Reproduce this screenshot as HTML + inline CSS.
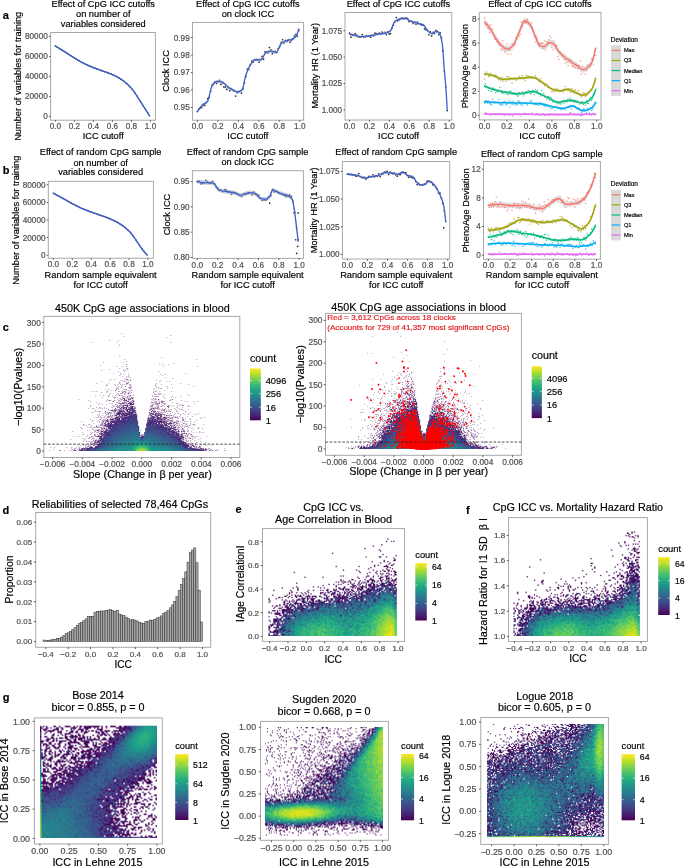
<!DOCTYPE html>
<html><head><meta charset="utf-8"><style>
html,body{margin:0;padding:0;background:#fff;}
body{width:685px;height:867px;overflow:hidden;position:relative;}
canvas{position:absolute;left:0;top:0;}
svg{position:absolute;left:0;top:0;font-family:"Liberation Sans", sans-serif;}
text{stroke:currentColor;stroke-width:0.18px;}
</style></head><body>
<canvas id="cv" width="685" height="867"></canvas>
<svg width="685" height="867" viewBox="0 0 685 867">
<rect x="50.60" y="32.50" width="104.80" height="87.70" fill="none" stroke="#a8a8a8" stroke-width="1"/>
<line x1="55.40" y1="120.20" x2="55.40" y2="121.80" stroke="#333" stroke-width="0.8"/>
<text x="55.40" y="129.41" font-size="8.2" text-anchor="middle" fill="#4d4d4d" color="#4d4d4d">0.0</text>
<line x1="74.42" y1="120.20" x2="74.42" y2="121.80" stroke="#333" stroke-width="0.8"/>
<text x="74.42" y="129.41" font-size="8.2" text-anchor="middle" fill="#4d4d4d" color="#4d4d4d">0.2</text>
<line x1="93.44" y1="120.20" x2="93.44" y2="121.80" stroke="#333" stroke-width="0.8"/>
<text x="93.44" y="129.41" font-size="8.2" text-anchor="middle" fill="#4d4d4d" color="#4d4d4d">0.4</text>
<line x1="112.46" y1="120.20" x2="112.46" y2="121.80" stroke="#333" stroke-width="0.8"/>
<text x="112.46" y="129.41" font-size="8.2" text-anchor="middle" fill="#4d4d4d" color="#4d4d4d">0.6</text>
<line x1="131.48" y1="120.20" x2="131.48" y2="121.80" stroke="#333" stroke-width="0.8"/>
<text x="131.48" y="129.41" font-size="8.2" text-anchor="middle" fill="#4d4d4d" color="#4d4d4d">0.8</text>
<line x1="150.50" y1="120.20" x2="150.50" y2="121.80" stroke="#333" stroke-width="0.8"/>
<text x="150.50" y="129.41" font-size="8.2" text-anchor="middle" fill="#4d4d4d" color="#4d4d4d">1.0</text>
<line x1="49.00" y1="116.40" x2="50.60" y2="116.40" stroke="#333" stroke-width="0.8"/>
<text x="47.80" y="119.31" font-size="8.2" text-anchor="end" fill="#4d4d4d" color="#4d4d4d">0</text>
<line x1="49.00" y1="96.40" x2="50.60" y2="96.40" stroke="#333" stroke-width="0.8"/>
<text x="47.80" y="99.31" font-size="8.2" text-anchor="end" fill="#4d4d4d" color="#4d4d4d">20000</text>
<line x1="49.00" y1="76.40" x2="50.60" y2="76.40" stroke="#333" stroke-width="0.8"/>
<text x="47.80" y="79.31" font-size="8.2" text-anchor="end" fill="#4d4d4d" color="#4d4d4d">40000</text>
<line x1="49.00" y1="56.40" x2="50.60" y2="56.40" stroke="#333" stroke-width="0.8"/>
<text x="47.80" y="59.31" font-size="8.2" text-anchor="end" fill="#4d4d4d" color="#4d4d4d">60000</text>
<line x1="49.00" y1="36.40" x2="50.60" y2="36.40" stroke="#333" stroke-width="0.8"/>
<text x="47.80" y="39.31" font-size="8.2" text-anchor="end" fill="#4d4d4d" color="#4d4d4d">80000</text>
<g fill="#111" fill-opacity="0.9"><circle cx="55.40" cy="46.10" r="0.8"/><circle cx="57.00" cy="47.05" r="0.8"/><circle cx="58.59" cy="48.01" r="0.8"/><circle cx="60.19" cy="48.98" r="0.8"/><circle cx="61.78" cy="49.96" r="0.8"/><circle cx="63.38" cy="50.95" r="0.8"/><circle cx="64.97" cy="51.94" r="0.8"/><circle cx="66.57" cy="52.96" r="0.8"/><circle cx="68.17" cy="53.99" r="0.8"/><circle cx="69.76" cy="55.04" r="0.8"/><circle cx="71.36" cy="56.08" r="0.8"/><circle cx="72.95" cy="57.10" r="0.8"/><circle cx="74.55" cy="58.08" r="0.8"/><circle cx="76.14" cy="59.04" r="0.8"/><circle cx="77.74" cy="59.99" r="0.8"/><circle cx="79.34" cy="60.92" r="0.8"/><circle cx="80.93" cy="61.82" r="0.8"/><circle cx="82.53" cy="62.68" r="0.8"/><circle cx="84.12" cy="63.50" r="0.8"/><circle cx="85.72" cy="64.27" r="0.8"/><circle cx="87.31" cy="65.00" r="0.8"/><circle cx="88.91" cy="65.71" r="0.8"/><circle cx="90.51" cy="66.40" r="0.8"/><circle cx="92.10" cy="67.06" r="0.8"/><circle cx="93.70" cy="67.70" r="0.8"/><circle cx="95.29" cy="68.32" r="0.8"/><circle cx="96.89" cy="68.92" r="0.8"/><circle cx="98.49" cy="69.49" r="0.8"/><circle cx="100.08" cy="70.06" r="0.8"/><circle cx="101.68" cy="70.64" r="0.8"/><circle cx="103.27" cy="71.22" r="0.8"/><circle cx="104.87" cy="71.78" r="0.8"/><circle cx="106.46" cy="72.33" r="0.8"/><circle cx="108.06" cy="72.88" r="0.8"/><circle cx="109.66" cy="73.46" r="0.8"/><circle cx="111.25" cy="74.09" r="0.8"/><circle cx="112.85" cy="74.77" r="0.8"/><circle cx="114.44" cy="75.52" r="0.8"/><circle cx="116.04" cy="76.33" r="0.8"/><circle cx="117.63" cy="77.20" r="0.8"/><circle cx="119.23" cy="78.13" r="0.8"/><circle cx="120.83" cy="79.13" r="0.8"/><circle cx="122.42" cy="80.21" r="0.8"/><circle cx="124.02" cy="81.39" r="0.8"/><circle cx="125.61" cy="82.69" r="0.8"/><circle cx="127.21" cy="84.09" r="0.8"/><circle cx="128.80" cy="85.60" r="0.8"/><circle cx="130.40" cy="87.23" r="0.8"/><circle cx="132.00" cy="88.99" r="0.8"/><circle cx="133.59" cy="91.07" r="0.8"/><circle cx="135.19" cy="93.36" r="0.8"/><circle cx="136.78" cy="95.72" r="0.8"/><circle cx="138.38" cy="98.21" r="0.8"/><circle cx="139.97" cy="100.78" r="0.8"/><circle cx="141.57" cy="103.32" r="0.8"/><circle cx="143.17" cy="105.85" r="0.8"/><circle cx="144.76" cy="108.37" r="0.8"/><circle cx="146.36" cy="110.85" r="0.8"/><circle cx="147.95" cy="113.29" r="0.8"/><circle cx="149.55" cy="115.70" r="0.8"/></g>
<polyline points="55.40,46.10 56.19,46.57 56.98,47.04 57.77,47.52 58.56,48.00 59.36,48.48 60.15,48.96 60.94,49.44 61.73,49.93 62.52,50.42 63.31,50.90 64.10,51.40 64.89,51.89 65.69,52.39 66.48,52.90 67.27,53.41 68.06,53.92 68.85,54.44 69.64,54.96 70.43,55.48 71.22,55.99 72.01,56.50 72.81,57.00 73.60,57.50 74.39,57.98 75.18,58.46 75.97,58.93 76.76,59.41 77.55,59.88 78.34,60.34 79.14,60.80 79.93,61.26 80.72,61.70 81.51,62.14 82.30,62.56 83.09,62.98 83.88,63.38 84.67,63.77 85.46,64.15 86.26,64.52 87.05,64.88 87.84,65.24 88.63,65.59 89.42,65.93 90.21,66.27 91.00,66.60 91.79,66.93 92.58,67.25 93.38,67.57 94.17,67.89 94.96,68.19 95.75,68.49 96.54,68.79 97.33,69.08 98.12,69.36 98.91,69.65 99.71,69.93 100.50,70.21 101.29,70.50 102.08,70.78 102.87,71.07 103.66,71.36 104.45,71.64 105.24,71.91 106.03,72.18 106.83,72.46 107.62,72.73 108.41,73.01 109.20,73.29 109.99,73.59 110.78,73.90 111.57,74.22 112.36,74.56 113.16,74.91 113.95,75.28 114.74,75.67 115.53,76.06 116.32,76.48 117.11,76.90 117.90,77.35 118.69,77.81 119.48,78.28 120.28,78.78 121.07,79.29 121.86,79.82 122.65,80.38 123.44,80.96 124.23,81.56 125.02,82.20 125.81,82.86 126.61,83.54 127.40,84.26 128.19,85.00 128.98,85.77 129.77,86.57 130.56,87.40 131.35,88.26 132.14,89.17 132.93,90.18 133.73,91.25 134.52,92.38 135.31,93.54 136.10,94.70 136.89,95.88 137.68,97.10 138.47,98.36 139.26,99.63 140.05,100.91 140.85,102.17 141.64,103.42 142.43,104.68 143.22,105.93 144.01,107.18 144.80,108.43 145.59,109.66 146.38,110.89 147.18,112.10 147.97,113.31 148.76,114.51 149.55,115.70" fill="none" stroke="#3d5fd0" stroke-width="1.4" stroke-linejoin="round" stroke-linecap="round"/>
<text x="103.25" y="6.60" font-size="9.25" text-anchor="middle" fill="#000" color="#000">Effect of CpG ICC cutoffs</text>
<text x="103.25" y="16.80" font-size="9.25" text-anchor="middle" fill="#000" color="#000">on number of</text>
<text x="103.25" y="26.60" font-size="9.25" text-anchor="middle" fill="#000" color="#000">variables considered</text>
<text x="103.25" y="139.20" font-size="9.25" text-anchor="middle" fill="#000" color="#000">ICC cutoff</text>
<text x="21.50" y="76.30" font-size="9.25" text-anchor="middle" fill="#000" color="#000" transform="rotate(-90 21.50 76.30)">Number of variables for training</text>
<rect x="192.50" y="22.40" width="111.10" height="97.80" fill="none" stroke="#a8a8a8" stroke-width="1"/>
<line x1="197.40" y1="120.20" x2="197.40" y2="121.80" stroke="#333" stroke-width="0.8"/>
<text x="197.40" y="129.41" font-size="8.2" text-anchor="middle" fill="#4d4d4d" color="#4d4d4d">0.0</text>
<line x1="217.88" y1="120.20" x2="217.88" y2="121.80" stroke="#333" stroke-width="0.8"/>
<text x="217.88" y="129.41" font-size="8.2" text-anchor="middle" fill="#4d4d4d" color="#4d4d4d">0.2</text>
<line x1="238.36" y1="120.20" x2="238.36" y2="121.80" stroke="#333" stroke-width="0.8"/>
<text x="238.36" y="129.41" font-size="8.2" text-anchor="middle" fill="#4d4d4d" color="#4d4d4d">0.4</text>
<line x1="258.84" y1="120.20" x2="258.84" y2="121.80" stroke="#333" stroke-width="0.8"/>
<text x="258.84" y="129.41" font-size="8.2" text-anchor="middle" fill="#4d4d4d" color="#4d4d4d">0.6</text>
<line x1="279.32" y1="120.20" x2="279.32" y2="121.80" stroke="#333" stroke-width="0.8"/>
<text x="279.32" y="129.41" font-size="8.2" text-anchor="middle" fill="#4d4d4d" color="#4d4d4d">0.8</text>
<line x1="299.80" y1="120.20" x2="299.80" y2="121.80" stroke="#333" stroke-width="0.8"/>
<text x="299.80" y="129.41" font-size="8.2" text-anchor="middle" fill="#4d4d4d" color="#4d4d4d">1.0</text>
<line x1="190.90" y1="107.50" x2="192.50" y2="107.50" stroke="#333" stroke-width="0.8"/>
<text x="189.70" y="110.41" font-size="8.2" text-anchor="end" fill="#4d4d4d" color="#4d4d4d">0.95</text>
<line x1="190.90" y1="90.03" x2="192.50" y2="90.03" stroke="#333" stroke-width="0.8"/>
<text x="189.70" y="92.94" font-size="8.2" text-anchor="end" fill="#4d4d4d" color="#4d4d4d">0.96</text>
<line x1="190.90" y1="72.55" x2="192.50" y2="72.55" stroke="#333" stroke-width="0.8"/>
<text x="189.70" y="75.46" font-size="8.2" text-anchor="end" fill="#4d4d4d" color="#4d4d4d">0.97</text>
<line x1="190.90" y1="55.07" x2="192.50" y2="55.07" stroke="#333" stroke-width="0.8"/>
<text x="189.70" y="57.99" font-size="8.2" text-anchor="end" fill="#4d4d4d" color="#4d4d4d">0.98</text>
<line x1="190.90" y1="37.60" x2="192.50" y2="37.60" stroke="#333" stroke-width="0.8"/>
<text x="189.70" y="40.51" font-size="8.2" text-anchor="end" fill="#4d4d4d" color="#4d4d4d">0.99</text>
<g fill="#111" fill-opacity="0.9"><circle cx="197.40" cy="111.52" r="0.85"/><circle cx="198.87" cy="108.80" r="0.85"/><circle cx="200.34" cy="107.97" r="0.85"/><circle cx="201.81" cy="107.47" r="0.85"/><circle cx="203.28" cy="105.30" r="0.85"/><circle cx="204.75" cy="105.44" r="0.85"/><circle cx="206.22" cy="102.49" r="0.85"/><circle cx="207.68" cy="98.57" r="0.85"/><circle cx="209.15" cy="97.48" r="0.85"/><circle cx="210.62" cy="91.21" r="0.85"/><circle cx="212.09" cy="85.19" r="0.85"/><circle cx="213.56" cy="83.27" r="0.85"/><circle cx="215.03" cy="82.10" r="0.85"/><circle cx="216.50" cy="83.29" r="0.85"/><circle cx="217.97" cy="81.55" r="0.85"/><circle cx="219.44" cy="80.27" r="0.85"/><circle cx="220.91" cy="84.39" r="0.85"/><circle cx="222.38" cy="82.99" r="0.85"/><circle cx="223.85" cy="86.83" r="0.85"/><circle cx="225.32" cy="87.12" r="0.85"/><circle cx="226.78" cy="89.42" r="0.85"/><circle cx="228.25" cy="87.55" r="0.85"/><circle cx="229.72" cy="90.68" r="0.85"/><circle cx="231.19" cy="88.63" r="0.85"/><circle cx="232.66" cy="89.60" r="0.85"/><circle cx="234.13" cy="90.98" r="0.85"/><circle cx="235.60" cy="96.07" r="0.85"/><circle cx="237.07" cy="92.68" r="0.85"/><circle cx="238.54" cy="91.86" r="0.85"/><circle cx="240.01" cy="91.08" r="0.85"/><circle cx="241.48" cy="93.12" r="0.85"/><circle cx="242.95" cy="88.97" r="0.85"/><circle cx="244.41" cy="82.88" r="0.85"/><circle cx="245.88" cy="76.57" r="0.85"/><circle cx="247.35" cy="69.07" r="0.85"/><circle cx="248.82" cy="69.33" r="0.85"/><circle cx="250.29" cy="65.08" r="0.85"/><circle cx="251.76" cy="61.12" r="0.85"/><circle cx="253.23" cy="61.95" r="0.85"/><circle cx="254.70" cy="60.01" r="0.85"/><circle cx="256.17" cy="59.58" r="0.85"/><circle cx="257.64" cy="59.67" r="0.85"/><circle cx="259.11" cy="62.15" r="0.85"/><circle cx="260.58" cy="59.65" r="0.85"/><circle cx="262.05" cy="56.31" r="0.85"/><circle cx="263.51" cy="59.22" r="0.85"/><circle cx="264.98" cy="51.83" r="0.85"/><circle cx="266.45" cy="52.05" r="0.85"/><circle cx="267.92" cy="52.99" r="0.85"/><circle cx="269.39" cy="47.55" r="0.85"/><circle cx="270.86" cy="49.77" r="0.85"/><circle cx="272.33" cy="53.71" r="0.85"/><circle cx="273.80" cy="51.74" r="0.85"/><circle cx="275.27" cy="51.23" r="0.85"/><circle cx="276.74" cy="52.62" r="0.85"/><circle cx="278.21" cy="48.54" r="0.85"/><circle cx="279.68" cy="46.42" r="0.85"/><circle cx="281.15" cy="42.30" r="0.85"/><circle cx="282.61" cy="39.73" r="0.85"/><circle cx="284.08" cy="43.00" r="0.85"/><circle cx="285.55" cy="40.70" r="0.85"/><circle cx="287.02" cy="41.46" r="0.85"/><circle cx="288.49" cy="39.95" r="0.85"/><circle cx="289.96" cy="42.14" r="0.85"/><circle cx="291.43" cy="40.53" r="0.85"/><circle cx="292.90" cy="39.17" r="0.85"/><circle cx="294.37" cy="36.18" r="0.85"/><circle cx="295.84" cy="34.37" r="0.85"/><circle cx="297.31" cy="36.05" r="0.85"/><circle cx="298.78" cy="30.39" r="0.85"/></g>
<polygon points="197.40,109.95 198.25,108.68 199.10,107.48 199.96,106.35 200.81,105.30 201.66,104.35 202.51,103.49 203.36,102.80 204.22,102.26 205.07,101.78 205.92,101.25 206.77,100.58 207.62,99.66 208.47,97.62 209.33,94.21 210.18,90.33 211.03,86.93 211.88,84.90 212.73,83.56 213.59,82.35 214.44,81.32 215.29,80.52 216.14,80.03 216.99,79.89 217.85,79.91 218.70,79.96 219.55,80.05 220.40,80.15 221.25,80.29 222.11,80.44 222.96,80.86 223.81,81.56 224.66,82.41 225.51,83.25 226.36,83.97 227.22,84.66 228.07,85.37 228.92,86.06 229.77,86.71 230.62,87.27 231.48,87.72 232.33,88.16 233.18,88.59 234.03,89.01 234.88,89.38 235.74,89.71 236.59,89.96 237.44,90.13 238.29,90.20 239.14,90.09 239.99,89.73 240.85,89.16 241.70,88.39 242.55,87.45 243.40,84.69 244.25,80.29 245.11,76.01 245.96,73.23 246.81,70.91 247.66,68.79 248.51,66.86 249.37,65.12 250.22,63.57 251.07,62.21 251.92,61.03 252.77,59.84 253.63,58.82 254.48,58.26 255.33,58.22 256.18,58.22 257.03,58.22 257.88,58.22 258.74,58.22 259.59,58.22 260.44,58.22 261.29,58.10 262.14,57.21 263.00,55.72 263.85,53.99 264.70,52.37 265.55,51.20 266.40,50.72 267.26,50.41 268.11,50.13 268.96,49.91 269.81,49.76 270.66,49.67 271.52,49.68 272.37,49.84 273.22,50.10 274.07,50.41 274.92,50.68 275.77,50.85 276.63,50.76 277.48,49.74 278.33,47.99 279.18,45.92 280.03,43.90 280.89,42.33 281.74,41.51 282.59,40.93 283.44,40.45 284.29,40.03 285.15,39.67 286.00,39.35 286.85,39.05 287.70,38.81 288.55,38.61 289.41,38.41 290.26,38.21 291.11,37.95 291.96,37.63 292.81,37.26 293.66,36.80 294.52,36.22 295.37,35.49 296.22,34.43 297.07,32.56 297.92,30.09 298.78,27.29 298.78,30.44 297.92,33.24 297.07,35.71 296.22,37.57 295.37,38.64 294.52,39.37 293.66,39.95 292.81,40.40 291.96,40.78 291.11,41.10 290.26,41.35 289.41,41.56 288.55,41.75 287.70,41.95 286.85,42.20 286.00,42.49 285.15,42.82 284.29,43.18 283.44,43.59 282.59,44.08 281.74,44.66 280.89,45.48 280.03,47.05 279.18,49.06 278.33,51.14 277.48,52.88 276.63,53.91 275.77,54.00 274.92,53.82 274.07,53.55 273.22,53.25 272.37,52.98 271.52,52.82 270.66,52.82 269.81,52.90 268.96,53.06 268.11,53.28 267.26,53.55 266.40,53.87 265.55,54.35 264.70,55.52 263.85,57.14 263.00,58.87 262.14,60.35 261.29,61.25 260.44,61.37 259.59,61.37 258.74,61.37 257.88,61.37 257.03,61.37 256.18,61.37 255.33,61.37 254.48,61.40 253.63,61.97 252.77,62.98 251.92,64.17 251.07,65.36 250.22,66.72 249.37,68.27 248.51,70.00 247.66,71.93 246.81,74.05 245.96,76.37 245.11,79.16 244.25,83.44 243.40,87.83 242.55,90.59 241.70,91.54 240.85,92.30 239.99,92.88 239.14,93.23 238.29,93.34 237.44,93.28 236.59,93.11 235.74,92.85 234.88,92.53 234.03,92.15 233.18,91.74 232.33,91.30 231.48,90.87 230.62,90.41 229.77,89.85 228.92,89.21 228.07,88.52 227.22,87.81 226.36,87.11 225.51,86.40 224.66,85.55 223.81,84.71 222.96,84.01 222.11,83.59 221.25,83.43 220.40,83.30 219.55,83.19 218.70,83.11 217.85,83.06 216.99,83.04 216.14,83.17 215.29,83.67 214.44,84.46 213.59,85.49 212.73,86.71 211.88,88.04 211.03,90.08 210.18,93.48 209.33,97.35 208.47,100.77 207.62,102.80 206.77,103.72 205.92,104.39 205.07,104.92 204.22,105.40 203.36,105.94 202.51,106.63 201.66,107.49 200.81,108.45 199.96,109.50 199.10,110.62 198.25,111.83 197.40,113.09" fill="#a9afc6" fill-opacity="0.55"/>
<polyline points="197.40,111.52 198.25,110.25 199.10,109.05 199.96,107.92 200.81,106.87 201.66,105.92 202.51,105.06 203.36,104.37 204.22,103.83 205.07,103.35 205.92,102.82 206.77,102.15 207.62,101.23 208.47,99.20 209.33,95.78 210.18,91.91 211.03,88.50 211.88,86.47 212.73,85.14 213.59,83.92 214.44,82.89 215.29,82.09 216.14,81.60 216.99,81.46 217.85,81.48 218.70,81.54 219.55,81.62 220.40,81.73 221.25,81.86 222.11,82.02 222.96,82.43 223.81,83.14 224.66,83.98 225.51,84.82 226.36,85.54 227.22,86.24 228.07,86.95 228.92,87.64 229.77,88.28 230.62,88.84 231.48,89.29 232.33,89.73 233.18,90.16 234.03,90.58 234.88,90.96 235.74,91.28 236.59,91.54 237.44,91.71 238.29,91.77 239.14,91.66 239.99,91.31 240.85,90.73 241.70,89.97 242.55,89.02 243.40,86.26 244.25,81.87 245.11,77.59 245.96,74.80 246.81,72.48 247.66,70.36 248.51,68.43 249.37,66.69 250.22,65.15 251.07,63.79 251.92,62.60 252.77,61.41 253.63,60.40 254.48,59.83 255.33,59.79 256.18,59.79 257.03,59.79 257.88,59.79 258.74,59.79 259.59,59.79 260.44,59.79 261.29,59.68 262.14,58.78 263.00,57.29 263.85,55.57 264.70,53.94 265.55,52.77 266.40,52.29 267.26,51.98 268.11,51.71 268.96,51.49 269.81,51.33 270.66,51.24 271.52,51.25 272.37,51.41 273.22,51.68 274.07,51.98 274.92,52.25 275.77,52.42 276.63,52.33 277.48,51.31 278.33,49.57 279.18,47.49 280.03,45.48 280.89,43.91 281.74,43.08 282.59,42.51 283.44,42.02 284.29,41.61 285.15,41.25 286.00,40.92 286.85,40.62 287.70,40.38 288.55,40.18 289.41,39.99 290.26,39.78 291.11,39.53 291.96,39.21 292.81,38.83 293.66,38.37 294.52,37.80 295.37,37.06 296.22,36.00 297.07,34.14 297.92,31.67 298.78,28.86" fill="none" stroke="#3d5fd0" stroke-width="1.3" stroke-linejoin="round" stroke-linecap="round"/>
<text x="247.85" y="6.90" font-size="9.25" text-anchor="middle" fill="#000" color="#000">Effect of CpG ICC cutoffs</text>
<text x="247.85" y="16.60" font-size="9.25" text-anchor="middle" fill="#000" color="#000">on clock ICC</text>
<text x="247.85" y="139.20" font-size="9.25" text-anchor="middle" fill="#000" color="#000">ICC cutoff</text>
<text x="169.50" y="70.90" font-size="9.25" text-anchor="middle" fill="#000" color="#000" transform="rotate(-90 169.50 70.90)">Clock ICC</text>
<rect x="345.00" y="12.50" width="106.80" height="107.50" fill="none" stroke="#a8a8a8" stroke-width="1"/>
<line x1="349.50" y1="120.00" x2="349.50" y2="121.60" stroke="#333" stroke-width="0.8"/>
<text x="349.50" y="129.21" font-size="8.2" text-anchor="middle" fill="#4d4d4d" color="#4d4d4d">0.0</text>
<line x1="369.44" y1="120.00" x2="369.44" y2="121.60" stroke="#333" stroke-width="0.8"/>
<text x="369.44" y="129.21" font-size="8.2" text-anchor="middle" fill="#4d4d4d" color="#4d4d4d">0.2</text>
<line x1="389.38" y1="120.00" x2="389.38" y2="121.60" stroke="#333" stroke-width="0.8"/>
<text x="389.38" y="129.21" font-size="8.2" text-anchor="middle" fill="#4d4d4d" color="#4d4d4d">0.4</text>
<line x1="409.32" y1="120.00" x2="409.32" y2="121.60" stroke="#333" stroke-width="0.8"/>
<text x="409.32" y="129.21" font-size="8.2" text-anchor="middle" fill="#4d4d4d" color="#4d4d4d">0.6</text>
<line x1="429.26" y1="120.00" x2="429.26" y2="121.60" stroke="#333" stroke-width="0.8"/>
<text x="429.26" y="129.21" font-size="8.2" text-anchor="middle" fill="#4d4d4d" color="#4d4d4d">0.8</text>
<line x1="449.20" y1="120.00" x2="449.20" y2="121.60" stroke="#333" stroke-width="0.8"/>
<text x="449.20" y="129.21" font-size="8.2" text-anchor="middle" fill="#4d4d4d" color="#4d4d4d">1.0</text>
<line x1="343.40" y1="110.00" x2="345.00" y2="110.00" stroke="#333" stroke-width="0.8"/>
<text x="342.20" y="112.91" font-size="8.2" text-anchor="end" fill="#4d4d4d" color="#4d4d4d">1.000</text>
<line x1="343.40" y1="83.57" x2="345.00" y2="83.57" stroke="#333" stroke-width="0.8"/>
<text x="342.20" y="86.48" font-size="8.2" text-anchor="end" fill="#4d4d4d" color="#4d4d4d">1.025</text>
<line x1="343.40" y1="57.13" x2="345.00" y2="57.13" stroke="#333" stroke-width="0.8"/>
<text x="342.20" y="60.04" font-size="8.2" text-anchor="end" fill="#4d4d4d" color="#4d4d4d">1.050</text>
<line x1="343.40" y1="30.70" x2="345.00" y2="30.70" stroke="#333" stroke-width="0.8"/>
<text x="342.20" y="33.61" font-size="8.2" text-anchor="end" fill="#4d4d4d" color="#4d4d4d">1.075</text>
<g fill="#111" fill-opacity="0.9"><circle cx="349.50" cy="33.19" r="0.85"/><circle cx="350.92" cy="37.13" r="0.85"/><circle cx="352.33" cy="35.35" r="0.85"/><circle cx="353.75" cy="35.18" r="0.85"/><circle cx="355.16" cy="33.65" r="0.85"/><circle cx="356.58" cy="34.83" r="0.85"/><circle cx="358.00" cy="36.70" r="0.85"/><circle cx="359.41" cy="37.13" r="0.85"/><circle cx="360.83" cy="37.07" r="0.85"/><circle cx="362.24" cy="34.58" r="0.85"/><circle cx="363.66" cy="37.15" r="0.85"/><circle cx="365.08" cy="36.83" r="0.85"/><circle cx="366.49" cy="35.75" r="0.85"/><circle cx="367.91" cy="36.22" r="0.85"/><circle cx="369.32" cy="36.14" r="0.85"/><circle cx="370.74" cy="37.16" r="0.85"/><circle cx="372.16" cy="35.38" r="0.85"/><circle cx="373.57" cy="35.68" r="0.85"/><circle cx="374.99" cy="33.16" r="0.85"/><circle cx="376.40" cy="33.57" r="0.85"/><circle cx="377.82" cy="34.22" r="0.85"/><circle cx="379.24" cy="33.03" r="0.85"/><circle cx="380.65" cy="34.22" r="0.85"/><circle cx="382.07" cy="32.13" r="0.85"/><circle cx="383.48" cy="33.38" r="0.85"/><circle cx="384.90" cy="32.34" r="0.85"/><circle cx="386.32" cy="34.61" r="0.85"/><circle cx="387.73" cy="31.92" r="0.85"/><circle cx="389.15" cy="34.06" r="0.85"/><circle cx="390.56" cy="33.53" r="0.85"/><circle cx="391.98" cy="28.19" r="0.85"/><circle cx="393.40" cy="25.18" r="0.85"/><circle cx="394.81" cy="21.58" r="0.85"/><circle cx="396.23" cy="17.52" r="0.85"/><circle cx="397.64" cy="20.84" r="0.85"/><circle cx="399.06" cy="20.00" r="0.85"/><circle cx="400.48" cy="18.56" r="0.85"/><circle cx="401.89" cy="17.93" r="0.85"/><circle cx="403.31" cy="18.67" r="0.85"/><circle cx="404.73" cy="18.62" r="0.85"/><circle cx="406.14" cy="17.50" r="0.85"/><circle cx="407.56" cy="18.50" r="0.85"/><circle cx="408.97" cy="21.62" r="0.85"/><circle cx="410.39" cy="21.11" r="0.85"/><circle cx="411.81" cy="21.51" r="0.85"/><circle cx="413.22" cy="23.51" r="0.85"/><circle cx="414.64" cy="22.17" r="0.85"/><circle cx="416.05" cy="24.14" r="0.85"/><circle cx="417.47" cy="22.04" r="0.85"/><circle cx="418.89" cy="23.51" r="0.85"/><circle cx="420.30" cy="23.94" r="0.85"/><circle cx="421.72" cy="25.18" r="0.85"/><circle cx="423.13" cy="24.99" r="0.85"/><circle cx="424.55" cy="28.81" r="0.85"/><circle cx="425.97" cy="29.85" r="0.85"/><circle cx="427.38" cy="30.01" r="0.85"/><circle cx="428.80" cy="34.77" r="0.85"/><circle cx="430.21" cy="31.68" r="0.85"/><circle cx="431.63" cy="35.88" r="0.85"/><circle cx="433.05" cy="32.30" r="0.85"/><circle cx="434.46" cy="33.49" r="0.85"/><circle cx="435.88" cy="30.42" r="0.85"/><circle cx="437.29" cy="31.46" r="0.85"/><circle cx="438.71" cy="34.53" r="0.85"/><circle cx="440.13" cy="32.65" r="0.85"/><circle cx="441.54" cy="37.78" r="0.85"/><circle cx="442.96" cy="50.89" r="0.85"/><circle cx="444.37" cy="71.05" r="0.85"/><circle cx="445.79" cy="87.01" r="0.85"/><circle cx="447.21" cy="110.60" r="0.85"/></g>
<polygon points="349.50,32.71 350.32,32.89 351.14,33.07 351.96,33.26 352.78,33.44 353.61,33.64 354.43,33.83 355.25,34.03 356.07,34.24 356.89,34.51 357.71,34.78 358.53,35.04 359.35,35.24 360.17,35.34 360.99,35.35 361.82,35.32 362.64,35.27 363.46,35.20 364.28,35.12 365.10,35.03 365.92,34.93 366.74,34.83 367.56,34.72 368.38,34.62 369.21,34.51 370.03,34.38 370.85,34.24 371.67,34.08 372.49,33.92 373.31,33.75 374.13,33.57 374.95,33.40 375.77,33.22 376.59,33.05 377.42,32.89 378.24,32.74 379.06,32.60 379.88,32.48 380.70,32.37 381.52,32.27 382.34,32.16 383.16,32.05 383.98,31.93 384.81,31.78 385.63,31.62 386.45,31.43 387.27,31.19 388.09,30.88 388.91,30.49 389.73,30.00 390.55,29.37 391.37,27.93 392.20,25.81 393.02,23.53 393.84,21.63 394.66,20.58 395.48,19.83 396.30,19.17 397.12,18.62 397.94,18.18 398.76,17.85 399.58,17.65 400.41,17.48 401.23,17.34 402.05,17.21 402.87,17.10 403.69,17.02 404.51,16.97 405.33,16.95 406.15,17.10 406.97,17.48 407.80,18.00 408.62,18.58 409.44,19.13 410.26,19.57 411.08,19.91 411.90,20.22 412.72,20.52 413.54,20.80 414.36,21.07 415.18,21.33 416.01,21.58 416.83,21.82 417.65,22.06 418.47,22.29 419.29,22.49 420.11,22.65 420.93,22.82 421.75,23.01 422.57,23.24 423.40,23.57 424.22,24.28 425.04,25.40 425.86,26.74 426.68,28.10 427.50,29.29 428.32,30.11 429.14,30.73 429.96,31.31 430.78,31.79 431.61,32.10 432.43,32.17 433.25,31.85 434.07,31.26 434.89,30.63 435.71,30.17 436.53,30.08 437.35,30.28 438.17,30.69 439.00,31.25 439.82,32.28 440.64,34.57 441.46,37.99 442.28,42.38 443.10,51.39 443.92,63.50 444.74,73.51 445.56,82.69 446.38,93.58 447.21,107.89 447.21,110.63 446.38,96.33 445.56,85.44 444.74,76.26 443.92,66.25 443.10,54.14 442.28,45.12 441.46,40.74 440.64,37.31 439.82,35.03 439.00,34.00 438.17,33.44 437.35,33.03 436.53,32.83 435.71,32.92 434.89,33.38 434.07,34.01 433.25,34.60 432.43,34.92 431.61,34.85 430.78,34.54 429.96,34.06 429.14,33.48 428.32,32.86 427.50,32.04 426.68,30.85 425.86,29.49 425.04,28.15 424.22,27.03 423.40,26.32 422.57,25.99 421.75,25.75 420.93,25.57 420.11,25.40 419.29,25.24 418.47,25.04 417.65,24.81 416.83,24.57 416.01,24.33 415.18,24.08 414.36,23.82 413.54,23.55 412.72,23.27 411.90,22.97 411.08,22.66 410.26,22.32 409.44,21.88 408.62,21.33 407.80,20.75 406.97,20.22 406.15,19.85 405.33,19.70 404.51,19.72 403.69,19.77 402.87,19.85 402.05,19.96 401.23,20.08 400.41,20.23 399.58,20.39 398.76,20.60 397.94,20.93 397.12,21.37 396.30,21.92 395.48,22.58 394.66,23.33 393.84,24.38 393.02,26.28 392.20,28.56 391.37,30.68 390.55,32.12 389.73,32.75 388.91,33.24 388.09,33.63 387.27,33.94 386.45,34.17 385.63,34.37 384.81,34.53 383.98,34.67 383.16,34.80 382.34,34.91 381.52,35.02 380.70,35.12 379.88,35.23 379.06,35.35 378.24,35.49 377.42,35.64 376.59,35.80 375.77,35.97 374.95,36.15 374.13,36.32 373.31,36.50 372.49,36.67 371.67,36.83 370.85,36.99 370.03,37.13 369.21,37.26 368.38,37.37 367.56,37.47 366.74,37.58 365.92,37.68 365.10,37.78 364.28,37.87 363.46,37.95 362.64,38.02 361.82,38.07 360.99,38.10 360.17,38.09 359.35,37.99 358.53,37.79 357.71,37.53 356.89,37.25 356.07,36.99 355.25,36.78 354.43,36.58 353.61,36.39 352.78,36.19 351.96,36.01 351.14,35.82 350.32,35.64 349.50,35.46" fill="#a9afc6" fill-opacity="0.55"/>
<polyline points="349.50,34.08 350.32,34.26 351.14,34.45 351.96,34.63 352.78,34.82 353.61,35.01 354.43,35.20 355.25,35.40 356.07,35.62 356.89,35.88 357.71,36.16 358.53,36.41 359.35,36.61 360.17,36.72 360.99,36.72 361.82,36.69 362.64,36.65 363.46,36.58 364.28,36.50 365.10,36.41 365.92,36.31 366.74,36.20 367.56,36.10 368.38,35.99 369.21,35.88 370.03,35.76 370.85,35.61 371.67,35.46 372.49,35.29 373.31,35.12 374.13,34.95 374.95,34.77 375.77,34.60 376.59,34.43 377.42,34.27 378.24,34.11 379.06,33.98 379.88,33.86 380.70,33.75 381.52,33.64 382.34,33.54 383.16,33.42 383.98,33.30 384.81,33.16 385.63,32.99 386.45,32.80 387.27,32.56 388.09,32.26 388.91,31.87 389.73,31.38 390.55,30.74 391.37,29.31 392.20,27.18 393.02,24.90 393.84,23.01 394.66,21.95 395.48,21.20 396.30,20.55 397.12,19.99 397.94,19.55 398.76,19.23 399.58,19.02 400.41,18.86 401.23,18.71 402.05,18.58 402.87,18.48 403.69,18.40 404.51,18.35 405.33,18.33 406.15,18.47 406.97,18.85 407.80,19.37 408.62,19.95 409.44,20.51 410.26,20.95 411.08,21.28 411.90,21.59 412.72,21.89 413.54,22.17 414.36,22.44 415.18,22.70 416.01,22.95 416.83,23.19 417.65,23.43 418.47,23.66 419.29,23.86 420.11,24.03 420.93,24.19 421.75,24.38 422.57,24.62 423.40,24.94 424.22,25.65 425.04,26.77 425.86,28.11 426.68,29.47 427.50,30.66 428.32,31.48 429.14,32.10 429.96,32.68 430.78,33.16 431.61,33.47 432.43,33.54 433.25,33.22 434.07,32.64 434.89,32.00 435.71,31.54 436.53,31.46 437.35,31.66 438.17,32.06 439.00,32.63 439.82,33.65 440.64,35.94 441.46,39.36 442.28,43.75 443.10,52.77 443.92,64.88 444.74,74.88 445.56,84.07 446.38,94.96 447.21,109.26" fill="none" stroke="#3d5fd0" stroke-width="1.3" stroke-linejoin="round" stroke-linecap="round"/>
<text x="398.40" y="6.80" font-size="9.25" text-anchor="middle" fill="#000" color="#000">Effect of CpG ICC cutoffs</text>
<text x="398.55" y="139.20" font-size="9.25" text-anchor="middle" fill="#000" color="#000">ICC cutoff</text>
<text x="318.30" y="65.90" font-size="9.25" text-anchor="middle" fill="#000" color="#000" transform="rotate(-90 318.30 65.90)">Mortality HR (1 Year)</text>
<rect x="479.30" y="12.40" width="121.70" height="107.50" fill="none" stroke="#a8a8a8" stroke-width="1"/>
<line x1="484.50" y1="119.90" x2="484.50" y2="121.50" stroke="#333" stroke-width="0.8"/>
<text x="484.50" y="129.11" font-size="8.2" text-anchor="middle" fill="#4d4d4d" color="#4d4d4d">0.0</text>
<line x1="506.96" y1="119.90" x2="506.96" y2="121.50" stroke="#333" stroke-width="0.8"/>
<text x="506.96" y="129.11" font-size="8.2" text-anchor="middle" fill="#4d4d4d" color="#4d4d4d">0.2</text>
<line x1="529.42" y1="119.90" x2="529.42" y2="121.50" stroke="#333" stroke-width="0.8"/>
<text x="529.42" y="129.11" font-size="8.2" text-anchor="middle" fill="#4d4d4d" color="#4d4d4d">0.4</text>
<line x1="551.88" y1="119.90" x2="551.88" y2="121.50" stroke="#333" stroke-width="0.8"/>
<text x="551.88" y="129.11" font-size="8.2" text-anchor="middle" fill="#4d4d4d" color="#4d4d4d">0.6</text>
<line x1="574.34" y1="119.90" x2="574.34" y2="121.50" stroke="#333" stroke-width="0.8"/>
<text x="574.34" y="129.11" font-size="8.2" text-anchor="middle" fill="#4d4d4d" color="#4d4d4d">0.8</text>
<line x1="596.80" y1="119.90" x2="596.80" y2="121.50" stroke="#333" stroke-width="0.8"/>
<text x="596.80" y="129.11" font-size="8.2" text-anchor="middle" fill="#4d4d4d" color="#4d4d4d">1.0</text>
<line x1="477.70" y1="115.40" x2="479.30" y2="115.40" stroke="#333" stroke-width="0.8"/>
<text x="476.50" y="118.31" font-size="8.2" text-anchor="end" fill="#4d4d4d" color="#4d4d4d">0</text>
<line x1="477.70" y1="91.28" x2="479.30" y2="91.28" stroke="#333" stroke-width="0.8"/>
<text x="476.50" y="94.19" font-size="8.2" text-anchor="end" fill="#4d4d4d" color="#4d4d4d">2</text>
<line x1="477.70" y1="67.15" x2="479.30" y2="67.15" stroke="#333" stroke-width="0.8"/>
<text x="476.50" y="70.06" font-size="8.2" text-anchor="end" fill="#4d4d4d" color="#4d4d4d">4</text>
<line x1="477.70" y1="43.03" x2="479.30" y2="43.03" stroke="#333" stroke-width="0.8"/>
<text x="476.50" y="45.94" font-size="8.2" text-anchor="end" fill="#4d4d4d" color="#4d4d4d">6</text>
<line x1="477.70" y1="18.90" x2="479.30" y2="18.90" stroke="#333" stroke-width="0.8"/>
<text x="476.50" y="21.81" font-size="8.2" text-anchor="end" fill="#4d4d4d" color="#4d4d4d">8</text>
<polygon points="484.50,18.90 485.52,19.86 486.54,20.93 487.56,22.10 488.58,23.37 489.60,24.71 490.62,26.15 491.64,27.84 492.66,29.69 493.68,31.58 494.70,33.41 495.72,35.05 496.74,36.55 497.76,38.03 498.78,39.44 499.80,40.71 500.82,41.82 501.84,42.73 502.86,43.64 503.88,44.50 504.90,45.23 505.92,45.73 506.94,45.92 507.96,45.79 508.98,45.43 510.00,44.87 511.02,44.16 512.04,43.35 513.06,42.40 514.08,40.79 515.10,38.66 516.12,36.25 517.14,33.78 518.16,31.51 519.18,29.17 520.20,26.49 521.22,23.73 522.24,21.20 523.26,19.17 524.28,17.94 525.30,17.72 526.32,18.07 527.34,18.72 528.36,19.58 529.38,20.55 530.40,21.91 531.42,23.91 532.44,26.31 533.46,28.89 534.48,31.40 535.50,33.72 536.52,36.39 537.54,39.06 538.56,41.22 539.58,42.33 540.60,42.77 541.62,43.13 542.64,43.38 543.66,43.50 544.68,43.36 545.70,42.65 546.72,41.63 547.74,40.58 548.76,39.79 549.78,39.53 550.80,39.66 551.82,39.97 552.84,40.41 553.86,40.94 554.88,41.81 555.90,43.45 556.92,45.46 557.94,47.35 558.96,48.73 559.98,49.85 561.00,50.88 562.02,51.83 563.04,52.71 564.06,53.55 565.08,54.36 566.10,55.15 567.12,55.94 568.14,56.70 569.16,57.44 570.18,58.15 571.20,58.84 572.22,59.52 573.24,60.18 574.26,60.84 575.28,61.49 576.30,62.14 577.32,62.83 578.34,63.63 579.36,64.45 580.38,65.22 581.40,65.86 582.42,66.29 583.44,66.42 584.46,66.28 585.48,65.90 586.50,65.32 587.52,64.54 588.54,63.60 589.56,62.51 590.58,61.29 591.60,59.86 592.62,57.31 593.64,53.76 594.66,49.56 595.68,45.08 595.68,51.35 594.66,55.83 593.64,60.03 592.62,63.58 591.60,66.13 590.58,67.57 589.56,68.78 588.54,69.87 587.52,70.81 586.50,71.59 585.48,72.17 584.46,72.55 583.44,72.70 582.42,72.56 581.40,72.14 580.38,71.50 579.36,70.72 578.34,69.90 577.32,69.10 576.30,68.41 575.28,67.76 574.26,67.11 573.24,66.45 572.22,65.79 571.20,65.11 570.18,64.42 569.16,63.71 568.14,62.98 567.12,62.21 566.10,61.42 565.08,60.63 564.06,59.82 563.04,58.98 562.02,58.10 561.00,57.15 559.98,56.12 558.96,55.00 557.94,53.63 556.92,51.73 555.90,49.73 554.88,48.08 553.86,47.22 552.84,46.68 551.82,46.24 550.80,45.93 549.78,45.80 548.76,46.06 547.74,46.85 546.72,47.90 545.70,48.92 544.68,49.63 543.66,49.77 542.64,49.65 541.62,49.40 540.60,49.04 539.58,48.60 538.56,47.49 537.54,45.33 536.52,42.66 535.50,39.99 534.48,37.67 533.46,35.16 532.44,32.59 531.42,30.18 530.40,28.18 529.38,26.82 528.36,25.85 527.34,24.99 526.32,24.34 525.30,23.99 524.28,24.21 523.26,25.44 522.24,27.47 521.22,30.01 520.20,32.76 519.18,35.45 518.16,37.78 517.14,40.05 516.12,42.52 515.10,44.94 514.08,47.07 513.06,48.67 512.04,49.63 511.02,50.43 510.00,51.14 508.98,51.70 507.96,52.06 506.94,52.19 505.92,52.00 504.90,51.50 503.88,50.78 502.86,49.92 501.84,49.01 500.82,48.09 499.80,46.99 498.78,45.71 497.76,44.31 496.74,42.83 495.72,41.32 494.70,39.68 493.68,37.86 492.66,35.96 491.64,34.11 490.62,32.42 489.60,30.98 488.58,29.64 487.56,28.37 486.54,27.20 485.52,26.13 484.50,25.17" fill="#aaa" fill-opacity="0.35"/>
<g fill="#F8766D" fill-opacity="0.85"><circle cx="484.50" cy="18.06" r="0.7"/><circle cx="485.52" cy="24.96" r="0.7"/><circle cx="486.54" cy="24.25" r="0.7"/><circle cx="487.56" cy="28.11" r="0.7"/><circle cx="488.58" cy="28.77" r="0.7"/><circle cx="489.60" cy="32.47" r="0.7"/><circle cx="490.62" cy="24.74" r="0.7"/><circle cx="491.64" cy="31.53" r="0.7"/><circle cx="492.66" cy="29.33" r="0.7"/><circle cx="493.68" cy="34.67" r="0.7"/><circle cx="494.70" cy="39.06" r="0.7"/><circle cx="495.72" cy="39.37" r="0.7"/><circle cx="496.74" cy="41.72" r="0.7"/><circle cx="497.76" cy="41.14" r="0.7"/><circle cx="498.78" cy="43.93" r="0.7"/><circle cx="499.80" cy="44.94" r="0.7"/><circle cx="500.82" cy="49.94" r="0.7"/><circle cx="501.84" cy="48.79" r="0.7"/><circle cx="502.86" cy="40.79" r="0.7"/><circle cx="503.88" cy="50.07" r="0.7"/><circle cx="504.90" cy="52.18" r="0.7"/><circle cx="505.92" cy="47.64" r="0.7"/><circle cx="506.94" cy="43.96" r="0.7"/><circle cx="507.96" cy="54.19" r="0.7"/><circle cx="508.98" cy="49.32" r="0.7"/><circle cx="510.00" cy="50.29" r="0.7"/><circle cx="511.02" cy="53.67" r="0.7"/><circle cx="512.04" cy="43.83" r="0.7"/><circle cx="513.06" cy="45.62" r="0.7"/><circle cx="514.08" cy="43.67" r="0.7"/><circle cx="515.10" cy="44.52" r="0.7"/><circle cx="516.12" cy="37.74" r="0.7"/><circle cx="517.14" cy="38.87" r="0.7"/><circle cx="518.16" cy="35.16" r="0.7"/><circle cx="519.18" cy="36.32" r="0.7"/><circle cx="520.20" cy="34.02" r="0.7"/><circle cx="521.22" cy="22.04" r="0.7"/><circle cx="522.24" cy="26.17" r="0.7"/><circle cx="523.26" cy="21.25" r="0.7"/><circle cx="524.28" cy="21.20" r="0.7"/><circle cx="525.30" cy="22.46" r="0.7"/><circle cx="526.32" cy="23.04" r="0.7"/><circle cx="527.34" cy="19.57" r="0.7"/><circle cx="528.36" cy="23.81" r="0.7"/><circle cx="529.38" cy="24.23" r="0.7"/><circle cx="530.40" cy="24.96" r="0.7"/><circle cx="531.42" cy="22.79" r="0.7"/><circle cx="532.44" cy="26.99" r="0.7"/><circle cx="533.46" cy="30.64" r="0.7"/><circle cx="534.48" cy="36.57" r="0.7"/><circle cx="535.50" cy="41.86" r="0.7"/><circle cx="536.52" cy="36.09" r="0.7"/><circle cx="537.54" cy="38.70" r="0.7"/><circle cx="538.56" cy="44.86" r="0.7"/><circle cx="539.58" cy="43.50" r="0.7"/><circle cx="540.60" cy="43.08" r="0.7"/><circle cx="541.62" cy="43.26" r="0.7"/><circle cx="542.64" cy="43.18" r="0.7"/><circle cx="543.66" cy="48.28" r="0.7"/><circle cx="544.68" cy="41.01" r="0.7"/><circle cx="545.70" cy="50.30" r="0.7"/><circle cx="546.72" cy="41.65" r="0.7"/><circle cx="547.74" cy="41.93" r="0.7"/><circle cx="548.76" cy="39.76" r="0.7"/><circle cx="549.78" cy="35.87" r="0.7"/><circle cx="550.80" cy="37.42" r="0.7"/><circle cx="551.82" cy="47.25" r="0.7"/><circle cx="552.84" cy="49.65" r="0.7"/><circle cx="553.86" cy="41.12" r="0.7"/><circle cx="554.88" cy="48.62" r="0.7"/><circle cx="555.90" cy="46.64" r="0.7"/><circle cx="556.92" cy="45.55" r="0.7"/><circle cx="557.94" cy="56.44" r="0.7"/><circle cx="558.96" cy="59.50" r="0.7"/><circle cx="559.98" cy="52.05" r="0.7"/><circle cx="561.00" cy="53.85" r="0.7"/><circle cx="562.02" cy="55.85" r="0.7"/><circle cx="563.04" cy="55.71" r="0.7"/><circle cx="564.06" cy="59.80" r="0.7"/><circle cx="565.08" cy="62.97" r="0.7"/><circle cx="566.10" cy="58.89" r="0.7"/><circle cx="567.12" cy="62.59" r="0.7"/><circle cx="568.14" cy="65.79" r="0.7"/><circle cx="569.16" cy="58.75" r="0.7"/><circle cx="570.18" cy="61.51" r="0.7"/><circle cx="571.20" cy="60.51" r="0.7"/><circle cx="572.22" cy="66.23" r="0.7"/><circle cx="573.24" cy="65.70" r="0.7"/><circle cx="574.26" cy="67.59" r="0.7"/><circle cx="575.28" cy="67.83" r="0.7"/><circle cx="576.30" cy="64.57" r="0.7"/><circle cx="577.32" cy="68.80" r="0.7"/><circle cx="578.34" cy="65.47" r="0.7"/><circle cx="579.36" cy="66.36" r="0.7"/><circle cx="580.38" cy="61.03" r="0.7"/><circle cx="581.40" cy="74.04" r="0.7"/><circle cx="582.42" cy="66.21" r="0.7"/><circle cx="583.44" cy="69.88" r="0.7"/><circle cx="584.46" cy="69.46" r="0.7"/><circle cx="585.48" cy="74.28" r="0.7"/><circle cx="586.50" cy="70.12" r="0.7"/><circle cx="587.52" cy="64.99" r="0.7"/><circle cx="588.54" cy="67.04" r="0.7"/><circle cx="589.56" cy="65.35" r="0.7"/><circle cx="590.58" cy="65.48" r="0.7"/><circle cx="591.60" cy="58.81" r="0.7"/><circle cx="592.62" cy="60.52" r="0.7"/><circle cx="593.64" cy="64.86" r="0.7"/><circle cx="594.66" cy="55.20" r="0.7"/><circle cx="595.68" cy="55.34" r="0.7"/></g>
<polyline points="484.50,22.04 485.52,22.99 486.54,24.07 487.56,25.24 488.58,26.50 489.60,27.84 490.62,29.29 491.64,30.97 492.66,32.82 493.68,34.72 494.70,36.55 495.72,38.18 496.74,39.69 497.76,41.17 498.78,42.57 499.80,43.85 500.82,44.95 501.84,45.87 502.86,46.78 503.88,47.64 504.90,48.36 505.92,48.86 506.94,49.06 507.96,48.93 508.98,48.56 510.00,48.00 511.02,47.30 512.04,46.49 513.06,45.53 514.08,43.93 515.10,41.80 516.12,39.38 517.14,36.92 518.16,34.64 519.18,32.31 520.20,29.62 521.22,26.87 522.24,24.34 523.26,22.31 524.28,21.07 525.30,20.86 526.32,21.20 527.34,21.85 528.36,22.71 529.38,23.68 530.40,25.04 531.42,27.04 532.44,29.45 533.46,32.03 534.48,34.53 535.50,36.86 536.52,39.52 537.54,42.20 538.56,44.35 539.58,45.46 540.60,45.91 541.62,46.26 542.64,46.51 543.66,46.63 544.68,46.49 545.70,45.79 546.72,44.77 547.74,43.72 548.76,42.92 549.78,42.67 550.80,42.80 551.82,43.10 552.84,43.54 553.86,44.08 554.88,44.95 555.90,46.59 556.92,48.59 557.94,50.49 558.96,51.87 559.98,52.99 561.00,54.01 562.02,54.96 563.04,55.85 564.06,56.68 565.08,57.49 566.10,58.29 567.12,59.08 568.14,59.84 569.16,60.58 570.18,61.29 571.20,61.98 572.22,62.65 573.24,63.32 574.26,63.97 575.28,64.63 576.30,65.28 577.32,65.97 578.34,66.76 579.36,67.59 580.38,68.36 581.40,69.00 582.42,69.43 583.44,69.56 584.46,69.41 585.48,69.04 586.50,68.45 587.52,67.68 588.54,66.74 589.56,65.65 590.58,64.43 591.60,62.99 592.62,60.45 593.64,56.89 594.66,52.69 595.68,48.21" fill="none" stroke="#F8766D" stroke-width="1.5" stroke-linejoin="round" stroke-linecap="round"/>
<polygon points="484.50,72.46 485.52,72.56 486.54,72.69 487.56,72.84 488.58,73.02 489.60,73.23 490.62,73.45 491.64,73.69 492.66,73.94 493.68,74.20 494.70,74.56 495.72,75.03 496.74,75.57 497.76,76.13 498.78,76.66 499.80,77.14 500.82,77.51 501.84,77.72 502.86,77.76 503.88,77.75 504.90,77.73 505.92,77.70 506.94,77.65 507.96,77.60 508.98,77.54 510.00,77.48 511.02,77.41 512.04,77.34 513.06,77.27 514.08,77.20 515.10,77.12 516.12,77.05 517.14,76.99 518.16,76.92 519.18,76.86 520.20,76.78 521.22,76.70 522.24,76.61 523.26,76.52 524.28,76.43 525.30,76.35 526.32,76.26 527.34,76.18 528.36,76.11 529.38,76.05 530.40,76.01 531.42,75.97 532.44,75.96 533.46,76.00 534.48,76.22 535.50,76.61 536.52,77.13 537.54,77.74 538.56,78.43 539.58,79.15 540.60,79.88 541.62,80.58 542.64,81.23 543.66,81.85 544.68,82.54 545.70,83.28 546.72,84.05 547.74,84.83 548.76,85.60 549.78,86.32 550.80,86.98 551.82,87.54 552.84,88.00 553.86,88.32 554.88,88.53 555.90,88.71 556.92,88.88 557.94,89.03 558.96,89.14 559.98,89.20 561.00,89.22 562.02,89.11 563.04,88.87 564.06,88.56 565.08,88.23 566.10,87.96 567.12,87.80 568.14,87.81 569.16,88.01 570.18,88.36 571.20,88.83 572.22,89.38 573.24,89.96 574.26,90.54 575.28,91.08 576.30,91.53 577.32,91.91 578.34,92.32 579.36,92.73 580.38,93.11 581.40,93.42 582.42,93.62 583.44,93.69 584.46,93.55 585.48,93.22 586.50,92.71 587.52,92.04 588.54,91.23 589.56,90.30 590.58,89.27 591.60,88.09 592.62,86.12 593.64,83.43 594.66,80.28 595.68,76.92 595.68,79.82 594.66,83.18 593.64,86.33 592.62,89.01 591.60,90.98 590.58,92.17 589.56,93.20 588.54,94.13 587.52,94.94 586.50,95.61 585.48,96.12 584.46,96.45 583.44,96.58 582.42,96.52 581.40,96.31 580.38,96.01 579.36,95.63 578.34,95.21 577.32,94.80 576.30,94.42 575.28,93.97 574.26,93.44 573.24,92.86 572.22,92.27 571.20,91.73 570.18,91.26 569.16,90.90 568.14,90.70 567.12,90.69 566.10,90.86 565.08,91.13 564.06,91.45 563.04,91.76 562.02,92.01 561.00,92.12 559.98,92.10 558.96,92.03 557.94,91.92 556.92,91.78 555.90,91.61 554.88,91.42 553.86,91.22 552.84,90.90 551.82,90.44 550.80,89.87 549.78,89.21 548.76,88.49 547.74,87.73 546.72,86.95 545.70,86.17 544.68,85.43 543.66,84.74 542.64,84.13 541.62,83.48 540.60,82.77 539.58,82.05 538.56,81.32 537.54,80.64 536.52,80.02 535.50,79.51 534.48,79.12 533.46,78.90 532.44,78.85 531.42,78.87 530.40,78.90 529.38,78.95 528.36,79.01 527.34,79.08 526.32,79.16 525.30,79.24 524.28,79.33 523.26,79.42 522.24,79.51 521.22,79.60 520.20,79.68 519.18,79.75 518.16,79.82 517.14,79.88 516.12,79.95 515.10,80.02 514.08,80.09 513.06,80.16 512.04,80.24 511.02,80.31 510.00,80.38 508.98,80.44 507.96,80.50 506.94,80.55 505.92,80.59 504.90,80.62 503.88,80.65 502.86,80.66 501.84,80.62 500.82,80.40 499.80,80.03 498.78,79.56 497.76,79.02 496.74,78.46 495.72,77.93 494.70,77.46 493.68,77.09 492.66,76.83 491.64,76.58 490.62,76.35 489.60,76.12 488.58,75.92 487.56,75.74 486.54,75.58 485.52,75.45 484.50,75.35" fill="#aaa" fill-opacity="0.35"/>
<g fill="#A3A500" fill-opacity="0.85"><circle cx="484.50" cy="79.00" r="0.7"/><circle cx="485.52" cy="74.83" r="0.7"/><circle cx="486.54" cy="72.04" r="0.7"/><circle cx="487.56" cy="74.22" r="0.7"/><circle cx="488.58" cy="76.31" r="0.7"/><circle cx="489.60" cy="76.15" r="0.7"/><circle cx="490.62" cy="73.12" r="0.7"/><circle cx="491.64" cy="74.89" r="0.7"/><circle cx="492.66" cy="75.31" r="0.7"/><circle cx="493.68" cy="75.73" r="0.7"/><circle cx="494.70" cy="75.95" r="0.7"/><circle cx="495.72" cy="75.21" r="0.7"/><circle cx="496.74" cy="76.15" r="0.7"/><circle cx="497.76" cy="77.24" r="0.7"/><circle cx="498.78" cy="79.75" r="0.7"/><circle cx="499.80" cy="77.79" r="0.7"/><circle cx="500.82" cy="80.03" r="0.7"/><circle cx="501.84" cy="77.46" r="0.7"/><circle cx="502.86" cy="81.20" r="0.7"/><circle cx="503.88" cy="79.42" r="0.7"/><circle cx="504.90" cy="79.19" r="0.7"/><circle cx="505.92" cy="81.22" r="0.7"/><circle cx="506.94" cy="76.40" r="0.7"/><circle cx="507.96" cy="76.76" r="0.7"/><circle cx="508.98" cy="79.72" r="0.7"/><circle cx="510.00" cy="77.72" r="0.7"/><circle cx="511.02" cy="78.27" r="0.7"/><circle cx="512.04" cy="82.89" r="0.7"/><circle cx="513.06" cy="78.32" r="0.7"/><circle cx="514.08" cy="78.74" r="0.7"/><circle cx="515.10" cy="78.44" r="0.7"/><circle cx="516.12" cy="80.19" r="0.7"/><circle cx="517.14" cy="78.86" r="0.7"/><circle cx="518.16" cy="78.65" r="0.7"/><circle cx="519.18" cy="76.44" r="0.7"/><circle cx="520.20" cy="77.71" r="0.7"/><circle cx="521.22" cy="78.16" r="0.7"/><circle cx="522.24" cy="75.66" r="0.7"/><circle cx="523.26" cy="78.84" r="0.7"/><circle cx="524.28" cy="78.49" r="0.7"/><circle cx="525.30" cy="80.64" r="0.7"/><circle cx="526.32" cy="75.25" r="0.7"/><circle cx="527.34" cy="76.12" r="0.7"/><circle cx="528.36" cy="76.12" r="0.7"/><circle cx="529.38" cy="76.45" r="0.7"/><circle cx="530.40" cy="77.28" r="0.7"/><circle cx="531.42" cy="77.08" r="0.7"/><circle cx="532.44" cy="77.80" r="0.7"/><circle cx="533.46" cy="77.77" r="0.7"/><circle cx="534.48" cy="77.59" r="0.7"/><circle cx="535.50" cy="75.69" r="0.7"/><circle cx="536.52" cy="77.70" r="0.7"/><circle cx="537.54" cy="79.28" r="0.7"/><circle cx="538.56" cy="80.78" r="0.7"/><circle cx="539.58" cy="81.59" r="0.7"/><circle cx="540.60" cy="78.81" r="0.7"/><circle cx="541.62" cy="81.24" r="0.7"/><circle cx="542.64" cy="82.57" r="0.7"/><circle cx="543.66" cy="83.84" r="0.7"/><circle cx="544.68" cy="85.72" r="0.7"/><circle cx="545.70" cy="84.83" r="0.7"/><circle cx="546.72" cy="84.13" r="0.7"/><circle cx="547.74" cy="86.90" r="0.7"/><circle cx="548.76" cy="87.40" r="0.7"/><circle cx="549.78" cy="88.11" r="0.7"/><circle cx="550.80" cy="88.25" r="0.7"/><circle cx="551.82" cy="91.49" r="0.7"/><circle cx="552.84" cy="89.82" r="0.7"/><circle cx="553.86" cy="91.11" r="0.7"/><circle cx="554.88" cy="88.59" r="0.7"/><circle cx="555.90" cy="91.37" r="0.7"/><circle cx="556.92" cy="89.43" r="0.7"/><circle cx="557.94" cy="88.08" r="0.7"/><circle cx="558.96" cy="91.08" r="0.7"/><circle cx="559.98" cy="91.60" r="0.7"/><circle cx="561.00" cy="90.37" r="0.7"/><circle cx="562.02" cy="90.56" r="0.7"/><circle cx="563.04" cy="91.88" r="0.7"/><circle cx="564.06" cy="89.28" r="0.7"/><circle cx="565.08" cy="86.52" r="0.7"/><circle cx="566.10" cy="89.81" r="0.7"/><circle cx="567.12" cy="89.56" r="0.7"/><circle cx="568.14" cy="90.89" r="0.7"/><circle cx="569.16" cy="88.95" r="0.7"/><circle cx="570.18" cy="91.76" r="0.7"/><circle cx="571.20" cy="92.02" r="0.7"/><circle cx="572.22" cy="88.82" r="0.7"/><circle cx="573.24" cy="92.83" r="0.7"/><circle cx="574.26" cy="90.29" r="0.7"/><circle cx="575.28" cy="90.13" r="0.7"/><circle cx="576.30" cy="92.57" r="0.7"/><circle cx="577.32" cy="92.49" r="0.7"/><circle cx="578.34" cy="90.71" r="0.7"/><circle cx="579.36" cy="94.49" r="0.7"/><circle cx="580.38" cy="95.49" r="0.7"/><circle cx="581.40" cy="96.99" r="0.7"/><circle cx="582.42" cy="95.01" r="0.7"/><circle cx="583.44" cy="92.81" r="0.7"/><circle cx="584.46" cy="93.50" r="0.7"/><circle cx="585.48" cy="96.15" r="0.7"/><circle cx="586.50" cy="95.50" r="0.7"/><circle cx="587.52" cy="94.28" r="0.7"/><circle cx="588.54" cy="92.22" r="0.7"/><circle cx="589.56" cy="92.07" r="0.7"/><circle cx="590.58" cy="90.38" r="0.7"/><circle cx="591.60" cy="89.07" r="0.7"/><circle cx="592.62" cy="88.03" r="0.7"/><circle cx="593.64" cy="84.94" r="0.7"/><circle cx="594.66" cy="81.41" r="0.7"/><circle cx="595.68" cy="78.50" r="0.7"/></g>
<polyline points="484.50,73.91 485.52,74.00 486.54,74.13 487.56,74.29 488.58,74.47 489.60,74.68 490.62,74.90 491.64,75.14 492.66,75.38 493.68,75.65 494.70,76.01 495.72,76.48 496.74,77.01 497.76,77.57 498.78,78.11 499.80,78.59 500.82,78.96 501.84,79.17 502.86,79.21 503.88,79.20 504.90,79.18 505.92,79.14 506.94,79.10 507.96,79.05 508.98,78.99 510.00,78.93 511.02,78.86 512.04,78.79 513.06,78.72 514.08,78.64 515.10,78.57 516.12,78.50 517.14,78.43 518.16,78.37 519.18,78.30 520.20,78.23 521.22,78.15 522.24,78.06 523.26,77.97 524.28,77.88 525.30,77.79 526.32,77.71 527.34,77.63 528.36,77.56 529.38,77.50 530.40,77.45 531.42,77.42 532.44,77.40 533.46,77.45 534.48,77.67 535.50,78.06 536.52,78.57 537.54,79.19 538.56,79.88 539.58,80.60 540.60,81.33 541.62,82.03 542.64,82.68 543.66,83.30 544.68,83.98 545.70,84.73 546.72,85.50 547.74,86.28 548.76,87.04 549.78,87.76 550.80,88.42 551.82,88.99 552.84,89.45 553.86,89.77 554.88,89.97 555.90,90.16 556.92,90.33 557.94,90.47 558.96,90.58 559.98,90.65 561.00,90.67 562.02,90.56 563.04,90.32 564.06,90.00 565.08,89.68 566.10,89.41 567.12,89.25 568.14,89.25 569.16,89.45 570.18,89.81 571.20,90.28 572.22,90.83 573.24,91.41 574.26,91.99 575.28,92.53 576.30,92.98 577.32,93.36 578.34,93.77 579.36,94.18 580.38,94.56 581.40,94.87 582.42,95.07 583.44,95.13 584.46,95.00 585.48,94.67 586.50,94.16 587.52,93.49 588.54,92.68 589.56,91.75 590.58,90.72 591.60,89.53 592.62,87.56 593.64,84.88 594.66,81.73 595.68,78.37" fill="none" stroke="#A3A500" stroke-width="1.5" stroke-linejoin="round" stroke-linecap="round"/>
<polygon points="484.50,84.76 485.52,85.19 486.54,85.60 487.56,86.00 488.58,86.39 489.60,86.76 490.62,87.11 491.64,87.45 492.66,87.77 493.68,88.07 494.70,88.36 495.72,88.65 496.74,88.92 497.76,89.17 498.78,89.42 499.80,89.65 500.82,89.87 501.84,90.07 502.86,90.26 503.88,90.45 504.90,90.64 505.92,90.84 506.94,91.03 507.96,91.22 508.98,91.40 510.00,91.58 511.02,91.74 512.04,91.89 513.06,92.02 514.08,92.14 515.10,92.23 516.12,92.30 517.14,92.34 518.16,92.36 519.18,92.33 520.20,92.25 521.22,92.12 522.24,91.95 523.26,91.76 524.28,91.54 525.30,91.32 526.32,91.09 527.34,90.87 528.36,90.67 529.38,90.49 530.40,90.34 531.42,90.24 532.44,90.19 533.46,90.21 534.48,90.34 535.50,90.56 536.52,90.86 537.54,91.23 538.56,91.65 539.58,92.12 540.60,92.62 541.62,93.14 542.64,93.66 543.66,94.18 544.68,94.68 545.70,95.14 546.72,95.57 547.74,96.05 548.76,96.58 549.78,97.15 550.80,97.73 551.82,98.31 552.84,98.87 553.86,99.39 554.88,99.84 555.90,100.21 556.92,100.49 557.94,100.65 558.96,100.68 559.98,100.61 561.00,100.47 562.02,100.29 563.04,100.06 564.06,99.82 565.08,99.58 566.10,99.34 567.12,99.14 568.14,98.99 569.16,98.89 570.18,98.88 571.20,98.95 572.22,99.09 573.24,99.29 574.26,99.54 575.28,99.82 576.30,100.12 577.32,100.42 578.34,100.71 579.36,100.97 580.38,101.20 581.40,101.38 582.42,101.49 583.44,101.53 584.46,101.41 585.48,101.10 586.50,100.64 587.52,100.04 588.54,99.32 589.56,98.51 590.58,97.62 591.60,96.63 592.62,95.12 593.64,93.14 594.66,90.84 595.68,88.38 595.68,91.28 594.66,93.73 593.64,96.03 592.62,98.02 591.60,99.52 590.58,100.51 589.56,101.40 588.54,102.21 587.52,102.93 586.50,103.53 585.48,104.00 584.46,104.30 583.44,104.42 582.42,104.39 581.40,104.28 580.38,104.10 579.36,103.87 578.34,103.60 577.32,103.31 576.30,103.01 575.28,102.71 574.26,102.44 573.24,102.19 572.22,101.99 571.20,101.84 570.18,101.77 569.16,101.79 568.14,101.88 567.12,102.04 566.10,102.24 565.08,102.47 564.06,102.72 563.04,102.96 562.02,103.18 561.00,103.37 559.98,103.51 558.96,103.57 557.94,103.55 556.92,103.39 555.90,103.11 554.88,102.73 553.86,102.28 552.84,101.77 551.82,101.21 550.80,100.63 549.78,100.05 548.76,99.48 547.74,98.94 546.72,98.46 545.70,98.03 544.68,97.57 543.66,97.08 542.64,96.56 541.62,96.04 540.60,95.52 539.58,95.02 538.56,94.55 537.54,94.12 536.52,93.75 535.50,93.45 534.48,93.23 533.46,93.11 532.44,93.09 531.42,93.14 530.40,93.24 529.38,93.38 528.36,93.56 527.34,93.77 526.32,93.99 525.30,94.21 524.28,94.44 523.26,94.65 522.24,94.85 521.22,95.01 520.20,95.14 519.18,95.23 518.16,95.26 517.14,95.24 516.12,95.20 515.10,95.12 514.08,95.03 513.06,94.92 512.04,94.78 511.02,94.63 510.00,94.47 508.98,94.30 507.96,94.11 506.94,93.92 505.92,93.73 504.90,93.54 503.88,93.34 502.86,93.16 501.84,92.97 500.82,92.77 499.80,92.55 498.78,92.31 497.76,92.07 496.74,91.81 495.72,91.54 494.70,91.26 493.68,90.97 492.66,90.67 491.64,90.35 490.62,90.01 489.60,89.65 488.58,89.28 487.56,88.90 486.54,88.50 485.52,88.08 484.50,87.66" fill="#aaa" fill-opacity="0.35"/>
<g fill="#00BF7D" fill-opacity="0.85"><circle cx="484.50" cy="85.42" r="0.7"/><circle cx="485.52" cy="83.70" r="0.7"/><circle cx="486.54" cy="86.12" r="0.7"/><circle cx="487.56" cy="87.36" r="0.7"/><circle cx="488.58" cy="90.48" r="0.7"/><circle cx="489.60" cy="87.60" r="0.7"/><circle cx="490.62" cy="91.61" r="0.7"/><circle cx="491.64" cy="91.11" r="0.7"/><circle cx="492.66" cy="87.88" r="0.7"/><circle cx="493.68" cy="88.41" r="0.7"/><circle cx="494.70" cy="90.05" r="0.7"/><circle cx="495.72" cy="92.77" r="0.7"/><circle cx="496.74" cy="90.94" r="0.7"/><circle cx="497.76" cy="91.69" r="0.7"/><circle cx="498.78" cy="89.87" r="0.7"/><circle cx="499.80" cy="87.56" r="0.7"/><circle cx="500.82" cy="90.98" r="0.7"/><circle cx="501.84" cy="92.74" r="0.7"/><circle cx="502.86" cy="93.54" r="0.7"/><circle cx="503.88" cy="91.98" r="0.7"/><circle cx="504.90" cy="92.37" r="0.7"/><circle cx="505.92" cy="94.09" r="0.7"/><circle cx="506.94" cy="92.29" r="0.7"/><circle cx="507.96" cy="94.47" r="0.7"/><circle cx="508.98" cy="91.10" r="0.7"/><circle cx="510.00" cy="91.36" r="0.7"/><circle cx="511.02" cy="91.48" r="0.7"/><circle cx="512.04" cy="94.08" r="0.7"/><circle cx="513.06" cy="92.66" r="0.7"/><circle cx="514.08" cy="93.79" r="0.7"/><circle cx="515.10" cy="94.29" r="0.7"/><circle cx="516.12" cy="94.28" r="0.7"/><circle cx="517.14" cy="95.83" r="0.7"/><circle cx="518.16" cy="96.07" r="0.7"/><circle cx="519.18" cy="92.53" r="0.7"/><circle cx="520.20" cy="94.00" r="0.7"/><circle cx="521.22" cy="93.23" r="0.7"/><circle cx="522.24" cy="91.83" r="0.7"/><circle cx="523.26" cy="95.92" r="0.7"/><circle cx="524.28" cy="94.22" r="0.7"/><circle cx="525.30" cy="92.49" r="0.7"/><circle cx="526.32" cy="91.92" r="0.7"/><circle cx="527.34" cy="92.91" r="0.7"/><circle cx="528.36" cy="90.50" r="0.7"/><circle cx="529.38" cy="91.61" r="0.7"/><circle cx="530.40" cy="93.70" r="0.7"/><circle cx="531.42" cy="93.15" r="0.7"/><circle cx="532.44" cy="90.38" r="0.7"/><circle cx="533.46" cy="90.93" r="0.7"/><circle cx="534.48" cy="94.76" r="0.7"/><circle cx="535.50" cy="89.89" r="0.7"/><circle cx="536.52" cy="91.37" r="0.7"/><circle cx="537.54" cy="90.57" r="0.7"/><circle cx="538.56" cy="93.70" r="0.7"/><circle cx="539.58" cy="94.03" r="0.7"/><circle cx="540.60" cy="95.84" r="0.7"/><circle cx="541.62" cy="90.61" r="0.7"/><circle cx="542.64" cy="95.39" r="0.7"/><circle cx="543.66" cy="93.14" r="0.7"/><circle cx="544.68" cy="97.14" r="0.7"/><circle cx="545.70" cy="96.33" r="0.7"/><circle cx="546.72" cy="99.64" r="0.7"/><circle cx="547.74" cy="98.10" r="0.7"/><circle cx="548.76" cy="96.49" r="0.7"/><circle cx="549.78" cy="100.56" r="0.7"/><circle cx="550.80" cy="97.50" r="0.7"/><circle cx="551.82" cy="99.23" r="0.7"/><circle cx="552.84" cy="101.95" r="0.7"/><circle cx="553.86" cy="101.62" r="0.7"/><circle cx="554.88" cy="102.01" r="0.7"/><circle cx="555.90" cy="101.74" r="0.7"/><circle cx="556.92" cy="102.78" r="0.7"/><circle cx="557.94" cy="103.40" r="0.7"/><circle cx="558.96" cy="102.60" r="0.7"/><circle cx="559.98" cy="103.67" r="0.7"/><circle cx="561.00" cy="103.94" r="0.7"/><circle cx="562.02" cy="101.81" r="0.7"/><circle cx="563.04" cy="100.13" r="0.7"/><circle cx="564.06" cy="103.67" r="0.7"/><circle cx="565.08" cy="101.02" r="0.7"/><circle cx="566.10" cy="101.81" r="0.7"/><circle cx="567.12" cy="102.12" r="0.7"/><circle cx="568.14" cy="99.10" r="0.7"/><circle cx="569.16" cy="101.15" r="0.7"/><circle cx="570.18" cy="97.98" r="0.7"/><circle cx="571.20" cy="101.62" r="0.7"/><circle cx="572.22" cy="99.93" r="0.7"/><circle cx="573.24" cy="101.10" r="0.7"/><circle cx="574.26" cy="102.17" r="0.7"/><circle cx="575.28" cy="100.35" r="0.7"/><circle cx="576.30" cy="101.81" r="0.7"/><circle cx="577.32" cy="100.92" r="0.7"/><circle cx="578.34" cy="102.23" r="0.7"/><circle cx="579.36" cy="104.12" r="0.7"/><circle cx="580.38" cy="102.81" r="0.7"/><circle cx="581.40" cy="102.75" r="0.7"/><circle cx="582.42" cy="101.44" r="0.7"/><circle cx="583.44" cy="104.40" r="0.7"/><circle cx="584.46" cy="102.91" r="0.7"/><circle cx="585.48" cy="105.25" r="0.7"/><circle cx="586.50" cy="101.06" r="0.7"/><circle cx="587.52" cy="103.18" r="0.7"/><circle cx="588.54" cy="103.60" r="0.7"/><circle cx="589.56" cy="100.05" r="0.7"/><circle cx="590.58" cy="97.33" r="0.7"/><circle cx="591.60" cy="100.47" r="0.7"/><circle cx="592.62" cy="98.28" r="0.7"/><circle cx="593.64" cy="95.75" r="0.7"/><circle cx="594.66" cy="94.05" r="0.7"/><circle cx="595.68" cy="89.23" r="0.7"/></g>
<polyline points="484.50,86.21 485.52,86.63 486.54,87.05 487.56,87.45 488.58,87.83 489.60,88.21 490.62,88.56 491.64,88.90 492.66,89.22 493.68,89.52 494.70,89.81 495.72,90.09 496.74,90.36 497.76,90.62 498.78,90.87 499.80,91.10 500.82,91.32 501.84,91.52 502.86,91.71 503.88,91.90 504.90,92.09 505.92,92.28 506.94,92.48 507.96,92.67 508.98,92.85 510.00,93.02 511.02,93.19 512.04,93.34 513.06,93.47 514.08,93.58 515.10,93.68 516.12,93.75 517.14,93.79 518.16,93.81 519.18,93.78 520.20,93.70 521.22,93.57 522.24,93.40 523.26,93.20 524.28,92.99 525.30,92.77 526.32,92.54 527.34,92.32 528.36,92.12 529.38,91.94 530.40,91.79 531.42,91.69 532.44,91.64 533.46,91.66 534.48,91.79 535.50,92.00 536.52,92.31 537.54,92.68 538.56,93.10 539.58,93.57 540.60,94.07 541.62,94.59 542.64,95.11 543.66,95.63 544.68,96.12 545.70,96.59 546.72,97.02 547.74,97.50 548.76,98.03 549.78,98.60 550.80,99.18 551.82,99.76 552.84,100.32 553.86,100.83 554.88,101.29 555.90,101.66 556.92,101.94 557.94,102.10 558.96,102.13 559.98,102.06 561.00,101.92 562.02,101.73 563.04,101.51 564.06,101.27 565.08,101.02 566.10,100.79 567.12,100.59 568.14,100.43 569.16,100.34 570.18,100.33 571.20,100.40 572.22,100.54 573.24,100.74 574.26,100.99 575.28,101.27 576.30,101.56 577.32,101.86 578.34,102.15 579.36,102.42 580.38,102.65 581.40,102.83 582.42,102.94 583.44,102.97 584.46,102.85 585.48,102.55 586.50,102.09 587.52,101.48 588.54,100.77 589.56,99.95 590.58,99.07 591.60,98.08 592.62,96.57 593.64,94.58 594.66,92.28 595.68,89.83" fill="none" stroke="#00BF7D" stroke-width="1.5" stroke-linejoin="round" stroke-linecap="round"/>
<polygon points="484.50,100.32 485.52,100.42 486.54,100.52 487.56,100.62 488.58,100.72 489.60,100.81 490.62,100.90 491.64,100.98 492.66,101.07 493.68,101.14 494.70,101.21 495.72,101.28 496.74,101.34 497.76,101.39 498.78,101.44 499.80,101.48 500.82,101.51 501.84,101.54 502.86,101.56 503.88,101.58 504.90,101.60 505.92,101.61 506.94,101.62 507.96,101.64 508.98,101.65 510.00,101.66 511.02,101.67 512.04,101.68 513.06,101.69 514.08,101.70 515.10,101.72 516.12,101.73 517.14,101.75 518.16,101.77 519.18,101.79 520.20,101.81 521.22,101.83 522.24,101.85 523.26,101.88 524.28,101.90 525.30,101.93 526.32,101.96 527.34,101.98 528.36,102.02 529.38,102.05 530.40,102.08 531.42,102.12 532.44,102.16 533.46,102.21 534.48,102.25 535.50,102.30 536.52,102.36 537.54,102.41 538.56,102.48 539.58,102.54 540.60,102.61 541.62,102.71 542.64,102.87 543.66,103.08 544.68,103.33 545.70,103.61 546.72,103.90 547.74,104.20 548.76,104.50 549.78,104.78 550.80,105.04 551.82,105.26 552.84,105.46 553.86,105.67 554.88,105.89 555.90,106.11 556.92,106.33 557.94,106.53 558.96,106.70 559.98,106.85 561.00,106.97 562.02,107.05 563.04,107.08 564.06,107.01 565.08,106.81 566.10,106.52 567.12,106.17 568.14,105.80 569.16,105.45 570.18,105.16 571.20,104.97 572.22,104.91 573.24,105.04 574.26,105.36 575.28,105.83 576.30,106.39 577.32,107.01 578.34,107.65 579.36,108.26 580.38,108.81 581.40,109.24 582.42,109.52 583.44,109.61 584.46,109.54 585.48,109.36 586.50,109.08 587.52,108.72 588.54,108.30 589.56,107.81 590.58,107.29 591.60,106.70 592.62,105.80 593.64,104.61 594.66,103.24 595.68,101.77 595.68,104.18 594.66,105.65 593.64,107.02 592.62,108.21 591.60,109.11 590.58,109.70 589.56,110.23 588.54,110.71 587.52,111.14 586.50,111.49 585.48,111.77 584.46,111.95 583.44,112.02 582.42,111.94 581.40,111.65 580.38,111.22 579.36,110.68 578.34,110.06 577.32,109.42 576.30,108.80 575.28,108.24 574.26,107.77 573.24,107.45 572.22,107.32 571.20,107.38 570.18,107.57 569.16,107.86 568.14,108.21 567.12,108.58 566.10,108.93 565.08,109.22 564.06,109.42 563.04,109.49 562.02,109.46 561.00,109.38 559.98,109.27 558.96,109.12 557.94,108.94 556.92,108.74 555.90,108.53 554.88,108.31 553.86,108.09 552.84,107.87 551.82,107.67 550.80,107.45 549.78,107.19 548.76,106.91 547.74,106.62 546.72,106.32 545.70,106.02 544.68,105.75 543.66,105.50 542.64,105.29 541.62,105.12 540.60,105.02 539.58,104.95 538.56,104.89 537.54,104.83 536.52,104.77 535.50,104.72 534.48,104.67 533.46,104.62 532.44,104.58 531.42,104.54 530.40,104.50 529.38,104.46 528.36,104.43 527.34,104.40 526.32,104.37 525.30,104.34 524.28,104.32 523.26,104.29 522.24,104.27 521.22,104.24 520.20,104.22 519.18,104.20 518.16,104.18 517.14,104.16 516.12,104.14 515.10,104.13 514.08,104.12 513.06,104.10 512.04,104.09 511.02,104.08 510.00,104.07 508.98,104.06 507.96,104.05 506.94,104.04 505.92,104.02 504.90,104.01 503.88,103.99 502.86,103.97 501.84,103.95 500.82,103.93 499.80,103.89 498.78,103.85 497.76,103.81 496.74,103.75 495.72,103.69 494.70,103.63 493.68,103.55 492.66,103.48 491.64,103.40 490.62,103.31 489.60,103.22 488.58,103.13 487.56,103.03 486.54,102.94 485.52,102.84 484.50,102.73" fill="#aaa" fill-opacity="0.35"/>
<g fill="#00B0F6" fill-opacity="0.85"><circle cx="484.50" cy="102.79" r="0.7"/><circle cx="485.52" cy="102.76" r="0.7"/><circle cx="486.54" cy="100.82" r="0.7"/><circle cx="487.56" cy="103.01" r="0.7"/><circle cx="488.58" cy="101.24" r="0.7"/><circle cx="489.60" cy="103.54" r="0.7"/><circle cx="490.62" cy="104.01" r="0.7"/><circle cx="491.64" cy="105.07" r="0.7"/><circle cx="492.66" cy="99.35" r="0.7"/><circle cx="493.68" cy="102.85" r="0.7"/><circle cx="494.70" cy="102.04" r="0.7"/><circle cx="495.72" cy="102.54" r="0.7"/><circle cx="496.74" cy="102.30" r="0.7"/><circle cx="497.76" cy="102.52" r="0.7"/><circle cx="498.78" cy="99.66" r="0.7"/><circle cx="499.80" cy="104.32" r="0.7"/><circle cx="500.82" cy="105.16" r="0.7"/><circle cx="501.84" cy="104.33" r="0.7"/><circle cx="502.86" cy="104.86" r="0.7"/><circle cx="503.88" cy="101.61" r="0.7"/><circle cx="504.90" cy="101.52" r="0.7"/><circle cx="505.92" cy="104.33" r="0.7"/><circle cx="506.94" cy="105.01" r="0.7"/><circle cx="507.96" cy="103.40" r="0.7"/><circle cx="508.98" cy="100.67" r="0.7"/><circle cx="510.00" cy="107.29" r="0.7"/><circle cx="511.02" cy="102.05" r="0.7"/><circle cx="512.04" cy="104.57" r="0.7"/><circle cx="513.06" cy="101.27" r="0.7"/><circle cx="514.08" cy="104.60" r="0.7"/><circle cx="515.10" cy="103.37" r="0.7"/><circle cx="516.12" cy="105.30" r="0.7"/><circle cx="517.14" cy="104.49" r="0.7"/><circle cx="518.16" cy="100.80" r="0.7"/><circle cx="519.18" cy="101.71" r="0.7"/><circle cx="520.20" cy="103.65" r="0.7"/><circle cx="521.22" cy="104.40" r="0.7"/><circle cx="522.24" cy="106.03" r="0.7"/><circle cx="523.26" cy="103.70" r="0.7"/><circle cx="524.28" cy="103.16" r="0.7"/><circle cx="525.30" cy="103.27" r="0.7"/><circle cx="526.32" cy="103.31" r="0.7"/><circle cx="527.34" cy="104.95" r="0.7"/><circle cx="528.36" cy="103.33" r="0.7"/><circle cx="529.38" cy="103.32" r="0.7"/><circle cx="530.40" cy="101.27" r="0.7"/><circle cx="531.42" cy="100.40" r="0.7"/><circle cx="532.44" cy="103.58" r="0.7"/><circle cx="533.46" cy="104.61" r="0.7"/><circle cx="534.48" cy="103.56" r="0.7"/><circle cx="535.50" cy="104.46" r="0.7"/><circle cx="536.52" cy="104.73" r="0.7"/><circle cx="537.54" cy="103.71" r="0.7"/><circle cx="538.56" cy="105.32" r="0.7"/><circle cx="539.58" cy="102.80" r="0.7"/><circle cx="540.60" cy="103.98" r="0.7"/><circle cx="541.62" cy="103.53" r="0.7"/><circle cx="542.64" cy="104.37" r="0.7"/><circle cx="543.66" cy="105.43" r="0.7"/><circle cx="544.68" cy="106.03" r="0.7"/><circle cx="545.70" cy="105.19" r="0.7"/><circle cx="546.72" cy="105.97" r="0.7"/><circle cx="547.74" cy="105.04" r="0.7"/><circle cx="548.76" cy="105.71" r="0.7"/><circle cx="549.78" cy="108.12" r="0.7"/><circle cx="550.80" cy="106.14" r="0.7"/><circle cx="551.82" cy="108.57" r="0.7"/><circle cx="552.84" cy="107.63" r="0.7"/><circle cx="553.86" cy="107.34" r="0.7"/><circle cx="554.88" cy="110.35" r="0.7"/><circle cx="555.90" cy="107.18" r="0.7"/><circle cx="556.92" cy="107.30" r="0.7"/><circle cx="557.94" cy="107.98" r="0.7"/><circle cx="558.96" cy="108.57" r="0.7"/><circle cx="559.98" cy="108.65" r="0.7"/><circle cx="561.00" cy="109.71" r="0.7"/><circle cx="562.02" cy="108.68" r="0.7"/><circle cx="563.04" cy="109.15" r="0.7"/><circle cx="564.06" cy="108.07" r="0.7"/><circle cx="565.08" cy="109.90" r="0.7"/><circle cx="566.10" cy="107.35" r="0.7"/><circle cx="567.12" cy="107.15" r="0.7"/><circle cx="568.14" cy="107.23" r="0.7"/><circle cx="569.16" cy="107.34" r="0.7"/><circle cx="570.18" cy="105.50" r="0.7"/><circle cx="571.20" cy="108.78" r="0.7"/><circle cx="572.22" cy="105.39" r="0.7"/><circle cx="573.24" cy="105.87" r="0.7"/><circle cx="574.26" cy="106.12" r="0.7"/><circle cx="575.28" cy="106.43" r="0.7"/><circle cx="576.30" cy="108.62" r="0.7"/><circle cx="577.32" cy="108.63" r="0.7"/><circle cx="578.34" cy="107.86" r="0.7"/><circle cx="579.36" cy="108.79" r="0.7"/><circle cx="580.38" cy="109.69" r="0.7"/><circle cx="581.40" cy="112.82" r="0.7"/><circle cx="582.42" cy="109.89" r="0.7"/><circle cx="583.44" cy="108.98" r="0.7"/><circle cx="584.46" cy="109.16" r="0.7"/><circle cx="585.48" cy="110.20" r="0.7"/><circle cx="586.50" cy="112.73" r="0.7"/><circle cx="587.52" cy="108.45" r="0.7"/><circle cx="588.54" cy="109.73" r="0.7"/><circle cx="589.56" cy="112.99" r="0.7"/><circle cx="590.58" cy="107.90" r="0.7"/><circle cx="591.60" cy="110.24" r="0.7"/><circle cx="592.62" cy="109.04" r="0.7"/><circle cx="593.64" cy="106.81" r="0.7"/><circle cx="594.66" cy="102.45" r="0.7"/><circle cx="595.68" cy="103.56" r="0.7"/></g>
<polyline points="484.50,101.53 485.52,101.63 486.54,101.73 487.56,101.83 488.58,101.92 489.60,102.02 490.62,102.10 491.64,102.19 492.66,102.27 493.68,102.35 494.70,102.42 495.72,102.49 496.74,102.55 497.76,102.60 498.78,102.65 499.80,102.69 500.82,102.72 501.84,102.75 502.86,102.77 503.88,102.79 504.90,102.80 505.92,102.82 506.94,102.83 507.96,102.84 508.98,102.85 510.00,102.86 511.02,102.88 512.04,102.89 513.06,102.90 514.08,102.91 515.10,102.92 516.12,102.94 517.14,102.96 518.16,102.97 519.18,103.00 520.20,103.02 521.22,103.04 522.24,103.06 523.26,103.08 524.28,103.11 525.30,103.13 526.32,103.16 527.34,103.19 528.36,103.22 529.38,103.26 530.40,103.29 531.42,103.33 532.44,103.37 533.46,103.41 534.48,103.46 535.50,103.51 536.52,103.56 537.54,103.62 538.56,103.68 539.58,103.75 540.60,103.82 541.62,103.92 542.64,104.08 543.66,104.29 544.68,104.54 545.70,104.82 546.72,105.11 547.74,105.41 548.76,105.70 549.78,105.99 550.80,106.24 551.82,106.46 552.84,106.66 553.86,106.88 554.88,107.10 555.90,107.32 556.92,107.53 557.94,107.73 558.96,107.91 559.98,108.06 561.00,108.18 562.02,108.25 563.04,108.28 564.06,108.22 565.08,108.02 566.10,107.72 567.12,107.37 568.14,107.00 569.16,106.66 570.18,106.37 571.20,106.17 572.22,106.11 573.24,106.25 574.26,106.57 575.28,107.03 576.30,107.60 577.32,108.22 578.34,108.86 579.36,109.47 580.38,110.01 581.40,110.45 582.42,110.73 583.44,110.82 584.46,110.74 585.48,110.56 586.50,110.29 587.52,109.93 588.54,109.50 589.56,109.02 590.58,108.49 591.60,107.90 592.62,107.00 593.64,105.82 594.66,104.44 595.68,102.98" fill="none" stroke="#00B0F6" stroke-width="1.5" stroke-linejoin="round" stroke-linecap="round"/>
<polygon points="484.50,113.47 485.52,113.47 486.54,113.48 487.56,113.48 488.58,113.48 489.60,113.49 490.62,113.49 491.64,113.50 492.66,113.50 493.68,113.50 494.70,113.51 495.72,113.51 496.74,113.51 497.76,113.52 498.78,113.52 499.80,113.52 500.82,113.53 501.84,113.53 502.86,113.54 503.88,113.54 504.90,113.54 505.92,113.55 506.94,113.55 507.96,113.55 508.98,113.56 510.00,113.56 511.02,113.56 512.04,113.57 513.06,113.57 514.08,113.58 515.10,113.58 516.12,113.58 517.14,113.59 518.16,113.59 519.18,113.59 520.20,113.60 521.22,113.60 522.24,113.61 523.26,113.61 524.28,113.62 525.30,113.62 526.32,113.63 527.34,113.63 528.36,113.63 529.38,113.64 530.40,113.64 531.42,113.65 532.44,113.65 533.46,113.66 534.48,113.66 535.50,113.67 536.52,113.67 537.54,113.68 538.56,113.68 539.58,113.68 540.60,113.69 541.62,113.69 542.64,113.70 543.66,113.70 544.68,113.70 545.70,113.70 546.72,113.71 547.74,113.71 548.76,113.71 549.78,113.71 550.80,113.71 551.82,113.71 552.84,113.71 553.86,113.71 554.88,113.71 555.90,113.71 556.92,113.71 557.94,113.71 558.96,113.71 559.98,113.71 561.00,113.71 562.02,113.71 563.04,113.71 564.06,113.70 565.08,113.70 566.10,113.70 567.12,113.70 568.14,113.70 569.16,113.70 570.18,113.69 571.20,113.69 572.22,113.69 573.24,113.69 574.26,113.68 575.28,113.68 576.30,113.68 577.32,113.68 578.34,113.67 579.36,113.67 580.38,113.67 581.40,113.66 582.42,113.66 583.44,113.65 584.46,113.65 585.48,113.65 586.50,113.64 587.52,113.64 588.54,113.63 589.56,113.63 590.58,113.62 591.60,113.61 592.62,113.61 593.64,113.60 594.66,113.60 595.68,113.59 595.68,115.04 594.66,115.04 593.64,115.05 592.62,115.06 591.60,115.06 590.58,115.07 589.56,115.07 588.54,115.08 587.52,115.08 586.50,115.09 585.48,115.09 584.46,115.10 583.44,115.10 582.42,115.11 581.40,115.11 580.38,115.11 579.36,115.12 578.34,115.12 577.32,115.12 576.30,115.13 575.28,115.13 574.26,115.13 573.24,115.13 572.22,115.14 571.20,115.14 570.18,115.14 569.16,115.14 568.14,115.15 567.12,115.15 566.10,115.15 565.08,115.15 564.06,115.15 563.04,115.15 562.02,115.15 561.00,115.15 559.98,115.16 558.96,115.16 557.94,115.16 556.92,115.16 555.90,115.16 554.88,115.16 553.86,115.16 552.84,115.16 551.82,115.16 550.80,115.16 549.78,115.16 548.76,115.16 547.74,115.16 546.72,115.15 545.70,115.15 544.68,115.15 543.66,115.15 542.64,115.14 541.62,115.14 540.60,115.14 539.58,115.13 538.56,115.13 537.54,115.12 536.52,115.12 535.50,115.12 534.48,115.11 533.46,115.11 532.44,115.10 531.42,115.10 530.40,115.09 529.38,115.09 528.36,115.08 527.34,115.08 526.32,115.07 525.30,115.07 524.28,115.06 523.26,115.06 522.24,115.05 521.22,115.05 520.20,115.05 519.18,115.04 518.16,115.04 517.14,115.03 516.12,115.03 515.10,115.03 514.08,115.02 513.06,115.02 512.04,115.02 511.02,115.01 510.00,115.01 508.98,115.01 507.96,115.00 506.94,115.00 505.92,114.99 504.90,114.99 503.88,114.99 502.86,114.98 501.84,114.98 500.82,114.98 499.80,114.97 498.78,114.97 497.76,114.96 496.74,114.96 495.72,114.96 494.70,114.95 493.68,114.95 492.66,114.95 491.64,114.94 490.62,114.94 489.60,114.94 488.58,114.93 487.56,114.93 486.54,114.92 485.52,114.92 484.50,114.92" fill="#aaa" fill-opacity="0.35"/>
<g fill="#E76BF3" fill-opacity="0.85"><circle cx="484.50" cy="114.00" r="0.7"/><circle cx="485.52" cy="112.93" r="0.7"/><circle cx="486.54" cy="113.05" r="0.7"/><circle cx="487.56" cy="114.28" r="0.7"/><circle cx="488.58" cy="114.38" r="0.7"/><circle cx="489.60" cy="115.12" r="0.7"/><circle cx="490.62" cy="114.72" r="0.7"/><circle cx="491.64" cy="113.91" r="0.7"/><circle cx="492.66" cy="113.94" r="0.7"/><circle cx="493.68" cy="114.15" r="0.7"/><circle cx="494.70" cy="113.51" r="0.7"/><circle cx="495.72" cy="114.79" r="0.7"/><circle cx="496.74" cy="114.28" r="0.7"/><circle cx="497.76" cy="113.71" r="0.7"/><circle cx="498.78" cy="113.82" r="0.7"/><circle cx="499.80" cy="113.47" r="0.7"/><circle cx="500.82" cy="113.96" r="0.7"/><circle cx="501.84" cy="114.48" r="0.7"/><circle cx="502.86" cy="114.00" r="0.7"/><circle cx="503.88" cy="114.99" r="0.7"/><circle cx="504.90" cy="115.45" r="0.7"/><circle cx="505.92" cy="113.85" r="0.7"/><circle cx="506.94" cy="114.31" r="0.7"/><circle cx="507.96" cy="114.05" r="0.7"/><circle cx="508.98" cy="115.51" r="0.7"/><circle cx="510.00" cy="114.55" r="0.7"/><circle cx="511.02" cy="114.72" r="0.7"/><circle cx="512.04" cy="114.92" r="0.7"/><circle cx="513.06" cy="115.93" r="0.7"/><circle cx="514.08" cy="114.54" r="0.7"/><circle cx="515.10" cy="113.65" r="0.7"/><circle cx="516.12" cy="114.03" r="0.7"/><circle cx="517.14" cy="114.75" r="0.7"/><circle cx="518.16" cy="114.33" r="0.7"/><circle cx="519.18" cy="113.77" r="0.7"/><circle cx="520.20" cy="116.32" r="0.7"/><circle cx="521.22" cy="114.42" r="0.7"/><circle cx="522.24" cy="113.94" r="0.7"/><circle cx="523.26" cy="113.84" r="0.7"/><circle cx="524.28" cy="113.11" r="0.7"/><circle cx="525.30" cy="113.52" r="0.7"/><circle cx="526.32" cy="114.12" r="0.7"/><circle cx="527.34" cy="114.14" r="0.7"/><circle cx="528.36" cy="113.79" r="0.7"/><circle cx="529.38" cy="114.75" r="0.7"/><circle cx="530.40" cy="114.40" r="0.7"/><circle cx="531.42" cy="113.72" r="0.7"/><circle cx="532.44" cy="112.96" r="0.7"/><circle cx="533.46" cy="114.50" r="0.7"/><circle cx="534.48" cy="114.42" r="0.7"/><circle cx="535.50" cy="114.25" r="0.7"/><circle cx="536.52" cy="113.42" r="0.7"/><circle cx="537.54" cy="114.42" r="0.7"/><circle cx="538.56" cy="113.34" r="0.7"/><circle cx="539.58" cy="115.11" r="0.7"/><circle cx="540.60" cy="114.55" r="0.7"/><circle cx="541.62" cy="114.56" r="0.7"/><circle cx="542.64" cy="113.85" r="0.7"/><circle cx="543.66" cy="113.67" r="0.7"/><circle cx="544.68" cy="115.52" r="0.7"/><circle cx="545.70" cy="115.09" r="0.7"/><circle cx="546.72" cy="114.19" r="0.7"/><circle cx="547.74" cy="114.91" r="0.7"/><circle cx="548.76" cy="115.53" r="0.7"/><circle cx="549.78" cy="113.68" r="0.7"/><circle cx="550.80" cy="114.08" r="0.7"/><circle cx="551.82" cy="114.08" r="0.7"/><circle cx="552.84" cy="114.78" r="0.7"/><circle cx="553.86" cy="113.69" r="0.7"/><circle cx="554.88" cy="114.61" r="0.7"/><circle cx="555.90" cy="113.64" r="0.7"/><circle cx="556.92" cy="115.09" r="0.7"/><circle cx="557.94" cy="115.05" r="0.7"/><circle cx="558.96" cy="114.28" r="0.7"/><circle cx="559.98" cy="114.94" r="0.7"/><circle cx="561.00" cy="113.94" r="0.7"/><circle cx="562.02" cy="114.24" r="0.7"/><circle cx="563.04" cy="115.10" r="0.7"/><circle cx="564.06" cy="114.37" r="0.7"/><circle cx="565.08" cy="114.68" r="0.7"/><circle cx="566.10" cy="113.76" r="0.7"/><circle cx="567.12" cy="114.88" r="0.7"/><circle cx="568.14" cy="114.74" r="0.7"/><circle cx="569.16" cy="113.54" r="0.7"/><circle cx="570.18" cy="112.80" r="0.7"/><circle cx="571.20" cy="112.97" r="0.7"/><circle cx="572.22" cy="114.37" r="0.7"/><circle cx="573.24" cy="114.25" r="0.7"/><circle cx="574.26" cy="113.30" r="0.7"/><circle cx="575.28" cy="114.50" r="0.7"/><circle cx="576.30" cy="115.11" r="0.7"/><circle cx="577.32" cy="114.31" r="0.7"/><circle cx="578.34" cy="114.07" r="0.7"/><circle cx="579.36" cy="114.99" r="0.7"/><circle cx="580.38" cy="115.58" r="0.7"/><circle cx="581.40" cy="115.43" r="0.7"/><circle cx="582.42" cy="113.90" r="0.7"/><circle cx="583.44" cy="114.93" r="0.7"/><circle cx="584.46" cy="114.48" r="0.7"/><circle cx="585.48" cy="114.22" r="0.7"/><circle cx="586.50" cy="113.92" r="0.7"/><circle cx="587.52" cy="114.60" r="0.7"/><circle cx="588.54" cy="113.99" r="0.7"/><circle cx="589.56" cy="114.99" r="0.7"/><circle cx="590.58" cy="114.61" r="0.7"/><circle cx="591.60" cy="115.08" r="0.7"/><circle cx="592.62" cy="113.51" r="0.7"/><circle cx="593.64" cy="114.35" r="0.7"/><circle cx="594.66" cy="114.86" r="0.7"/><circle cx="595.68" cy="114.57" r="0.7"/></g>
<polyline points="484.50,114.19 485.52,114.20 486.54,114.20 487.56,114.20 488.58,114.21 489.60,114.21 490.62,114.22 491.64,114.22 492.66,114.22 493.68,114.23 494.70,114.23 495.72,114.23 496.74,114.24 497.76,114.24 498.78,114.24 499.80,114.25 500.82,114.25 501.84,114.26 502.86,114.26 503.88,114.26 504.90,114.27 505.92,114.27 506.94,114.27 507.96,114.28 508.98,114.28 510.00,114.29 511.02,114.29 512.04,114.29 513.06,114.30 514.08,114.30 515.10,114.30 516.12,114.31 517.14,114.31 518.16,114.31 519.18,114.32 520.20,114.32 521.22,114.33 522.24,114.33 523.26,114.33 524.28,114.34 525.30,114.34 526.32,114.35 527.34,114.35 528.36,114.36 529.38,114.36 530.40,114.37 531.42,114.37 532.44,114.38 533.46,114.38 534.48,114.39 535.50,114.39 536.52,114.40 537.54,114.40 538.56,114.40 539.58,114.41 540.60,114.41 541.62,114.42 542.64,114.42 543.66,114.42 544.68,114.43 545.70,114.43 546.72,114.43 547.74,114.43 548.76,114.43 549.78,114.43 550.80,114.43 551.82,114.43 552.84,114.43 553.86,114.43 554.88,114.43 555.90,114.43 556.92,114.43 557.94,114.43 558.96,114.43 559.98,114.43 561.00,114.43 562.02,114.43 563.04,114.43 564.06,114.43 565.08,114.43 566.10,114.42 567.12,114.42 568.14,114.42 569.16,114.42 570.18,114.42 571.20,114.42 572.22,114.41 573.24,114.41 574.26,114.41 575.28,114.41 576.30,114.40 577.32,114.40 578.34,114.40 579.36,114.39 580.38,114.39 581.40,114.39 582.42,114.38 583.44,114.38 584.46,114.37 585.48,114.37 586.50,114.36 587.52,114.36 588.54,114.35 589.56,114.35 590.58,114.34 591.60,114.34 592.62,114.33 593.64,114.33 594.66,114.32 595.68,114.31" fill="none" stroke="#E76BF3" stroke-width="1.5" stroke-linejoin="round" stroke-linecap="round"/>
<text x="539.90" y="6.80" font-size="9.25" text-anchor="middle" fill="#000" color="#000">Effect of CpG ICC cutoffs</text>
<text x="539.75" y="139.20" font-size="9.25" text-anchor="middle" fill="#000" color="#000">ICC cutoff</text>
<text x="468.50" y="66.20" font-size="9.25" text-anchor="middle" fill="#000" color="#000" transform="rotate(-90 468.50 66.20)">PhenoAge Deviation</text>
<text x="610.80" y="41.80" font-size="6.5" text-anchor="start" fill="#000" color="#000">Deviation</text>
<rect x="611" y="45.40" width="9.9" height="50.6" fill="#d9d9d9"/>
<line x1="611.6" y1="50.40" x2="620.3" y2="50.40" stroke="#F8766D" stroke-width="1.2"/>
<text x="623.90" y="52.40" font-size="5.6" text-anchor="start" fill="#000" color="#000">Max</text>
<line x1="611.6" y1="60.48" x2="620.3" y2="60.48" stroke="#A3A500" stroke-width="1.2"/>
<text x="623.90" y="62.48" font-size="5.6" text-anchor="start" fill="#000" color="#000">Q3</text>
<line x1="611.6" y1="70.56" x2="620.3" y2="70.56" stroke="#00BF7D" stroke-width="1.2"/>
<text x="623.90" y="72.56" font-size="5.6" text-anchor="start" fill="#000" color="#000">Median</text>
<line x1="611.6" y1="80.64" x2="620.3" y2="80.64" stroke="#00B0F6" stroke-width="1.2"/>
<text x="623.90" y="82.64" font-size="5.6" text-anchor="start" fill="#000" color="#000">Q1</text>
<line x1="611.6" y1="90.72" x2="620.3" y2="90.72" stroke="#E76BF3" stroke-width="1.2"/>
<text x="623.90" y="92.72" font-size="5.6" text-anchor="start" fill="#000" color="#000">Min</text>
<rect x="48.30" y="181.30" width="105.10" height="76.90" fill="none" stroke="#a8a8a8" stroke-width="1"/>
<line x1="53.40" y1="258.20" x2="53.40" y2="259.80" stroke="#333" stroke-width="0.8"/>
<text x="53.40" y="267.41" font-size="8.2" text-anchor="middle" fill="#4d4d4d" color="#4d4d4d">0.0</text>
<line x1="72.30" y1="258.20" x2="72.30" y2="259.80" stroke="#333" stroke-width="0.8"/>
<text x="72.30" y="267.41" font-size="8.2" text-anchor="middle" fill="#4d4d4d" color="#4d4d4d">0.2</text>
<line x1="91.20" y1="258.20" x2="91.20" y2="259.80" stroke="#333" stroke-width="0.8"/>
<text x="91.20" y="267.41" font-size="8.2" text-anchor="middle" fill="#4d4d4d" color="#4d4d4d">0.4</text>
<line x1="110.10" y1="258.20" x2="110.10" y2="259.80" stroke="#333" stroke-width="0.8"/>
<text x="110.10" y="267.41" font-size="8.2" text-anchor="middle" fill="#4d4d4d" color="#4d4d4d">0.6</text>
<line x1="129.00" y1="258.20" x2="129.00" y2="259.80" stroke="#333" stroke-width="0.8"/>
<text x="129.00" y="267.41" font-size="8.2" text-anchor="middle" fill="#4d4d4d" color="#4d4d4d">0.8</text>
<line x1="147.90" y1="258.20" x2="147.90" y2="259.80" stroke="#333" stroke-width="0.8"/>
<text x="147.90" y="267.41" font-size="8.2" text-anchor="middle" fill="#4d4d4d" color="#4d4d4d">1.0</text>
<line x1="46.70" y1="255.30" x2="48.30" y2="255.30" stroke="#333" stroke-width="0.8"/>
<text x="45.50" y="258.21" font-size="8.2" text-anchor="end" fill="#4d4d4d" color="#4d4d4d">0</text>
<line x1="46.70" y1="237.65" x2="48.30" y2="237.65" stroke="#333" stroke-width="0.8"/>
<text x="45.50" y="240.56" font-size="8.2" text-anchor="end" fill="#4d4d4d" color="#4d4d4d">20000</text>
<line x1="46.70" y1="220.00" x2="48.30" y2="220.00" stroke="#333" stroke-width="0.8"/>
<text x="45.50" y="222.91" font-size="8.2" text-anchor="end" fill="#4d4d4d" color="#4d4d4d">40000</text>
<line x1="46.70" y1="202.35" x2="48.30" y2="202.35" stroke="#333" stroke-width="0.8"/>
<text x="45.50" y="205.26" font-size="8.2" text-anchor="end" fill="#4d4d4d" color="#4d4d4d">60000</text>
<line x1="46.70" y1="184.70" x2="48.30" y2="184.70" stroke="#333" stroke-width="0.8"/>
<text x="45.50" y="187.61" font-size="8.2" text-anchor="end" fill="#4d4d4d" color="#4d4d4d">80000</text>
<g fill="#111" fill-opacity="0.9"><circle cx="53.40" cy="193.26" r="0.8"/><circle cx="54.99" cy="194.11" r="0.8"/><circle cx="56.57" cy="194.96" r="0.8"/><circle cx="58.16" cy="195.81" r="0.8"/><circle cx="59.74" cy="196.68" r="0.8"/><circle cx="61.33" cy="197.54" r="0.8"/><circle cx="62.91" cy="198.41" r="0.8"/><circle cx="64.50" cy="199.30" r="0.8"/><circle cx="66.09" cy="200.20" r="0.8"/><circle cx="67.67" cy="201.11" r="0.8"/><circle cx="69.26" cy="202.01" r="0.8"/><circle cx="70.84" cy="202.89" r="0.8"/><circle cx="72.43" cy="203.74" r="0.8"/><circle cx="74.01" cy="204.57" r="0.8"/><circle cx="75.60" cy="205.39" r="0.8"/><circle cx="77.19" cy="206.20" r="0.8"/><circle cx="78.77" cy="206.98" r="0.8"/><circle cx="80.36" cy="207.72" r="0.8"/><circle cx="81.94" cy="208.43" r="0.8"/><circle cx="83.53" cy="209.11" r="0.8"/><circle cx="85.11" cy="209.75" r="0.8"/><circle cx="86.70" cy="210.37" r="0.8"/><circle cx="88.28" cy="210.98" r="0.8"/><circle cx="89.87" cy="211.57" r="0.8"/><circle cx="91.46" cy="212.15" r="0.8"/><circle cx="93.04" cy="212.72" r="0.8"/><circle cx="94.63" cy="213.26" r="0.8"/><circle cx="96.21" cy="213.80" r="0.8"/><circle cx="97.80" cy="214.33" r="0.8"/><circle cx="99.38" cy="214.88" r="0.8"/><circle cx="100.97" cy="215.44" r="0.8"/><circle cx="102.56" cy="216.00" r="0.8"/><circle cx="104.14" cy="216.56" r="0.8"/><circle cx="105.73" cy="217.13" r="0.8"/><circle cx="107.31" cy="217.72" r="0.8"/><circle cx="108.90" cy="218.35" r="0.8"/><circle cx="110.48" cy="219.02" r="0.8"/><circle cx="112.07" cy="219.73" r="0.8"/><circle cx="113.66" cy="220.48" r="0.8"/><circle cx="115.24" cy="221.27" r="0.8"/><circle cx="116.83" cy="222.12" r="0.8"/><circle cx="118.41" cy="223.02" r="0.8"/><circle cx="120.00" cy="223.99" r="0.8"/><circle cx="121.58" cy="225.02" r="0.8"/><circle cx="123.17" cy="226.13" r="0.8"/><circle cx="124.76" cy="227.33" r="0.8"/><circle cx="126.34" cy="228.62" r="0.8"/><circle cx="127.93" cy="230.02" r="0.8"/><circle cx="129.51" cy="231.55" r="0.8"/><circle cx="131.10" cy="233.36" r="0.8"/><circle cx="132.68" cy="235.38" r="0.8"/><circle cx="134.27" cy="237.52" r="0.8"/><circle cx="135.86" cy="239.88" r="0.8"/><circle cx="137.44" cy="242.32" r="0.8"/><circle cx="139.03" cy="244.66" r="0.8"/><circle cx="140.61" cy="246.96" r="0.8"/><circle cx="142.20" cy="249.17" r="0.8"/><circle cx="143.78" cy="251.21" r="0.8"/><circle cx="145.37" cy="253.10" r="0.8"/><circle cx="146.95" cy="254.86" r="0.8"/></g>
<polyline points="53.40,193.26 54.19,193.68 54.97,194.10 55.76,194.52 56.54,194.94 57.33,195.37 58.12,195.79 58.90,196.22 59.69,196.65 60.48,197.08 61.26,197.51 62.05,197.94 62.83,198.37 63.62,198.81 64.41,199.25 65.19,199.69 65.98,200.14 66.77,200.59 67.55,201.04 68.34,201.49 69.12,201.94 69.91,202.38 70.70,202.81 71.48,203.24 72.27,203.66 73.05,204.07 73.84,204.48 74.63,204.89 75.41,205.30 76.20,205.70 76.99,206.10 77.77,206.49 78.56,206.87 79.34,207.25 80.13,207.62 80.92,207.98 81.70,208.33 82.49,208.67 83.27,209.00 84.06,209.33 84.85,209.65 85.63,209.96 86.42,210.27 87.21,210.57 87.99,210.87 88.78,211.16 89.56,211.45 90.35,211.74 91.14,212.03 91.92,212.32 92.71,212.60 93.50,212.87 94.28,213.14 95.07,213.41 95.85,213.68 96.64,213.94 97.43,214.21 98.21,214.47 99.00,214.74 99.78,215.02 100.57,215.29 101.36,215.58 102.14,215.85 102.93,216.13 103.72,216.41 104.50,216.69 105.29,216.97 106.07,217.26 106.86,217.55 107.65,217.85 108.43,218.16 109.22,218.48 110.00,218.81 110.79,219.15 111.58,219.51 112.36,219.87 113.15,220.24 113.94,220.62 114.72,221.01 115.51,221.41 116.29,221.83 117.08,222.26 117.87,222.70 118.65,223.16 119.44,223.64 120.22,224.13 121.01,224.64 121.80,225.16 122.58,225.71 123.37,226.27 124.16,226.86 124.94,227.47 125.73,228.11 126.51,228.77 127.30,229.45 128.09,230.17 128.87,230.91 129.66,231.70 130.45,232.58 131.23,233.52 132.02,234.51 132.80,235.54 133.59,236.59 134.38,237.67 135.16,238.82 135.95,240.02 136.73,241.24 137.52,242.45 138.31,243.62 139.09,244.76 139.88,245.90 140.67,247.03 141.45,248.14 142.24,249.22 143.02,250.25 143.81,251.24 144.60,252.20 145.38,253.12 146.17,254.01 146.95,254.86" fill="none" stroke="#3d5fd0" stroke-width="1.4" stroke-linejoin="round" stroke-linecap="round"/>
<text x="100.65" y="155.30" font-size="9.25" text-anchor="middle" fill="#000" color="#000">Effect of random CpG sample</text>
<text x="100.65" y="165.50" font-size="9.25" text-anchor="middle" fill="#000" color="#000">on number of</text>
<text x="100.65" y="175.30" font-size="9.25" text-anchor="middle" fill="#000" color="#000">variables considered</text>
<text x="100.65" y="278.20" font-size="9.25" text-anchor="middle" fill="#000" color="#000">Random sample equivalent</text>
<text x="100.65" y="288.10" font-size="9.25" text-anchor="middle" fill="#000" color="#000">for ICC cutoff</text>
<text x="19.50" y="220.20" font-size="9.25" text-anchor="middle" fill="#000" color="#000" transform="rotate(-90 19.50 220.20)">Number of variables for training</text>
<rect x="192.40" y="170.70" width="111.00" height="87.70" fill="none" stroke="#a8a8a8" stroke-width="1"/>
<line x1="197.30" y1="258.40" x2="197.30" y2="260.00" stroke="#333" stroke-width="0.8"/>
<text x="197.30" y="267.61" font-size="8.2" text-anchor="middle" fill="#4d4d4d" color="#4d4d4d">0.0</text>
<line x1="217.68" y1="258.40" x2="217.68" y2="260.00" stroke="#333" stroke-width="0.8"/>
<text x="217.68" y="267.61" font-size="8.2" text-anchor="middle" fill="#4d4d4d" color="#4d4d4d">0.2</text>
<line x1="238.06" y1="258.40" x2="238.06" y2="260.00" stroke="#333" stroke-width="0.8"/>
<text x="238.06" y="267.61" font-size="8.2" text-anchor="middle" fill="#4d4d4d" color="#4d4d4d">0.4</text>
<line x1="258.44" y1="258.40" x2="258.44" y2="260.00" stroke="#333" stroke-width="0.8"/>
<text x="258.44" y="267.61" font-size="8.2" text-anchor="middle" fill="#4d4d4d" color="#4d4d4d">0.6</text>
<line x1="278.82" y1="258.40" x2="278.82" y2="260.00" stroke="#333" stroke-width="0.8"/>
<text x="278.82" y="267.61" font-size="8.2" text-anchor="middle" fill="#4d4d4d" color="#4d4d4d">0.8</text>
<line x1="299.20" y1="258.40" x2="299.20" y2="260.00" stroke="#333" stroke-width="0.8"/>
<text x="299.20" y="267.61" font-size="8.2" text-anchor="middle" fill="#4d4d4d" color="#4d4d4d">1.0</text>
<line x1="190.80" y1="257.50" x2="192.40" y2="257.50" stroke="#333" stroke-width="0.8"/>
<text x="189.60" y="260.41" font-size="8.2" text-anchor="end" fill="#4d4d4d" color="#4d4d4d">0.80</text>
<line x1="190.80" y1="232.17" x2="192.40" y2="232.17" stroke="#333" stroke-width="0.8"/>
<text x="189.60" y="235.08" font-size="8.2" text-anchor="end" fill="#4d4d4d" color="#4d4d4d">0.85</text>
<line x1="190.80" y1="206.83" x2="192.40" y2="206.83" stroke="#333" stroke-width="0.8"/>
<text x="189.60" y="209.74" font-size="8.2" text-anchor="end" fill="#4d4d4d" color="#4d4d4d">0.90</text>
<line x1="190.80" y1="181.50" x2="192.40" y2="181.50" stroke="#333" stroke-width="0.8"/>
<text x="189.60" y="184.41" font-size="8.2" text-anchor="end" fill="#4d4d4d" color="#4d4d4d">0.95</text>
<g fill="#111" fill-opacity="0.9"><circle cx="197.30" cy="181.70" r="0.85"/><circle cx="199.01" cy="181.22" r="0.85"/><circle cx="200.72" cy="183.63" r="0.85"/><circle cx="202.43" cy="183.36" r="0.85"/><circle cx="204.14" cy="182.91" r="0.85"/><circle cx="205.85" cy="180.36" r="0.85"/><circle cx="207.56" cy="181.88" r="0.85"/><circle cx="209.27" cy="182.97" r="0.85"/><circle cx="210.98" cy="182.34" r="0.85"/><circle cx="212.69" cy="181.30" r="0.85"/><circle cx="214.40" cy="184.03" r="0.85"/><circle cx="216.11" cy="186.72" r="0.85"/><circle cx="217.82" cy="188.05" r="0.85"/><circle cx="219.53" cy="189.78" r="0.85"/><circle cx="221.24" cy="190.10" r="0.85"/><circle cx="222.95" cy="191.53" r="0.85"/><circle cx="224.66" cy="189.63" r="0.85"/><circle cx="226.37" cy="190.10" r="0.85"/><circle cx="228.08" cy="191.40" r="0.85"/><circle cx="229.79" cy="191.55" r="0.85"/><circle cx="231.50" cy="194.27" r="0.85"/><circle cx="233.21" cy="192.10" r="0.85"/><circle cx="234.92" cy="193.21" r="0.85"/><circle cx="236.63" cy="193.35" r="0.85"/><circle cx="238.34" cy="194.07" r="0.85"/><circle cx="240.05" cy="195.49" r="0.85"/><circle cx="241.76" cy="196.49" r="0.85"/><circle cx="243.47" cy="194.07" r="0.85"/><circle cx="245.18" cy="194.54" r="0.85"/><circle cx="246.89" cy="193.63" r="0.85"/><circle cx="248.60" cy="193.34" r="0.85"/><circle cx="250.31" cy="192.86" r="0.85"/><circle cx="252.02" cy="194.85" r="0.85"/><circle cx="253.72" cy="192.12" r="0.85"/><circle cx="255.43" cy="193.65" r="0.85"/><circle cx="257.14" cy="194.27" r="0.85"/><circle cx="258.85" cy="195.38" r="0.85"/><circle cx="260.56" cy="198.32" r="0.85"/><circle cx="262.27" cy="200.40" r="0.85"/><circle cx="263.98" cy="199.85" r="0.85"/><circle cx="265.69" cy="200.23" r="0.85"/><circle cx="267.40" cy="198.93" r="0.85"/><circle cx="269.11" cy="196.96" r="0.85"/><circle cx="270.82" cy="195.70" r="0.85"/><circle cx="272.53" cy="189.65" r="0.85"/><circle cx="274.24" cy="191.79" r="0.85"/><circle cx="275.95" cy="191.04" r="0.85"/><circle cx="277.66" cy="192.18" r="0.85"/><circle cx="279.37" cy="193.14" r="0.85"/><circle cx="281.08" cy="193.63" r="0.85"/><circle cx="282.79" cy="194.65" r="0.85"/><circle cx="284.50" cy="195.15" r="0.85"/><circle cx="286.21" cy="196.57" r="0.85"/><circle cx="287.92" cy="195.68" r="0.85"/><circle cx="289.63" cy="194.89" r="0.85"/><circle cx="291.34" cy="196.33" r="0.85"/><circle cx="293.05" cy="201.28" r="0.85"/><circle cx="294.76" cy="212.09" r="0.85"/><circle cx="296.47" cy="227.39" r="0.85"/><circle cx="298.18" cy="239.87" r="0.85"/><circle cx="269.65" cy="203.03" r="0.85"/><circle cx="284.93" cy="195.69" r="0.85"/><circle cx="294.11" cy="212.91" r="0.85"/><circle cx="298.18" cy="212.91" r="0.85"/><circle cx="295.63" cy="239.77" r="0.85"/><circle cx="297.67" cy="246.35" r="0.85"/><circle cx="296.65" cy="253.45" r="0.85"/></g>
<polygon points="197.30,179.37 198.15,179.56 199.00,179.73 199.84,179.89 200.69,180.04 201.54,180.17 202.39,180.28 203.23,180.37 204.08,180.44 204.93,180.49 205.78,180.54 206.63,180.58 207.47,180.62 208.32,180.68 209.17,180.74 210.02,180.79 210.86,180.86 211.71,180.93 212.56,181.03 213.41,181.16 214.25,181.55 215.10,182.57 215.95,183.97 216.80,185.48 217.65,186.80 218.49,187.67 219.34,188.04 220.19,188.32 221.04,188.54 221.88,188.73 222.73,188.90 223.58,189.06 224.43,189.22 225.28,189.36 226.12,189.49 226.97,189.62 227.82,189.74 228.67,189.87 229.51,190.01 230.36,190.13 231.21,190.25 232.06,190.37 232.91,190.51 233.75,190.66 234.60,190.83 235.45,191.06 236.30,191.44 237.14,191.91 237.99,192.38 238.84,192.78 239.69,193.02 240.53,193.03 241.38,192.91 242.23,192.69 243.08,192.41 243.93,192.12 244.77,191.85 245.62,191.62 246.47,191.34 247.32,191.05 248.16,190.78 249.01,190.56 249.86,190.44 250.71,190.43 251.56,190.53 252.40,190.70 253.25,190.95 254.10,191.24 254.95,191.56 255.79,191.95 256.64,192.64 257.49,193.54 258.34,194.51 259.18,195.38 260.03,196.01 260.88,196.30 261.73,196.51 262.58,196.69 263.42,196.83 264.27,196.94 265.12,197.00 265.97,196.97 266.81,196.69 267.66,196.17 268.51,195.48 269.36,194.66 270.21,193.41 271.05,191.06 271.90,188.75 272.75,187.78 273.60,187.97 274.44,188.39 275.29,188.87 276.14,189.26 276.99,189.64 277.84,190.03 278.68,190.42 279.53,190.79 280.38,191.16 281.23,191.49 282.07,191.80 282.92,192.06 283.77,192.28 284.62,192.49 285.46,192.70 286.31,192.94 287.16,193.22 288.01,193.57 288.86,193.98 289.70,194.49 290.55,195.17 291.40,196.08 292.25,197.26 293.09,200.06 293.94,204.31 294.79,209.47 295.64,216.01 296.49,222.56 297.33,229.18 298.18,236.02 298.18,246.35 297.33,238.67 296.49,231.21 295.64,223.82 294.79,216.43 293.94,210.43 293.09,205.34 292.25,201.70 291.40,200.34 290.55,199.43 289.70,198.75 288.86,198.24 288.01,197.82 287.16,197.47 286.31,197.19 285.46,196.96 284.62,196.75 283.77,196.54 282.92,196.32 282.07,196.06 281.23,195.75 280.38,195.41 279.53,195.05 278.68,194.67 277.84,194.29 276.99,193.90 276.14,193.52 275.29,193.13 274.44,192.65 273.60,192.23 272.75,192.04 271.90,193.01 271.05,195.31 270.21,197.67 269.36,198.92 268.51,199.73 267.66,200.43 266.81,200.94 265.97,201.23 265.12,201.25 264.27,201.19 263.42,201.09 262.58,200.94 261.73,200.76 260.88,200.56 260.03,200.27 259.18,199.64 258.34,198.76 257.49,197.80 256.64,196.89 255.79,196.20 254.95,195.82 254.10,195.49 253.25,195.20 252.40,194.96 251.56,194.78 250.71,194.69 249.86,194.69 249.01,194.82 248.16,195.04 247.32,195.31 246.47,195.60 245.62,195.87 244.77,196.11 243.93,196.38 243.08,196.67 242.23,196.94 241.38,197.16 240.53,197.29 239.69,197.28 238.84,197.04 237.99,196.64 237.14,196.16 236.30,195.69 235.45,195.32 234.60,195.09 233.75,194.91 232.91,194.76 232.06,194.63 231.21,194.51 230.36,194.39 229.51,194.26 228.67,194.13 227.82,194.00 226.97,193.88 226.12,193.75 225.28,193.62 224.43,193.48 223.58,193.31 222.73,193.15 221.88,192.99 221.04,192.80 220.19,192.57 219.34,192.29 218.49,191.93 217.65,191.06 216.80,189.73 215.95,188.23 215.10,186.83 214.25,185.81 213.41,185.42 212.56,185.29 211.71,185.19 210.86,185.11 210.02,185.05 209.17,184.99 208.32,184.93 207.47,184.88 206.63,184.83 205.78,184.79 204.93,184.75 204.08,184.69 203.23,184.63 202.39,184.54 201.54,184.43 200.69,184.30 199.84,184.15 199.00,183.99 198.15,183.81 197.30,183.63" fill="#a9afc6" fill-opacity="0.55"/>
<polyline points="197.30,181.50 198.15,181.68 199.00,181.86 199.84,182.02 200.69,182.17 201.54,182.30 202.39,182.41 203.23,182.50 204.08,182.57 204.93,182.62 205.78,182.66 206.63,182.71 207.47,182.75 208.32,182.80 209.17,182.86 210.02,182.92 210.86,182.98 211.71,183.06 212.56,183.16 213.41,183.29 214.25,183.68 215.10,184.70 215.95,186.10 216.80,187.60 217.65,188.93 218.49,189.80 219.34,190.17 220.19,190.44 221.04,190.67 221.88,190.86 222.73,191.02 223.58,191.19 224.43,191.35 225.28,191.49 226.12,191.62 226.97,191.75 227.82,191.87 228.67,192.00 229.51,192.14 230.36,192.26 231.21,192.38 232.06,192.50 232.91,192.64 233.75,192.78 234.60,192.96 235.45,193.19 236.30,193.57 237.14,194.04 237.99,194.51 238.84,194.91 239.69,195.15 240.53,195.16 241.38,195.03 242.23,194.82 243.08,194.54 243.93,194.25 244.77,193.98 245.62,193.74 246.47,193.47 247.32,193.18 248.16,192.91 249.01,192.69 249.86,192.56 250.71,192.56 251.56,192.65 252.40,192.83 253.25,193.08 254.10,193.37 254.95,193.69 255.79,194.08 256.64,194.77 257.49,195.67 258.34,196.64 259.18,197.51 260.03,198.14 260.88,198.43 261.73,198.64 262.58,198.82 263.42,198.96 264.27,199.07 265.12,199.12 265.97,199.10 266.81,198.82 267.66,198.30 268.51,197.60 269.36,196.79 270.21,195.54 271.05,193.19 271.90,190.88 272.75,189.91 273.60,190.10 274.44,190.52 275.29,191.00 276.14,191.39 276.99,191.77 277.84,192.16 278.68,192.54 279.53,192.92 280.38,193.28 281.23,193.62 282.07,193.93 282.92,194.19 283.77,194.41 284.62,194.62 285.46,194.83 286.31,195.07 287.16,195.35 288.01,195.69 288.86,196.11 289.70,196.62 290.55,197.30 291.40,198.21 292.25,199.48 293.09,202.70 293.94,207.37 294.79,212.95 295.64,219.91 296.49,226.89 297.33,233.93 298.18,241.19" fill="none" stroke="#3d5fd0" stroke-width="1.3" stroke-linejoin="round" stroke-linecap="round"/>
<text x="247.60" y="155.20" font-size="9.25" text-anchor="middle" fill="#000" color="#000">Effect of random CpG sample</text>
<text x="247.60" y="165.00" font-size="9.25" text-anchor="middle" fill="#000" color="#000">on clock ICC</text>
<text x="247.60" y="278.20" font-size="9.25" text-anchor="middle" fill="#000" color="#000">Random sample equivalent</text>
<text x="247.60" y="288.10" font-size="9.25" text-anchor="middle" fill="#000" color="#000">for ICC cutoff</text>
<text x="169.80" y="214.50" font-size="9.25" text-anchor="middle" fill="#000" color="#000" transform="rotate(-90 169.80 214.50)">Clock ICC</text>
<rect x="342.40" y="161.50" width="107.30" height="97.50" fill="none" stroke="#a8a8a8" stroke-width="1"/>
<line x1="347.40" y1="259.00" x2="347.40" y2="260.60" stroke="#333" stroke-width="0.8"/>
<text x="347.40" y="268.21" font-size="8.2" text-anchor="middle" fill="#4d4d4d" color="#4d4d4d">0.0</text>
<line x1="367.46" y1="259.00" x2="367.46" y2="260.60" stroke="#333" stroke-width="0.8"/>
<text x="367.46" y="268.21" font-size="8.2" text-anchor="middle" fill="#4d4d4d" color="#4d4d4d">0.2</text>
<line x1="387.52" y1="259.00" x2="387.52" y2="260.60" stroke="#333" stroke-width="0.8"/>
<text x="387.52" y="268.21" font-size="8.2" text-anchor="middle" fill="#4d4d4d" color="#4d4d4d">0.4</text>
<line x1="407.58" y1="259.00" x2="407.58" y2="260.60" stroke="#333" stroke-width="0.8"/>
<text x="407.58" y="268.21" font-size="8.2" text-anchor="middle" fill="#4d4d4d" color="#4d4d4d">0.6</text>
<line x1="427.64" y1="259.00" x2="427.64" y2="260.60" stroke="#333" stroke-width="0.8"/>
<text x="427.64" y="268.21" font-size="8.2" text-anchor="middle" fill="#4d4d4d" color="#4d4d4d">0.8</text>
<line x1="447.70" y1="259.00" x2="447.70" y2="260.60" stroke="#333" stroke-width="0.8"/>
<text x="447.70" y="268.21" font-size="8.2" text-anchor="middle" fill="#4d4d4d" color="#4d4d4d">1.0</text>
<line x1="340.80" y1="254.40" x2="342.40" y2="254.40" stroke="#333" stroke-width="0.8"/>
<text x="339.60" y="257.31" font-size="8.2" text-anchor="end" fill="#4d4d4d" color="#4d4d4d">1.000</text>
<line x1="340.80" y1="226.77" x2="342.40" y2="226.77" stroke="#333" stroke-width="0.8"/>
<text x="339.60" y="229.68" font-size="8.2" text-anchor="end" fill="#4d4d4d" color="#4d4d4d">1.025</text>
<line x1="340.80" y1="199.13" x2="342.40" y2="199.13" stroke="#333" stroke-width="0.8"/>
<text x="339.60" y="202.04" font-size="8.2" text-anchor="end" fill="#4d4d4d" color="#4d4d4d">1.050</text>
<line x1="340.80" y1="171.50" x2="342.40" y2="171.50" stroke="#333" stroke-width="0.8"/>
<text x="339.60" y="174.41" font-size="8.2" text-anchor="end" fill="#4d4d4d" color="#4d4d4d">1.075</text>
<g fill="#111" fill-opacity="0.9"><circle cx="347.40" cy="174.21" r="0.85"/><circle cx="348.82" cy="174.32" r="0.85"/><circle cx="350.25" cy="174.66" r="0.85"/><circle cx="351.67" cy="174.42" r="0.85"/><circle cx="353.10" cy="175.11" r="0.85"/><circle cx="354.52" cy="174.94" r="0.85"/><circle cx="355.95" cy="176.16" r="0.85"/><circle cx="357.37" cy="175.73" r="0.85"/><circle cx="358.80" cy="173.55" r="0.85"/><circle cx="360.22" cy="176.58" r="0.85"/><circle cx="361.65" cy="177.47" r="0.85"/><circle cx="363.07" cy="177.27" r="0.85"/><circle cx="364.49" cy="177.32" r="0.85"/><circle cx="365.92" cy="179.03" r="0.85"/><circle cx="367.34" cy="177.87" r="0.85"/><circle cx="368.77" cy="176.41" r="0.85"/><circle cx="370.19" cy="176.70" r="0.85"/><circle cx="371.62" cy="176.55" r="0.85"/><circle cx="373.04" cy="174.87" r="0.85"/><circle cx="374.47" cy="176.86" r="0.85"/><circle cx="375.89" cy="175.85" r="0.85"/><circle cx="377.32" cy="176.17" r="0.85"/><circle cx="378.74" cy="173.81" r="0.85"/><circle cx="380.16" cy="176.60" r="0.85"/><circle cx="381.59" cy="174.52" r="0.85"/><circle cx="383.01" cy="173.67" r="0.85"/><circle cx="384.44" cy="172.17" r="0.85"/><circle cx="385.86" cy="172.22" r="0.85"/><circle cx="387.29" cy="171.44" r="0.85"/><circle cx="388.71" cy="174.39" r="0.85"/><circle cx="390.14" cy="172.08" r="0.85"/><circle cx="391.56" cy="173.20" r="0.85"/><circle cx="392.99" cy="173.86" r="0.85"/><circle cx="394.41" cy="173.06" r="0.85"/><circle cx="395.83" cy="174.87" r="0.85"/><circle cx="397.26" cy="176.21" r="0.85"/><circle cx="398.68" cy="174.28" r="0.85"/><circle cx="400.11" cy="174.67" r="0.85"/><circle cx="401.53" cy="173.13" r="0.85"/><circle cx="402.96" cy="171.95" r="0.85"/><circle cx="404.38" cy="172.73" r="0.85"/><circle cx="405.81" cy="172.63" r="0.85"/><circle cx="407.23" cy="175.41" r="0.85"/><circle cx="408.66" cy="177.21" r="0.85"/><circle cx="410.08" cy="176.73" r="0.85"/><circle cx="411.50" cy="177.22" r="0.85"/><circle cx="412.93" cy="178.11" r="0.85"/><circle cx="414.35" cy="178.26" r="0.85"/><circle cx="415.78" cy="181.61" r="0.85"/><circle cx="417.20" cy="184.57" r="0.85"/><circle cx="418.63" cy="183.36" r="0.85"/><circle cx="420.05" cy="185.11" r="0.85"/><circle cx="421.48" cy="184.71" r="0.85"/><circle cx="422.90" cy="184.79" r="0.85"/><circle cx="424.33" cy="183.98" r="0.85"/><circle cx="425.75" cy="183.78" r="0.85"/><circle cx="427.17" cy="181.08" r="0.85"/><circle cx="428.60" cy="181.03" r="0.85"/><circle cx="430.02" cy="181.34" r="0.85"/><circle cx="431.45" cy="182.04" r="0.85"/><circle cx="432.87" cy="184.82" r="0.85"/><circle cx="434.30" cy="185.07" r="0.85"/><circle cx="435.72" cy="187.28" r="0.85"/><circle cx="437.15" cy="189.09" r="0.85"/><circle cx="438.57" cy="193.19" r="0.85"/><circle cx="440.00" cy="193.16" r="0.85"/><circle cx="441.42" cy="198.05" r="0.85"/><circle cx="442.84" cy="203.43" r="0.85"/><circle cx="444.27" cy="210.60" r="0.85"/><circle cx="445.69" cy="221.52" r="0.85"/><circle cx="443.69" cy="227.87" r="0.85"/></g>
<polygon points="347.40,173.16 348.23,173.21 349.05,173.27 349.88,173.34 350.70,173.42 351.53,173.50 352.36,173.59 353.18,173.69 354.01,173.79 354.83,173.91 355.66,174.04 356.49,174.18 357.31,174.35 358.14,174.57 358.96,174.90 359.79,175.29 360.62,175.72 361.44,176.14 362.27,176.52 363.09,176.81 363.92,176.99 364.75,177.02 365.57,176.96 366.40,176.85 367.22,176.69 368.05,176.51 368.88,176.30 369.70,176.10 370.53,175.90 371.35,175.72 372.18,175.57 373.01,175.43 373.83,175.29 374.66,175.16 375.48,175.02 376.31,174.86 377.14,174.70 377.96,174.51 378.79,174.29 379.61,173.95 380.44,173.51 381.27,173.04 382.09,172.58 382.92,172.19 383.74,171.92 384.57,171.83 385.40,171.83 386.22,171.83 387.05,171.83 387.87,171.83 388.70,171.83 389.53,171.83 390.35,171.83 391.18,171.86 392.00,171.98 392.83,172.17 393.66,172.39 394.48,172.62 395.31,172.84 396.13,173.02 396.96,173.13 397.79,173.15 398.61,172.94 399.44,172.56 400.26,172.10 401.09,171.67 401.92,171.37 402.74,171.29 403.57,171.54 404.39,172.06 405.22,172.72 406.05,173.41 406.87,174.01 407.70,174.42 408.52,174.66 409.35,174.84 410.18,175.00 411.00,175.18 411.83,175.40 412.65,175.73 413.48,176.46 414.31,177.62 415.13,178.96 415.96,180.23 416.78,181.18 417.61,182.04 418.44,182.88 419.26,183.57 420.09,184.01 420.91,184.10 421.74,184.05 422.57,183.95 423.39,183.81 424.22,183.64 425.04,183.38 425.87,182.71 426.70,181.82 427.52,180.99 428.35,180.50 429.17,180.50 430.00,180.72 430.83,181.10 431.65,181.57 432.48,182.10 433.30,182.76 434.13,183.69 434.96,184.84 435.78,186.12 436.61,187.43 437.43,188.78 438.26,190.25 439.09,191.85 439.91,193.60 440.74,195.52 441.56,197.52 442.39,199.77 443.22,202.58 444.04,206.43 444.87,212.58 445.69,220.25 445.69,222.23 444.87,214.56 444.04,208.42 443.22,204.57 442.39,201.76 441.56,199.51 440.74,197.51 439.91,195.59 439.09,193.84 438.26,192.24 437.43,190.77 436.61,189.42 435.78,188.11 434.96,186.83 434.13,185.68 433.30,184.75 432.48,184.09 431.65,183.56 430.83,183.09 430.00,182.71 429.17,182.49 428.35,182.49 427.52,182.98 426.70,183.81 425.87,184.70 425.04,185.37 424.22,185.63 423.39,185.80 422.57,185.94 421.74,186.04 420.91,186.09 420.09,186.00 419.26,185.56 418.44,184.87 417.61,184.03 416.78,183.17 415.96,182.22 415.13,180.95 414.31,179.61 413.48,178.45 412.65,177.72 411.83,177.39 411.00,177.17 410.18,176.99 409.35,176.83 408.52,176.65 407.70,176.41 406.87,176.00 406.05,175.40 405.22,174.71 404.39,174.05 403.57,173.53 402.74,173.28 401.92,173.35 401.09,173.66 400.26,174.09 399.44,174.55 398.61,174.93 397.79,175.14 396.96,175.12 396.13,175.01 395.31,174.83 394.48,174.61 393.66,174.38 392.83,174.16 392.00,173.97 391.18,173.85 390.35,173.82 389.53,173.82 388.70,173.82 387.87,173.82 387.05,173.82 386.22,173.82 385.40,173.82 384.57,173.82 383.74,173.91 382.92,174.18 382.09,174.57 381.27,175.03 380.44,175.50 379.61,175.94 378.79,176.28 377.96,176.50 377.14,176.69 376.31,176.85 375.48,177.01 374.66,177.15 373.83,177.28 373.01,177.42 372.18,177.56 371.35,177.71 370.53,177.89 369.70,178.09 368.88,178.29 368.05,178.50 367.22,178.68 366.40,178.84 365.57,178.95 364.75,179.01 363.92,178.98 363.09,178.80 362.27,178.51 361.44,178.13 360.62,177.71 359.79,177.28 358.96,176.89 358.14,176.56 357.31,176.34 356.49,176.17 355.66,176.03 354.83,175.90 354.01,175.78 353.18,175.68 352.36,175.58 351.53,175.49 350.70,175.41 349.88,175.33 349.05,175.26 348.23,175.20 347.40,175.15" fill="#a9afc6" fill-opacity="0.55"/>
<polyline points="347.40,174.15 348.23,174.20 349.05,174.27 349.88,174.34 350.70,174.41 351.53,174.50 352.36,174.59 353.18,174.68 354.01,174.79 354.83,174.90 355.66,175.03 356.49,175.18 357.31,175.34 358.14,175.57 358.96,175.89 359.79,176.29 360.62,176.72 361.44,177.14 362.27,177.51 363.09,177.81 363.92,177.99 364.75,178.02 365.57,177.96 366.40,177.85 367.22,177.69 368.05,177.50 368.88,177.30 369.70,177.09 370.53,176.89 371.35,176.72 372.18,176.57 373.01,176.42 373.83,176.29 374.66,176.15 375.48,176.01 376.31,175.86 377.14,175.69 377.96,175.50 378.79,175.28 379.61,174.94 380.44,174.51 381.27,174.03 382.09,173.58 382.92,173.18 383.74,172.92 384.57,172.83 385.40,172.83 386.22,172.83 387.05,172.83 387.87,172.83 388.70,172.83 389.53,172.83 390.35,172.83 391.18,172.86 392.00,172.98 392.83,173.16 393.66,173.38 394.48,173.61 395.31,173.83 396.13,174.01 396.96,174.13 397.79,174.14 398.61,173.94 399.44,173.55 400.26,173.10 401.09,172.67 401.92,172.36 402.74,172.28 403.57,172.54 404.39,173.05 405.22,173.71 406.05,174.40 406.87,175.01 407.70,175.41 408.52,175.66 409.35,175.84 410.18,176.00 411.00,176.17 411.83,176.40 412.65,176.72 413.48,177.45 414.31,178.61 415.13,179.96 415.96,181.22 416.78,182.18 417.61,183.03 418.44,183.87 419.26,184.57 420.09,185.01 420.91,185.09 421.74,185.04 422.57,184.95 423.39,184.81 424.22,184.64 425.04,184.37 425.87,183.70 426.70,182.81 427.52,181.99 428.35,181.49 429.17,181.49 430.00,181.72 430.83,182.09 431.65,182.57 432.48,183.10 433.30,183.75 434.13,184.69 434.96,185.84 435.78,187.11 436.61,188.43 437.43,189.78 438.26,191.25 439.09,192.85 439.91,194.60 440.74,196.51 441.56,198.52 442.39,200.77 443.22,203.57 444.04,207.42 444.87,213.57 445.69,221.24" fill="none" stroke="#3d5fd0" stroke-width="1.3" stroke-linejoin="round" stroke-linecap="round"/>
<text x="396.20" y="155.20" font-size="9.25" text-anchor="middle" fill="#000" color="#000">Effect of random CpG sample</text>
<text x="396.20" y="278.20" font-size="9.25" text-anchor="middle" fill="#000" color="#000">Random sample equivalent</text>
<text x="396.20" y="288.10" font-size="9.25" text-anchor="middle" fill="#000" color="#000">for ICC cutoff</text>
<text x="316.80" y="210.30" font-size="9.25" text-anchor="middle" fill="#000" color="#000" transform="rotate(-90 316.80 210.30)">Mortality HR (1 Year)</text>
<rect x="483.50" y="161.50" width="116.90" height="97.70" fill="none" stroke="#a8a8a8" stroke-width="1"/>
<line x1="488.40" y1="259.20" x2="488.40" y2="260.80" stroke="#333" stroke-width="0.8"/>
<text x="488.40" y="268.41" font-size="8.2" text-anchor="middle" fill="#4d4d4d" color="#4d4d4d">0.0</text>
<line x1="510.02" y1="259.20" x2="510.02" y2="260.80" stroke="#333" stroke-width="0.8"/>
<text x="510.02" y="268.41" font-size="8.2" text-anchor="middle" fill="#4d4d4d" color="#4d4d4d">0.2</text>
<line x1="531.64" y1="259.20" x2="531.64" y2="260.80" stroke="#333" stroke-width="0.8"/>
<text x="531.64" y="268.41" font-size="8.2" text-anchor="middle" fill="#4d4d4d" color="#4d4d4d">0.4</text>
<line x1="553.26" y1="259.20" x2="553.26" y2="260.80" stroke="#333" stroke-width="0.8"/>
<text x="553.26" y="268.41" font-size="8.2" text-anchor="middle" fill="#4d4d4d" color="#4d4d4d">0.6</text>
<line x1="574.88" y1="259.20" x2="574.88" y2="260.80" stroke="#333" stroke-width="0.8"/>
<text x="574.88" y="268.41" font-size="8.2" text-anchor="middle" fill="#4d4d4d" color="#4d4d4d">0.8</text>
<line x1="596.50" y1="259.20" x2="596.50" y2="260.80" stroke="#333" stroke-width="0.8"/>
<text x="596.50" y="268.41" font-size="8.2" text-anchor="middle" fill="#4d4d4d" color="#4d4d4d">1.0</text>
<line x1="481.90" y1="255.20" x2="483.50" y2="255.20" stroke="#333" stroke-width="0.8"/>
<text x="480.70" y="258.11" font-size="8.2" text-anchor="end" fill="#4d4d4d" color="#4d4d4d">0</text>
<line x1="481.90" y1="226.53" x2="483.50" y2="226.53" stroke="#333" stroke-width="0.8"/>
<text x="480.70" y="229.44" font-size="8.2" text-anchor="end" fill="#4d4d4d" color="#4d4d4d">4</text>
<line x1="481.90" y1="197.87" x2="483.50" y2="197.87" stroke="#333" stroke-width="0.8"/>
<text x="480.70" y="200.78" font-size="8.2" text-anchor="end" fill="#4d4d4d" color="#4d4d4d">8</text>
<line x1="481.90" y1="169.20" x2="483.50" y2="169.20" stroke="#333" stroke-width="0.8"/>
<text x="480.70" y="172.11" font-size="8.2" text-anchor="end" fill="#4d4d4d" color="#4d4d4d">12</text>
<polygon points="488.40,202.74 489.38,202.55 490.36,202.38 491.35,202.23 492.33,202.09 493.31,201.97 494.29,201.87 495.27,201.79 496.25,201.72 497.24,201.66 498.22,201.63 499.20,201.60 500.18,201.59 501.16,201.61 502.15,201.68 503.13,201.79 504.11,201.92 505.09,202.07 506.07,202.23 507.05,202.38 508.04,202.52 509.02,202.63 510.00,202.71 510.98,202.74 511.96,202.74 512.95,202.74 513.93,202.74 514.91,202.74 515.89,202.74 516.87,202.74 517.85,202.74 518.84,202.74 519.82,202.74 520.80,202.74 521.78,202.74 522.76,202.74 523.75,202.74 524.73,202.74 525.71,202.76 526.69,202.88 527.67,203.08 528.65,203.35 529.64,203.66 530.62,204.00 531.60,204.34 532.58,204.65 533.56,204.92 534.55,205.13 535.53,205.26 536.51,205.40 537.49,205.52 538.47,205.64 539.45,205.74 540.44,205.82 541.42,205.87 542.40,205.89 543.38,205.72 544.36,205.24 545.35,204.54 546.33,203.70 547.31,202.84 548.29,202.04 549.27,201.38 550.26,200.69 551.24,199.94 552.22,199.17 553.20,198.41 554.18,197.69 555.16,197.05 556.15,196.51 557.13,196.12 558.11,195.90 559.09,195.91 560.07,196.38 561.06,197.21 562.04,198.26 563.02,199.37 564.00,200.39 564.98,201.18 565.96,201.57 566.95,201.59 567.93,201.55 568.91,201.49 569.89,201.41 570.87,201.31 571.86,201.19 572.84,201.05 573.82,200.90 574.80,200.73 575.78,200.55 576.76,200.33 577.75,200.02 578.73,199.62 579.71,199.14 580.69,198.57 581.67,197.94 582.66,197.24 583.64,196.49 584.62,195.54 585.60,194.32 586.58,192.87 587.56,191.24 588.55,189.44 589.53,187.53 590.51,185.48 591.49,183.10 592.47,180.39 593.46,177.40 594.44,174.18 595.42,170.78 595.42,176.22 594.44,179.62 593.46,182.85 592.47,185.84 591.49,188.55 590.51,190.93 589.53,192.97 588.55,194.89 587.56,196.68 586.58,198.32 585.60,199.77 584.62,200.98 583.64,201.94 582.66,202.69 581.67,203.39 580.69,204.02 579.71,204.58 578.73,205.07 577.75,205.47 576.76,205.78 575.78,206.00 574.80,206.18 573.82,206.34 572.84,206.50 571.86,206.63 570.87,206.76 569.89,206.86 568.91,206.94 567.93,207.00 566.95,207.03 565.96,207.02 564.98,206.62 564.00,205.84 563.02,204.82 562.04,203.71 561.06,202.66 560.07,201.83 559.09,201.36 558.11,201.34 557.13,201.56 556.15,201.96 555.16,202.49 554.18,203.14 553.20,203.86 552.22,204.62 551.24,205.39 550.26,206.14 549.27,206.82 548.29,207.49 547.31,208.29 546.33,209.15 545.35,209.98 544.36,210.69 543.38,211.17 542.40,211.34 541.42,211.32 540.44,211.27 539.45,211.19 538.47,211.09 537.49,210.97 536.51,210.84 535.53,210.71 534.55,210.57 533.56,210.37 532.58,210.10 531.60,209.78 530.62,209.45 529.64,209.11 528.65,208.80 527.67,208.53 526.69,208.32 525.71,208.21 524.73,208.19 523.75,208.19 522.76,208.19 521.78,208.19 520.80,208.19 519.82,208.19 518.84,208.19 517.85,208.19 516.87,208.19 515.89,208.19 514.91,208.19 513.93,208.19 512.95,208.19 511.96,208.19 510.98,208.19 510.00,208.15 509.02,208.08 508.04,207.96 507.05,207.82 506.07,207.67 505.09,207.52 504.11,207.37 503.13,207.24 502.15,207.13 501.16,207.06 500.18,207.04 499.20,207.05 498.22,207.07 497.24,207.11 496.25,207.16 495.27,207.23 494.29,207.32 493.31,207.42 492.33,207.54 491.35,207.67 490.36,207.83 489.38,208.00 488.40,208.19" fill="#aaa" fill-opacity="0.35"/>
<g fill="#F8766D" fill-opacity="0.85"><circle cx="488.40" cy="205.72" r="0.7"/><circle cx="489.38" cy="207.33" r="0.7"/><circle cx="490.36" cy="204.84" r="0.7"/><circle cx="491.35" cy="206.79" r="0.7"/><circle cx="492.33" cy="203.23" r="0.7"/><circle cx="493.31" cy="206.77" r="0.7"/><circle cx="494.29" cy="204.70" r="0.7"/><circle cx="495.27" cy="201.70" r="0.7"/><circle cx="496.25" cy="197.07" r="0.7"/><circle cx="497.24" cy="207.28" r="0.7"/><circle cx="498.22" cy="205.68" r="0.7"/><circle cx="499.20" cy="206.73" r="0.7"/><circle cx="500.18" cy="202.07" r="0.7"/><circle cx="501.16" cy="207.63" r="0.7"/><circle cx="502.15" cy="205.79" r="0.7"/><circle cx="503.13" cy="204.60" r="0.7"/><circle cx="504.11" cy="207.45" r="0.7"/><circle cx="505.09" cy="207.54" r="0.7"/><circle cx="506.07" cy="206.31" r="0.7"/><circle cx="507.05" cy="211.12" r="0.7"/><circle cx="508.04" cy="209.38" r="0.7"/><circle cx="509.02" cy="206.54" r="0.7"/><circle cx="510.00" cy="205.01" r="0.7"/><circle cx="510.98" cy="206.00" r="0.7"/><circle cx="511.96" cy="210.55" r="0.7"/><circle cx="512.95" cy="206.79" r="0.7"/><circle cx="513.93" cy="203.17" r="0.7"/><circle cx="514.91" cy="203.87" r="0.7"/><circle cx="515.89" cy="205.69" r="0.7"/><circle cx="516.87" cy="208.01" r="0.7"/><circle cx="517.85" cy="203.65" r="0.7"/><circle cx="518.84" cy="207.12" r="0.7"/><circle cx="519.82" cy="208.82" r="0.7"/><circle cx="520.80" cy="207.76" r="0.7"/><circle cx="521.78" cy="201.31" r="0.7"/><circle cx="522.76" cy="204.83" r="0.7"/><circle cx="523.75" cy="202.14" r="0.7"/><circle cx="524.73" cy="206.84" r="0.7"/><circle cx="525.71" cy="202.79" r="0.7"/><circle cx="526.69" cy="207.32" r="0.7"/><circle cx="527.67" cy="206.25" r="0.7"/><circle cx="528.65" cy="198.95" r="0.7"/><circle cx="529.64" cy="204.19" r="0.7"/><circle cx="530.62" cy="208.16" r="0.7"/><circle cx="531.60" cy="207.30" r="0.7"/><circle cx="532.58" cy="206.44" r="0.7"/><circle cx="533.56" cy="204.17" r="0.7"/><circle cx="534.55" cy="209.25" r="0.7"/><circle cx="535.53" cy="212.98" r="0.7"/><circle cx="536.51" cy="208.92" r="0.7"/><circle cx="537.49" cy="208.20" r="0.7"/><circle cx="538.47" cy="208.05" r="0.7"/><circle cx="539.45" cy="204.69" r="0.7"/><circle cx="540.44" cy="207.64" r="0.7"/><circle cx="541.42" cy="206.27" r="0.7"/><circle cx="542.40" cy="211.77" r="0.7"/><circle cx="543.38" cy="205.96" r="0.7"/><circle cx="544.36" cy="201.95" r="0.7"/><circle cx="545.35" cy="205.04" r="0.7"/><circle cx="546.33" cy="205.70" r="0.7"/><circle cx="547.31" cy="205.12" r="0.7"/><circle cx="548.29" cy="199.64" r="0.7"/><circle cx="549.27" cy="206.76" r="0.7"/><circle cx="550.26" cy="203.73" r="0.7"/><circle cx="551.24" cy="201.35" r="0.7"/><circle cx="552.22" cy="199.76" r="0.7"/><circle cx="553.20" cy="202.39" r="0.7"/><circle cx="554.18" cy="199.53" r="0.7"/><circle cx="555.16" cy="200.57" r="0.7"/><circle cx="556.15" cy="198.89" r="0.7"/><circle cx="557.13" cy="199.22" r="0.7"/><circle cx="558.11" cy="201.89" r="0.7"/><circle cx="559.09" cy="198.70" r="0.7"/><circle cx="560.07" cy="196.59" r="0.7"/><circle cx="561.06" cy="202.71" r="0.7"/><circle cx="562.04" cy="201.68" r="0.7"/><circle cx="563.02" cy="200.19" r="0.7"/><circle cx="564.00" cy="206.18" r="0.7"/><circle cx="564.98" cy="203.38" r="0.7"/><circle cx="565.96" cy="207.33" r="0.7"/><circle cx="566.95" cy="201.06" r="0.7"/><circle cx="567.93" cy="197.65" r="0.7"/><circle cx="568.91" cy="198.42" r="0.7"/><circle cx="569.89" cy="204.76" r="0.7"/><circle cx="570.87" cy="201.91" r="0.7"/><circle cx="571.86" cy="203.56" r="0.7"/><circle cx="572.84" cy="203.48" r="0.7"/><circle cx="573.82" cy="199.18" r="0.7"/><circle cx="574.80" cy="207.23" r="0.7"/><circle cx="575.78" cy="200.25" r="0.7"/><circle cx="576.76" cy="203.20" r="0.7"/><circle cx="577.75" cy="198.71" r="0.7"/><circle cx="578.73" cy="201.81" r="0.7"/><circle cx="579.71" cy="203.79" r="0.7"/><circle cx="580.69" cy="200.50" r="0.7"/><circle cx="581.67" cy="198.55" r="0.7"/><circle cx="582.66" cy="199.87" r="0.7"/><circle cx="583.64" cy="197.81" r="0.7"/><circle cx="584.62" cy="199.76" r="0.7"/><circle cx="585.60" cy="203.16" r="0.7"/><circle cx="586.58" cy="193.02" r="0.7"/><circle cx="587.56" cy="191.96" r="0.7"/><circle cx="588.55" cy="191.74" r="0.7"/><circle cx="589.53" cy="190.05" r="0.7"/><circle cx="590.51" cy="185.23" r="0.7"/><circle cx="591.49" cy="187.13" r="0.7"/><circle cx="592.47" cy="185.14" r="0.7"/><circle cx="593.46" cy="180.66" r="0.7"/><circle cx="594.44" cy="173.49" r="0.7"/><circle cx="595.42" cy="177.48" r="0.7"/></g>
<polyline points="488.40,205.46 489.38,205.27 490.36,205.10 491.35,204.95 492.33,204.81 493.31,204.70 494.29,204.59 495.27,204.51 496.25,204.44 497.24,204.39 498.22,204.35 499.20,204.33 500.18,204.32 501.16,204.34 502.15,204.41 503.13,204.51 504.11,204.64 505.09,204.79 506.07,204.95 507.05,205.10 508.04,205.24 509.02,205.35 510.00,205.43 510.98,205.46 511.96,205.46 512.95,205.46 513.93,205.46 514.91,205.46 515.89,205.46 516.87,205.46 517.85,205.46 518.84,205.46 519.82,205.46 520.80,205.46 521.78,205.46 522.76,205.46 523.75,205.46 524.73,205.46 525.71,205.48 526.69,205.60 527.67,205.80 528.65,206.07 529.64,206.39 530.62,206.72 531.60,207.06 532.58,207.37 533.56,207.64 534.55,207.85 535.53,207.99 536.51,208.12 537.49,208.25 538.47,208.36 539.45,208.47 540.44,208.54 541.42,208.60 542.40,208.62 543.38,208.45 544.36,207.96 545.35,207.26 546.33,206.43 547.31,205.56 548.29,204.76 549.27,204.10 550.26,203.41 551.24,202.67 552.22,201.90 553.20,201.13 554.18,200.42 555.16,199.77 556.15,199.23 557.13,198.84 558.11,198.62 559.09,198.64 560.07,199.11 561.06,199.94 562.04,200.98 563.02,202.09 564.00,203.12 564.98,203.90 565.96,204.30 566.95,204.31 567.93,204.28 568.91,204.22 569.89,204.14 570.87,204.03 571.86,203.91 572.84,203.77 573.82,203.62 574.80,203.45 575.78,203.27 576.76,203.06 577.75,202.75 578.73,202.34 579.71,201.86 580.69,201.30 581.67,200.66 582.66,199.97 583.64,199.21 584.62,198.26 585.60,197.04 586.58,195.60 587.56,193.96 588.55,192.17 589.53,190.25 590.51,188.20 591.49,185.82 592.47,183.11 593.46,180.12 594.44,176.90 595.42,173.50" fill="none" stroke="#F8766D" stroke-width="1.5" stroke-linejoin="round" stroke-linecap="round"/>
<polygon points="488.40,228.68 489.38,228.67 490.36,228.63 491.35,228.57 492.33,228.48 493.31,228.37 494.29,228.25 495.27,228.11 496.25,227.96 497.24,227.80 498.22,227.63 499.20,227.45 500.18,227.27 501.16,227.06 502.15,226.79 503.13,226.47 504.11,226.10 505.09,225.69 506.07,225.26 507.05,224.81 508.04,224.35 509.02,223.89 510.00,223.44 510.98,223.00 511.96,222.54 512.95,221.99 513.93,221.40 514.91,220.78 515.89,220.18 516.87,219.61 517.85,219.11 518.84,218.72 519.82,218.46 520.80,218.36 521.78,218.38 522.76,218.41 523.75,218.48 524.73,218.56 525.71,218.65 526.69,218.76 527.67,218.87 528.65,219.00 529.64,219.12 530.62,219.24 531.60,219.36 532.58,219.50 533.56,219.66 534.55,219.85 535.53,220.06 536.51,220.27 537.49,220.48 538.47,220.67 539.45,220.83 540.44,220.97 541.42,221.05 542.40,221.09 543.38,221.07 544.36,221.02 545.35,220.95 546.33,220.85 547.31,220.74 548.29,220.61 549.27,220.48 550.26,220.34 551.24,220.21 552.22,220.08 553.20,219.94 554.18,219.76 555.16,219.57 556.15,219.36 557.13,219.15 558.11,218.95 559.09,218.76 560.07,218.60 561.06,218.47 562.04,218.39 563.02,218.36 564.00,218.46 564.98,218.70 565.96,219.08 566.95,219.56 567.93,220.11 568.91,220.71 569.89,221.32 570.87,221.93 571.86,222.50 572.84,223.01 573.82,223.55 574.80,224.16 575.78,224.81 576.76,225.45 577.75,226.05 578.73,226.56 579.71,226.96 580.69,227.20 581.67,227.24 582.66,227.01 583.64,226.52 584.62,225.82 585.60,224.94 586.58,223.92 587.56,222.78 588.55,221.58 589.53,220.23 590.51,218.38 591.49,216.06 592.47,213.35 593.46,210.31 594.44,207.04 595.42,203.60 595.42,206.47 594.44,209.91 593.46,213.18 592.47,216.21 591.49,218.92 590.51,221.24 589.53,223.09 588.55,224.44 587.56,225.65 586.58,226.78 585.60,227.81 584.62,228.69 583.64,229.39 582.66,229.87 581.67,230.10 580.69,230.07 579.71,229.83 578.73,229.43 577.75,228.91 576.76,228.31 575.78,227.67 574.80,227.03 573.82,226.41 572.84,225.88 571.86,225.37 570.87,224.80 569.89,224.19 568.91,223.58 567.93,222.98 566.95,222.43 565.96,221.95 564.98,221.57 564.00,221.32 563.02,221.23 562.04,221.26 561.06,221.34 560.07,221.47 559.09,221.63 558.11,221.81 557.13,222.02 556.15,222.23 555.16,222.43 554.18,222.63 553.20,222.80 552.22,222.95 551.24,223.07 550.26,223.21 549.27,223.34 548.29,223.48 547.31,223.60 546.33,223.72 545.35,223.82 544.36,223.89 543.38,223.94 542.40,223.95 541.42,223.92 540.44,223.83 539.45,223.70 538.47,223.53 537.49,223.34 536.51,223.14 535.53,222.93 534.55,222.72 533.56,222.53 532.58,222.36 531.60,222.23 530.62,222.11 529.64,221.99 528.65,221.86 527.67,221.74 526.69,221.62 525.71,221.52 524.73,221.42 523.75,221.34 522.76,221.28 521.78,221.24 520.80,221.23 519.82,221.33 518.84,221.59 517.85,221.98 516.87,222.48 515.89,223.04 514.91,223.65 513.93,224.27 512.95,224.86 511.96,225.41 510.98,225.87 510.00,226.31 509.02,226.76 508.04,227.22 507.05,227.68 506.07,228.13 505.09,228.56 504.11,228.97 503.13,229.33 502.15,229.66 501.16,229.93 500.18,230.14 499.20,230.32 498.22,230.50 497.24,230.67 496.25,230.83 495.27,230.98 494.29,231.12 493.31,231.24 492.33,231.35 491.35,231.43 490.36,231.50 489.38,231.54 488.40,231.55" fill="#aaa" fill-opacity="0.35"/>
<g fill="#A3A500" fill-opacity="0.85"><circle cx="488.40" cy="228.24" r="0.7"/><circle cx="489.38" cy="231.11" r="0.7"/><circle cx="490.36" cy="231.80" r="0.7"/><circle cx="491.35" cy="228.01" r="0.7"/><circle cx="492.33" cy="230.07" r="0.7"/><circle cx="493.31" cy="231.86" r="0.7"/><circle cx="494.29" cy="230.25" r="0.7"/><circle cx="495.27" cy="228.08" r="0.7"/><circle cx="496.25" cy="227.52" r="0.7"/><circle cx="497.24" cy="229.91" r="0.7"/><circle cx="498.22" cy="228.42" r="0.7"/><circle cx="499.20" cy="227.76" r="0.7"/><circle cx="500.18" cy="229.72" r="0.7"/><circle cx="501.16" cy="227.93" r="0.7"/><circle cx="502.15" cy="228.27" r="0.7"/><circle cx="503.13" cy="228.74" r="0.7"/><circle cx="504.11" cy="228.31" r="0.7"/><circle cx="505.09" cy="227.02" r="0.7"/><circle cx="506.07" cy="226.65" r="0.7"/><circle cx="507.05" cy="227.14" r="0.7"/><circle cx="508.04" cy="226.46" r="0.7"/><circle cx="509.02" cy="223.57" r="0.7"/><circle cx="510.00" cy="224.54" r="0.7"/><circle cx="510.98" cy="223.04" r="0.7"/><circle cx="511.96" cy="222.08" r="0.7"/><circle cx="512.95" cy="222.50" r="0.7"/><circle cx="513.93" cy="219.25" r="0.7"/><circle cx="514.91" cy="223.52" r="0.7"/><circle cx="515.89" cy="220.33" r="0.7"/><circle cx="516.87" cy="221.54" r="0.7"/><circle cx="517.85" cy="217.62" r="0.7"/><circle cx="518.84" cy="217.47" r="0.7"/><circle cx="519.82" cy="222.98" r="0.7"/><circle cx="520.80" cy="221.32" r="0.7"/><circle cx="521.78" cy="218.76" r="0.7"/><circle cx="522.76" cy="218.60" r="0.7"/><circle cx="523.75" cy="218.75" r="0.7"/><circle cx="524.73" cy="220.10" r="0.7"/><circle cx="525.71" cy="219.37" r="0.7"/><circle cx="526.69" cy="219.16" r="0.7"/><circle cx="527.67" cy="220.43" r="0.7"/><circle cx="528.65" cy="218.81" r="0.7"/><circle cx="529.64" cy="224.12" r="0.7"/><circle cx="530.62" cy="219.68" r="0.7"/><circle cx="531.60" cy="222.43" r="0.7"/><circle cx="532.58" cy="219.42" r="0.7"/><circle cx="533.56" cy="221.46" r="0.7"/><circle cx="534.55" cy="222.69" r="0.7"/><circle cx="535.53" cy="220.90" r="0.7"/><circle cx="536.51" cy="223.14" r="0.7"/><circle cx="537.49" cy="223.35" r="0.7"/><circle cx="538.47" cy="224.57" r="0.7"/><circle cx="539.45" cy="222.31" r="0.7"/><circle cx="540.44" cy="221.62" r="0.7"/><circle cx="541.42" cy="220.87" r="0.7"/><circle cx="542.40" cy="222.74" r="0.7"/><circle cx="543.38" cy="220.85" r="0.7"/><circle cx="544.36" cy="222.43" r="0.7"/><circle cx="545.35" cy="222.53" r="0.7"/><circle cx="546.33" cy="221.38" r="0.7"/><circle cx="547.31" cy="220.50" r="0.7"/><circle cx="548.29" cy="222.58" r="0.7"/><circle cx="549.27" cy="222.29" r="0.7"/><circle cx="550.26" cy="222.03" r="0.7"/><circle cx="551.24" cy="221.51" r="0.7"/><circle cx="552.22" cy="222.93" r="0.7"/><circle cx="553.20" cy="219.75" r="0.7"/><circle cx="554.18" cy="221.83" r="0.7"/><circle cx="555.16" cy="220.27" r="0.7"/><circle cx="556.15" cy="222.10" r="0.7"/><circle cx="557.13" cy="220.02" r="0.7"/><circle cx="558.11" cy="219.76" r="0.7"/><circle cx="559.09" cy="220.86" r="0.7"/><circle cx="560.07" cy="216.85" r="0.7"/><circle cx="561.06" cy="219.32" r="0.7"/><circle cx="562.04" cy="217.02" r="0.7"/><circle cx="563.02" cy="218.28" r="0.7"/><circle cx="564.00" cy="220.93" r="0.7"/><circle cx="564.98" cy="220.74" r="0.7"/><circle cx="565.96" cy="219.83" r="0.7"/><circle cx="566.95" cy="220.90" r="0.7"/><circle cx="567.93" cy="221.47" r="0.7"/><circle cx="568.91" cy="222.59" r="0.7"/><circle cx="569.89" cy="225.61" r="0.7"/><circle cx="570.87" cy="223.72" r="0.7"/><circle cx="571.86" cy="227.43" r="0.7"/><circle cx="572.84" cy="223.86" r="0.7"/><circle cx="573.82" cy="226.13" r="0.7"/><circle cx="574.80" cy="226.72" r="0.7"/><circle cx="575.78" cy="226.58" r="0.7"/><circle cx="576.76" cy="226.45" r="0.7"/><circle cx="577.75" cy="229.74" r="0.7"/><circle cx="578.73" cy="230.75" r="0.7"/><circle cx="579.71" cy="230.08" r="0.7"/><circle cx="580.69" cy="231.85" r="0.7"/><circle cx="581.67" cy="230.19" r="0.7"/><circle cx="582.66" cy="225.93" r="0.7"/><circle cx="583.64" cy="229.62" r="0.7"/><circle cx="584.62" cy="226.23" r="0.7"/><circle cx="585.60" cy="228.54" r="0.7"/><circle cx="586.58" cy="224.88" r="0.7"/><circle cx="587.56" cy="224.72" r="0.7"/><circle cx="588.55" cy="223.10" r="0.7"/><circle cx="589.53" cy="220.76" r="0.7"/><circle cx="590.51" cy="217.04" r="0.7"/><circle cx="591.49" cy="217.18" r="0.7"/><circle cx="592.47" cy="214.58" r="0.7"/><circle cx="593.46" cy="213.28" r="0.7"/><circle cx="594.44" cy="207.55" r="0.7"/><circle cx="595.42" cy="205.42" r="0.7"/></g>
<polyline points="488.40,230.12 489.38,230.10 490.36,230.06 491.35,230.00 492.33,229.91 493.31,229.81 494.29,229.68 495.27,229.55 496.25,229.40 497.24,229.23 498.22,229.06 499.20,228.89 500.18,228.70 501.16,228.49 502.15,228.22 503.13,227.90 504.11,227.53 505.09,227.13 506.07,226.70 507.05,226.25 508.04,225.79 509.02,225.33 510.00,224.87 510.98,224.43 511.96,223.97 512.95,223.43 513.93,222.83 514.91,222.22 515.89,221.61 516.87,221.04 517.85,220.55 518.84,220.16 519.82,219.89 520.80,219.80 521.78,219.81 522.76,219.85 523.75,219.91 524.73,219.99 525.71,220.08 526.69,220.19 527.67,220.31 528.65,220.43 529.64,220.55 530.62,220.68 531.60,220.80 532.58,220.93 533.56,221.10 534.55,221.29 535.53,221.49 536.51,221.71 537.49,221.91 538.47,222.10 539.45,222.27 540.44,222.40 541.42,222.49 542.40,222.52 543.38,222.50 544.36,222.46 545.35,222.38 546.33,222.28 547.31,222.17 548.29,222.04 549.27,221.91 550.26,221.77 551.24,221.64 552.22,221.51 553.20,221.37 554.18,221.20 555.16,221.00 556.15,220.79 557.13,220.58 558.11,220.38 559.09,220.19 560.07,220.03 561.06,219.91 562.04,219.82 563.02,219.80 564.00,219.89 564.98,220.14 565.96,220.52 566.95,220.99 567.93,221.54 568.91,222.14 569.89,222.76 570.87,223.36 571.86,223.93 572.84,224.44 573.82,224.98 574.80,225.59 575.78,226.24 576.76,226.88 577.75,227.48 578.73,228.00 579.71,228.39 580.69,228.63 581.67,228.67 582.66,228.44 583.64,227.96 584.62,227.26 585.60,226.38 586.58,225.35 587.56,224.22 588.55,223.01 589.53,221.66 590.51,219.81 591.49,217.49 592.47,214.78 593.46,211.75 594.44,208.47 595.42,205.03" fill="none" stroke="#A3A500" stroke-width="1.5" stroke-linejoin="round" stroke-linecap="round"/>
<polygon points="488.40,236.14 489.38,235.93 490.36,235.72 491.35,235.50 492.33,235.27 493.31,235.04 494.29,234.81 495.27,234.57 496.25,234.32 497.24,234.07 498.22,233.82 499.20,233.56 500.18,233.30 501.16,233.01 502.15,232.67 503.13,232.29 504.11,231.90 505.09,231.50 506.07,231.11 507.05,230.76 508.04,230.45 509.02,230.21 510.00,230.04 510.98,229.97 511.96,230.00 512.95,230.10 513.93,230.26 514.91,230.46 515.89,230.70 516.87,230.94 517.85,231.20 518.84,231.44 519.82,231.65 520.80,231.83 521.78,231.98 522.76,232.11 523.75,232.24 524.73,232.36 525.71,232.47 526.69,232.59 527.67,232.71 528.65,232.83 529.64,232.96 530.62,233.10 531.60,233.26 532.58,233.44 533.56,233.64 534.55,233.85 535.53,234.07 536.51,234.31 537.49,234.55 538.47,234.81 539.45,235.06 540.44,235.32 541.42,235.58 542.40,235.84 543.38,236.11 544.36,236.41 545.35,236.73 546.33,237.06 547.31,237.39 548.29,237.71 549.27,237.99 550.26,238.24 551.24,238.44 552.22,238.58 553.20,238.68 554.18,238.78 555.16,238.88 556.15,238.96 557.13,239.04 558.11,239.11 559.09,239.18 560.07,239.22 561.06,239.26 562.04,239.28 563.02,239.29 564.00,239.25 564.98,239.13 565.96,238.97 566.95,238.77 567.93,238.56 568.91,238.34 569.89,238.15 570.87,237.99 571.86,237.89 572.84,237.86 573.82,237.89 574.80,237.96 575.78,238.06 576.76,238.18 577.75,238.30 578.73,238.41 579.71,238.50 580.69,238.56 581.67,238.56 582.66,238.40 583.64,238.07 584.62,237.59 585.60,236.97 586.58,236.26 587.56,235.46 588.55,234.60 589.53,233.72 590.51,232.77 591.49,231.56 592.47,230.08 593.46,228.40 594.44,226.58 595.42,224.67 595.42,226.96 594.44,228.87 593.46,230.69 592.47,232.37 591.49,233.85 590.51,235.07 589.53,236.01 588.55,236.90 587.56,237.75 586.58,238.55 585.60,239.27 584.62,239.88 583.64,240.36 582.66,240.70 581.67,240.86 580.69,240.85 579.71,240.80 578.73,240.71 577.75,240.60 576.76,240.47 575.78,240.36 574.80,240.25 573.82,240.18 572.84,240.15 571.86,240.18 570.87,240.29 569.89,240.44 568.91,240.64 567.93,240.85 566.95,241.06 565.96,241.26 564.98,241.43 564.00,241.54 563.02,241.58 562.04,241.58 561.06,241.55 560.07,241.52 559.09,241.47 558.11,241.41 557.13,241.34 556.15,241.26 555.16,241.17 554.18,241.08 553.20,240.98 552.22,240.87 551.24,240.73 550.26,240.53 549.27,240.29 548.29,240.00 547.31,239.69 546.33,239.36 545.35,239.03 544.36,238.70 543.38,238.40 542.40,238.13 541.42,237.87 540.44,237.62 539.45,237.36 538.47,237.10 537.49,236.85 536.51,236.60 535.53,236.37 534.55,236.14 533.56,235.93 532.58,235.73 531.60,235.56 530.62,235.40 529.64,235.25 528.65,235.12 527.67,235.00 526.69,234.88 525.71,234.77 524.73,234.65 523.75,234.53 522.76,234.41 521.78,234.27 520.80,234.13 519.82,233.95 518.84,233.73 517.85,233.49 516.87,233.24 515.89,232.99 514.91,232.76 513.93,232.56 512.95,232.40 511.96,232.30 510.98,232.27 510.00,232.34 509.02,232.50 508.04,232.74 507.05,233.05 506.07,233.41 505.09,233.79 504.11,234.19 503.13,234.59 502.15,234.96 501.16,235.30 500.18,235.59 499.20,235.86 498.22,236.11 497.24,236.37 496.25,236.62 495.27,236.86 494.29,237.10 493.31,237.34 492.33,237.57 491.35,237.79 490.36,238.01 489.38,238.22 488.40,238.43" fill="#aaa" fill-opacity="0.35"/>
<g fill="#00BF7D" fill-opacity="0.85"><circle cx="488.40" cy="236.09" r="0.7"/><circle cx="489.38" cy="237.14" r="0.7"/><circle cx="490.36" cy="234.37" r="0.7"/><circle cx="491.35" cy="239.49" r="0.7"/><circle cx="492.33" cy="236.85" r="0.7"/><circle cx="493.31" cy="234.93" r="0.7"/><circle cx="494.29" cy="236.46" r="0.7"/><circle cx="495.27" cy="236.85" r="0.7"/><circle cx="496.25" cy="235.85" r="0.7"/><circle cx="497.24" cy="237.20" r="0.7"/><circle cx="498.22" cy="234.80" r="0.7"/><circle cx="499.20" cy="231.21" r="0.7"/><circle cx="500.18" cy="232.80" r="0.7"/><circle cx="501.16" cy="235.75" r="0.7"/><circle cx="502.15" cy="235.07" r="0.7"/><circle cx="503.13" cy="234.02" r="0.7"/><circle cx="504.11" cy="231.60" r="0.7"/><circle cx="505.09" cy="233.82" r="0.7"/><circle cx="506.07" cy="233.25" r="0.7"/><circle cx="507.05" cy="230.64" r="0.7"/><circle cx="508.04" cy="230.36" r="0.7"/><circle cx="509.02" cy="231.89" r="0.7"/><circle cx="510.00" cy="232.79" r="0.7"/><circle cx="510.98" cy="233.34" r="0.7"/><circle cx="511.96" cy="232.15" r="0.7"/><circle cx="512.95" cy="234.45" r="0.7"/><circle cx="513.93" cy="230.33" r="0.7"/><circle cx="514.91" cy="232.51" r="0.7"/><circle cx="515.89" cy="231.15" r="0.7"/><circle cx="516.87" cy="229.41" r="0.7"/><circle cx="517.85" cy="230.66" r="0.7"/><circle cx="518.84" cy="234.23" r="0.7"/><circle cx="519.82" cy="231.55" r="0.7"/><circle cx="520.80" cy="231.32" r="0.7"/><circle cx="521.78" cy="234.20" r="0.7"/><circle cx="522.76" cy="234.63" r="0.7"/><circle cx="523.75" cy="233.54" r="0.7"/><circle cx="524.73" cy="235.80" r="0.7"/><circle cx="525.71" cy="231.51" r="0.7"/><circle cx="526.69" cy="237.18" r="0.7"/><circle cx="527.67" cy="235.44" r="0.7"/><circle cx="528.65" cy="234.36" r="0.7"/><circle cx="529.64" cy="234.43" r="0.7"/><circle cx="530.62" cy="234.01" r="0.7"/><circle cx="531.60" cy="234.02" r="0.7"/><circle cx="532.58" cy="234.89" r="0.7"/><circle cx="533.56" cy="233.15" r="0.7"/><circle cx="534.55" cy="238.06" r="0.7"/><circle cx="535.53" cy="235.22" r="0.7"/><circle cx="536.51" cy="236.48" r="0.7"/><circle cx="537.49" cy="235.51" r="0.7"/><circle cx="538.47" cy="235.64" r="0.7"/><circle cx="539.45" cy="237.52" r="0.7"/><circle cx="540.44" cy="237.39" r="0.7"/><circle cx="541.42" cy="235.59" r="0.7"/><circle cx="542.40" cy="236.48" r="0.7"/><circle cx="543.38" cy="238.23" r="0.7"/><circle cx="544.36" cy="234.63" r="0.7"/><circle cx="545.35" cy="234.57" r="0.7"/><circle cx="546.33" cy="240.31" r="0.7"/><circle cx="547.31" cy="238.11" r="0.7"/><circle cx="548.29" cy="235.26" r="0.7"/><circle cx="549.27" cy="238.01" r="0.7"/><circle cx="550.26" cy="239.07" r="0.7"/><circle cx="551.24" cy="239.88" r="0.7"/><circle cx="552.22" cy="240.50" r="0.7"/><circle cx="553.20" cy="240.13" r="0.7"/><circle cx="554.18" cy="240.72" r="0.7"/><circle cx="555.16" cy="238.96" r="0.7"/><circle cx="556.15" cy="240.68" r="0.7"/><circle cx="557.13" cy="240.82" r="0.7"/><circle cx="558.11" cy="241.98" r="0.7"/><circle cx="559.09" cy="240.39" r="0.7"/><circle cx="560.07" cy="241.65" r="0.7"/><circle cx="561.06" cy="240.67" r="0.7"/><circle cx="562.04" cy="238.94" r="0.7"/><circle cx="563.02" cy="239.91" r="0.7"/><circle cx="564.00" cy="239.67" r="0.7"/><circle cx="564.98" cy="239.77" r="0.7"/><circle cx="565.96" cy="240.03" r="0.7"/><circle cx="566.95" cy="240.10" r="0.7"/><circle cx="567.93" cy="240.14" r="0.7"/><circle cx="568.91" cy="238.40" r="0.7"/><circle cx="569.89" cy="240.85" r="0.7"/><circle cx="570.87" cy="237.22" r="0.7"/><circle cx="571.86" cy="238.99" r="0.7"/><circle cx="572.84" cy="240.08" r="0.7"/><circle cx="573.82" cy="239.74" r="0.7"/><circle cx="574.80" cy="240.08" r="0.7"/><circle cx="575.78" cy="238.98" r="0.7"/><circle cx="576.76" cy="240.36" r="0.7"/><circle cx="577.75" cy="237.81" r="0.7"/><circle cx="578.73" cy="240.68" r="0.7"/><circle cx="579.71" cy="242.91" r="0.7"/><circle cx="580.69" cy="240.76" r="0.7"/><circle cx="581.67" cy="242.59" r="0.7"/><circle cx="582.66" cy="239.61" r="0.7"/><circle cx="583.64" cy="237.70" r="0.7"/><circle cx="584.62" cy="237.80" r="0.7"/><circle cx="585.60" cy="240.04" r="0.7"/><circle cx="586.58" cy="238.50" r="0.7"/><circle cx="587.56" cy="234.06" r="0.7"/><circle cx="588.55" cy="235.29" r="0.7"/><circle cx="589.53" cy="234.86" r="0.7"/><circle cx="590.51" cy="232.41" r="0.7"/><circle cx="591.49" cy="229.19" r="0.7"/><circle cx="592.47" cy="229.37" r="0.7"/><circle cx="593.46" cy="229.35" r="0.7"/><circle cx="594.44" cy="227.22" r="0.7"/><circle cx="595.42" cy="224.93" r="0.7"/></g>
<polyline points="488.40,237.28 489.38,237.08 490.36,236.86 491.35,236.64 492.33,236.42 493.31,236.19 494.29,235.96 495.27,235.72 496.25,235.47 497.24,235.22 498.22,234.97 499.20,234.71 500.18,234.45 501.16,234.16 502.15,233.82 503.13,233.44 504.11,233.04 505.09,232.64 506.07,232.26 507.05,231.90 508.04,231.60 509.02,231.35 510.00,231.19 510.98,231.12 511.96,231.15 512.95,231.25 513.93,231.41 514.91,231.61 515.89,231.84 516.87,232.09 517.85,232.34 518.84,232.58 519.82,232.80 520.80,232.98 521.78,233.13 522.76,233.26 523.75,233.39 524.73,233.51 525.71,233.62 526.69,233.74 527.67,233.85 528.65,233.98 529.64,234.11 530.62,234.25 531.60,234.41 532.58,234.59 533.56,234.78 534.55,234.99 535.53,235.22 536.51,235.46 537.49,235.70 538.47,235.95 539.45,236.21 540.44,236.47 541.42,236.73 542.40,236.98 543.38,237.25 544.36,237.56 545.35,237.88 546.33,238.21 547.31,238.54 548.29,238.85 549.27,239.14 550.26,239.39 551.24,239.59 552.22,239.72 553.20,239.83 554.18,239.93 555.16,240.02 556.15,240.11 557.13,240.19 558.11,240.26 559.09,240.32 560.07,240.37 561.06,240.41 562.04,240.43 563.02,240.44 564.00,240.39 564.98,240.28 565.96,240.12 566.95,239.92 567.93,239.70 568.91,239.49 569.89,239.30 570.87,239.14 571.86,239.04 572.84,239.00 573.82,239.04 574.80,239.11 575.78,239.21 576.76,239.33 577.75,239.45 578.73,239.56 579.71,239.65 580.69,239.71 581.67,239.71 582.66,239.55 583.64,239.22 584.62,238.73 585.60,238.12 586.58,237.40 587.56,236.61 588.55,235.75 589.53,234.86 590.51,233.92 591.49,232.70 592.47,231.23 593.46,229.55 594.44,227.72 595.42,225.82" fill="none" stroke="#00BF7D" stroke-width="1.5" stroke-linejoin="round" stroke-linecap="round"/>
<polygon points="488.40,243.02 489.38,242.94 490.36,242.87 491.35,242.80 492.33,242.74 493.31,242.68 494.29,242.62 495.27,242.57 496.25,242.52 497.24,242.48 498.22,242.44 499.20,242.41 500.18,242.38 501.16,242.35 502.15,242.33 503.13,242.32 504.11,242.31 505.09,242.30 506.07,242.30 507.05,242.31 508.04,242.32 509.02,242.33 510.00,242.36 510.98,242.38 511.96,242.41 512.95,242.45 513.93,242.49 514.91,242.53 515.89,242.57 516.87,242.61 517.85,242.66 518.84,242.71 519.82,242.76 520.80,242.81 521.78,242.86 522.76,242.90 523.75,242.95 524.73,243.00 525.71,243.04 526.69,243.09 527.67,243.15 528.65,243.21 529.64,243.27 530.62,243.33 531.60,243.40 532.58,243.47 533.56,243.53 534.55,243.60 535.53,243.67 536.51,243.73 537.49,243.79 538.47,243.85 539.45,243.90 540.44,243.94 541.42,243.98 542.40,244.02 543.38,244.05 544.36,244.07 545.35,244.09 546.33,244.12 547.31,244.13 548.29,244.15 549.27,244.17 550.26,244.18 551.24,244.20 552.22,244.21 553.20,244.23 554.18,244.24 555.16,244.26 556.15,244.28 557.13,244.30 558.11,244.33 559.09,244.36 560.07,244.39 561.06,244.44 562.04,244.50 563.02,244.58 564.00,244.66 564.98,244.76 565.96,244.86 566.95,244.97 567.93,245.08 568.91,245.19 569.89,245.29 570.87,245.39 571.86,245.48 572.84,245.56 573.82,245.63 574.80,245.69 575.78,245.72 576.76,245.74 577.75,245.73 578.73,245.70 579.71,245.65 580.69,245.57 581.67,245.48 582.66,245.36 583.64,245.23 584.62,245.08 585.60,244.91 586.58,244.74 587.56,244.54 588.55,244.34 589.53,244.13 590.51,243.89 591.49,243.54 592.47,243.09 593.46,242.57 594.44,242.01 595.42,241.44 595.42,243.16 594.44,243.73 593.46,244.29 592.47,244.81 591.49,245.26 590.51,245.61 589.53,245.85 588.55,246.06 587.56,246.26 586.58,246.46 585.60,246.63 584.62,246.80 583.64,246.95 582.66,247.08 581.67,247.20 580.69,247.29 579.71,247.37 578.73,247.42 577.75,247.45 576.76,247.46 575.78,247.44 574.80,247.41 573.82,247.35 572.84,247.28 571.86,247.20 570.87,247.11 569.89,247.01 568.91,246.91 567.93,246.80 566.95,246.69 565.96,246.58 564.98,246.48 564.00,246.38 563.02,246.30 562.04,246.22 561.06,246.16 560.07,246.11 559.09,246.08 558.11,246.05 557.13,246.02 556.15,246.00 555.16,245.98 554.18,245.96 553.20,245.95 552.22,245.93 551.24,245.92 550.26,245.90 549.27,245.89 548.29,245.87 547.31,245.85 546.33,245.84 545.35,245.81 544.36,245.79 543.38,245.77 542.40,245.74 541.42,245.70 540.44,245.66 539.45,245.62 538.47,245.57 537.49,245.51 536.51,245.45 535.53,245.39 534.55,245.32 533.56,245.25 532.58,245.19 531.60,245.12 530.62,245.05 529.64,244.99 528.65,244.93 527.67,244.87 526.69,244.81 525.71,244.76 524.73,244.72 523.75,244.67 522.76,244.62 521.78,244.58 520.80,244.53 519.82,244.48 518.84,244.43 517.85,244.38 516.87,244.33 515.89,244.29 514.91,244.25 513.93,244.21 512.95,244.17 511.96,244.13 510.98,244.10 510.00,244.08 509.02,244.05 508.04,244.04 507.05,244.03 506.07,244.02 505.09,244.02 504.11,244.03 503.13,244.04 502.15,244.05 501.16,244.07 500.18,244.10 499.20,244.13 498.22,244.16 497.24,244.20 496.25,244.24 495.27,244.29 494.29,244.34 493.31,244.40 492.33,244.46 491.35,244.52 490.36,244.59 489.38,244.66 488.40,244.74" fill="#aaa" fill-opacity="0.35"/>
<g fill="#00B0F6" fill-opacity="0.85"><circle cx="488.40" cy="244.67" r="0.7"/><circle cx="489.38" cy="245.17" r="0.7"/><circle cx="490.36" cy="243.66" r="0.7"/><circle cx="491.35" cy="244.88" r="0.7"/><circle cx="492.33" cy="243.68" r="0.7"/><circle cx="493.31" cy="243.42" r="0.7"/><circle cx="494.29" cy="240.46" r="0.7"/><circle cx="495.27" cy="244.53" r="0.7"/><circle cx="496.25" cy="243.54" r="0.7"/><circle cx="497.24" cy="243.55" r="0.7"/><circle cx="498.22" cy="242.74" r="0.7"/><circle cx="499.20" cy="241.92" r="0.7"/><circle cx="500.18" cy="243.87" r="0.7"/><circle cx="501.16" cy="244.27" r="0.7"/><circle cx="502.15" cy="245.31" r="0.7"/><circle cx="503.13" cy="244.37" r="0.7"/><circle cx="504.11" cy="242.47" r="0.7"/><circle cx="505.09" cy="243.10" r="0.7"/><circle cx="506.07" cy="244.47" r="0.7"/><circle cx="507.05" cy="243.65" r="0.7"/><circle cx="508.04" cy="243.14" r="0.7"/><circle cx="509.02" cy="242.54" r="0.7"/><circle cx="510.00" cy="243.98" r="0.7"/><circle cx="510.98" cy="243.57" r="0.7"/><circle cx="511.96" cy="245.62" r="0.7"/><circle cx="512.95" cy="244.79" r="0.7"/><circle cx="513.93" cy="241.26" r="0.7"/><circle cx="514.91" cy="246.21" r="0.7"/><circle cx="515.89" cy="243.86" r="0.7"/><circle cx="516.87" cy="243.19" r="0.7"/><circle cx="517.85" cy="244.00" r="0.7"/><circle cx="518.84" cy="244.61" r="0.7"/><circle cx="519.82" cy="243.70" r="0.7"/><circle cx="520.80" cy="243.67" r="0.7"/><circle cx="521.78" cy="243.82" r="0.7"/><circle cx="522.76" cy="246.19" r="0.7"/><circle cx="523.75" cy="244.00" r="0.7"/><circle cx="524.73" cy="244.96" r="0.7"/><circle cx="525.71" cy="244.61" r="0.7"/><circle cx="526.69" cy="243.66" r="0.7"/><circle cx="527.67" cy="243.18" r="0.7"/><circle cx="528.65" cy="242.91" r="0.7"/><circle cx="529.64" cy="244.77" r="0.7"/><circle cx="530.62" cy="243.00" r="0.7"/><circle cx="531.60" cy="242.75" r="0.7"/><circle cx="532.58" cy="242.86" r="0.7"/><circle cx="533.56" cy="242.60" r="0.7"/><circle cx="534.55" cy="244.65" r="0.7"/><circle cx="535.53" cy="244.75" r="0.7"/><circle cx="536.51" cy="243.52" r="0.7"/><circle cx="537.49" cy="246.41" r="0.7"/><circle cx="538.47" cy="244.43" r="0.7"/><circle cx="539.45" cy="245.44" r="0.7"/><circle cx="540.44" cy="245.28" r="0.7"/><circle cx="541.42" cy="247.09" r="0.7"/><circle cx="542.40" cy="246.03" r="0.7"/><circle cx="543.38" cy="244.93" r="0.7"/><circle cx="544.36" cy="243.79" r="0.7"/><circle cx="545.35" cy="243.68" r="0.7"/><circle cx="546.33" cy="245.08" r="0.7"/><circle cx="547.31" cy="245.24" r="0.7"/><circle cx="548.29" cy="246.08" r="0.7"/><circle cx="549.27" cy="244.51" r="0.7"/><circle cx="550.26" cy="245.36" r="0.7"/><circle cx="551.24" cy="244.27" r="0.7"/><circle cx="552.22" cy="242.81" r="0.7"/><circle cx="553.20" cy="245.13" r="0.7"/><circle cx="554.18" cy="247.04" r="0.7"/><circle cx="555.16" cy="246.23" r="0.7"/><circle cx="556.15" cy="247.02" r="0.7"/><circle cx="557.13" cy="246.71" r="0.7"/><circle cx="558.11" cy="243.51" r="0.7"/><circle cx="559.09" cy="244.93" r="0.7"/><circle cx="560.07" cy="247.21" r="0.7"/><circle cx="561.06" cy="244.45" r="0.7"/><circle cx="562.04" cy="243.73" r="0.7"/><circle cx="563.02" cy="245.90" r="0.7"/><circle cx="564.00" cy="246.40" r="0.7"/><circle cx="564.98" cy="246.06" r="0.7"/><circle cx="565.96" cy="245.36" r="0.7"/><circle cx="566.95" cy="245.00" r="0.7"/><circle cx="567.93" cy="244.41" r="0.7"/><circle cx="568.91" cy="244.48" r="0.7"/><circle cx="569.89" cy="244.62" r="0.7"/><circle cx="570.87" cy="244.49" r="0.7"/><circle cx="571.86" cy="245.49" r="0.7"/><circle cx="572.84" cy="248.40" r="0.7"/><circle cx="573.82" cy="246.66" r="0.7"/><circle cx="574.80" cy="246.14" r="0.7"/><circle cx="575.78" cy="247.08" r="0.7"/><circle cx="576.76" cy="245.42" r="0.7"/><circle cx="577.75" cy="247.06" r="0.7"/><circle cx="578.73" cy="247.76" r="0.7"/><circle cx="579.71" cy="244.65" r="0.7"/><circle cx="580.69" cy="245.58" r="0.7"/><circle cx="581.67" cy="246.06" r="0.7"/><circle cx="582.66" cy="245.03" r="0.7"/><circle cx="583.64" cy="244.72" r="0.7"/><circle cx="584.62" cy="245.50" r="0.7"/><circle cx="585.60" cy="248.94" r="0.7"/><circle cx="586.58" cy="246.47" r="0.7"/><circle cx="587.56" cy="245.99" r="0.7"/><circle cx="588.55" cy="246.47" r="0.7"/><circle cx="589.53" cy="244.73" r="0.7"/><circle cx="590.51" cy="243.21" r="0.7"/><circle cx="591.49" cy="245.03" r="0.7"/><circle cx="592.47" cy="245.42" r="0.7"/><circle cx="593.46" cy="240.82" r="0.7"/><circle cx="594.44" cy="243.45" r="0.7"/><circle cx="595.42" cy="243.89" r="0.7"/></g>
<polyline points="488.40,243.88 489.38,243.80 490.36,243.73 491.35,243.66 492.33,243.60 493.31,243.54 494.29,243.48 495.27,243.43 496.25,243.38 497.24,243.34 498.22,243.30 499.20,243.27 500.18,243.24 501.16,243.21 502.15,243.19 503.13,243.18 504.11,243.17 505.09,243.16 506.07,243.16 507.05,243.17 508.04,243.18 509.02,243.19 510.00,243.22 510.98,243.24 511.96,243.27 512.95,243.31 513.93,243.35 514.91,243.39 515.89,243.43 516.87,243.47 517.85,243.52 518.84,243.57 519.82,243.62 520.80,243.67 521.78,243.72 522.76,243.76 523.75,243.81 524.73,243.86 525.71,243.90 526.69,243.95 527.67,244.01 528.65,244.07 529.64,244.13 530.62,244.19 531.60,244.26 532.58,244.33 533.56,244.39 534.55,244.46 535.53,244.53 536.51,244.59 537.49,244.65 538.47,244.71 539.45,244.76 540.44,244.80 541.42,244.84 542.40,244.88 543.38,244.91 544.36,244.93 545.35,244.95 546.33,244.98 547.31,244.99 548.29,245.01 549.27,245.03 550.26,245.04 551.24,245.06 552.22,245.07 553.20,245.09 554.18,245.10 555.16,245.12 556.15,245.14 557.13,245.16 558.11,245.19 559.09,245.22 560.07,245.25 561.06,245.30 562.04,245.36 563.02,245.44 564.00,245.52 564.98,245.62 565.96,245.72 566.95,245.83 567.93,245.94 568.91,246.05 569.89,246.15 570.87,246.25 571.86,246.34 572.84,246.42 573.82,246.49 574.80,246.55 575.78,246.58 576.76,246.60 577.75,246.59 578.73,246.56 579.71,246.51 580.69,246.43 581.67,246.34 582.66,246.22 583.64,246.09 584.62,245.94 585.60,245.77 586.58,245.60 587.56,245.40 588.55,245.20 589.53,244.99 590.51,244.75 591.49,244.40 592.47,243.95 593.46,243.43 594.44,242.87 595.42,242.30" fill="none" stroke="#00B0F6" stroke-width="1.5" stroke-linejoin="round" stroke-linecap="round"/>
<polygon points="488.40,253.77 489.38,253.76 490.36,253.74 491.35,253.73 492.33,253.72 493.31,253.71 494.29,253.70 495.27,253.70 496.25,253.69 497.24,253.68 498.22,253.67 499.20,253.66 500.18,253.66 501.16,253.65 502.15,253.64 503.13,253.63 504.11,253.63 505.09,253.62 506.07,253.62 507.05,253.61 508.04,253.61 509.02,253.60 510.00,253.60 510.98,253.59 511.96,253.59 512.95,253.58 513.93,253.58 514.91,253.58 515.89,253.57 516.87,253.57 517.85,253.57 518.84,253.57 519.82,253.56 520.80,253.56 521.78,253.56 522.76,253.56 523.75,253.56 524.73,253.56 525.71,253.55 526.69,253.55 527.67,253.55 528.65,253.55 529.64,253.55 530.62,253.55 531.60,253.55 532.58,253.55 533.56,253.55 534.55,253.56 535.53,253.56 536.51,253.56 537.49,253.57 538.47,253.58 539.45,253.58 540.44,253.59 541.42,253.60 542.40,253.61 543.38,253.62 544.36,253.62 545.35,253.63 546.33,253.64 547.31,253.65 548.29,253.66 549.27,253.67 550.26,253.68 551.24,253.69 552.22,253.70 553.20,253.71 554.18,253.72 555.16,253.73 556.15,253.73 557.13,253.74 558.11,253.75 559.09,253.75 560.07,253.76 561.06,253.76 562.04,253.76 563.02,253.77 564.00,253.77 564.98,253.77 565.96,253.77 566.95,253.76 567.93,253.76 568.91,253.76 569.89,253.76 570.87,253.76 571.86,253.75 572.84,253.75 573.82,253.75 574.80,253.74 575.78,253.74 576.76,253.73 577.75,253.72 578.73,253.72 579.71,253.71 580.69,253.71 581.67,253.70 582.66,253.69 583.64,253.68 584.62,253.67 585.60,253.66 586.58,253.65 587.56,253.64 588.55,253.63 589.53,253.62 590.51,253.61 591.49,253.60 592.47,253.59 593.46,253.58 594.44,253.56 595.42,253.55 595.42,254.70 594.44,254.71 593.46,254.72 592.47,254.74 591.49,254.75 590.51,254.76 589.53,254.77 588.55,254.78 587.56,254.79 586.58,254.80 585.60,254.81 584.62,254.82 583.64,254.83 582.66,254.84 581.67,254.84 580.69,254.85 579.71,254.86 578.73,254.87 577.75,254.87 576.76,254.88 575.78,254.88 574.80,254.89 573.82,254.89 572.84,254.90 571.86,254.90 570.87,254.90 569.89,254.91 568.91,254.91 567.93,254.91 566.95,254.91 565.96,254.91 564.98,254.91 564.00,254.91 563.02,254.91 562.04,254.91 561.06,254.91 560.07,254.90 559.09,254.90 558.11,254.89 557.13,254.89 556.15,254.88 555.16,254.87 554.18,254.87 553.20,254.86 552.22,254.85 551.24,254.84 550.26,254.83 549.27,254.82 548.29,254.81 547.31,254.80 546.33,254.79 545.35,254.78 544.36,254.77 543.38,254.76 542.40,254.75 541.42,254.75 540.44,254.74 539.45,254.73 538.47,254.72 537.49,254.72 536.51,254.71 535.53,254.71 534.55,254.70 533.56,254.70 532.58,254.70 531.60,254.70 530.62,254.70 529.64,254.70 528.65,254.70 527.67,254.70 526.69,254.70 525.71,254.70 524.73,254.70 523.75,254.70 522.76,254.70 521.78,254.71 520.80,254.71 519.82,254.71 518.84,254.71 517.85,254.72 516.87,254.72 515.89,254.72 514.91,254.72 513.93,254.73 512.95,254.73 511.96,254.73 510.98,254.74 510.00,254.74 509.02,254.75 508.04,254.75 507.05,254.76 506.07,254.76 505.09,254.77 504.11,254.77 503.13,254.78 502.15,254.79 501.16,254.79 500.18,254.80 499.20,254.81 498.22,254.82 497.24,254.83 496.25,254.83 495.27,254.84 494.29,254.85 493.31,254.86 492.33,254.87 491.35,254.88 490.36,254.89 489.38,254.90 488.40,254.91" fill="#aaa" fill-opacity="0.35"/>
<g fill="#E76BF3" fill-opacity="0.85"><circle cx="488.40" cy="254.17" r="0.7"/><circle cx="489.38" cy="254.02" r="0.7"/><circle cx="490.36" cy="254.82" r="0.7"/><circle cx="491.35" cy="253.74" r="0.7"/><circle cx="492.33" cy="254.65" r="0.7"/><circle cx="493.31" cy="254.95" r="0.7"/><circle cx="494.29" cy="254.15" r="0.7"/><circle cx="495.27" cy="253.72" r="0.7"/><circle cx="496.25" cy="254.71" r="0.7"/><circle cx="497.24" cy="254.01" r="0.7"/><circle cx="498.22" cy="254.31" r="0.7"/><circle cx="499.20" cy="252.21" r="0.7"/><circle cx="500.18" cy="254.74" r="0.7"/><circle cx="501.16" cy="253.23" r="0.7"/><circle cx="502.15" cy="254.25" r="0.7"/><circle cx="503.13" cy="254.30" r="0.7"/><circle cx="504.11" cy="253.68" r="0.7"/><circle cx="505.09" cy="253.55" r="0.7"/><circle cx="506.07" cy="253.28" r="0.7"/><circle cx="507.05" cy="253.95" r="0.7"/><circle cx="508.04" cy="254.61" r="0.7"/><circle cx="509.02" cy="254.56" r="0.7"/><circle cx="510.00" cy="253.80" r="0.7"/><circle cx="510.98" cy="253.75" r="0.7"/><circle cx="511.96" cy="253.16" r="0.7"/><circle cx="512.95" cy="253.86" r="0.7"/><circle cx="513.93" cy="253.39" r="0.7"/><circle cx="514.91" cy="253.06" r="0.7"/><circle cx="515.89" cy="254.03" r="0.7"/><circle cx="516.87" cy="255.21" r="0.7"/><circle cx="517.85" cy="254.99" r="0.7"/><circle cx="518.84" cy="255.17" r="0.7"/><circle cx="519.82" cy="253.00" r="0.7"/><circle cx="520.80" cy="254.74" r="0.7"/><circle cx="521.78" cy="253.25" r="0.7"/><circle cx="522.76" cy="253.71" r="0.7"/><circle cx="523.75" cy="252.90" r="0.7"/><circle cx="524.73" cy="253.41" r="0.7"/><circle cx="525.71" cy="254.20" r="0.7"/><circle cx="526.69" cy="254.27" r="0.7"/><circle cx="527.67" cy="254.07" r="0.7"/><circle cx="528.65" cy="254.00" r="0.7"/><circle cx="529.64" cy="254.51" r="0.7"/><circle cx="530.62" cy="254.15" r="0.7"/><circle cx="531.60" cy="252.97" r="0.7"/><circle cx="532.58" cy="255.35" r="0.7"/><circle cx="533.56" cy="253.94" r="0.7"/><circle cx="534.55" cy="254.78" r="0.7"/><circle cx="535.53" cy="254.00" r="0.7"/><circle cx="536.51" cy="253.54" r="0.7"/><circle cx="537.49" cy="254.18" r="0.7"/><circle cx="538.47" cy="253.60" r="0.7"/><circle cx="539.45" cy="255.30" r="0.7"/><circle cx="540.44" cy="253.37" r="0.7"/><circle cx="541.42" cy="254.60" r="0.7"/><circle cx="542.40" cy="253.73" r="0.7"/><circle cx="543.38" cy="254.06" r="0.7"/><circle cx="544.36" cy="256.05" r="0.7"/><circle cx="545.35" cy="254.75" r="0.7"/><circle cx="546.33" cy="254.06" r="0.7"/><circle cx="547.31" cy="253.11" r="0.7"/><circle cx="548.29" cy="254.03" r="0.7"/><circle cx="549.27" cy="254.06" r="0.7"/><circle cx="550.26" cy="255.27" r="0.7"/><circle cx="551.24" cy="253.24" r="0.7"/><circle cx="552.22" cy="252.98" r="0.7"/><circle cx="553.20" cy="254.26" r="0.7"/><circle cx="554.18" cy="254.45" r="0.7"/><circle cx="555.16" cy="255.46" r="0.7"/><circle cx="556.15" cy="253.67" r="0.7"/><circle cx="557.13" cy="252.38" r="0.7"/><circle cx="558.11" cy="253.81" r="0.7"/><circle cx="559.09" cy="253.42" r="0.7"/><circle cx="560.07" cy="253.94" r="0.7"/><circle cx="561.06" cy="255.04" r="0.7"/><circle cx="562.04" cy="253.38" r="0.7"/><circle cx="563.02" cy="255.22" r="0.7"/><circle cx="564.00" cy="254.49" r="0.7"/><circle cx="564.98" cy="254.14" r="0.7"/><circle cx="565.96" cy="253.71" r="0.7"/><circle cx="566.95" cy="254.04" r="0.7"/><circle cx="567.93" cy="254.06" r="0.7"/><circle cx="568.91" cy="254.88" r="0.7"/><circle cx="569.89" cy="255.26" r="0.7"/><circle cx="570.87" cy="254.29" r="0.7"/><circle cx="571.86" cy="254.84" r="0.7"/><circle cx="572.84" cy="255.26" r="0.7"/><circle cx="573.82" cy="255.23" r="0.7"/><circle cx="574.80" cy="254.67" r="0.7"/><circle cx="575.78" cy="255.64" r="0.7"/><circle cx="576.76" cy="255.27" r="0.7"/><circle cx="577.75" cy="255.47" r="0.7"/><circle cx="578.73" cy="254.16" r="0.7"/><circle cx="579.71" cy="253.99" r="0.7"/><circle cx="580.69" cy="252.84" r="0.7"/><circle cx="581.67" cy="255.34" r="0.7"/><circle cx="582.66" cy="254.75" r="0.7"/><circle cx="583.64" cy="253.60" r="0.7"/><circle cx="584.62" cy="254.40" r="0.7"/><circle cx="585.60" cy="254.47" r="0.7"/><circle cx="586.58" cy="253.00" r="0.7"/><circle cx="587.56" cy="254.46" r="0.7"/><circle cx="588.55" cy="255.04" r="0.7"/><circle cx="589.53" cy="255.14" r="0.7"/><circle cx="590.51" cy="253.95" r="0.7"/><circle cx="591.49" cy="253.96" r="0.7"/><circle cx="592.47" cy="255.15" r="0.7"/><circle cx="593.46" cy="254.86" r="0.7"/><circle cx="594.44" cy="253.75" r="0.7"/><circle cx="595.42" cy="253.71" r="0.7"/></g>
<polyline points="488.40,254.34 489.38,254.33 490.36,254.32 491.35,254.31 492.33,254.30 493.31,254.29 494.29,254.28 495.27,254.27 496.25,254.26 497.24,254.25 498.22,254.24 499.20,254.24 500.18,254.23 501.16,254.22 502.15,254.21 503.13,254.21 504.11,254.20 505.09,254.20 506.07,254.19 507.05,254.18 508.04,254.18 509.02,254.17 510.00,254.17 510.98,254.17 511.96,254.16 512.95,254.16 513.93,254.15 514.91,254.15 515.89,254.15 516.87,254.14 517.85,254.14 518.84,254.14 519.82,254.14 520.80,254.14 521.78,254.13 522.76,254.13 523.75,254.13 524.73,254.13 525.71,254.13 526.69,254.13 527.67,254.13 528.65,254.13 529.64,254.13 530.62,254.13 531.60,254.13 532.58,254.13 533.56,254.13 534.55,254.13 535.53,254.13 536.51,254.14 537.49,254.14 538.47,254.15 539.45,254.16 540.44,254.16 541.42,254.17 542.40,254.18 543.38,254.19 544.36,254.20 545.35,254.21 546.33,254.22 547.31,254.23 548.29,254.24 549.27,254.25 550.26,254.26 551.24,254.27 552.22,254.27 553.20,254.28 554.18,254.29 555.16,254.30 556.15,254.31 557.13,254.31 558.11,254.32 559.09,254.33 560.07,254.33 561.06,254.33 562.04,254.34 563.02,254.34 564.00,254.34 564.98,254.34 565.96,254.34 566.95,254.34 567.93,254.34 568.91,254.33 569.89,254.33 570.87,254.33 571.86,254.33 572.84,254.32 573.82,254.32 574.80,254.31 575.78,254.31 576.76,254.30 577.75,254.30 578.73,254.29 579.71,254.29 580.69,254.28 581.67,254.27 582.66,254.26 583.64,254.26 584.62,254.25 585.60,254.24 586.58,254.23 587.56,254.22 588.55,254.21 589.53,254.20 590.51,254.19 591.49,254.17 592.47,254.16 593.46,254.15 594.44,254.14 595.42,254.12" fill="none" stroke="#E76BF3" stroke-width="1.5" stroke-linejoin="round" stroke-linecap="round"/>
<text x="541.80" y="157.20" font-size="9.25" text-anchor="middle" fill="#000" color="#000">Effect of random CpG sample</text>
<text x="541.80" y="278.20" font-size="9.25" text-anchor="middle" fill="#000" color="#000">Random sample equivalent</text>
<text x="541.80" y="288.10" font-size="9.25" text-anchor="middle" fill="#000" color="#000">for ICC cutoff</text>
<text x="468.60" y="210.40" font-size="9.25" text-anchor="middle" fill="#000" color="#000" transform="rotate(-90 468.60 210.40)">PhenoAge Deviation</text>
<text x="610.80" y="186.20" font-size="6.5" text-anchor="start" fill="#000" color="#000">Deviation</text>
<rect x="611" y="189.80" width="9.9" height="50.6" fill="#d9d9d9"/>
<line x1="611.6" y1="194.80" x2="620.3" y2="194.80" stroke="#F8766D" stroke-width="1.2"/>
<text x="623.90" y="196.80" font-size="5.6" text-anchor="start" fill="#000" color="#000">Max</text>
<line x1="611.6" y1="204.88" x2="620.3" y2="204.88" stroke="#A3A500" stroke-width="1.2"/>
<text x="623.90" y="206.88" font-size="5.6" text-anchor="start" fill="#000" color="#000">Q3</text>
<line x1="611.6" y1="214.96" x2="620.3" y2="214.96" stroke="#00BF7D" stroke-width="1.2"/>
<text x="623.90" y="216.96" font-size="5.6" text-anchor="start" fill="#000" color="#000">Median</text>
<line x1="611.6" y1="225.04" x2="620.3" y2="225.04" stroke="#00B0F6" stroke-width="1.2"/>
<text x="623.90" y="227.04" font-size="5.6" text-anchor="start" fill="#000" color="#000">Q1</text>
<line x1="611.6" y1="235.12" x2="620.3" y2="235.12" stroke="#E76BF3" stroke-width="1.2"/>
<text x="623.90" y="237.12" font-size="5.6" text-anchor="start" fill="#000" color="#000">Min</text>
<text x="2.80" y="18.50" font-size="11" text-anchor="start" fill="#000" color="#000" font-weight="bold">a</text>
<text x="2.80" y="173.70" font-size="11" text-anchor="start" fill="#000" color="#000" font-weight="bold">b</text>
<text x="2.70" y="330.70" font-size="11" text-anchor="start" fill="#000" color="#000" font-weight="bold">c</text>
<text x="2.60" y="513.70" font-size="11" text-anchor="start" fill="#000" color="#000" font-weight="bold">d</text>
<text x="235.50" y="512.80" font-size="11" text-anchor="start" fill="#000" color="#000" font-weight="bold">e</text>
<text x="466.00" y="513.70" font-size="11" text-anchor="start" fill="#000" color="#000" font-weight="bold">f</text>
<text x="2.70" y="701.30" font-size="11" text-anchor="start" fill="#000" color="#000" font-weight="bold">g</text>
<rect x="34.40" y="717.90" width="127.90" height="126.00" fill="none" stroke="#a8a8a8" stroke-width="1"/>
<line x1="39.90" y1="843.90" x2="39.90" y2="845.70" stroke="#333" stroke-width="0.8"/>
<text x="39.90" y="854.42" font-size="8.8" text-anchor="middle" fill="#4d4d4d" color="#4d4d4d">0.00</text>
<line x1="69.15" y1="843.90" x2="69.15" y2="845.70" stroke="#333" stroke-width="0.8"/>
<text x="69.15" y="854.42" font-size="8.8" text-anchor="middle" fill="#4d4d4d" color="#4d4d4d">0.25</text>
<line x1="98.40" y1="843.90" x2="98.40" y2="845.70" stroke="#333" stroke-width="0.8"/>
<text x="98.40" y="854.42" font-size="8.8" text-anchor="middle" fill="#4d4d4d" color="#4d4d4d">0.50</text>
<line x1="127.65" y1="843.90" x2="127.65" y2="845.70" stroke="#333" stroke-width="0.8"/>
<text x="127.65" y="854.42" font-size="8.8" text-anchor="middle" fill="#4d4d4d" color="#4d4d4d">0.75</text>
<line x1="156.90" y1="843.90" x2="156.90" y2="845.70" stroke="#333" stroke-width="0.8"/>
<text x="156.90" y="854.42" font-size="8.8" text-anchor="middle" fill="#4d4d4d" color="#4d4d4d">1.00</text>
<line x1="32.60" y1="838.40" x2="34.40" y2="838.40" stroke="#333" stroke-width="0.8"/>
<text x="30.00" y="841.52" font-size="8.8" text-anchor="end" fill="#4d4d4d" color="#4d4d4d">0.00</text>
<line x1="32.60" y1="809.15" x2="34.40" y2="809.15" stroke="#333" stroke-width="0.8"/>
<text x="30.00" y="812.27" font-size="8.8" text-anchor="end" fill="#4d4d4d" color="#4d4d4d">0.25</text>
<line x1="32.60" y1="779.90" x2="34.40" y2="779.90" stroke="#333" stroke-width="0.8"/>
<text x="30.00" y="783.02" font-size="8.8" text-anchor="end" fill="#4d4d4d" color="#4d4d4d">0.50</text>
<line x1="32.60" y1="750.65" x2="34.40" y2="750.65" stroke="#333" stroke-width="0.8"/>
<text x="30.00" y="753.77" font-size="8.8" text-anchor="end" fill="#4d4d4d" color="#4d4d4d">0.75</text>
<line x1="32.60" y1="721.40" x2="34.40" y2="721.40" stroke="#333" stroke-width="0.8"/>
<text x="30.00" y="724.52" font-size="8.8" text-anchor="end" fill="#4d4d4d" color="#4d4d4d">1.00</text>
<text x="98.00" y="699.30" font-size="10.8" text-anchor="middle" fill="#000" color="#000">Bose 2014</text>
<text x="98.00" y="711.30" font-size="10.8" text-anchor="middle" fill="#000" color="#000">bicor = 0.855, p = 0</text>
<text x="97.40" y="866.00" font-size="10.8" text-anchor="middle" fill="#000" color="#000">ICC in Lehne 2015</text>
<text x="7.70" y="780.90" font-size="10.8" text-anchor="middle" fill="#000" color="#000" transform="rotate(-90 7.70 780.90)">ICC in Bose 2014</text>
<defs><linearGradient id="vg312" x1="0" y1="0" x2="0" y2="1"><stop offset="0.00" stop-color="rgb(253,231,37)"/><stop offset="0.10" stop-color="rgb(189,223,38)"/><stop offset="0.20" stop-color="rgb(122,209,81)"/><stop offset="0.30" stop-color="rgb(68,191,112)"/><stop offset="0.40" stop-color="rgb(34,168,132)"/><stop offset="0.50" stop-color="rgb(33,145,140)"/><stop offset="0.60" stop-color="rgb(42,120,142)"/><stop offset="0.70" stop-color="rgb(53,95,141)"/><stop offset="0.80" stop-color="rgb(65,68,135)"/><stop offset="0.90" stop-color="rgb(72,36,117)"/><stop offset="1.00" stop-color="rgb(68,1,84)"/></linearGradient></defs>
<rect x="175.20" y="754.20" width="13.20" height="65.80" fill="url(#vg312)"/>
<line x1="175.20" y1="764.80" x2="177.20" y2="764.80" stroke="#fff" stroke-width="0.6"/>
<line x1="186.40" y1="764.80" x2="188.40" y2="764.80" stroke="#fff" stroke-width="0.6"/>
<text x="193.00" y="767.92" font-size="8.8" text-anchor="start" fill="#000" color="#000">512</text>
<line x1="175.20" y1="783.80" x2="177.20" y2="783.80" stroke="#fff" stroke-width="0.6"/>
<line x1="186.40" y1="783.80" x2="188.40" y2="783.80" stroke="#fff" stroke-width="0.6"/>
<text x="193.00" y="786.92" font-size="8.8" text-anchor="start" fill="#000" color="#000">64</text>
<line x1="175.20" y1="802.40" x2="177.20" y2="802.40" stroke="#fff" stroke-width="0.6"/>
<line x1="186.40" y1="802.40" x2="188.40" y2="802.40" stroke="#fff" stroke-width="0.6"/>
<text x="193.00" y="805.52" font-size="8.8" text-anchor="start" fill="#000" color="#000">8</text>
<text x="193.00" y="823.62" font-size="8.8" text-anchor="start" fill="#000" color="#000">1</text>
<text x="175.20" y="748.70" font-size="9.25" text-anchor="start" fill="#000" color="#000">count</text>
<rect x="260.50" y="721.40" width="127.90" height="118.90" fill="none" stroke="#a8a8a8" stroke-width="1"/>
<line x1="271.50" y1="840.30" x2="271.50" y2="842.10" stroke="#333" stroke-width="0.8"/>
<text x="271.50" y="850.82" font-size="8.8" text-anchor="middle" fill="#4d4d4d" color="#4d4d4d">−0.25</text>
<line x1="293.70" y1="840.30" x2="293.70" y2="842.10" stroke="#333" stroke-width="0.8"/>
<text x="293.70" y="850.82" font-size="8.8" text-anchor="middle" fill="#4d4d4d" color="#4d4d4d">0.00</text>
<line x1="315.90" y1="840.30" x2="315.90" y2="842.10" stroke="#333" stroke-width="0.8"/>
<text x="315.90" y="850.82" font-size="8.8" text-anchor="middle" fill="#4d4d4d" color="#4d4d4d">0.25</text>
<line x1="338.10" y1="840.30" x2="338.10" y2="842.10" stroke="#333" stroke-width="0.8"/>
<text x="338.10" y="850.82" font-size="8.8" text-anchor="middle" fill="#4d4d4d" color="#4d4d4d">0.50</text>
<line x1="360.30" y1="840.30" x2="360.30" y2="842.10" stroke="#333" stroke-width="0.8"/>
<text x="360.30" y="850.82" font-size="8.8" text-anchor="middle" fill="#4d4d4d" color="#4d4d4d">0.75</text>
<line x1="382.50" y1="840.30" x2="382.50" y2="842.10" stroke="#333" stroke-width="0.8"/>
<text x="382.50" y="850.82" font-size="8.8" text-anchor="middle" fill="#4d4d4d" color="#4d4d4d">1.00</text>
<line x1="258.70" y1="838.30" x2="260.50" y2="838.30" stroke="#333" stroke-width="0.8"/>
<text x="256.10" y="841.42" font-size="8.8" text-anchor="end" fill="#4d4d4d" color="#4d4d4d">−0.25</text>
<line x1="258.70" y1="816.10" x2="260.50" y2="816.10" stroke="#333" stroke-width="0.8"/>
<text x="256.10" y="819.22" font-size="8.8" text-anchor="end" fill="#4d4d4d" color="#4d4d4d">0.00</text>
<line x1="258.70" y1="793.90" x2="260.50" y2="793.90" stroke="#333" stroke-width="0.8"/>
<text x="256.10" y="797.02" font-size="8.8" text-anchor="end" fill="#4d4d4d" color="#4d4d4d">0.25</text>
<line x1="258.70" y1="771.70" x2="260.50" y2="771.70" stroke="#333" stroke-width="0.8"/>
<text x="256.10" y="774.82" font-size="8.8" text-anchor="end" fill="#4d4d4d" color="#4d4d4d">0.50</text>
<line x1="258.70" y1="749.50" x2="260.50" y2="749.50" stroke="#333" stroke-width="0.8"/>
<text x="256.10" y="752.62" font-size="8.8" text-anchor="end" fill="#4d4d4d" color="#4d4d4d">0.75</text>
<line x1="258.70" y1="727.30" x2="260.50" y2="727.30" stroke="#333" stroke-width="0.8"/>
<text x="256.10" y="730.42" font-size="8.8" text-anchor="end" fill="#4d4d4d" color="#4d4d4d">1.00</text>
<text x="324.10" y="703.20" font-size="10.8" text-anchor="middle" fill="#000" color="#000">Sugden 2020</text>
<text x="324.10" y="714.80" font-size="10.8" text-anchor="middle" fill="#000" color="#000">bicor = 0.668, p = 0</text>
<text x="324.10" y="866.00" font-size="10.8" text-anchor="middle" fill="#000" color="#000">ICC in Lehne 2015</text>
<text x="229.30" y="781.00" font-size="10.8" text-anchor="middle" fill="#000" color="#000" transform="rotate(-90 229.30 781.00)">ICC in Sugden 2020</text>
<defs><linearGradient id="vg354" x1="0" y1="0" x2="0" y2="1"><stop offset="0.00" stop-color="rgb(253,231,37)"/><stop offset="0.10" stop-color="rgb(189,223,38)"/><stop offset="0.20" stop-color="rgb(122,209,81)"/><stop offset="0.30" stop-color="rgb(68,191,112)"/><stop offset="0.40" stop-color="rgb(34,168,132)"/><stop offset="0.50" stop-color="rgb(33,145,140)"/><stop offset="0.60" stop-color="rgb(42,120,142)"/><stop offset="0.70" stop-color="rgb(53,95,141)"/><stop offset="0.80" stop-color="rgb(65,68,135)"/><stop offset="0.90" stop-color="rgb(72,36,117)"/><stop offset="1.00" stop-color="rgb(68,1,84)"/></linearGradient></defs>
<rect x="401.00" y="753.90" width="13.10" height="66.40" fill="url(#vg354)"/>
<line x1="401.00" y1="756.00" x2="403.00" y2="756.00" stroke="#fff" stroke-width="0.6"/>
<line x1="412.10" y1="756.00" x2="414.10" y2="756.00" stroke="#fff" stroke-width="0.6"/>
<text x="418.90" y="759.12" font-size="8.8" text-anchor="start" fill="#000" color="#000">64</text>
<line x1="401.00" y1="777.50" x2="403.00" y2="777.50" stroke="#fff" stroke-width="0.6"/>
<line x1="412.10" y1="777.50" x2="414.10" y2="777.50" stroke="#fff" stroke-width="0.6"/>
<text x="418.90" y="780.62" font-size="8.8" text-anchor="start" fill="#000" color="#000">16</text>
<line x1="401.00" y1="799.10" x2="403.00" y2="799.10" stroke="#fff" stroke-width="0.6"/>
<line x1="412.10" y1="799.10" x2="414.10" y2="799.10" stroke="#fff" stroke-width="0.6"/>
<text x="418.90" y="802.22" font-size="8.8" text-anchor="start" fill="#000" color="#000">4</text>
<text x="418.90" y="823.62" font-size="8.8" text-anchor="start" fill="#000" color="#000">1</text>
<text x="401.00" y="748.70" font-size="9.25" text-anchor="start" fill="#000" color="#000">count</text>
<rect x="480.80" y="717.50" width="127.60" height="126.90" fill="none" stroke="#a8a8a8" stroke-width="1"/>
<line x1="491.60" y1="844.40" x2="491.60" y2="846.20" stroke="#333" stroke-width="0.8"/>
<text x="491.60" y="854.92" font-size="8.8" text-anchor="middle" fill="#4d4d4d" color="#4d4d4d">−0.25</text>
<line x1="514.02" y1="844.40" x2="514.02" y2="846.20" stroke="#333" stroke-width="0.8"/>
<text x="514.02" y="854.92" font-size="8.8" text-anchor="middle" fill="#4d4d4d" color="#4d4d4d">0.00</text>
<line x1="536.44" y1="844.40" x2="536.44" y2="846.20" stroke="#333" stroke-width="0.8"/>
<text x="536.44" y="854.92" font-size="8.8" text-anchor="middle" fill="#4d4d4d" color="#4d4d4d">0.25</text>
<line x1="558.86" y1="844.40" x2="558.86" y2="846.20" stroke="#333" stroke-width="0.8"/>
<text x="558.86" y="854.92" font-size="8.8" text-anchor="middle" fill="#4d4d4d" color="#4d4d4d">0.50</text>
<line x1="581.28" y1="844.40" x2="581.28" y2="846.20" stroke="#333" stroke-width="0.8"/>
<text x="581.28" y="854.92" font-size="8.8" text-anchor="middle" fill="#4d4d4d" color="#4d4d4d">0.75</text>
<line x1="603.70" y1="844.40" x2="603.70" y2="846.20" stroke="#333" stroke-width="0.8"/>
<text x="603.70" y="854.92" font-size="8.8" text-anchor="middle" fill="#4d4d4d" color="#4d4d4d">1.00</text>
<line x1="479.00" y1="833.70" x2="480.80" y2="833.70" stroke="#333" stroke-width="0.8"/>
<text x="476.40" y="836.82" font-size="8.8" text-anchor="end" fill="#4d4d4d" color="#4d4d4d">−0.25</text>
<line x1="479.00" y1="811.36" x2="480.80" y2="811.36" stroke="#333" stroke-width="0.8"/>
<text x="476.40" y="814.48" font-size="8.8" text-anchor="end" fill="#4d4d4d" color="#4d4d4d">0.00</text>
<line x1="479.00" y1="789.02" x2="480.80" y2="789.02" stroke="#333" stroke-width="0.8"/>
<text x="476.40" y="792.14" font-size="8.8" text-anchor="end" fill="#4d4d4d" color="#4d4d4d">0.25</text>
<line x1="479.00" y1="766.68" x2="480.80" y2="766.68" stroke="#333" stroke-width="0.8"/>
<text x="476.40" y="769.80" font-size="8.8" text-anchor="end" fill="#4d4d4d" color="#4d4d4d">0.50</text>
<line x1="479.00" y1="744.34" x2="480.80" y2="744.34" stroke="#333" stroke-width="0.8"/>
<text x="476.40" y="747.46" font-size="8.8" text-anchor="end" fill="#4d4d4d" color="#4d4d4d">0.75</text>
<line x1="479.00" y1="722.00" x2="480.80" y2="722.00" stroke="#333" stroke-width="0.8"/>
<text x="476.40" y="725.12" font-size="8.8" text-anchor="end" fill="#4d4d4d" color="#4d4d4d">1.00</text>
<text x="544.70" y="699.60" font-size="10.8" text-anchor="middle" fill="#000" color="#000">Logue 2018</text>
<text x="544.50" y="710.50" font-size="10.8" text-anchor="middle" fill="#000" color="#000">bicor = 0.605, p = 0</text>
<text x="544.50" y="866.00" font-size="10.8" text-anchor="middle" fill="#000" color="#000">ICC in Lehne 2015</text>
<text x="450.50" y="779.80" font-size="10.8" text-anchor="middle" fill="#000" color="#000" transform="rotate(-90 450.50 779.80)">ICC in Logue 2018</text>
<defs><linearGradient id="vg396" x1="0" y1="0" x2="0" y2="1"><stop offset="0.00" stop-color="rgb(253,231,37)"/><stop offset="0.10" stop-color="rgb(189,223,38)"/><stop offset="0.20" stop-color="rgb(122,209,81)"/><stop offset="0.30" stop-color="rgb(68,191,112)"/><stop offset="0.40" stop-color="rgb(34,168,132)"/><stop offset="0.50" stop-color="rgb(33,145,140)"/><stop offset="0.60" stop-color="rgb(42,120,142)"/><stop offset="0.70" stop-color="rgb(53,95,141)"/><stop offset="0.80" stop-color="rgb(65,68,135)"/><stop offset="0.90" stop-color="rgb(72,36,117)"/><stop offset="1.00" stop-color="rgb(68,1,84)"/></linearGradient></defs>
<rect x="621.60" y="754.20" width="13.40" height="66.10" fill="url(#vg396)"/>
<line x1="621.60" y1="756.90" x2="623.60" y2="756.90" stroke="#fff" stroke-width="0.6"/>
<line x1="633.00" y1="756.90" x2="635.00" y2="756.90" stroke="#fff" stroke-width="0.6"/>
<text x="639.80" y="760.02" font-size="8.8" text-anchor="start" fill="#000" color="#000">64</text>
<line x1="621.60" y1="778.30" x2="623.60" y2="778.30" stroke="#fff" stroke-width="0.6"/>
<line x1="633.00" y1="778.30" x2="635.00" y2="778.30" stroke="#fff" stroke-width="0.6"/>
<text x="639.80" y="781.42" font-size="8.8" text-anchor="start" fill="#000" color="#000">16</text>
<line x1="621.60" y1="799.70" x2="623.60" y2="799.70" stroke="#fff" stroke-width="0.6"/>
<line x1="633.00" y1="799.70" x2="635.00" y2="799.70" stroke="#fff" stroke-width="0.6"/>
<text x="639.80" y="802.82" font-size="8.8" text-anchor="start" fill="#000" color="#000">4</text>
<text x="639.80" y="823.62" font-size="8.8" text-anchor="start" fill="#000" color="#000">1</text>
<text x="621.60" y="748.70" font-size="9.25" text-anchor="start" fill="#000" color="#000">count</text>
<rect x="262.50" y="528.60" width="142.00" height="112.80" fill="none" stroke="#a8a8a8" stroke-width="1"/>
<line x1="269.60" y1="641.40" x2="269.60" y2="643.20" stroke="#333" stroke-width="0.8"/>
<text x="269.60" y="651.24" font-size="8.0" text-anchor="middle" fill="#4d4d4d" color="#4d4d4d">−0.4</text>
<line x1="287.94" y1="641.40" x2="287.94" y2="643.20" stroke="#333" stroke-width="0.8"/>
<text x="287.94" y="651.24" font-size="8.0" text-anchor="middle" fill="#4d4d4d" color="#4d4d4d">−0.2</text>
<line x1="306.29" y1="641.40" x2="306.29" y2="643.20" stroke="#333" stroke-width="0.8"/>
<text x="306.29" y="651.24" font-size="8.0" text-anchor="middle" fill="#4d4d4d" color="#4d4d4d">0.0</text>
<line x1="324.63" y1="641.40" x2="324.63" y2="643.20" stroke="#333" stroke-width="0.8"/>
<text x="324.63" y="651.24" font-size="8.0" text-anchor="middle" fill="#4d4d4d" color="#4d4d4d">0.2</text>
<line x1="342.97" y1="641.40" x2="342.97" y2="643.20" stroke="#333" stroke-width="0.8"/>
<text x="342.97" y="651.24" font-size="8.0" text-anchor="middle" fill="#4d4d4d" color="#4d4d4d">0.4</text>
<line x1="361.31" y1="641.40" x2="361.31" y2="643.20" stroke="#333" stroke-width="0.8"/>
<text x="361.31" y="651.24" font-size="8.0" text-anchor="middle" fill="#4d4d4d" color="#4d4d4d">0.6</text>
<line x1="379.66" y1="641.40" x2="379.66" y2="643.20" stroke="#333" stroke-width="0.8"/>
<text x="379.66" y="651.24" font-size="8.0" text-anchor="middle" fill="#4d4d4d" color="#4d4d4d">0.8</text>
<line x1="398.00" y1="641.40" x2="398.00" y2="643.20" stroke="#333" stroke-width="0.8"/>
<text x="398.00" y="651.24" font-size="8.0" text-anchor="middle" fill="#4d4d4d" color="#4d4d4d">1.0</text>
<line x1="260.70" y1="636.40" x2="262.50" y2="636.40" stroke="#333" stroke-width="0.8"/>
<text x="259.00" y="639.24" font-size="8.0" text-anchor="end" fill="#4d4d4d" color="#4d4d4d">0.0</text>
<line x1="260.70" y1="612.77" x2="262.50" y2="612.77" stroke="#333" stroke-width="0.8"/>
<text x="259.00" y="615.62" font-size="8.0" text-anchor="end" fill="#4d4d4d" color="#4d4d4d">0.2</text>
<line x1="260.70" y1="589.15" x2="262.50" y2="589.15" stroke="#333" stroke-width="0.8"/>
<text x="259.00" y="591.99" font-size="8.0" text-anchor="end" fill="#4d4d4d" color="#4d4d4d">0.4</text>
<line x1="260.70" y1="565.52" x2="262.50" y2="565.52" stroke="#333" stroke-width="0.8"/>
<text x="259.00" y="568.37" font-size="8.0" text-anchor="end" fill="#4d4d4d" color="#4d4d4d">0.6</text>
<line x1="260.70" y1="541.90" x2="262.50" y2="541.90" stroke="#333" stroke-width="0.8"/>
<text x="259.00" y="544.74" font-size="8.0" text-anchor="end" fill="#4d4d4d" color="#4d4d4d">0.8</text>
<text x="333.50" y="510.70" font-size="10.8" text-anchor="middle" fill="#000" color="#000">CpG ICC vs.</text>
<text x="333.50" y="522.50" font-size="10.8" text-anchor="middle" fill="#000" color="#000">Age Correlation in Blood</text>
<text x="333.20" y="662.60" font-size="10.2" text-anchor="middle" fill="#000" color="#000">ICC</text>
<text x="243.80" y="583.70" font-size="10.2" text-anchor="middle" fill="#000" color="#000" transform="rotate(-90 243.80 583.70)">IAge CorrelationI</text>
<defs><linearGradient id="vg440" x1="0" y1="0" x2="0" y2="1"><stop offset="0.00" stop-color="rgb(253,231,37)"/><stop offset="0.10" stop-color="rgb(189,223,38)"/><stop offset="0.20" stop-color="rgb(122,209,81)"/><stop offset="0.30" stop-color="rgb(68,191,112)"/><stop offset="0.40" stop-color="rgb(34,168,132)"/><stop offset="0.50" stop-color="rgb(33,145,140)"/><stop offset="0.60" stop-color="rgb(42,120,142)"/><stop offset="0.70" stop-color="rgb(53,95,141)"/><stop offset="0.80" stop-color="rgb(65,68,135)"/><stop offset="0.90" stop-color="rgb(72,36,117)"/><stop offset="1.00" stop-color="rgb(68,1,84)"/></linearGradient></defs>
<rect x="415.30" y="563.10" width="11.50" height="57.40" fill="url(#vg440)"/>
<line x1="415.30" y1="567.00" x2="417.30" y2="567.00" stroke="#fff" stroke-width="0.6"/>
<line x1="424.80" y1="567.00" x2="426.80" y2="567.00" stroke="#fff" stroke-width="0.6"/>
<text x="432.00" y="570.05" font-size="8.6" text-anchor="start" fill="#000" color="#000">64</text>
<line x1="415.30" y1="585.20" x2="417.30" y2="585.20" stroke="#fff" stroke-width="0.6"/>
<line x1="424.80" y1="585.20" x2="426.80" y2="585.20" stroke="#fff" stroke-width="0.6"/>
<text x="432.00" y="588.25" font-size="8.6" text-anchor="start" fill="#000" color="#000">16</text>
<line x1="415.30" y1="603.30" x2="417.30" y2="603.30" stroke="#fff" stroke-width="0.6"/>
<line x1="424.80" y1="603.30" x2="426.80" y2="603.30" stroke="#fff" stroke-width="0.6"/>
<text x="432.00" y="606.35" font-size="8.6" text-anchor="start" fill="#000" color="#000">4</text>
<text x="432.00" y="624.05" font-size="8.6" text-anchor="start" fill="#000" color="#000">1</text>
<text x="415.30" y="557.50" font-size="9.3" text-anchor="start" fill="#000" color="#000">count</text>
<rect x="508.60" y="517.60" width="138.80" height="123.90" fill="none" stroke="#a8a8a8" stroke-width="1"/>
<line x1="514.50" y1="641.50" x2="514.50" y2="643.30" stroke="#333" stroke-width="0.8"/>
<text x="514.50" y="651.34" font-size="8.0" text-anchor="middle" fill="#4d4d4d" color="#4d4d4d">−0.4</text>
<line x1="532.59" y1="641.50" x2="532.59" y2="643.30" stroke="#333" stroke-width="0.8"/>
<text x="532.59" y="651.34" font-size="8.0" text-anchor="middle" fill="#4d4d4d" color="#4d4d4d">−0.2</text>
<line x1="550.67" y1="641.50" x2="550.67" y2="643.30" stroke="#333" stroke-width="0.8"/>
<text x="550.67" y="651.34" font-size="8.0" text-anchor="middle" fill="#4d4d4d" color="#4d4d4d">0.0</text>
<line x1="568.76" y1="641.50" x2="568.76" y2="643.30" stroke="#333" stroke-width="0.8"/>
<text x="568.76" y="651.34" font-size="8.0" text-anchor="middle" fill="#4d4d4d" color="#4d4d4d">0.2</text>
<line x1="586.84" y1="641.50" x2="586.84" y2="643.30" stroke="#333" stroke-width="0.8"/>
<text x="586.84" y="651.34" font-size="8.0" text-anchor="middle" fill="#4d4d4d" color="#4d4d4d">0.4</text>
<line x1="604.93" y1="641.50" x2="604.93" y2="643.30" stroke="#333" stroke-width="0.8"/>
<text x="604.93" y="651.34" font-size="8.0" text-anchor="middle" fill="#4d4d4d" color="#4d4d4d">0.6</text>
<line x1="623.01" y1="641.50" x2="623.01" y2="643.30" stroke="#333" stroke-width="0.8"/>
<text x="623.01" y="651.34" font-size="8.0" text-anchor="middle" fill="#4d4d4d" color="#4d4d4d">0.8</text>
<line x1="641.10" y1="641.50" x2="641.10" y2="643.30" stroke="#333" stroke-width="0.8"/>
<text x="641.10" y="651.34" font-size="8.0" text-anchor="middle" fill="#4d4d4d" color="#4d4d4d">1.0</text>
<line x1="506.80" y1="636.40" x2="508.60" y2="636.40" stroke="#333" stroke-width="0.8"/>
<text x="505.10" y="639.24" font-size="8.0" text-anchor="end" fill="#4d4d4d" color="#4d4d4d">1.0</text>
<line x1="506.80" y1="611.15" x2="508.60" y2="611.15" stroke="#333" stroke-width="0.8"/>
<text x="505.10" y="613.99" font-size="8.0" text-anchor="end" fill="#4d4d4d" color="#4d4d4d">1.2</text>
<line x1="506.80" y1="585.90" x2="508.60" y2="585.90" stroke="#333" stroke-width="0.8"/>
<text x="505.10" y="588.74" font-size="8.0" text-anchor="end" fill="#4d4d4d" color="#4d4d4d">1.4</text>
<line x1="506.80" y1="560.65" x2="508.60" y2="560.65" stroke="#333" stroke-width="0.8"/>
<text x="505.10" y="563.49" font-size="8.0" text-anchor="end" fill="#4d4d4d" color="#4d4d4d">1.6</text>
<line x1="506.80" y1="535.40" x2="508.60" y2="535.40" stroke="#333" stroke-width="0.8"/>
<text x="505.10" y="538.24" font-size="8.0" text-anchor="end" fill="#4d4d4d" color="#4d4d4d">1.8</text>
<text x="577.90" y="510.60" font-size="10.8" text-anchor="middle" fill="#000" color="#000">CpG ICC vs. Mortality Hazard Ratio</text>
<text x="577.90" y="662.40" font-size="10.2" text-anchor="middle" fill="#000" color="#000">ICC</text>
<text x="487.30" y="581.50" font-size="10.8" text-anchor="middle" fill="#000" color="#000" transform="rotate(-90 487.30 581.50)">Hazard Ratio for I1 SD  β I</text>
<defs><linearGradient id="vg483" x1="0" y1="0" x2="0" y2="1"><stop offset="0.00" stop-color="rgb(253,231,37)"/><stop offset="0.10" stop-color="rgb(189,223,38)"/><stop offset="0.20" stop-color="rgb(122,209,81)"/><stop offset="0.30" stop-color="rgb(68,191,112)"/><stop offset="0.40" stop-color="rgb(34,168,132)"/><stop offset="0.50" stop-color="rgb(33,145,140)"/><stop offset="0.60" stop-color="rgb(42,120,142)"/><stop offset="0.70" stop-color="rgb(53,95,141)"/><stop offset="0.80" stop-color="rgb(65,68,135)"/><stop offset="0.90" stop-color="rgb(72,36,117)"/><stop offset="1.00" stop-color="rgb(68,1,84)"/></linearGradient></defs>
<rect x="658.20" y="557.20" width="11.50" height="57.80" fill="url(#vg483)"/>
<line x1="658.20" y1="563.50" x2="660.20" y2="563.50" stroke="#fff" stroke-width="0.6"/>
<line x1="667.70" y1="563.50" x2="669.70" y2="563.50" stroke="#fff" stroke-width="0.6"/>
<text x="674.90" y="566.55" font-size="8.6" text-anchor="start" fill="#000" color="#000">64</text>
<line x1="658.20" y1="580.70" x2="660.20" y2="580.70" stroke="#fff" stroke-width="0.6"/>
<line x1="667.70" y1="580.70" x2="669.70" y2="580.70" stroke="#fff" stroke-width="0.6"/>
<text x="674.90" y="583.75" font-size="8.6" text-anchor="start" fill="#000" color="#000">16</text>
<line x1="658.20" y1="598.30" x2="660.20" y2="598.30" stroke="#fff" stroke-width="0.6"/>
<line x1="667.70" y1="598.30" x2="669.70" y2="598.30" stroke="#fff" stroke-width="0.6"/>
<text x="674.90" y="601.35" font-size="8.6" text-anchor="start" fill="#000" color="#000">4</text>
<text x="674.90" y="618.55" font-size="8.6" text-anchor="start" fill="#000" color="#000">1</text>
<text x="658.20" y="551.50" font-size="9.4" text-anchor="start" fill="#000" color="#000">count</text>
<rect x="35.70" y="512.50" width="175.00" height="134.80" fill="none" stroke="#a8a8a8" stroke-width="1"/>
<line x1="45.80" y1="647.30" x2="45.80" y2="649.10" stroke="#333" stroke-width="0.8"/>
<text x="45.80" y="656.84" font-size="8.0" text-anchor="middle" fill="#4d4d4d" color="#4d4d4d">−0.4</text>
<line x1="68.19" y1="647.30" x2="68.19" y2="649.10" stroke="#333" stroke-width="0.8"/>
<text x="68.19" y="656.84" font-size="8.0" text-anchor="middle" fill="#4d4d4d" color="#4d4d4d">−0.2</text>
<line x1="90.57" y1="647.30" x2="90.57" y2="649.10" stroke="#333" stroke-width="0.8"/>
<text x="90.57" y="656.84" font-size="8.0" text-anchor="middle" fill="#4d4d4d" color="#4d4d4d">0.0</text>
<line x1="112.96" y1="647.30" x2="112.96" y2="649.10" stroke="#333" stroke-width="0.8"/>
<text x="112.96" y="656.84" font-size="8.0" text-anchor="middle" fill="#4d4d4d" color="#4d4d4d">0.2</text>
<line x1="135.34" y1="647.30" x2="135.34" y2="649.10" stroke="#333" stroke-width="0.8"/>
<text x="135.34" y="656.84" font-size="8.0" text-anchor="middle" fill="#4d4d4d" color="#4d4d4d">0.4</text>
<line x1="157.73" y1="647.30" x2="157.73" y2="649.10" stroke="#333" stroke-width="0.8"/>
<text x="157.73" y="656.84" font-size="8.0" text-anchor="middle" fill="#4d4d4d" color="#4d4d4d">0.6</text>
<line x1="180.11" y1="647.30" x2="180.11" y2="649.10" stroke="#333" stroke-width="0.8"/>
<text x="180.11" y="656.84" font-size="8.0" text-anchor="middle" fill="#4d4d4d" color="#4d4d4d">0.8</text>
<line x1="202.50" y1="647.30" x2="202.50" y2="649.10" stroke="#333" stroke-width="0.8"/>
<text x="202.50" y="656.84" font-size="8.0" text-anchor="middle" fill="#4d4d4d" color="#4d4d4d">1.0</text>
<line x1="33.90" y1="641.40" x2="35.70" y2="641.40" stroke="#333" stroke-width="0.8"/>
<text x="32.20" y="644.24" font-size="8.0" text-anchor="end" fill="#4d4d4d" color="#4d4d4d">0.00</text>
<line x1="33.90" y1="621.55" x2="35.70" y2="621.55" stroke="#333" stroke-width="0.8"/>
<text x="32.20" y="624.39" font-size="8.0" text-anchor="end" fill="#4d4d4d" color="#4d4d4d">0.01</text>
<line x1="33.90" y1="601.70" x2="35.70" y2="601.70" stroke="#333" stroke-width="0.8"/>
<text x="32.20" y="604.54" font-size="8.0" text-anchor="end" fill="#4d4d4d" color="#4d4d4d">0.02</text>
<line x1="33.90" y1="581.85" x2="35.70" y2="581.85" stroke="#333" stroke-width="0.8"/>
<text x="32.20" y="584.69" font-size="8.0" text-anchor="end" fill="#4d4d4d" color="#4d4d4d">0.03</text>
<line x1="33.90" y1="562.00" x2="35.70" y2="562.00" stroke="#333" stroke-width="0.8"/>
<text x="32.20" y="564.84" font-size="8.0" text-anchor="end" fill="#4d4d4d" color="#4d4d4d">0.04</text>
<line x1="33.90" y1="542.15" x2="35.70" y2="542.15" stroke="#333" stroke-width="0.8"/>
<text x="32.20" y="544.99" font-size="8.0" text-anchor="end" fill="#4d4d4d" color="#4d4d4d">0.05</text>
<line x1="33.90" y1="522.30" x2="35.70" y2="522.30" stroke="#333" stroke-width="0.8"/>
<text x="32.20" y="525.14" font-size="8.0" text-anchor="end" fill="#4d4d4d" color="#4d4d4d">0.06</text>
<text x="119.90" y="507.50" font-size="10.8" text-anchor="middle" fill="#000" color="#000">Reliabilities of selected 78,464 CpGs</text>
<text x="123.20" y="668.30" font-size="10.2" text-anchor="middle" fill="#000" color="#000">ICC</text>
<text x="13.00" y="579.50" font-size="10.4" text-anchor="middle" fill="#000" color="#000" transform="rotate(-90 13.00 579.50)">Proportion</text>
<g fill="#a6a6a6" stroke="#222" stroke-width="0.45"><rect x="43.00" y="640.01" width="2.22" height="1.39"/><rect x="45.22" y="640.78" width="2.22" height="0.62"/><rect x="47.43" y="640.43" width="2.22" height="0.97"/><rect x="49.65" y="640.04" width="2.22" height="1.36"/><rect x="51.86" y="639.31" width="2.22" height="2.09"/><rect x="54.08" y="639.22" width="2.22" height="2.18"/><rect x="56.29" y="638.23" width="2.22" height="3.17"/><rect x="58.51" y="638.34" width="2.22" height="3.06"/><rect x="60.72" y="637.04" width="2.22" height="4.36"/><rect x="62.94" y="635.75" width="2.22" height="5.65"/><rect x="65.15" y="633.73" width="2.22" height="7.67"/><rect x="67.37" y="632.79" width="2.22" height="8.61"/><rect x="69.58" y="631.75" width="2.22" height="9.65"/><rect x="71.80" y="629.77" width="2.22" height="11.63"/><rect x="74.02" y="627.69" width="2.22" height="13.71"/><rect x="76.23" y="625.42" width="2.22" height="15.98"/><rect x="78.45" y="623.57" width="2.22" height="17.83"/><rect x="80.66" y="622.32" width="2.22" height="19.08"/><rect x="82.88" y="620.77" width="2.22" height="20.63"/><rect x="85.09" y="618.84" width="2.22" height="22.56"/><rect x="87.31" y="616.65" width="2.22" height="24.75"/><rect x="89.52" y="616.50" width="2.22" height="24.90"/><rect x="91.74" y="616.41" width="2.22" height="24.99"/><rect x="93.95" y="612.51" width="2.22" height="28.89"/><rect x="96.17" y="611.23" width="2.22" height="30.17"/><rect x="98.38" y="611.11" width="2.22" height="30.29"/><rect x="100.60" y="610.94" width="2.22" height="30.46"/><rect x="102.81" y="610.99" width="2.22" height="30.41"/><rect x="105.03" y="610.24" width="2.22" height="31.16"/><rect x="107.24" y="610.13" width="2.22" height="31.27"/><rect x="109.46" y="609.73" width="2.22" height="31.67"/><rect x="111.67" y="610.44" width="2.22" height="30.96"/><rect x="113.89" y="611.63" width="2.22" height="29.77"/><rect x="116.11" y="610.13" width="2.22" height="31.27"/><rect x="118.32" y="614.04" width="2.22" height="27.36"/><rect x="120.54" y="614.81" width="2.22" height="26.59"/><rect x="122.75" y="615.58" width="2.22" height="25.82"/><rect x="124.97" y="617.12" width="2.22" height="24.28"/><rect x="127.18" y="618.29" width="2.22" height="23.11"/><rect x="129.40" y="619.98" width="2.22" height="21.42"/><rect x="131.61" y="619.47" width="2.22" height="21.93"/><rect x="133.83" y="620.04" width="2.22" height="21.36"/><rect x="136.04" y="620.97" width="2.22" height="20.43"/><rect x="138.26" y="622.25" width="2.22" height="19.15"/><rect x="140.47" y="623.00" width="2.22" height="18.40"/><rect x="142.69" y="623.14" width="2.22" height="18.26"/><rect x="144.90" y="621.74" width="2.22" height="19.66"/><rect x="147.12" y="621.15" width="2.22" height="20.25"/><rect x="149.33" y="620.00" width="2.22" height="21.40"/><rect x="151.55" y="620.35" width="2.22" height="21.05"/><rect x="153.76" y="619.43" width="2.22" height="21.97"/><rect x="155.98" y="617.93" width="2.22" height="23.47"/><rect x="158.19" y="617.16" width="2.22" height="24.24"/><rect x="160.41" y="615.88" width="2.22" height="25.52"/><rect x="162.63" y="613.57" width="2.22" height="27.83"/><rect x="164.84" y="612.02" width="2.22" height="29.38"/><rect x="167.06" y="610.76" width="2.22" height="30.64"/><rect x="169.27" y="607.79" width="2.22" height="33.61"/><rect x="171.49" y="604.85" width="2.22" height="36.55"/><rect x="173.70" y="601.61" width="2.22" height="39.79"/><rect x="175.92" y="596.69" width="2.22" height="44.71"/><rect x="178.13" y="590.44" width="2.22" height="50.96"/><rect x="180.35" y="584.51" width="2.22" height="56.89"/><rect x="182.56" y="578.63" width="2.22" height="62.77"/><rect x="184.78" y="571.79" width="2.22" height="69.61"/><rect x="186.99" y="562.14" width="2.22" height="79.26"/><rect x="189.21" y="552.70" width="2.22" height="88.70"/><rect x="191.42" y="550.06" width="2.22" height="91.34"/><rect x="193.64" y="547.94" width="2.22" height="93.46"/><rect x="195.85" y="562.78" width="2.22" height="78.62"/><rect x="198.07" y="590.12" width="2.22" height="51.28"/><rect x="200.28" y="621.95" width="2.22" height="19.45"/></g>
<rect x="43.80" y="316.40" width="196.00" height="141.10" fill="none" stroke="#a8a8a8" stroke-width="1"/>
<line x1="52.60" y1="457.50" x2="52.60" y2="459.30" stroke="#333" stroke-width="0.8"/>
<text x="52.60" y="466.85" font-size="8.3" text-anchor="middle" fill="#4d4d4d" color="#4d4d4d">−0.006</text>
<line x1="82.33" y1="457.50" x2="82.33" y2="459.30" stroke="#333" stroke-width="0.8"/>
<text x="82.33" y="466.85" font-size="8.3" text-anchor="middle" fill="#4d4d4d" color="#4d4d4d">−0.004</text>
<line x1="112.07" y1="457.50" x2="112.07" y2="459.30" stroke="#333" stroke-width="0.8"/>
<text x="112.07" y="466.85" font-size="8.3" text-anchor="middle" fill="#4d4d4d" color="#4d4d4d">−0.002</text>
<line x1="141.80" y1="457.50" x2="141.80" y2="459.30" stroke="#333" stroke-width="0.8"/>
<text x="141.80" y="466.85" font-size="8.3" text-anchor="middle" fill="#4d4d4d" color="#4d4d4d">0.000</text>
<line x1="171.53" y1="457.50" x2="171.53" y2="459.30" stroke="#333" stroke-width="0.8"/>
<text x="171.53" y="466.85" font-size="8.3" text-anchor="middle" fill="#4d4d4d" color="#4d4d4d">0.002</text>
<line x1="201.27" y1="457.50" x2="201.27" y2="459.30" stroke="#333" stroke-width="0.8"/>
<text x="201.27" y="466.85" font-size="8.3" text-anchor="middle" fill="#4d4d4d" color="#4d4d4d">0.004</text>
<line x1="231.00" y1="457.50" x2="231.00" y2="459.30" stroke="#333" stroke-width="0.8"/>
<text x="231.00" y="466.85" font-size="8.3" text-anchor="middle" fill="#4d4d4d" color="#4d4d4d">0.006</text>
<line x1="42.00" y1="451.00" x2="43.80" y2="451.00" stroke="#333" stroke-width="0.8"/>
<text x="40.80" y="453.98" font-size="8.4" text-anchor="end" fill="#4d4d4d" color="#4d4d4d">0</text>
<line x1="42.00" y1="429.60" x2="43.80" y2="429.60" stroke="#333" stroke-width="0.8"/>
<text x="40.80" y="432.58" font-size="8.4" text-anchor="end" fill="#4d4d4d" color="#4d4d4d">50</text>
<line x1="42.00" y1="408.20" x2="43.80" y2="408.20" stroke="#333" stroke-width="0.8"/>
<text x="40.80" y="411.18" font-size="8.4" text-anchor="end" fill="#4d4d4d" color="#4d4d4d">100</text>
<line x1="42.00" y1="386.80" x2="43.80" y2="386.80" stroke="#333" stroke-width="0.8"/>
<text x="40.80" y="389.78" font-size="8.4" text-anchor="end" fill="#4d4d4d" color="#4d4d4d">150</text>
<line x1="42.00" y1="365.40" x2="43.80" y2="365.40" stroke="#333" stroke-width="0.8"/>
<text x="40.80" y="368.38" font-size="8.4" text-anchor="end" fill="#4d4d4d" color="#4d4d4d">200</text>
<line x1="42.00" y1="344.00" x2="43.80" y2="344.00" stroke="#333" stroke-width="0.8"/>
<text x="40.80" y="346.98" font-size="8.4" text-anchor="end" fill="#4d4d4d" color="#4d4d4d">250</text>
<line x1="42.00" y1="322.60" x2="43.80" y2="322.60" stroke="#333" stroke-width="0.8"/>
<text x="40.80" y="325.58" font-size="8.4" text-anchor="end" fill="#4d4d4d" color="#4d4d4d">300</text>
<text x="142.40" y="311.90" font-size="10.8" text-anchor="middle" fill="#000" color="#000">450K CpG age associations in blood</text>
<text x="142.40" y="477.60" font-size="10.8" text-anchor="middle" fill="#000" color="#000">Slope (Change in β per year)</text>
<text x="22.00" y="386.95" font-size="10.8" text-anchor="middle" fill="#000" color="#000" transform="rotate(-90 22.00 386.95)">−log10(Pvalues)</text>
<defs><linearGradient id="vg563" x1="0" y1="0" x2="0" y2="1"><stop offset="0.00" stop-color="rgb(253,231,37)"/><stop offset="0.10" stop-color="rgb(189,223,38)"/><stop offset="0.20" stop-color="rgb(122,209,81)"/><stop offset="0.30" stop-color="rgb(68,191,112)"/><stop offset="0.40" stop-color="rgb(34,168,132)"/><stop offset="0.50" stop-color="rgb(33,145,140)"/><stop offset="0.60" stop-color="rgb(42,120,142)"/><stop offset="0.70" stop-color="rgb(53,95,141)"/><stop offset="0.80" stop-color="rgb(65,68,135)"/><stop offset="0.90" stop-color="rgb(72,36,117)"/><stop offset="1.00" stop-color="rgb(68,1,84)"/></linearGradient></defs>
<rect x="250.00" y="368.50" width="10.80" height="51.80" fill="url(#vg563)"/>
<line x1="250.00" y1="380.60" x2="252.00" y2="380.60" stroke="#fff" stroke-width="0.6"/>
<line x1="258.80" y1="380.60" x2="260.80" y2="380.60" stroke="#fff" stroke-width="0.6"/>
<text x="265.70" y="383.90" font-size="9.3" text-anchor="start" fill="#000" color="#000">4096</text>
<line x1="250.00" y1="393.70" x2="252.00" y2="393.70" stroke="#fff" stroke-width="0.6"/>
<line x1="258.80" y1="393.70" x2="260.80" y2="393.70" stroke="#fff" stroke-width="0.6"/>
<text x="265.70" y="397.00" font-size="9.3" text-anchor="start" fill="#000" color="#000">256</text>
<line x1="250.00" y1="407.20" x2="252.00" y2="407.20" stroke="#fff" stroke-width="0.6"/>
<line x1="258.80" y1="407.20" x2="260.80" y2="407.20" stroke="#fff" stroke-width="0.6"/>
<text x="265.70" y="410.50" font-size="9.3" text-anchor="start" fill="#000" color="#000">16</text>
<text x="265.70" y="423.60" font-size="9.3" text-anchor="start" fill="#000" color="#000">1</text>
<text x="250.00" y="361.60" font-size="10.7" text-anchor="start" fill="#000" color="#000">count</text>
<rect x="325.50" y="313.40" width="195.90" height="141.90" fill="none" stroke="#a8a8a8" stroke-width="1"/>
<line x1="334.50" y1="455.30" x2="334.50" y2="457.10" stroke="#333" stroke-width="0.8"/>
<text x="334.50" y="464.65" font-size="8.3" text-anchor="middle" fill="#4d4d4d" color="#4d4d4d">−0.006</text>
<line x1="364.18" y1="455.30" x2="364.18" y2="457.10" stroke="#333" stroke-width="0.8"/>
<text x="364.18" y="464.65" font-size="8.3" text-anchor="middle" fill="#4d4d4d" color="#4d4d4d">−0.004</text>
<line x1="393.87" y1="455.30" x2="393.87" y2="457.10" stroke="#333" stroke-width="0.8"/>
<text x="393.87" y="464.65" font-size="8.3" text-anchor="middle" fill="#4d4d4d" color="#4d4d4d">−0.002</text>
<line x1="423.55" y1="455.30" x2="423.55" y2="457.10" stroke="#333" stroke-width="0.8"/>
<text x="423.55" y="464.65" font-size="8.3" text-anchor="middle" fill="#4d4d4d" color="#4d4d4d">0.000</text>
<line x1="453.23" y1="455.30" x2="453.23" y2="457.10" stroke="#333" stroke-width="0.8"/>
<text x="453.23" y="464.65" font-size="8.3" text-anchor="middle" fill="#4d4d4d" color="#4d4d4d">0.002</text>
<line x1="482.92" y1="455.30" x2="482.92" y2="457.10" stroke="#333" stroke-width="0.8"/>
<text x="482.92" y="464.65" font-size="8.3" text-anchor="middle" fill="#4d4d4d" color="#4d4d4d">0.004</text>
<line x1="512.60" y1="455.30" x2="512.60" y2="457.10" stroke="#333" stroke-width="0.8"/>
<text x="512.60" y="464.65" font-size="8.3" text-anchor="middle" fill="#4d4d4d" color="#4d4d4d">0.006</text>
<line x1="323.70" y1="448.90" x2="325.50" y2="448.90" stroke="#333" stroke-width="0.8"/>
<text x="322.50" y="451.88" font-size="8.4" text-anchor="end" fill="#4d4d4d" color="#4d4d4d">0</text>
<line x1="323.70" y1="427.48" x2="325.50" y2="427.48" stroke="#333" stroke-width="0.8"/>
<text x="322.50" y="430.47" font-size="8.4" text-anchor="end" fill="#4d4d4d" color="#4d4d4d">50</text>
<line x1="323.70" y1="406.07" x2="325.50" y2="406.07" stroke="#333" stroke-width="0.8"/>
<text x="322.50" y="409.05" font-size="8.4" text-anchor="end" fill="#4d4d4d" color="#4d4d4d">100</text>
<line x1="323.70" y1="384.65" x2="325.50" y2="384.65" stroke="#333" stroke-width="0.8"/>
<text x="322.50" y="387.63" font-size="8.4" text-anchor="end" fill="#4d4d4d" color="#4d4d4d">150</text>
<line x1="323.70" y1="363.23" x2="325.50" y2="363.23" stroke="#333" stroke-width="0.8"/>
<text x="322.50" y="366.22" font-size="8.4" text-anchor="end" fill="#4d4d4d" color="#4d4d4d">200</text>
<line x1="323.70" y1="341.82" x2="325.50" y2="341.82" stroke="#333" stroke-width="0.8"/>
<text x="322.50" y="344.80" font-size="8.4" text-anchor="end" fill="#4d4d4d" color="#4d4d4d">250</text>
<line x1="323.70" y1="320.40" x2="325.50" y2="320.40" stroke="#333" stroke-width="0.8"/>
<text x="322.50" y="323.38" font-size="8.4" text-anchor="end" fill="#4d4d4d" color="#4d4d4d">300</text>
<text x="418.70" y="311.20" font-size="10.8" text-anchor="middle" fill="#000" color="#000">450K CpG age associations in blood</text>
<text x="418.70" y="474.50" font-size="10.8" text-anchor="middle" fill="#000" color="#000">Slope (Change in β per year)</text>
<text x="304.30" y="384.35" font-size="10.8" text-anchor="middle" fill="#000" color="#000" transform="rotate(-90 304.30 384.35)">−log10(Pvalues)</text>
<defs><linearGradient id="vg608" x1="0" y1="0" x2="0" y2="1"><stop offset="0.00" stop-color="rgb(253,231,37)"/><stop offset="0.10" stop-color="rgb(189,223,38)"/><stop offset="0.20" stop-color="rgb(122,209,81)"/><stop offset="0.30" stop-color="rgb(68,191,112)"/><stop offset="0.40" stop-color="rgb(34,168,132)"/><stop offset="0.50" stop-color="rgb(33,145,140)"/><stop offset="0.60" stop-color="rgb(42,120,142)"/><stop offset="0.70" stop-color="rgb(53,95,141)"/><stop offset="0.80" stop-color="rgb(65,68,135)"/><stop offset="0.90" stop-color="rgb(72,36,117)"/><stop offset="1.00" stop-color="rgb(68,1,84)"/></linearGradient></defs>
<rect x="531.70" y="366.30" width="10.20" height="51.80" fill="url(#vg608)"/>
<line x1="531.70" y1="378.20" x2="533.70" y2="378.20" stroke="#fff" stroke-width="0.6"/>
<line x1="539.90" y1="378.20" x2="541.90" y2="378.20" stroke="#fff" stroke-width="0.6"/>
<text x="546.80" y="381.50" font-size="9.3" text-anchor="start" fill="#000" color="#000">4096</text>
<line x1="531.70" y1="391.40" x2="533.70" y2="391.40" stroke="#fff" stroke-width="0.6"/>
<line x1="539.90" y1="391.40" x2="541.90" y2="391.40" stroke="#fff" stroke-width="0.6"/>
<text x="546.80" y="394.70" font-size="9.3" text-anchor="start" fill="#000" color="#000">256</text>
<line x1="531.70" y1="405.00" x2="533.70" y2="405.00" stroke="#fff" stroke-width="0.6"/>
<line x1="539.90" y1="405.00" x2="541.90" y2="405.00" stroke="#fff" stroke-width="0.6"/>
<text x="546.80" y="408.30" font-size="9.3" text-anchor="start" fill="#000" color="#000">16</text>
<text x="546.80" y="421.80" font-size="9.3" text-anchor="start" fill="#000" color="#000">1</text>
<text x="531.70" y="359.40" font-size="10.7" text-anchor="start" fill="#000" color="#000">count</text>
<line x1="43.80" y1="444.15" x2="239.80" y2="444.15" stroke="#222" stroke-width="0.8" stroke-dasharray="2.6,1.6"/>
<line x1="325.50" y1="442.05" x2="521.40" y2="442.05" stroke="#222" stroke-width="0.8" stroke-dasharray="2.6,1.6"/>
<text x="327.30" y="319.80" font-size="8.05" text-anchor="start" fill="#e41a1c" color="#e41a1c">Red = 3,612 CpGs across 18 clocks</text>
<text x="327.30" y="330.00" font-size="8.05" text-anchor="start" fill="#e41a1c" color="#e41a1c">(Accounts for 729 of 41,357 most significant CpGs)</text>
</svg>
<script>
const A="#$%&'()*+,-./0123456789:;<=>?@ABCDEFGHIJKLMNOPQRSTUVWXYZ[]^_`abcdefghijklmnopqrstuvwxyz{|}";
const PAL=[[255, 255, 255, 0], [68, 1, 84, 255], [70, 7, 90, 255], [71, 13, 96, 255], [71, 19, 101, 255], [72, 24, 106, 255], [72, 29, 111, 255], [72, 35, 116, 255], [72, 40, 120, 255], [71, 45, 123, 255], [70, 50, 126, 255], [69, 55, 129, 255], [68, 59, 132, 255], [66, 64, 134, 255], [64, 69, 136, 255], [62, 73, 137, 255], [61, 78, 138, 255], [58, 83, 139, 255], [56, 88, 140, 255], [54, 92, 141, 255], [52, 96, 141, 255], [50, 100, 142, 255], [49, 104, 142, 255], [47, 108, 142, 255], [45, 112, 142, 255], [44, 115, 142, 255], [42, 119, 142, 255], [41, 123, 142, 255], [39, 127, 142, 255], [38, 130, 142, 255], [36, 134, 142, 255], [35, 138, 141, 255], [33, 142, 141, 255], [32, 146, 140, 255], [31, 150, 139, 255], [31, 154, 138, 255], [31, 158, 137, 255], [31, 161, 135, 255], [33, 165, 133, 255], [35, 169, 131, 255], [38, 173, 129, 255], [42, 176, 127, 255], [47, 180, 124, 255], [53, 183, 121, 255], [59, 187, 117, 255], [66, 190, 113, 255], [74, 193, 109, 255], [82, 197, 105, 255], [90, 200, 100, 255], [101, 203, 94, 255], [110, 206, 88, 255], [119, 209, 83, 255], [129, 211, 77, 255], [139, 214, 70, 255], [149, 216, 64, 255], [160, 218, 57, 255], [170, 220, 50, 255], [181, 222, 43, 255], [192, 223, 37, 255], [202, 225, 31, 255], [213, 226, 26, 255], [223, 227, 24, 255], [234, 229, 26, 255], [244, 230, 30, 255], [253, 231, 37, 255], [68, 1, 84, 90], [68, 1, 84, 160]];
const LAYERS=[[39.9, 721.4, 117.0, 117.0, 80, 80, "~}~}~_*~#$~#*~&*$~$*~%$$$*~$$~#$~#$$~#$*-$$*$$$$$~#$~$$~$$$$$~$$$~#-$*-*10436:<?=DBFDFCGDD$*~$*-~#*~%$*~#-*~'*$$$~$$~$$$$$$~$$~#*~$$~$-~($$*$*$$*$*0647=<?BCEHHFGDFFD$~#$$$~&$*$$~$$~'*~#*~$$*$$~#*$~($$$$~-$--$*-0$-97<?ADDFGGHIIIHEE$~$$~#$$$$$~$$~#$~%$~$*$~$$~$$$~#$~#$~#$$~#*~$*$~#$$$$~$*$$-$$**--43*48>@CFEHIJJHIKHED*~%$~$$~&$$$~'*$*~#$$~$-~#$$$~'$*$~#$$~#$~%$~#*~#-~#*0~#0-478:>CBEFHHIJIIJGGGE-~$$~'*~&$~$$*$$~'$~%$~+$~#$$*~#-~%$$*$$~#$-3-74;@@CEIGIJMKJJIHGDE1~)-$~$$~$*~#$~%$$~#$~#$$~#$~($~$$~#$*~#$$~#$~$*-**0$*3135<>?DFHHJJLLLLJJJFEE$~$$$~%$~*$$~#$*$$$$~#*~#$*~#$~#$~&$$~)$~$*1*-00$:87>?CEFGIIILLLJKJHFEF3~&$~#$-$~#*~#$*$~#$$~$-$~#$~#$$$*$~#$~#*~$$~$$~$*$~$*$*$1-*11045==?CEEHJLJLLKLLJIFHEB0~%*$$~$$~#*~($$*~$$$~#$$$~#*~#--$$$*$-*~#*$**~#$$*3-$$1-61<=ACDDHFIIJMJLKKHHHDED*$$~#**~$$$~#$~#$-$-$~$*$~#$$~%$$*$0*~#$~'$~&*-*-$0-7405:;>BADFHGJKKKJJKIHGECCA-$~&$$~'$$~&$*$$$$$$~%$$$$~$$~#$~%$~#$$~#$$*$**-89;;:?ADDEFIIJKIKJIHIHECBA-~#$$$~#$*~$$~#$$~%*~#$$~'-*~$$$*~%*~#$~#$-~#$*$$*~#*$404-:>:<@B@DFHHIIJKKHJJFHE?B?$~#-~#$$~$$$~%$~%$~$$--~#$~%$~$$$~%*$$~%$1**~#$--*-468189>?AEEEGGGHGHIGFHGCAA>>3~%$~#-~$$$~#-$~$$~$$$$$~&$~#$$$$$~%*$*$*~#-0*$$-*$04:6=>7?@?BCFHFGIHIIGGEDA@B?<*~%$*$~%*$*~&$~#*$$~#$$*~$*~'*$~#$~#*$~#-$$-3*-116868:?;A@DECEFFGDHGGEEEBCB=;>6$~#$$~$-~'-~#*~%*~#*~$$~#$~$*~$*$$0$~#*$$~#$$$*0*5-*697>5<>?;?CCEEDEEBECDDB@@==:86~$*-~#$$~$-~$$$~#*~#-*$~#$$~&$$$$$*$~#$$$~#*~#--~#$*0*43885<:=>=CB@BABGCEDBEDC?A;?@:>7-~#$~$$~#$~#$~%$~%*$~#-~%$$~#$$~#$~#$**~#$*$***1*1--7*:37:<=<?@>?A?BCACBBAAA@>>A;9;59$~#$~$$*~$$~#$$~$$$$$*~#$~#$~#$~$1**$$$~#$-$*-$*-*014*:4;::8;;<??>BA?C@?<??@?<>?9<9;:;$~#*-~%-~#$*$~$$*~#$~%*~#$$~$-$$~#1$$$~$$$$*0*--4070877;;9><?@<A?A>B=@>>>>;;;:8184:$$-~%$*~#$~%$*$-~%$$$$~#-~#$$$*-$*--*$1$4014131*4:565=9=>9??<<<?=A>;?=68<:=6630=$*~#$~#$$-~'*~#$$~%$-$$~#**$-*~#-$$~#-00~#*-0351571887<969==<;8;7>=;<>;<<;94=6-3**:~$*~#$$$~&$$~#*~$$~#$~$-*~#$~(*~#0*01-03006879978:7=7;;9:96:6<:;<;:6<5:930-~#*-;~#*~&$~#*~#*$*$$$*~#$~#$~$$$$$-$~#$*-*$0-300737-34:457<<8<9:7=;=86:6:;876487161-~#0*;~#$$~#*~&*$~#$~(*$**-*~$$*~#$*$$$-$~#-134678589>8:-::::::6>678<4933;;46661*0-$;~#$~#$*~#$~$$$~$$~#*$~'$~#*$$-~#$~#$$*-1$11$1*911878;8;59:99745:9:94435104-3100-**~#?~#$$~#*$$~%*~$*$-~$*$~%$$~#$**1-$$30-341366556:75;=9;:55784:187144-43*551$0*0$$~#?~%*~$$~#*$~$$~#$~#**~#*$$*-*$*$~#$**$*-**3-304586;::845;4:1456415745630-4$-10*$~$$*@~#$*~#$~$$$-$~#*$$~#$~#$*~#***~#**-0001-$33514046471:08::588314:1713*-111-0*-00--~#*~%D~#$$~#$~'$$$*~#**$~#-$-$-$-$*-0**0*$0833366;858:9740831379-1110-10$$40--*~#-$~#*~#$E~#$*$*-~$$$$~%$$-$~#-~#***-$-1--**56541-403:786484<7:544431403411*31430*$~$0*~#$~#$C$~'*~$*~#$$$~#$***$*$0~#**$-01-30608-65568385763=6685444315*0**-6-1-0$*$~$$~#$~$E$**~&$$$$***$$~#$$$1--$~#0$-$05-40874676670:-548761130103*34013*$4$0--$$~#-$~#$~#$F*$$-~$$-$~#*~#$$~#*~#$$-$$-*$*0*410654714*57515;46;756415--0635*1*-$~#**~#$-*~#-~#*~&F~#*~%$~#*$*$~#**$--~#-*3-**3005-3101657854::6:33:7740*434-06-0-0*11$6$$$$*~($~#G~#*$~#$~#$$*$*~%**$0**~#*4$0**334-4839584985;5455474*0-0505$4$*-0$-*0$$*$$~#$*~'I~#$$~%*$$*~$--**~#*3$$*-*0*7145131754788:68:-311531~#-$100$0**$-30-1*$*~#$$~#$$~%$I-$$-$~$*$~#$$$~#$**$**0140-4-337565939:59646163333040-0*3$0-*$1$$$*$~%*~#*$$$$~%J$$$$0$$$~#--4*$$~#-*1*$$15*443419687994748844545-010$0-14$~#----$*$*$$~$*~$$$*~&K~#*~#*~#$-$~#*~#**-$**1-01-*504816473687711:9986534-*00--$515**--$73~#***~*$~%L$*$*-~#$0~#-1-0$-0*0-3-040173:3396556:664411;314315*31-*---03~#-*$$~$$~#$~%$$~%$~#M~#0$$$*-0-*$*-00---40-*34064564744773:194976-*1$0*0000$$*0-1-0$$$~#$~#$~#$~'$~#$$M**$-$*---*-*~#-4*11*161346657360;98144360$1-00-~#*60$30*$-$~#1*~#0~$$~#$$$~#$$$~#$~$$~#L*$-$--**0-1-*00101-430375666:9975865457:6011$0$*$$40**~$****$*$~2O1-14$-014011**0*1410348646743533646;900374-*4-*01-0--**$~#$$$~+*~%$~'O-41*-010134400-*3*3139537361;79-577:685300151051-1-~#*-$~#$*$~#$~%-~#$$~$**~$$~&P-3$3*-511-41*0305865366:4:4:44:67:904035$430-*-*-0*1-0-000$~$$~#$~#*~#$~$$~($$P03504--140015-08715577674396:37694634910--*0~#$-~#$*-*0$$0*~%$$$~$$$$~)$~%P44371411413--30:75367;658;9917738145-6310*00**00~#00*-0$**~#$$$~#$~$$~$$~&-~&$Q030430040*56546:416:1:;993:8860646401-$$*$*-$$--*$--$~#3$$*~#$~$$~#$$$~%$*~$$$~$*Q$053-9183665119439:::;7:754:7914363036113*~#1$$*1-1$-*~#*1-~$$~&$~&$~$$~(R351-30513504817::887:;;::7987470835:5141-1-100*$*51~#$~#$~#$*~#$~&$$*$~+$~#R7398974:1858686:9697;6>97;8;7999374-0110-0*0*6$-$1*-$0$$$~#**~#$~#$*$~$$$$~$*$~%$R44480760998-3;47:999<875:;56761035013000~#*-00$$~#0-$~#*~#$~#$~#$~#$~+$~$$~$*~$S5979:;;1619:87978;861;>6684893466-41543-0~#-$$--~#*$-*-$$$~$*~&$$~%$*~#$$~(T510:99:6<7:>7>8;=<:::<99:886;64177*511-**1$3-0*~$0*0~&$$~%$~'$~#$~%*~%$~#T::9:69;:=;7;;:?<>;==<<:5:5<43:819-606-3-033*$1*3*~#1~%$$$~#$~#$~$*$$~,*~$U5:09<<7;9?<>;;<=<>;;=;89<9:9635361-00*0101*5*$$$*40*-~#*$$~&*~%$~$$~$$~)U6897:<;:=;;=>==><:<:?9699:76:13367651*30103-0*-*~$*~#$~#$$$*~#$~%$$~#*~.U9::>;?;<=;8=>>>>;A589:88=655;966685*31*1*60*-00-~#01*~#*~#$$~#-~$$~%-~&$$~%$~%U<8:<<>?>==>????;===::<994706:346-1105813*-0*~#1--1*~#$$~$$~#$~+$~'$$*~#*~#V<=<?<:=@<><>?>==>?==:=<8;68:3664354*4$03-35*-*-0$~#$~&*$$~&$~#$*$~($~#$~$$V<<@>9<@>9=B@=:@>=>:<:;569687733;837304400-**01*$$$$$$*~%*$~'$~#$~'$~%$$~#W><;;???>?<A><<?>A:<<;>;79;459:;84851050**--*$-**$~#$$**~%$~'$$$~#$~$$~'$$~#W@:?>?>?BA==<:>?>>?<;?@<9:8:=5997305*4-3601-11*-$$$~#*-~#**$*$~#$~$$~&$*~'$~%W=>@@?B?A?A>@;?=?<?>>;;?5:546:488571509-*1-*13-*$-$-$~#0~#$$~%$~$$~$*~($~$$~$W>@BC@AB?@A><B<?@<:@>8;;<6994::164561556101*$$$$*~#*-~#**~$*~#$$$$~$$$~'$~#$~#$~%X?@A?>???@>>@@?>=<@<>==86:?78:5734457333460--*3-*--$$-$$*$$$~%$~***~'$XBBA??A>@AA@?=A><=?::;=8>93::;:8773161404-$13*-$1*$$**~'$~&$$~#$$$~&$~'XBBAAA@A?A?@B>><A>>=9=:8=9:;7<963946169-0**--*~#3-*$*$*-*-~#$~%$$$~$$~'$~#*~#$~$X@@@B=?>AA>?@?><>;=>@>==;<;578;:848-3110-$40--3$~#0-*-~#-$$$-~#$~$*~#*~%$~#$~$$~$$~$Y?@@@AA?A??A?A@>?9=8@;<<<;78<89<9395:1710001$---0-0-*$0*~#$~#-$~*$~($~#$~#XA?ADAA@AA=??<<?<A>>:><A:<:;5865<57061100-*0-140**~#$$-$-$*~#-$~#$$~#$~$$~+$~#XC@;@AA?@@<?@?B;<:;>:;<=1:;8:<5:196833075**-1-$$0$$~$*$~#$$$$$$~$$$~0XAAA=@A@A??@>?AAA==>>:=::9<?773;::87676-*3-0~#$1-$0-~#-~#0$*~#**~#*~)$~$$~#$$$~$*XA>D@B?ABA@?B@=?@B>A>>:@=:=>8?>8:;9>:<37;:435433677375641-030*$-$4*03---$*~#00$*-"], [264.84, 727.3, 117.66, 109.22, 118, 109, "~/$~#$~2$~%$~&$$~&$$~*$$~$.$~9$~+$$~#.~#$~*$4.>FNOR~$$~6$~>$~&$~&$~$$~&$~$$~$$~($~#$~'$~/$~#$$.A8AFJMMR~0$~&$~#$~2$~0$~#$~).~+$~:$$$~%..~#.$$888COQRV~)$~&$~($~0$~?$$~%.~*$~#$~$$~0$~%$~#$$~#$.~#.AFJPPVY~$$~4$~%$~0$$~.$~*$~*$~4$~'$~%$~$$$~#$4$>CKIUY[X~)$~/$~($~;$~#$~#$$~+.~$$~.$~0$~$$$~$$4.4DGSVWX]~.$~$$~N$~&$~%$~%$~*$~&$~-$~$.$$8~#$4~#>LJVT]XZ~'$~9$~)$~)$~&$~+$~/$~*$~$$~*$~$$$$~#$~#$~#$.4>GMORR^[^~($~($~$$~3.~,$~#$~+$~<$$~).$~%$~%$..848D>JKNWY_W]~1$~#$$~'$~$$~&$$~5$~%$$~&$~#$~)$~#$$$~%$~0.~$$$~#$~#.A8<>AKQRSY[^]~0$~($~B$~$$~#$~#$~/$~$$~.4~#$~#$~#$$~%.<~#$<C>GGPYZXYTZ~?$$~%$~+$~'$~($~&$~1$~&$~*$~$$~#...$.48$>ACKFITVYV]V]~2$~*$~'$~:$~$$~F.~#.$$844<>8FINLTWVX[^Y~*$~$$~($~$$~+$$~'$~#.~%$~#$~'$~'$~*$~/$~#$~&$~#$~&$$$~$$$<<C4IFRGUYW[ZX[^~($~0$~5$~&$~$.~%$~#.$~&$~$$~,$~&$$.~#$~#$~#$~+$$.4>$4DJJPOWYYYZ[Z_~%$~=$~+.~,.~'$~$$~$$$~+$~&$~144.~#4$C88>ILSSPYUT[X[V$~L$~#$~,$~'$~+$$~$$~+$~#$~#.$~$$~#4$$<$8<FGDKLSRVWV]X^YZ~2$~&$~0$$~)$~,$~#$~'$~)$~$$~'$~&$~#$.~&.~$$48<CFADMKRQRXVXYVXZ]~'$~)$~;$~+$~/$~'$~)$$~'$~$.~$$$~#$~#$~#$<$8.8FKNLPUTWVR][U]Z~$$~-$~:.$$~$$~'$~%$~$$~%$~+$~$$$~(.~#4$~#$~'$~#$~#444CA<NNPQRQRVYWZZ]T^~%$~$$$~*$~$$~($~$$$~#$~%$~#$~$$~#$~'$~,$~#$~($$~$$~$$~,.~#$4$$$~#$..<<CG8CORRRUVYUY^[[]]~'$~($$~-.~'$~1$~'$~&$~+$~$$~#$~%$$~#$~#$$~$8$$$~$444448C8GFNIRQMRQXW^Y^[Y_^~#$~#$~#$~:$~($~#$~&$~,$~.$~%$~#$~%$$~$.~%4.~$$$$~$.48<GDKIOQOTSSSYWUXX^Y[~#$~.$~94~%$~#$$$~$$~,$~#$~#$$~#$~#$~*$~#.$~#$$..~$.~#.4A~#$88ACAKPNRRRTVXUUX]Z]Y^~&$$~%$~,$$~7$~&$~($~&$~)$~#.~#$~$$$~)$~#.~%$4.4.8.A<<APNRTURWUVUXVY[X[Z~).~5$~#$~*$~'$~$$~($~#$~&.~*$~$$~#$~%$$$~%.~#$~#.44.<8>88<CNJQLUPXUZY[UT[Y]^Z~1$~,$~/$~-$~%$~#$~1$~#$$~#$.~#$~#$$4.$$.$.<C<AAGLLPTPVRTTUQZ_Y][]YZ~)$~'$~($~'$~2.$~,$~#$~#$~%$$~$.~)$~%$.$~#$~#4..84$<<4DCDJILJLOTPQSRRUYXYXWY]X~$$~%$~)$~$$~3$~%$$~%$~#$~(.$~($~#$$~#$$~$$~%$$$~$$$$~#$..~#$~#<4.>$D4A>GNMPOPPUTVVL[QW[YYY^~)$~5$$~$$~5$~&$~#$$~$$~%$$~#$~#$~#$~#$~#$$4$$..~$.$8$<44>8KDCMTTRPQTWPRUWVTXVYYXX~#$~)$~'$~&$~%$~2$~%$~&.~)$~#$$~$$$$$~$4~&$~#4~#.8~#$.~#..844844>IMMRKRSOLRVTRRSUW[TYWWW^~/$~&$~*$~%$~*$~#$$~#$~%$~*.$~'.$~%.~%$$~$.4~#$.44~#$$~#8<8AFGJDPLUNPRRMRRRVXRXVVZ[XY~#$~/$~>$~&$~$$~%$~#$~&4~($~$$~#.4$~#4~$..$$44~#88FAGFFISTFJSKPUPQTYVYWR]V[W[~$$~6$~($~'.~4.~%$~)$~$$$$~#$$.$$.4.~#..$$4~#<8CAKJDOKGMNRTQSNTUZUTTVZYZ[_~-$~)$~%$~#$~&$~'$~#$~&$~$$$~&.~*.$~($...~#$.$~#.~#$>~#4..4<4.4>AMNJNTRNRRVWUWJPSYYSWW]^XY~$$~.$~%$~-$$~$$~,.~%.~%$~($.~'4~$$~#$.$~#$..~#$~$$~#8$.C<FCIKLPLFQNRQPVRPXWXXXVYW[[X$~I$~#$~$.~%$~%$~+.$~)8~#$$~$...~#..44<A<A<>KGMLGRNNISRWRQT[UUYXSWXWZV~8$~'$~'$~#$~%$~#$~&$~$$~&.~#$~$.~($.~#4$..~#$.$4~#.~#4~#$<84<C>K>JGKPJPJJPNRVSRRPUYRZTU]YV~.$~#$~#$~-$~'$~&$~%$~$$~%$.$~$$$~$$$~'$~#$$$~#.~$$~#$$$~#84...8><CAGGALNKSOUONRVULTRX]PXSWWYTW~0$~4$~$.~*.~&$~($.$~#$~#.$.$~#$$$~$.4.~#4.~#.~#$<<8A8CDCCDDPIOFJMPOMOMPMPPUXTVZTW[V~*$~5$~*$~$.~%$~($~*$~#$$$.~$$.~#$.....4.$.448.4>GDMKMDKOLNOOPKRUQUUVLTQUWUXZX[[~E.~$$~'$~#$.~&$$~&$$~#4$$~#$4$4$$.$$4~$4<$4$8.4CAFGDKLGPKRNNJSPJMTVRTUTWSXYRYX[Y~%$~'$~2$$~$$~#$$~($~$.$~*.$$$$~%.$~#$~$$.$~#$.4..$.~#.<8$<>$8F>MJPKOKCMPPRRRURTYRUVOVWUXWVTU~'$~&$~&$~4$~).~'$~'.$$~#.~#$.$<.~#$$~$.~#84$$$$8~$8.<48FIA>JCFPJPQPKPJLPVROUOW]PW[UWXXZ~6$~#$~($~%$~$$~'$~#$~$$$$~#$~&$~#$~#$~#$$.~#.$~#.44.$4$~#4...A<>ICI>D>MGFGQKINLIONKPSRKVSSTX[YTVTV~&$~2$~%$~%$~#$~#$~$$~'$~..~#.~%$4~#.$$~#$.~$..~#..8D<<>4>DMFDJIAFOOLFOMPQTPTPPTSNQRUXXVYQTY~#$~&$~>$~'$~($$~$$~#$~#.~%$.$$.4.4~$4~#$$$$4$.C<8$>C>IKDJGDCGOMKGFROSDOUQRRTQSWVUUVUY~$$~:$~&$~$$~'$~($~#$$$$$~#$$$$.$$$.~#$.~#.$~#4~#$~#88.484<D.DJIIDNADINLPOKRTNVTRPNSYPUQRVTX]V~&$~3$$~(.~$$$~%$~(.~%$~$$$$~%..4$..~#.$444$~$4~$4$$<48><>GDD<IJCINJLDLMORQRLOOUPURTQTRX[VZ~*$~/$~($~(.~&$$~#$~#$~#$~$$~#$$$$~#.$~#$...$$~#$$.~#$$>$44$8A8>8ADA<D<ACIIOKGIJRRMQPUOQRUPXTSSXX[]~*.~'$~%$~/$~+$$~#.~($.~#.$.$$~#$.~#$$44.488$$8~#44<8.8AADPCGGFDKLPPKMDLPKMOPSPSRQLRPQXVYWU~-$~)$~)$~)$~%$$$~$$~#$.~#..$~$$$$.~#$$$.$$$$.$.4$4$$.8CG8F4DCFGIJMFP>JFFMPOPKQOPRVQQQVPVWWUYWVV~-$~$$~&.~%.$~%$~)$~+$~#$$~#8.4~#$$$84~#..$.$$.$4~#.44>.48<><ADAGCFJGD<DMFOKNMQILMNPRMSXTSWUVSTYWY~*$~/$~*$~#$~$$$~%$~#.~#$~$.$$$$$4$~$...8.>~#$$...$>.$88>>.AA<AFCFDJDL>GGFIIRKJPKPMNPRRUWPRXRZRWUZ~G$~($~$$~$$.4$.~#.$$$4.~#84~#$$$$44.4.8<<8<A<>4JDAFIDKKIJFFGMINORKRMJVLUTOVNWYPVT~*$~/$~'$~$$~($$~&$$.$..$~&.44~#..~$..$.4$$$~#..$A<8<<<AGCIIIDDDJDJAKKOLMSLPMOSSROSTVQTPUXUZ~*$~$$~<$~%$$~%$.44~&.$.$4$$4<$$$~#..$..8<<<A...>GGAF>DKGF>CLJ>IMKPRRKIPWKUUOPRUSYRVW~&$~$$~%$~%$~%$~(.~%.$~%$~&$.~$$$$.$$~#4.~$4~$8~$$~$$~$4$4>.A4>.84AGN><4>DLDNIJF<OFMQJQJOPUPSRPRTUXUXTUUVZ~%$~($~#$~+$~#$~*$$~%.~$$$.~$$~$$~#$4$~#.$~#$~$4.~#4$8~#.8.4<..$A<>48<AGCGJJLIMPIIIJOINLOPNOPNRLQQPWRXUWUW~($~5$~/$~#$.~#$~%.$~#$.4$~#$$..$~#$$~#$.$8884C<<4A84<>CICGICGKFJIOJNMNNNGRPJPPQUSVURWTSTWX~1$~&$~-$~&$~#$4$$.4~#$~#.~%.$.$4~#4.$.~#$~#$848<444>CA448A8ACF<>A<>FFIFLMLIFPPMTKRRRKSRVKVTTUZVW$~#$~)$~#$~,$~#$~,$~#$$$$~#$.$$$...~$$$$$..~#$$$84$$.$<<44.<<CF>8>C8CCFGA8FCIJC<GLKLQFNPPNPPPTTRTVUTUSU~*$~$$~($~/.~&$~#$$~&8.~$.~#.$.~#4~#$..~$$$$.8~#.~#$.<8<A.<C>84CC<<>FAIFGDFIFIGIDIOKMJRJOQNVUPPWSUT~$$~).~)$~&$$$~($$~%.~#$<$4..$$~#4$~#.$$.4.$.<~#$44~#.<~#A8$<4844A4AF>>A>C.J<CFL>GKFFJGJIPNNTNRVQPTTWPPZTMP~$$~*$~%$~*.~&$~$$~#$~$$~#$8~#.48.8~#.$$~#$$~$4.4$~$$~#4$$$>8$<>D.>><AA<>84CAFD>JJCIIIJGOGNKJMIGRMLYQRVGXWWUT~$$~*$~#4~-$~$.~%$~#$~#.$$~#$..4.$.~#$$.$~#$$~#$.$$.8...>$44.48A<4$C><C8<C$<F>DC<D<DR<JMNNFDQPILQKRJRNPUVVTWY.~$$~)$~'$~#$~$$~#$~$$~#$$~#$~$8~$$$~#$$~$$4>$$~#.~#44.$.$4$8~#.~#848>A8$8.<88A4CD<8FC8<IGDGGDFCIIFFGUQPMLOPNRURPSUVXTU~&$~#$~$$~%$~#$$~'$$~#$$$~$$~#$$$~#.~$$~$4$.$~#$.$44$.$..$~#$..~#88$8884<>8A8AF>G<<4><>IFG<DNCDFGKFKIFKNPQTPPRMTQRURYTTV$$~'$~#$~&.~*$~#$~#$~%.$~#$$~$.8.$$$$4$44$...4~&4.$4$~#$<$8<>8.88<.<.A><.8>4AFADA8IAFCDKCILCPNJJTPPVSTQRNQTTX~($~#$$$~'$$~#$$4$$~#.$$..~#$$~#$8$~#$$4$$..~&$$~#$44.$~#.4.$..4$.$.4.4<<488>8>8AC4<G4GAAGFAFGGM<FJFIKNPIMNPPRUPQVJUR.~%.~#.~&.~'.~$.$~($~$4$$$.~#.$8$.~#4~%.$44~#.$$~#$$$~#$$$4$8.4>.4$4><8$888.>D4>DDAJAFDCF>DKDDKKIJGRKMLTPQWQRTVVX$$$$~#$~#$~$$~#8~#$~&$$~$$4$..$.$.~#>~#$.84.4$.$.~#.~#<>A.<.$..>.4.$$48~#$.4>884.$...<8.C<A8<<.CCCDKFMKNCMKLPJKGDPPQRRRKRTPRS~#$~%$$.8~$$$$$$~#4~$.44.$84~#$48..8$.8.>.8$~#.8$~#.4$$...8.48.<88.4<.~#88>.8AA8$84$<.F>>>G<ACF>F<KDJ>AJPMGMPLFPNQMROTWNMVW$..~#$..$~#.$4$$$4~#$4.~#4~#<~$.$4$.$>84.4<<8.<88<>>$4D<8.884.>$48.<884>>84$>.C>8<>><$>AG<DGD>IIDCADJ8IJ>MPKPOPPPPMNPRRPRRU$8$$>4~#$$$84<8$$8~#4>8.4.488.$<$.~#.$.4D>4.<$GC.88D8$FC4<8>>AAA<88$8F8><<48>88DC<4A<GCCDF><DAAC>C>IGGIKIKKFLRNMVLSITTTRU.4.$$4.~#A<..888<.A<.><4.>48A>4AC<C8DF4C8GDF>.G<4><8DC8A>CG48D<8>.<D48GD8CAI4.>A>AFGFD48CFFA8GIDFAFDGJIFKRPONKPNKRNRSTR8484<8F<~#<.<<>4$<8><<F>8>FCF<GFCFFG>C<FICLIDI>FGDDC<CFIAC><F>AF>FCA4ACDA8<D4<G4A>A>ACD<CJADCAAIDCKAJNGLIRGRJRLNJGQRQVT84<4.$<.>A>4>>A<A<8>GCDJDF>>FFKIRJNDKFGOMMLJKFGCCMNFKLDKDKLIJIDAAGGC8>AJAD4<CAF8D8<4>GAIFJGFKJ4ILIMFNKRMQQLNSJGPRSKQWP<A8<<A8AGF4K8AJGJAAGGACPKOJMIJPPMIURLLPQRRTOTGPSNPVPPPKMDOKJIONKAINGCD<FFAI<CFAAI>JAA8IGAG<>J<I<JLJNKDKNDMMNKTPPORKPSOCGFGD>ND>>DCGCINPKQNMPMKJGVKUQTRUVSXXTXRPWRVXTRMPTSTSTUNKLMKILKOGFIGFJKD>D<D<IDCKC<CJIFFF>CGIOK>DGGDFKNJMKNGJGPQNSQTRVJKGFJIGJKJGLMQIUTNJNPNTLSRTXTUTVYXYZTYW]W^XZWUTVTOPVTPTRVMMRUPKPGMDLLMGGIDCIJCKCKJID8GIICD>DFGJLGKDGNFMMVJJPNJONUVVSURFIGFPSKNJKPURONQRSWWZSVUZXWY[WY]YYYY[]ZYXS[]WY^Y[Y]YTVUUVTSCRPPROMJRQP>CN>GLFO>NDKJGFPIIDJFDGCIDDJLMDDFNPJQPRUKGOTLPTOCIKIGORJPRVTPPRTWXXV]Z]VXY[`[Zb^]`[^Z`]```]``][]`][^ZX[URYWOSTRQOUPOQRQPLJJJDMIIKCCKIPA>>DIDIFCFLIGKLIOMRKPOOAQQGPKVSKMIDLFKJQMVRRQR^YXUX]^][[_]^``]^`^^a_bd^cYad^__^_Z]Z^ZaZW]VRVSSWVXTOPNDNOJGDODIFDGCGK.DLDDDGFKKFIGMIIGKIJLKLLMPRPRRPWDLRPQNGPKPUTWZXVXXXYV]^_Y]`a]^^baabac_da^]dca_``[^_]Z[]][ZZ]WXVVTRVVPPLLNILPNKDGGPOG>DG8LFF<<ACJGGJDAFCNGKKNMLGMROKOPQUTOMSTQTOOPTYWUQ[X[^[^W[__X`__]b^abac[```_b_`__]^]`ZYXY^U[XVUXVPUWPLNPPJMMILFFJ<JMFACPAIILK>CFDGJIAGCGGPPGFTLGGKKNRMRSKOOONMRPQTUTXTWT[YZ_^]][^^^c`bc`[``bad^da`ba_`d__`_Y]]YY]XZY]VPVQTJMVMKKDPKMDGFGJKA8CFJAAGA>A8<INALKKADPJJJKFNPSIOQOQRTUIPLKPRQKOUXZUSYYYZ^Y]_Y]]__a`^^_baa_`b_`_^ad_^c`^[]]X^XRXXR[QQNNRMRKNLPPGFDCJ>JM8CICCDAACIC>DLMGCDDKILKIJQGKFFJJPKJMQOCNMGOMLTTUORNZVWVTV^_]_]__`_`]^Z`b]`_^Z`]`Y]Y]`XZYXYU]VVWRWQRNQSKDMOLPID<<>>G8>>.<F>4C>D4K<AA>4JJGL>DF<GJAIGJNJINJMPSNFK>PNMMIRMPQNRPSTVVYVYUY[Z^^_^[[`]]Z]]`[^[T[^WYZXXUUUWTXTPPRPJRNIKGI>CGCAFAAD>K<8C4>A<>C>8<<4>CFCFDCADDKG<FKIGMJTSSKOJACCGGPPPDRPLQRJUTRQQRTTT[VX[VZRU[YY[XYVTU[URPRXWTNMLRPMNOROK>JRIKID88FL888CA>G<<8.><C4>.><$.<><A>>84FCFGIIKCJJJFGJKNLR8MF8C>FMPNJFKDMLLORPOPRRTUUTZPTUSUQOWSVSRNRRRPPTKPLJOGRTIFMI>GIDF8C<4>CC8CA.$<488<88.>$<8.<>G>AG8>FD>CCDC>>GDJGGFLKJLN8<DI8DFG>GF<NLKODJMRPMVQMKSNOWUNPGTNPPINOPSNILNFGPCCNJLKFI4D<<848>AAC<8C444<4.4$~#..8>>.$$<4$D<>.<8G<A<4C8D8C>IAC<KFFGN48>C<AGA>8GGCC~#FJDNADFKFILIJKIOMCNFFGJLMJF><MNDAA>C<FCC<><><$C<><<8.<A.8.44..$4......48~#<8.4<4.4A$4.>.C>C88$4D>IJAIFA>~#8<$<4$.><<<A48AF8AKC<LDDC>DIIF>ANADC8KIGJ.AGFCDF<>44>48.<4.$44.4.4...4<..~$$$4~#4.$~#$$.4~#>.$...8.4~#8.44>>4<A~#>$<>AG>>8.$>~#448<.<<D884444<GA<8C><>>><ADA88C84A<8>D<<$>4484D.$A848$.4.~#.4$..$$~#$~#.$$$$4$.$$.~#$$~#$..$$4$~#8$8$>~#.$.8$C~#4>.<DC488$..$$~#4$.A.>$.<48>.4..4~#<<>$<8D8<.A88$4$>....$8~$.$..$.<$.$$$~#.$$~#$.~#$$.~#$$4.$$.$~#$~#.4~#.~#..$8$$8$~#$.44~#4$~#4.8$$$$~$$.<.$$~#.$.$~#844.$$$$$$4~#844$F$~$.<>4..8444.4.~#<4.$4$4$$84~#.$~$$$4$~#$$.$~#.$~%$~#$$~%$~&$.~#$.<$.~#$$~$$$$8.4~#$$$~#84~$4$4>~#$~#$~#$~#$~#4.$~$$~#$~#....4.8~#.$~#4$8$..$$.~#$~#.4$$$~#.~#.~#$$~#$$~#$~%..$~,$~$$~#$$$$~'.~#.~($$~$$~#4$$$$$8$8.$~#4$$~&$~'.$~#$~#$4.$~#$$$~$$~%$~#.$$$.>~#$.~#$$~#$~#$~%$~$$$.~#.~#$.$~#$~$$~#$$$~).~)$~#$~$$~%$$.$~#$$~&$~#$.~%$$.$$~%$~#$.~%$~#$~#$~$$$$$~#$~$$~$$$~#4~#.~$$~$..~#$$~%$~1$~%$~#$~$$~($~&$~)$~$.~#$$~%$~%$$~#$~#.~&$$~#$~#4~#$~#$~%$~+$$~$$~'$~+$~#$~$$$~#$~1$$$~&$~'$$$$$$~&$$~$$~'.$$$~'$~%$~$$~)$~'$.~%$$~&$$~*$~$.~#$~%$$~-$$~%$~,$~$$~&$~+$$$~*$$~#$.~%$$~($~)$~#$~&$~$$$~$$$~/$~$.~#$~+.~$$~*$$$~,$~%$~0$~-$~#$~#$~$$~#$~/.~+$~&$~*$~1$~#$~*$~#$~,$~4$~$$~%$$~,$~#$~*$~#$~&$~%$~-$$~($$~)$~&$$~7$~)$~&$~#$~$$~0$~$$~:$~B$~%$~)$~$$~&$~'$~=$~)$~*$~0$~$$~$$~,$~0$~%$~)$~&$~2$~>$~&$~}~?"], [486.67, 723.79, 117.03, 114.38, 111, 109, "~($~8$~)$~2$~)$~#$.~&$$~$$~%$.$$$$~$$$;~%.~#4;.$.44;>>LIQLTSJ~I$$~-$~&$~/$;~$4$$~#$$$~#.$~#4.~#8...;~#8;48>8F@FPLRRPNS~<$~<$~#$~)$~$$$~+.$$.$.~#$~#$$.~#$~#8~#..4..;.88FBJSRPLI~3$~0$$~-$~#$$~($~%.~&$$~#$$~#.4$~$.~&$$.$.$4..4$.~#4.$.;;444;ENTPNRUN~2$~'$~$$~#$~$$$~$$~/$~,$~#$~%.~($$44~#.~#.$44~#.$~$$~#4~#444.~#48;.;MIRRRUTMR~2$~?$~%$~%$~,$.~#.~#$$~%..~$$$~$$$$448.4$4844.848BDFKKMJNWSP~D$~*.~+$$$~#$$44~#.$~$..$4~#4$~#$.$8$$~#$.4$~#44.$448$.$.44~#>F8KJQPVTSL~#$~7$~'$$~/$$$~#$~$$~'.4$$~$$$~#$.$~$$~#$4.~$.~#.$~#8.$8$.~#4$4~#.88>..@>BNIURVRUR~?$~%4~+$~$$~&4$.~#$$$~#$~$$.~#.8$4~&.$44$~#$~#$.4$$$~$44;4$;8>$B@BN@JPMSXNUR~%$~@$~#$~$$$~#$~&$~%$~#.~#$$~$.$.$~#.$4~#.~#$4$~#$$$$8$;$$4$$84$.;.;;..4KB8I4IHNSTUTSR~.$~&$~0$$~#$~#.~#$$~0$$~#$~%.~#.$~#.~$4.4$.$~$$$$$8$.~#$88..$.888.;@B4@FHOTTZVSR~*$~6$~%$.~&$~%$~&$$.~$$~#$$$~#$$.4$$..4$.$8~$$$$$.$$~%.84.8.$.8>$>;;@@EHLTPUWXWRR~8$~1$~#$$~&$~$$4$~#$$.~$$$.~#.~#$.$$4~&4~#$~#..44..$8$$4~#.484B;>@;$;@@PRKXVYXSS~5$~%$~,$$~$$~,$4$$~#$4$$.4$$44$$~#.~#$$$$~#8$$.$$.$4$;.4$$8$4488@4BFEEEFPQQUUWRS~/$~).~)$~'$~#.$$~#$$~$$~$$.$~#...~#$$~$$$$.~$4$~#44.8$.$.$~#.$~#8.4$844.$8444D@@E@EFFISUXXVXW$$~>$~%$~%$~%$$$.~#.~#4$$~$$$$~#444..~#...$~$$...~#.~$84~#$44.$.@.44@B;@8.I@DKERRTYXXYTN~1.$~,$$~#$~#.$~#$.~$$$~%.~$$.$~#.$.~#$$$..$$~$.$~#4$$$84..~#$4$.$4.~#$..~#$>8$@;>B8@B;HDLPSNZZYYW~)$~,$~#.~'$~&$$~'4~$$.~$$4~#$~#$$$$~$.~#$..$4~#$~#$4$.~#$444~#$~#$~$4~#.$~#$484>8>@;B@ED8IKLVTXX[]SW~:4~&$~&.~%$4~$$44~#$~#..~#$$$$;$...$$~#44.~%4$~#$4~%$.8$.4.4.88@88>;8>8;@.E;KPPUVU[XZW~&$~&$~*.~$$~#$~#$~#$$~#$~$.~#4$$$$~$.~#48~$$~#$~#.$4.844.~$.4..$;$~#44....$44~#8$8>;44$8.~#8;.8BHBIHJNPVSYZYXUQ~%.~*.~%$~%$$~&$~#$~#.~#$$$$$~$4~$$$~#$~#.;$4$.4~#$.8.4.~#.8.~#4.8~#$$.~#8$..$.~#>44;88.>848@D>B;F;BDEOLXZYZ[PT~%$~$$~$$~-$$~$$$.~$.~$$.8~#$.4~'..$4$8~#84.$~#44$4.~#4~#...44.$$$.$.~#48....448@$84@;44;EE>EFFMQYY^]VYW~+$$~%$$~%$.~$$$~$$~#$$~#$$$$~&$.$.4$4~#.84~#...$.$.4.$~#4$$8~#$~#44~#4~#.$.4~$$8B44~#>;@$EDEB4@BIB>BFSQXY_]XW~#.~($~+$$~&$~#$$~#.$$$...~$8..$8;~$$~#.$4~#.$8$$$$~#.~#.$.84~$$~#84.4.$..48.$$;;84$8E>@@>IDIEDNMNXSXYZYVT~'$~($~)$$8$$$~$$~$$~#$..$.4.$..8.~#.$..$8.~$$.4$$4$~#.88~#$$$.4.8@$~#.4.$.~#4~#.;>;8B.@@DJJNHFNMRVRZZYWZU~'$~#$~%$$$~#4~#$~#.$$$~$$$.4..$$$.$.~#.$;~#$~#4$4$$~$$>.$$~#$$$4$$~$..~%$48.;8$..~%8.4...@@8EDHLFJIIIKEOTXWY[^WQ~)$~$.~#$$~#$~&$$.$8$~#.~%$$$..~#$~#.44.~#484.~$.~$.$.;4$~#$$.8...~$4$4448$4.$8$;8.>.84BI~#8@@>DE>H@KPNTY]^[TWV~#$~$$~#$~'$$$~(.$.$;.~#$..$.~#4$~$..$..$~#48$....$4...$$.4..4$$~#4.$~#8$~#$$~#848$484;.@4>@>.;DHFFEHKINNTYZZYSZR~%$$$$~$$~*$.$$8$$.8.44$88.$.~#$$$$...;.~#44.44$$.;$;.$$.$~#$..4~#44~#8$.~#.$4$..84.8B;BBDDLEEIDB@JNMMVXXX[ZTW$$~#$~#$$$$~#.~$$~#4.~$$4$.$4.$$~#$~#4~#$~#48~#.$~#.$~#4~#.;8~%.$~#...4$8..8~#4$.4$4~#$.44.>;4>48.48@;;@>B>8HLODK@HBPPXY]XTTV~#$$~#4~#$~#4$~#4$..~#..$~#84~#.$$~$44$~#8.~#$..44.$8....$8.~#$..4$$48.4...;.$88~#.$$4$~#>8>4~#@444>;;@BI>H;EEFKEOLNPSRYVXW[O~#$~#$~#$$$~$$~#$~#.$$$$$.$.~$$$88~#.8.$~#$...$$~$4$444.4888.$4$8>..8.8.;.844$~#84;.8;.$4>.@>$84;>;>DFFD;IDJHKKNPWXZ[WS~#$~$$.$$$$4.~#$~#4~$$$$~#4.$.~#.8~#.~$4.@$~#$.$~#.8~#$8.$;~#.44$;4$$;.$4$8..$4;4~#$>..$$;8.;;;$.;;;EIHBBFBHHKEJNNPWUVWVSW.~$.~#$~$$.~#$~$$$..4$...$$~#4$$$~#$4$..$..~#44$4..~#8....8~$.$~#..$$~#$4..88.448.4$.>4..8>>;8@;8;>EDHJKNFKLIJQUSTWXSSS~$$4..~#$4$~#$.4.8~#$44~#$$4~$.8;.~#$844;4~#44$.$~#$4~#$4$$~#84$4.$$.8....$444.8$4;.4$488.8;8.DEDDBI@JIDDNDJEJLPUWWXUSTS$$4.48~#$4~#$$4.$$~#.$$4$..$~#>.~#$$$$4$48$4$.$..44.>$$.8@.~$.~#444$4~#$8$4.4.4.44>>.444;8>>;F@EFIJBJF;EBJJJJLNYRSUWVP$.$44$~#.~#4$..$4~$8..~#$$.88.84;.8.4@$.844$~#$@.4.~#.;;8~#$$8$8.44$4$$4>848~#$E~#.44448;8B84..@H>BE;F@IMEKEHNOMRWWZYSN..$4$~#$$44~#.48~#.$4444.4~#$4.$.~#$4$.$~#8~#$;$$.~$...$48.$.4..$$$$.4.~#$4$4$.4$4.8$.4>;>>;D448J@E>HJP>DHHKELNOVVUWVTP4$..4.~#$.~#$4$$4~#..~#..;.$.$4.4.@$$4$.~#$..>4$$$444$$@48......~#44~#.84$8$$$8;..4D;8>8$;4F.E88KHBDB@DKBBDHFMSNTWUXUS~$..8.$.$8.$@4.$$~#$...4.4.4.B4$4.;8$4$8..$.@$.4~#4.~#$;...$~#$.$8..8@88.~#>@88B>@;44;>B;@>;4HIBDIDJDIFKHFKHNHVRXXWO.$.~#4~#..$.$$4;.4;4.$4;$..48$44;>;$~$4~#88;$.44.~$$4.84.44.;$~#8$~#84$@48$.4.B@>4;444.4.8.>@BHH@>IEBFEIBIKQPTQTTPTM~$.4.~#.~#$$$$.~#4.8.4$4;8$~#8$$4.448.;.4>.;84844$8$.4$$44..$8$..~#$.4~#.;~#48$8$8$B;.@48.84.DB>FMDBDPOFJHFKNOMIVTPRPF~#$.8~$$~#.4$8..$$$>$$.;$.$>$$84$~#48.4$;8.>8$.~#..84.4$8...$4$.$8$~#4;48$>B8844.8;>;..;48@>>L>E>BDDMFKEKF>MKQTTYSRR$...8$...$~#8$~$$8..>44~#$$488.4$4.$.;$$8>@.4@.44.$8..~#.@;$;.8;.44.4>4$.8@D.4;8B.~#;4@>>8;BH$F;4HDDDBDFHDHIPNUORNN44~#...$.4$$.8.4..$8$$$$4$44B>4;;4$~#;$84;.$44884.$$8$4.88$$48..4.;84;>8848848.;48.$;B@B>@FBFB@D>EKFFDEENO@WQRTMK..$.~#4$;$8~$..$.$~#$4;48..;8$48>$8>.48.$4$4.$.;4.@..4~#.;>.>8.84>$...@4@4@.4>4>B8>.>4@EF;8>E;@@DEJE>8>D@HJLNPSJLO~#8.8$$4~#8..$~#88$8;;$..8..8;848.>;8@@8$4>$8$4$48~#.4@$48.;88848.$488$.~#B@8$8;.;8;.$@.8E;B88BIE@;8EB8EFIBIJNPMNMIL4.;.$$~#8$$;8;$$.$$.8$4;..44.4$;>444;...;..>;;48$;44.>4$4;4$>$44.444.4..8;>>48>;.@B$@>>>>;@L;HD;88LB@EEE>JPPRPNK$...~#$~#.~#;44..@$$4.$848.84.~#>$4~#4;8.;4@444;4B$8.8.~#$>4.8;$4>.8>;8..F84D4@$44.$8@.@>@BD..FFDFE@F;F;HH@B@JHHEPNHE~#4$8~#884~#8$4444$4.4.8@4.D$8@.$B.;;;B8.;48..8$844.4..>;8;$44~#$;$@.>.>.@8;.;B48;4B;.B4FD;@BB>E8HF4>8BM$D>HIRIKNID.~$$$88~#..4.;$.4..$884;.>B8>8...F;.>B>.>8;..484.@8>.4$.48;>4;;;~#4>>8;@8>;;.E~#8EB@@>;;8B8B@>DFDB.E>HBB;FHFHPMKIH8$.44~$4~#;..;4;44.488>;.;8>;>48@88;B.8;@@84;B84884D.$4.;8;4;.4$$44@>;@48$;84;;>@@BB$B8>8;>;E8E>;@B;@DHBIHDIHFLE~#.$$4$.$.$8$$88;$488.488>.>848;B.;4~#;8.4@4.4$4888;>;$8>44;.$.@>~#8.$@>$;.$88..;;@@8;8@DB4@>;;@4D>B@E>84.;DHNLBE>8$.4.8$.$$8>44.88$~#@484>@@4;4@;;48H;>8@88>4;B8;;;$.4>;@8888D~$B>$D;B4;$@4;84F8D;>;48;@B@>@>I;.EB@88>@DDBH@P@PFB.>~#$~#84..444..4@@48>44@$4.$;4D48$@;4>@8>;>.@4;@F;8.4$>.@@>4..884;..EB@;$$@>4;;D;.4LFB84;44E>E8@B8@E.EBBBI>>F>B8.84.48$8~#4.$>$.8~#84B$;.;~#48;E.E>>;>4@;@>>;;44@>44B>4;;8;4>.@4444;84>8B>48D>@>B8;.>;@;@@8B@;@8@8F>;>;.>88>DEED;B~$$8~#$8..4$884~#4;B8>>4>..44>84H>>>;;>B4~#;>4@;DB48.4;4$884..@84;B;8$;>8>8;4$;@.4.48;;..>B8;B@84>888>4;;B8HEB@B@D..$8.8$;84...;.4;8$4>B488$484;.@@@@B;>4E4;.BB;>@;8@;E@.4848;8@844;B4B4;8;$B>E>;@4444$44.BE@8>.;;8;4>DB>L4@LIFB;4~#84~%8>D>.>.$8$8>>@@;B4B4>@>;B@>8BBDI;B4>@@@8@@4>H>88@8@8@8;88D4>D>8>>@.8D>B@8.;>B>B8;>.>;BB84;@$4;$;E8BD;@EF.88.~#8$.;;~#..8.B>;>@84@;.D8>E@B;BD.@D@>D8D44F@;;48@BB@4@@;448>;84884@448;;44BB@.B>D;;@8$@4B8B44;88.48>DDB@>@;;;$~#.4.@...$;8..$$~#D>8>>4B8>D8H;.;BD@;D@D8>;;DD;@4D;84@4BB;8>.>;>>F>@B;.>>B.$EB;@;~#@;44$;>484;@8$>8.$.4..;>>B;8I;..44884;;.4;4$.44D>>$;.;@4B>H48;>E8FEB@D>>I@;8>B;B.@848>>4>>8..@>@.@4.8>@>4;B;;>>>;$84$44B;@44@>8;44~#.84;;BDDB>~#88$$@8.48;8$;>8>>88D>>@>B8@8DF;>D8FFH@8B4E>EE;8B84B8;888>@8@;D$.;44B8;.;;;;;4@>88@88B>.844>B8>4;88~#4$8>;8E;@B.4.$.884..8.448;>>.@;8;@@D@EDD@E@@@>FD4BHEF@DBD4E@4E;DEEFB4@@;BE8@;;@.;$8>@84;$48>$4848B4;@;884>8.4.4888>;84.F8D$8.~#.;8$$$$D>@>84B@D@8KF;@@4BB>@J;FFH;>I@BDE@@DD@D4@$@D>;@@;>444;4>848;8;4@;>>;.4$4@.;>@$>88@88E;.4.4$@4>8;;>48~#.4.$..4.84;8>@4>>E.B@BDE.@H>>EEFHBH@;DB>B>EDE@>DE8E>@B8@>>@F>;@B@@484.>B.B48D;..4;;8>8@.B>B4>8>444.8$4;>8;4B;>.$8.48.>4B4;B@B8>I;BEBDB@@8H@BDHFBF44EFEDE@HBF.B8E8ID44>>@@44..B48~#.;;4>@$B$;8>;4D.8$8@.488$4..8$.8.$$~#48@>@F>4.;..>8;.44;;;B488.BE;B4>;@E8HIE8BHF>FHE@B@H@;BBHEDB8;H;JDD@B4>4484;>884@@B48;;F@48;>..484$.$8484.8;8$.8844888;.8$.4>>@..$;B;;$;BB>@488;>>D.E4B;>F@>@;8@F>D8>DE4B8488;>@>;E4848884B8BB4@.E$8.>;.D4~#844884.4$48>;$.$..4@.;;..;@4.>.48$~#8.8..@B@;4D>DBE@>>JH>B@IKDEI8;IEBFEB;;EBIE4>;4;DD448;B;D@@.B@;8>.;$;.;;>8>..;88;4.$$.4.~#$$$$8$...4..~#.$.8$~#@8$$;;4;>F48BBB4;EBF;BD@BBE>BFEB;DJJJH@.>E>D8>D@BH@8>E@.B;@$4>>>>B84;8>884>4B..$@..$8;8.~#4$$.4.88$4.4;44;8~#$.4$.$8>.884$BBE..B4;8DB.BIFK4@B@;@JKBF>BKHEFFE8@>DKE>BBB8D>4D;>@8.48>8@8;44;$~$.>>;88$4448;4.$.$4.4.$4$..4~#8$44$;.$48.8;..@.>B;DEIHD$EHEIIDBK@KKEEDDBHHFF@IF8>@>EDD@>@BH;@H@@.;>E4B844.;;4;8.44$;4@8.8;444$$.488~#$$4.$..;$.84.$48.8$4;.;$8>B>>8>FBD;H@@DHDFFDB@@JHEH;@IH@>4E8F>@8F>;B;4>8>;4B.4$8B>@B884>$@4D4.;;;48.4.4~#8$4$$4~#$..;.~#.4$$$44.$88;;8>@4>;8DHF4EDEIHD>EIEB>DDE@JB@;D>HJHD>BFH>B>I@BD@@B;D@>>>.;8..B$@>4>>.4.4@>.~#>8.4484;.~%$$8$.$.~#$@448;484.$8$@..@84;8;B>>HD;;JI84;D@FFJ@E@E;FKE;EPBBDB@8EBFH@DB8F4@8D;@8>4.;~#.;B4;.44>8$.$4$4~#$;~#.444$8$4$4.8..>4$$8$.84~#>4$8488@448D4D8>@FEHHB@BEKD@HHHDFDFBFFFFEFBBHEB@@EIF>.8@D@8;@;;>B.484884.>$$$.4844.~#$.$.$84.;.4.8.84.4$~#;$4.8$>4.$>4B4;8;>F;;;@@@BB;4B>K>JDHHDL@@@@NHFL>>IBF4>BD>F>8@E;>8;>;;@8.4@@.@$4>$4444~#8@;8;~#$$..~#4$$4$4$$4~#..$4$.$$.8.4;48.4>;;;48B;DB8>@;D>E8K4LFKFDEEHBLB;FIDIEFE>;DEHE>H.8ED@$88>E@@>.B.;>8$;.;.84...;$8.$.$..8;$~#44.$.~#$.~#.8~#$~#..4.;4.8;4F84@@8BE>EBF;EE;IK>EI@BEHFJEE;H;BJE@FBBH;8JE;>>;;D>.>>@8;@>~#4;.84$8$8$...$4;8$..8~#....$$4$~#88;.$8~#4.444;8$8~#.B>>88;>8BD@>H@@FFFDFDD@JFFJBBBJEEED>I4EDLBDE4@@>D8>8;;@;@4;;;..448$;.$>844$84.84.$.$8...4$448$.44.4~#;.$44~#8.4884>4;BE>.DD4B.@>@EFBD8FMFDD@EF@F@HJEHFD>D;F>@EH>JF>@>;$88D8888;;4>4;.4.~#..88.84.4$...4..$44$.4$$.$~#.$$~#84$;4>.4@.4.48@;DFDD>>BLDE>BKEJKHBJBI>IHNLLE>@BLI@@@I84>>>;>B@>.$;E>4;4D4.;D$.;>4>.>$>.4;$$44$.$$~#$$;...$~#.484.44$44.>$4B8@84;>D>DH@F;@.DDDBEDDEIBB>BB@EEI4DEB@HDB@I.IDBBB>;E;4>8>88>44$E..$8$;;~#..$4.$4$$44$~#84.$.$$$.$$$4$$;.8~#44$8>44;8;;48@;48@D@BFFB;LFKDJFIHBEHDEHBKB8B8>BD;>8>;4;@88>D>8@$;$$$8..~#4;$.8.$.$8.$~#888.4.4.8..$~$$~#$4$$4~$$>..$84.4..8@>;.D>@88@BDE;BBEKE@JBFFDEHF@I8HEF@;;IE8@FF>@H@44;;8E;B;8D;4>$.4..~#4.$8.4....~#$$444.~#...~$.$...$$~#$~#8>4.;$>B$>@B8>4>B@;FID@@IHHEF@BEINEBDHHJHD;HF;>@BEBD@;BB@>.@@@;.8>48;>;4488;$.$~#..84.$8~#.$$..$$.$;~#..4~#$..~#.~#$4$;~#.8$848848$8@@8BF>EBJDIEIEDHDIHMJ>BIB@L@I@H;JEB;@JB8D;~#;@>E.@>;$;84$..8$~#8>$$.$4.4$.8~$$~#$~#$~#.$~#.$.$4~#$...8~#$$$.@E;..;.>4>>$;FD4.>>>K;@B;F4;JFDEF>;;@J>@JE;H@@8B@DB>.F4484$D;.8.;8@;..4>$;>...$~$$~#$$..8$~$.$$4~#84$$$...$..48;.@8448>4>4;;;;@B8@;8BD;EEIKE>EFKD@DHE@@@@BDEJ@DLB@>4@@H844>;8>;8488.8~#.$;$8$4884$88~$4$4~#.4~#.$.$$$~#.$.~%.$4.8.$.$.4$>$8~#;>@;8;D;HEFEJ;I>JDE;@N@8>EKEEB@IE8B@B>@D@@>@;;;;;8~#.8;4;4;8$;.$~#.~#4$.~#$$.$4$~#.~#.~$;4$~#$$~#...$44$~$.$44.$44444;8>;88.>$FDB@@DDFEE@>@4D@8;J8B@MKBDE;B@;88EB4>;>;;>;8~#4448~#.8844..$$4.$~#.4$$4$.$$$4$.$$~#$.$$4$~#4$$$.~#.$$$4;...4>~#B.@8>D.88;H88>E>8@>KFEBI;FIDDI@B>E>F@I.EI88..>;>@;8.8.4.>.8.48.8$4~#4$4$~%.~#4$~#8$~%$.$$$.$$~#$$.~$.88.8.>.8.;$>8DB>;@8B4;BB88@EDBB>@EEDD@;@DFD@BEB;>@>>;;B>44;>.;8484$>;>.$>..>...$$$.88$4.;~&$$$4$;.~$.$$..~#$$..~#84~#444844>8;;88$>@>;@>;LE4>EE@;@IDDD>;;BEB8BBDDE>8;8;$4..>4;>@~#4>@>;.$84...~#..8$.$$$$~#.~#$$.~#$$~#;$~#$$$~#.~#.$.$;~#4B.>;..;8>>>4>;>4B@4>F4@;;>>BKD8BDII>8B;88B@BB>E@4.E.@;8.8B8;.>844;4.484~#.~#844~#4$$;~#$$~#$$~%$~#$~$$$~#$$~%444~#$;$.8;$.8.8>.48;8@;ED@>;~#;H48@BB>@D@>EBH>E>>EB8>@E8>>@E48@>.4.;.;@.4$~#8888$.48$.4.$$.$.4~%$$84$~#$~#$~#$~$$$.~$;~#4$4$~#;;8448;44>B.$I>D>B;4@JD>>EE;.BH>;@>B@;@B;>D;;B@>;.4>4B8.;4@88>.~$;>.844$$8.$~#44~%.$4~#.~#$~#$~%$~$$$4.$$$~#$$8$$$4>.;...;8B8488;>~#;$B;>8@@EJBHJ4;B8BB484>8D.;D@8>.$;8.;444.48.$;$$8..8.$.;4$$~#.4~#.~%$~'$$$~$$~$$$$$4~#.$~#;$488.$.$4;8;B44B4$4@8;BBEE;;>;>D>>DE8>HD>E4@>@4D@848DD48>88;888$.;8$$.8484.4$4$.$$~#$$~#$.$~$$~$.~$$~#$$$~#.~$.~#....$;48...4;;~#8>B.@;4D8FD;B;84F@E@84>;@BB@4>FEI;>H~#E>8BB884;;4~#BE;;;..4.44$84~#$;84$~#48~#$.$~$.~$$$..$~#$~#.~#.~$.4~$$4$$8$$~$.4B8.@48;>.>.88@;;BE;@@;>E@;BEB@;;>B4>D@44>>BE8$@.>84@..;4.~$$.4$.;~$4~#$.$~#.$~#$~&$~#...~#$$$~$....~$.$$..$4..BF4.8..84.888B@4;@4>.;>4@;;H;;4;BDI4@;B8;>@8@8B.8;..84$$$.$4$.448...$4$~$4$..$$~#$.$.~#$$$$~%.4$$~#$~$$~#$$4.~#8~#84$48;.4;8848$44;>@E48;@.;8E>;;4>4DF;;>E>@4;;88@4>44$4>8;;$4$8$8$.44.4$$$~$4$8~$$~#$$..$~#$.~#..~#$;.~$$..~#$~#$484$;8;;~$8>@48.$.>>>4$.>84>8;4;>4;$E;BE4.8;D$D@4@>;$.@$@$$.$44..4...;$.$$4$$~#.~#$~#$$4$$$$~#$.~$$~#$~#$~#$~#.$~'4..$.$;.4.@~#$$.;.8.;48>@;;;8@>4;44.8448;4B@4@.8.>@D@4884;~#.88~#8;;~#4$;.$~#..~%.$.8~#8.4.$$~#4~$.$~#.4$$$84~$8$~$$.~#$~#.88$$~#$8$..44;484.84$888;;~#;4;$88@>84;E4>$4D8;844444>;484.4$8$.;4;~#$4$4$4.8$.$~#4$.$$~#4$$.$~#$$$$~&4~#..~$$$.~#$$NMIEPNQLVMRQSSTNUTYSURUU]ZXYVWVW[YX[YX[Y]]ZYY][Y]YZZZ[_ZXW]WUWWXSS[XWXWTXTXUSXOPNSORPMMLNJMKKJKEIDFBKF>BF@E@>DB~}~7"], [267.31, 533.63, 130.69, 102.77, 109, 86, "~}~}~}~}~}~y$~}~}~F$~%.~#$~}~}~}~P$~}~-$~}~}~@$~}~@$~}~5$~}~z$~}~_$~}~?$~v.~,$$~&$~}~:$~}~5$~}~+$~)$$~|$~+$~$$~}~.$~)$~}~3$~%$~}~$$~$$~($~%$$~`$~4$~.$~)$$$$~}~&$~/$~#$~}$~0$~&$~f$~,$~/$~)$~%$$~v$~0$~$$~$$$~$$~#$~#$$~:$~X$~)$~&$~+3~'$$~w$~)$~$$~#$~$$~#$~&$~}~)$~'$~#$~$$$~a$~#$~5$$~%.~%$~'$$$~&$~D$~0$~>$~($~'$~'$$.~$$~#.~v$~+$~(.$~&$$$~#$~%$~a$~*$$~+$~%$$$.~'$~#$~$$~#$~$$~#$$~a$~#$~&$~&$~%$~'$$~$$$.~$$~#$$~$$~#3.~#$.$$~^.~#$~$$~#$.~#$~#$~($~$.~#$~#.$~$$~#$~#$~%3~%.3$.~$.~#$~;$~H$~'$~$$~%$~#$~#.~#.~%.$.~&3~#$$33$~#..$~#$~X$~%$~%$~#$~'$~$.$~%$~#$~&$~#.$.~#$$~#$~$.$$.~$$.$.$~#$$~Q$~,$~/.$$~$$~$$~$.~#$$$~#$$~#.$33..$$33$$37$$~<$~/$~%$~0$~($~&$3$.~#$~$$$$3.3~$$..$....~$3..33$~$..~#$~0$~*$~%$~4$~$$~-$.~$$$~($~#$~#.$~#$$~$$~#$~#7$$$~#7~#..3.~#73.3377...~<$~:$~&$~#$~$3$$$~#.$..~#$~&$$$$$~%$$$:$3$~#.$.3$:~#..7.$.3.~#.~($~/$~'$~*$~%$~'$~#$~$$$~&$..~'$~#.~#$~$$$~%$~#..~#7~#$33$$....$?$.:~#33:D7$$A$7$~7$~.$~2.~#$$~$.~#$$~&.~#$~#.$~#..~#3~#$~$3.$.$.$3~#7:7:3.~#$3:~#..7.~#.:3$~5$~#$~%$~%$~$$~$$~+$$$~#$~#.$~$3$$~%$~#.~#$.~#$$~#$~$3~$$~#$3..$3373$7?$:~#3::3737:::7=:$3~5$~,3~$$~%$~)$~$$~'$$..~#$~#$~%$~#$3~#$~#.$..~#$.$.~$$$.$..333~#.$7D.=?=:377D$$3~'$~-$~%$~$$~#.~#$~$$~%$~..$3~%$~#$~$$..$~#$~$3$~#$$~$.=.3~#$3$$737.7=$.333.==:?3BB=:::$~#.~1$$~$$~&$$~#$$$~%$$.$~#$$$$~$$$~&$~#$~%$$3~#$$~#$$...~#3~$$.$$~#...$33:337=..:77.7:D?DAB?EA::?=7~,$$~#$~&$~$$~%$~&$~#.~#$~#.~#.~$$~&.~#:~#$$~&.7$3$$$$.$.$.~#.=7$~#$3..$77:$7373.=:?=.3.:DB?A?:BFE:33~$$~'$~4$~#$$$.~#$$~#$$$.~)$...~#3$7~#33..$.$$.7.~#$3...3$.33$7.~#.?.::733.F7.=E=.:?DADAEA7.~$$~,$~$$~'$~$.$$.~#.$~$$~$$$$~%.$~'3$.~#$$~#3.7$.~#$~#$.$.~$.7:..$~#7$3?~#.:.7?A=$7=7=D=??.?D::B:==3~%$~-$~#$~#$~#$~#$~#$~%..$3~#$~#.~#.$~#$$.$..~#$3$~#$$.~#..7$$3$.~#...:.::77.3:7=$.=.3D:3=?:$3:=?ADADE:=AHJDE77~$$~-$$~%$~$$~#$.~&$$.3~#7$$.$~#3~#7...$$~%3.~#33:3$$.7$73.~#...7:A..337.A?$33:=::?3??AFBDHDAJFEFKLDF7~1.~#$.~#$~$$$$$.$.~#.~#33$~#.$$$.$.$3$.73$73337:~#$7373:3..?=3.3?.:?=:?==B3.DDBB?7E?=7A=EFJAFELEHB?:$~-$~$$$~#.~#7..3~#.~#$~#$$~#7$~$$3$3.:$=$37$::3.A$3:73.::...A$773.=7$=7=.AA$:=?3.B7D=3DA:L?J=BDFJPLIDJHBB:~'$~$$$~#$~&$$~#$~#.$.~$.33$3..$3:..$$3.7..::3B:.=:.:::~#7:3:=.77.?7:.::==:373:=:?77:3::?BFEFFKBIIJJMIFO7KE7~)$~'$~#.$$$~#$.~#3$~#$.3.$~$..3~#:$=~#.:$3.:=73.F$7?F?3:.773.37..7=::3:=B3:7AD:=A=.?EJ?FHKIJFLNAOMNQLNODA:~($~%.$$~&$$$.~$.3..$77$$.=7~#3:=777$..=?:AA:==7:=.7=3:73=.:~#$B=B:.7::77B77FD:7EAEIFEHIH?KKJOMQOOJSKB??~/$$$..$..$$~#$=A$3$$:.:337:.$?.$?7D?.:7:D==AAA=7A=A:=?777?73:=??333B.=:=I?EFJHE?EHFN=JNORRQQOQOOFI~'$$$~#$~#$~#$$$.$7$7.773..~#:$..73=...37:7?.:3:?:7D:B:7A7D=:7E:E:33:3?:B===AA==HA===BJALDAHEAOHQISJRPQQVSMTDM~$$~(.~%.$....$3$?$.3=.3?$A737.37?7=7D:D:777=:A=?7?7A=3=D:=?B7:?E3D=.A?:7?HB?AE=DEHH7IDJIKQJMPQQNSOTSJJF~$3~#$~$$.$.$~#$$~$$3$.$=7=7:=:7=.73=??B7==BD7?=AB=B?DD3D=:???=D?=::?3:HD3D:::??BDBBFDDMFFFLHHJPDJJORRTTOOQVROF~).$$$$~$$7$7~#.~#3:.77=3.AF3A7:::D==7.??BFI=A:BD?7=AD:DD:EAE?B::=BAD7=:BIH7IDIDAAHD?JMMMEJTTOQQURWTTSSOPD~-$$~#.3$333.:3$=77?3A3:B7==AE:=ED?I7H:DID?EBD?E:DFEAA$EH?7BBDIA:EBD?7DNJHFFBLEMJNILQOSNSTSTXUTTRVORB~$.~'$~&..3$:3.773:$=:?7?=DDA7EFBAEA:EABEHEKFDJE7DMIEDABA7DJ?AEH7=3DDELEAJ:EFPJBIBIKJROOMSSVQXRWVWXXTVQ:~+.~$.7~$$:$::=~#:AA7A7:?=:KD7A=H?D?ABFFAHKJJHHL=HDHDAHBBDF?EAH=EFD?AFEKEJJIEIIFJLJKNKRT?WSSXUVY[YWSVSJ~($$$...$~#3.7.$$3?.:3:AD3DFFAD?IB=JKAAE?JJHFABEJHD:IFD?NDE=JMBIBFIJ???MBFHIDEHJFJJNMLMJNQTQVTWSVZY[WXZURJ~$.~%$$$77$$~#3.3::D?3=?EF7AE?ADD=A?KJJJHIJM?IIBMFLOEJLHFH=FFEFE:B7=EEDIE?DAEBFMDIJNFLFMLTOONRVUWSS]YWY[YWZVO~%$~$$$$3$~#.$7:3=7$3=?=ADD=ABJEBDJAJBE?JHAAEFKLJAIPIKKMBHH?E?EB?:DJFIJDEDKIEEBHFAJJLKJJMIQSRTQTUUWX[WY]Z[YTL~($7~#$7.~#3~#$73B:AD7:=I:EEAFHM?FIHIHJAKKOMIJFJJFMKMHKJHKH?HJEBJJFIIBEIFIHJHHEAEKEKPOMPOVSQTUTWXYY]]^ZYVXUP~'$~#$~#$=.~#..:3.7?7.3AD:?EFEJDAJJINJEHNEMIKHLQMFIKNFBKODJLJ?OKE?IAAEBIELJEOKKOEMJLTIJROPNQNWPWUZXW[YYb]][SO~%$$$.~#$3.$..3:A=::?D??DAEDI:D=HBLOMJJQKINJDNFPQJOOLKINHHI?BLB?EIFJDAIH=NIF7JJMOOMJHLMNPKROSZUXQX^Z]_]Z`^ZWP~$$~#$~&$.~#?==$7D=7?D?ABIFEABKMHHNJDQKRMJJKHOQNLMHNOPFIMQMKOLLDFIIFJ:3EJFIFJIDKHMNJJNJKRNOTRTWXW[XZ_]`^a^[UO~$$.~$$3$$3~#:.$77?==?B=ABFJJJIKOJENJLJKNNSMNQONLNFQKMKLJQJNKEJNIKIMEEJHFJOBDEHFNKJFQPJMLORSOTT[WXX]Y[_]a^]]VK~$$~'$~#7:$..=AD3:?BAAJFEKENFNLINFNNJNPFOQPQMRPMKNDJPLNHHLJINFJHDAJAMNLBKIEDMPQRINQNNOTQJQUXXXXZ^]`^^^b^^WO~$$~&.:.:3$=$$33:3BFIEJJ=NFJKSNINKIJRLNOHOQPORTRNPSRLQNNNNJJDHIHEIEPJRJJMAFQNJNPLLPONJQRRRVXX]W[]_^Y`[`_ZTR~%$~$$$$$:.77$==:7$=7E=EJJLIJKMKKOPOQOQNSMTNRESOPSOLNHMPFNHSJKPQLHFKLEIMOLLDNLKINJNORHUNVSTWSXXV^WZ^_`^ab^TO~%$.$$$.$33.==7:.A3AB=FKEJIHNPFNJNOKTNONRNSSSLQJLLQKRJOLJPLHOOEIEJDDHFJHJKLIHHONJLPQOOTRURTXTW]WYY^]^]aca^YN~$.~%.~#$3.~#.==FF=:BK:7JDJDNHLNPRJKNNNTNQKFQSNOWLNNLOIPKPLHQIBNJKDHKBFLINJNIIEONQPMOMQMOUVQSVVW[^][]`_aab^^ZN~$$~%$337~$.$$.?B:3DDHJBDJJJHLNOJKKNQRQNMOOTLRVRNMSLNORLJQJDNOIJHFIKKLDQHJJNJMINLPSSIRSUQLTZXW]YW]a_aaad^`UU~$$.$$..$37.~#?7B7B7?B?A?IIDJQDRNMOKRIPPNQLOTOTOQTOSROQOPOMNHJINLNDKKHLIOLLAKENOQOLNOQOPRRPTTVXZWV_]_`ac`b_aZO~#"], [512.24, 527.82, 128.86, 108.58, 107, 90, "~}~}~}~}~_$~#$~}~,$$~$$~}~0$~}~/$~#$~'$~#$~}~+$~#$$~%$~}~/$~}~}~C$~}~*$~-$~|$~&$~}~9$~#$~#$~}~#-~&$~#$~}~,$~0$~}~.$~}~-$~%$$$~#$~w$~2$~#$~#$~}~0$$~}~-3~'$$$~}~+$$~&$~}~%$~(-~$$~{$~3-~}~*$-~#$~%$~$$$$~e$~=$$~#$~#$~A$~e$~&$-~'$$-~}~*$-~#3~$$~}~(-~($~%-$~f$$~:$~$$~$$$$-$~#$~}$~&$~&-3$-~%$~f$~<$~$$~#-~#3$~#--$~2$~W$~2$~,$$$33$-~#$$~h$~<-$~#$-$~$-~#-~f$~8$~*$$~#---$~_$~B-~'-$$$$~#-$~i$~+$~)$~)3$~#$~#$$$~%$~=$~[$~&$~%$~#$~#$$-~#-$3~c$~=-~'-$~#-~#$~#-$-~n$~($~($$~#$$~%$-$-$-7$$$~0$~P$~=$~$$-$~$$$~#33-$$$-$~U-~&$~=$$~)$~#$$~#3$-$-~#$$-~K$~N$~%$$-~%-~#$$$-$$3-~6$~($~<$~=$$~.$$~#33-$$--$-~;$$~4$~A$~,-~%-$~#$~#73$$$$---$~;$~--~6$~%$~;$~&$-3$-$37$-3$3-~<$~3$~#$~-$~5$$~($~*$$333--777~#-~8$~2$~*$~8$~-$~($-~#$~$$~#333@$7:$$~K$~#$~%$~#$~=$~&$~)-$~#$~#$33~#$-~#7-:~#$~B$~'$$~)$~#$~'$~$$~%$~$$~%$~*$~($~$$$~#$3~#7~#-773:---:-$~I$~)$~'$~+$~%-~*$~#$~)$~%$$--$~#3--337:37$~7$~*$~$$~%$~($~&$~$$$~($~-$~($~+$--~#$-7$$-~#-<::$3<-~@$~3$~/$~%$-$~($~$$~#$~%7$-~#$~$$-3:$-~#-:7:$:7~#-~'$~($~?$~3$~)$~,$$~'$~%---~#773:$$C7?<73$~'$~=$~)$~+$~$$-$~'$~#-~&$~&$~#$~$$~%$~%$~#$$~#--$7-$$3-:<:3--~5$~2$~#$~&$~$-$~'$-~$$~*$~&$~#$~%$~$$$~$-$-~#$~#$---~#:7-3<3:3?3-3~0$$~'$~,-~*$~#$~#$-~$-$~$-~($~*$~#$$$~#-~#7-$~$$~$$----33$<$~#@77<:7:?~#$$~0$$~#$~'$~)$~%$-~#$~(-~'$~#$~#$~%$$~#$~'3--~&$~$$~#-~#:-$$3$~%$3~#<:7<@-7CCE--7~1$~#$~#$~+$~$--~&$$~)$~#$~$$$$$~%$3~&-~%$$-$$~$-~$-$~&7$-$7$$7-3-:?@377:<B-~)$~4$~#-$$~#$~#$~'-~#$~$$~#$~#-~$$~#$3~%-~#3$$$$$~#$-$-~#$$~&3--~$3-$$$~#---737737<?<<?B?3-~,$~'$~#$~'$$~#$~&$-$$~$-$~#$~%$~#$$-$~$$$~#$--$$~$$--~#$~#3~#7~#$333-$$-$:-~$-3$3<7:73G-7:@37<7--?~1$~#$$~$-$~$-$~#$$$~#$~%$~$$-~$$$3$7~#$~#-3~#$-~$-~#$~%$-$$~#-~$-~#3~#-~#$-33$$-$77-73773<?7:B?E<ECF3<~$$~$$~-$-~%-~#$3-~#$~%$$$~$-~$$7$$~$$~$$3-$~%$$$$-$3-$3~#$3--~$$-~#-$~#$$$$7$?:--?$-33?@?C77G???@C-~'$~)-~#--~#-~$$~$:$$$-~#$$~&$$-$~#--~#$37$-~#$~$$~#--$$:~&$$~$$~$-$:33$~#37$:3::3<?<:7<7??:B?:<?@BG3-3~&$~%$~&-~#$$$$$~$$$~#-$~#$~$$~#-~%-$$-$-$~#:~#$--7-3$~#$~#:~$-$-~#--$~#3~#73$$7--3-:--7:373:-:37:7@FBHCBCC<I:??~*$~&$~$$~$--~$-~$3-~#$3~%--$-3-:-~#$~#$3$--3$3$$-$$-3$$7$~#$~#--$--$<~#7$33:37<<@7<7$?<3$3BCHEEGMFI?B?@~$$~#$~($$$~#$$$$$$~#3$73$---$~#:3~#-$:--:$7-:-3B-3---$-77-$7~#377337$~#?33-3?<$333$<73@7?CB?<3<FCIG?FJIGLHM?<~$-~$$~$$~$$$~$$$$$-7~#--~#73-$$$-$33-33--:<$~#77:~#:-3-<:3@37:3-:$:$$7<37$<7-<?3$3:-:377<?<G<@CE@BCH@JBECL@C?:~%$~$$$~#3-~%$~#$$$~#-$$-7$<-73$-$$3$-$-~#$:33-377-7$3-3?$:7---:7-<-$:::$37--7@-337B???:C:I<E?II?BECHGJFHGB?C~%$~$$~#$~#$~#-$$-$$3$?-37-:<7$73-$?:-~#:?@~#3<:?3-777-3?-??-$?7:<:-:<?7-3-B7<7?3<?7C:-?:G@EB<FCKKL@LKKJMKPOCG?~$$~%-$~#$~$$-$-$~%3-~#$$?--$:$$?73<@7:@-:<73:<:$:7:73-<<7::-7:3:3<?B:@F773???:@@-F3?FFH?FHKCGNHMJMMKQMFKI:~$7~%-~%-$~#$~#$$37<3B$3$37:7--$77?77:7<3@<B?<@~#<:B@G<??B:F<3BC:7@:<<:::E:-3<:<B@?B7@EFBHIGKCPLEQIPLNHNJIJ:~'$~%$$~#$-7$-~$$:33$333F?<<-@<7?<<:@3E:@B3@@<?:BE<<??BC<?::<GCC@<?37EBB?7E<-@CCHGJKFIGG@OJMMKKBRPOOIOE~%3~%$~$$$$~#33--$-333-<?@<-<:7ECC7-E:HEC@?B@CB?FF?CFBBBB:@7<I3:<@@BBBC?:?EGEC?G<BEGHGGHKKIKJFKKNPRQQOIOKI<~'$-3--7~#7$33-~#-7:7<@E@:??BC<:@C:C@ECCKIEFCE?HC<I<F@CHGBB@<:B@@G@<BE?:<BGCECICKBLBEEBGKOJPPONQPOSTSQFMC@~$$$~#-~$$-3-$-$~#7$<:-3-?@B?7<:@?HH@BFHBKHCHGE@GG@I?BKGKF@<FB7E@CCC<<3:GCIC7FCJE@GICFOGHLLLLLOMKRUOROOTLQOJL~%$~%$$-~#-$3-<73-3C7:3<<E<@BIBFKF<<GGJGI@??MIEHKBBHICGFC??JGB@CGF?BGCFEFEL?GJHIHKMKOPOOORUMOSHTTVOUURQRKB~$-$~%3~#$~$$~#$3-3-:3?E<HBBC@HBHC<CHLHJFJHEH?KGKFKKIKFBMJFIHL:IHI<?GBCJ?HHGJF@KG:MMKOIONQKQPSMTNPSVVSZOTLLI~(--$~#77$$:3B-@?<@@FHHGFB?GJIHBKIIEJL@MONKMFGIJKFKFEKHIICGIGGJIF?FJFGOLCCIFKHHJFHKPMQMQOQLRSWRXWYZUTQQG~'-~#$-$$$-$B:<3?::CGB@CBKG?IFHGFKIKGLHMQMLKIKOQOMMHJKKKEBHHBMGEJ@EJGKKIIHHJJOKFPKMLMKKTVRWRUQSQWTYVZVUKM~$-$~#--$3$-33737B<:7?B<HHFCFKHKGJJGPJOIMNLIOOPRSMQNOTMBLLJJGEKHCFBGHKCGGCKEKMMKKMOTKQJQOQRVURRUT[WXWWYXVQTO~$3~%--$$33$~#37?@?<??<FJ?GFKIGMMLNJHKQOMPRMKJQVMLONNPKPLLKMMKMHFGGKM?LIMLNRKMLFOOMGNOMRXTRSUTTWWXZYXWXZUTI~+7~#333::ECF3FBFBHECJKKJGKOIMQKLOOLQLQPNJQPQQROKKLJMKNIKMLMKFMMKNNPOCMMOMMMOOTQTUPVVTWZTVWVZVZ^]YWUM~$$~#-~$-$-3-$33::<?EGECJHIKLGGIOOJHORQRTJQPOTUQQQOTMMPRKRJFOIHOHEMFEJKGJHNMKPKMLOEOROSRUTVTWVXVU[XX[]_YXPVO~($$$3::3:3@77BFFCKHFHKOOMKKQJSKORSRNPNOTTOOTPTQKPPQKMKINKNLMMLMJNMIPNOJORNMOOMRRTSSSWTXUWXX^__Z[Y`[]SL~$-~%$$73777<:3:@BBFHKKJGKMKMKRMSONPQORUTOORRTTSNVTPOSOOGOOLPNFOOOJIMMIRHRMKSIQPMQRKQSTWYXX[WYV[^W]_^^]ZTQ~$$~$-~#-~#-333$-@<@JJEGEFKLKMPKLQHORRSTSSIRVRSQRXSQTVSKSRKMOLMOHHLMNLMMPKMMIJNSOKPRMUUUTUXSUZZXU^]Y^]^^^]Z[R~%$~#3~#-$$3$3?<?BCCE?HKKFNFQPKNJEOKOPTVTSOTTXPSOQWSSONQRIPOMPQCPPMIIMKOIOPOOPMJPSQTRRQXUS[XXW][Y^]`^`a]^]UM~%$~#$$-~#33$-<3::-L@JCGCLMEORMOLOORTRTSUTTUSMVTTSTPONTRVMPPPPOKRHMEIPJLKELBKMPMPPLROTSSVSRWXXXW_`^]_`ab_]ZS~$-~#$$7$-7:3--:?F<BJGCIKMMJNQORQSTMQWTTQRSSTVUTWXQTMRROVMPOMOOQJOPNKKMMFOOQLPOQRPPQURTUWVVWXYY_]]ab`cbb`[YS~#"], [42.19, 318.0, 199.0, 133.0, 199, 133, "~}~}~}~}~}~}~}~}~}~}~}~}~}~}~}~}~}~}~}~}~}~}~}~}~}~}~}~}~}~}~}~}~}~}~&e~}~}~}~}~ye~}~`e~}~}~`e~}~}~}~}~}~|e~*e~}~}~}~}~,e~:e~We~}~}~}~oe~}~}~}~}~Fe~}~}~}~}~}~}~}~}~}~}~}~}~}~}~}~}~}~}~}~}~}~}~,e~}~}~_e~}~}~}~}e~je~}~}~}~[e~}~xe~5e~}~}~ge~}~`f~Be~$e~'e~}~Je~}~}~De~'e~%e~Fe~Ce~}~}~}~Se~(ee~}~}e~/e~%e~}~ue~7e~#e~}~}~-e~'e~Ce~}~}~}~ue~(e~)e~Ze~}~Me~$e~Fe~&e~}~ae~*e~Ce~}~ge~%e~#e~}~}~2e~$e~Ee~}~fe~Qe~}~Qe~$e~,efe~$e~}~ze~,e~#e~&ee~#f~;e~%e~}~Se~7eee~Ce~(e~$e~}~]f~(e~#f~}~oe~-e~,e~(ff~>e~9e~}~De~)e~$e~$e~#e~#e~#e~$ee~:e~'e~+e~2e~}~<f~*e~'e~)ee~:e~}~je~%e~$f~&e~:e~,ee~;e~}~Ae~#e~#ee~(efee~:e~#e~/e~}~Vee~-ee~9e~%e~#ee~'e~}~Pe~$e~)f~#e~&eeee~%e~8e~}~ee~%f~(e~%e~#e~$f~:e~)e~}~Ee~$e~#e~+ee~,ee~#e~#efe~%e~9e~#f~%e~-e~}~He~&e~1fe~#f~$ee~#e~7e~}~de~(e~$eee~#e~$ef~#e~9e~&ee~}~[e~(e~#e~'ee~$e~;eee~#ee~#e~$e~8e~}~7e~$e~&e~(e~$ef~#ee~(ef~$e~4e~Fe~}~0e~.f~%e~*e~#ee~$fe~#e~7e~#eeeee~&e~*e~)e~}~@e~,eee~#e~&f~$eee~#e~#fee~?e~)e~%e~}~Qe~&ee~#ef*~$eeefe,~6f~#e~+e~}~7e~>e~+e~$eee~#*~#e~#*ef~#e~4ee~#eee~#*~-e~#f~}~:e~3e~#efe~%f~%ee~#e~#fff-~#e~$eef~5e~&e~$e~)ee~,e~}~3e~1e~'ef~&e~#e~%f~#ef*~#eee,~3e~$eee~$e~#ffee~5e~$e~'e~%e~}~)e~5ee~#e~$fefee~$ffefe~3ef~#eee~#ee~#ff~+e~}~Ee~+e~#ee~'efffffeeee,*,*~#*~3e~#e~#efeef~%eee~,ee~2e~}~.e~%e~%e~*ee~%ee~#ee~#ef~#e-,-f~4ee~#feee~$e~#ee~0e~#e~}~3e~7ee~%f~#feee,e*f-efee~4eef~&ee~%e~'ee~#e~'e~$e~#fe~&e~}~,e~8ee~#feeee~#ff~$,f~$ff*ee~1efe~%eee~#ef~$e~$*f~&e~%e~+e~#e~}~1e~$f~&e~(ee~&fef~#*ff,ffefff**~#fe~0e~#e~#ee~#fe~+f~)e~'e~}~0e~%ee~&e~#e~#e~#e~#e~**~%e*ee*fe*~#ff,**e,e~0efe*eefeee~$e~$e~*e~%e~}~Hf~%e~#feeefeefeeeff*,ff,*.e~0eef~#ee~$ee~#e~#eef~%e~#e~&e~%e~#ee~'e~}~1e~.e~#e*fe*feee,ffe,~#e*,~#.,f*f*f~/ee~#*~#e~(feef~#e~#e~$e~&e~(e~}~6e~#eeee~&f~(eeef~#ee*-*,f*~#e*f,eff-0e~1*~#,ff~#f~#e~&e~#f~#eee~'ee~)f~}~0e~#e~,ee~#f~#fee~#eee~#f*,fefeffef1--,,,e*~/,~#e~#-eee~#f~#eeee~#e~(e~3e~}~3e~$e~$e~#e*~#ee~$e~#****,f*-f.,f--.,0eefe~.ff*fe~#*feffe~#e~&e~$e~&e~#ee~&e~&e~+e~}~*e~)f~#e~#e~$eeee,*,e,,f*f***,f0f*,-e~.e*~#**e*ef,e*,eef~&e~&e~'e~&e~$e~'e~#e~}~+e~#e~$e~$e~$e~#f~#f~#e**~#e,~#f*f***fe-/,0.00*~-eef0~$e*ff*fff~$f~#*eeeef~#e~(e~}~<e~#e~%e~$efeeee~#e~#fefff/fe*e/f*,,./00,,~-e~#ef*,ee-,~$,,~$e~#e~$e~%e~#e~#e~#e~)e~&e~}~,e~#e~#e~#ee~#ee~$fee~#f~#e~#.,*ff,ff*,,*-2.-*---/*~-,~#f,f,*ee*,ffe~#**feefe~#ef~#efee~&f~4e~$e~}~'e~&e~%f~#fe.*ff*,~#/,,,,/2-,-1/1.0,~,f-f*f..eef*/f*effff*~$efee~&ee~%e~$e~%e~,e~{e~*ef~$eee~#*~#e*,*f~#,,***~#*-/,1f,,.041.,..~,e-fff,f,,e,*ff-fe*e~#ff~%e~+ef~(e~}~,e~+feeef*e~#feff*ff/,1,0.0,-2/,31--103*e~+f,*,/*f.-f-eff-eefeeeefefe~%ee~&fe~.e~ve~,e~&e~#e~$ef~#ff*eef**f-/-..,.0,**-0.102223021f~+*f1.-,,**/-.,*.f*-e*ee~#efe~#e~#eef~#e~%ee~#e~$e~}~3e~#eee~#,~$*~#*.,*,,,-*../2,,31*122223213/~+,,*,0./ff0f*,-,f,fff~$e*~#ee*ef~'e~-e~}~)e~)ef~#*e~#*-ff*~#e---*f*01-2/..02//*523241~*f-0/*-1,3,*~#**~#.~#f,e,ff,*fef~$fee~&fe~#e~%e~}~#f~&ee~,eef~#e*ff*f-,f,,.-./21-02/2113433245451~**/1*.f1./f*/,f1f,~#,,,~#*eee~#eee~#e~#e~#e~%ee~%e~#eee~*e~qe~$e~&e~&e~$eefee**e*.,*--,/--.21110133211365452320~**1.-10*/f2,-.-,../f**f~$*eee-~#ee~#e~$e~$e~#e~#f~&e~}~&e~'*~#e~&eee*f***-,0/-4-/1112323233344625444,~)134..0.21,1//--,,-~#fef-f~#,ee~#f~$e~#e~#e~#e~#fe~}~#e~(e~#e~#e~#eeeeeeeeeeee~#ee..,e*,-.,223311243422456646657.~)02111231,--/-1,,,0,,f/efe,~#,*f~#eee~#e~$e~%e~%e~'e~tee~+e~**ee*~#f~#**,,11.2,04/2163554456767857742~(*//51130001/1*0///.*..f-,*f-fee~#e~#e~$*~&e~%e~'ee~%e~{ee~%eee~#eeeee*fee213-/211232215334755574677582~(.2231222221/4./1./-./00,,,e~#f**fee~$eee~+e~}~$e~#e~&eee*f~#ef~#f~#f,ff0.,.11111435434672365765877685~#e~&24/-403341111120*/-2.-f,.fe*.~#f~$,~$e~#fe~$ee~ue~7ee~$eee**e*,.e01..2/1323.46285666766888969787~(465243434223423232-1-2f00,0*/,efe*e~#*eff~$f~%e~)e~te~)e~#e~#e~#eee~#ef~#*,,.*11-423211554655388667798:889:88*~&,764655764444121213-f12/4/f*-,.,*~#f~$e~$e~*e~$e~$e~#e~#e~ye~)-f*fe-,-0-011354245836854577899898::;9::/~&/7575646475344/4-34122/,,.ff-,ff*,fe~#efffef~#ee~}~#ee~(e~%fe~#e~#ee*f*f.*-,/1214265555776769:5899:8:;9;<95~#eee48679:5878644555425/251.*0/*0/f/.-*ee*e~%f~#e~#ef~}~&e~(ee~$fe~#*ff1*-1-.02346646657888:9889;8:::;:<=:4efee8899779848656454644004320311221f,,,fe*f~#ee~#f~%e~se~%e~#e~(e~&fe~#eeff*f**e11f0121005454777988:9999::;;;;<;<==<;~#-*/:6888987888487666565204333131,*0,f*ff*fe~#f~#e~%efe~#e~#e~*e~tee~$e~'f,-~#,//02353648768689978;::;<:;;<<=<<;==;.*12:::9;9<898858777884462664.1*022/1..f*f**~%e~#e~&e~ye~$e~$ee~$fe~%e~#*,,,201313523765787999;999;;<<=<<=>=>>=?=3318;;;:;:::::89978786655356611311330.--,,ee~#*~$eef~#e~$e~&e~ge~/e~(e~$e~#e~#ee1-2,2332465767887:;98::;:;<;<==>>??=>>>?873;<==<<<<<;:::;:8887886874575403,3//,.-ee*~$e~'e~'e~we~*f~#,eef,*f/.30225655887:9;9;<:;<=<<=<>>?>?????A@=87>?>>>==<<<:<:;;:997:98687575365/322.-1.~#e~#ee~#e~#e~%e~ze~$f~#ee~#ee~#ffe**e-1/226/47756878:9:;<;<;>=>>=?>@>?@AABBAA?==A@@@??>==>=:<<::::6:9:7878674423322.*/,f*~$eee~-e~{f~#e~#ffe*f.e111447568778:8:::<<<>=>=><??>?@@@BBBDCCC@ABBBAAA??==>=<<<;:<=9:9979888776665332---*-,~&e~'e~*e~te~#e~#efeeef~#*.0235378868889:;;;<;<>==?>???@@ABACCDEFFFCEFEDCDBB@?>=>>==<;<;:;<::977779558271*1**,e,f~#eee~#f~$e~ye~#e~$e~#eeeef~#e-*0-1255566888:::;<<====?>????@@@BBBCEEFGHIIHHHHGFECBA@@???>>====<<;;<:::89978732323110**fe~#ee~&e~&f~$e~#e~le~$e~#e~$ee~%.e~#ef,.0344686898:;;<<==>=>>??@@@@@ABACDEFHIIKLLKLKKJIGFDCA@A???>>>=>=<<==;;;::97878554403,-/*,*~#ee*f~#e~,e~&e~de~(e~#ff~#ff~%,.,.3442648999;;<===>=>???@?@AAABBCBCEFHJKLNOOOONNMKIHFDCC@AAA@?@???>=>==<<;<:998:6787421*2,**eef~#*f~#f~$*e~Re~%e~-e~&e~&e~$e~%e~#ef~$,*--~#f*,-/5537898;:;;=>==?>?@?@ABBCBBCCCDDEFHJLNPQRSSSRQPNLIHFECBBBBAAB?@@@@?>?>===<;::978858353,*0~#,-f~$eef~#fee~he~$ee~$ee~#f,f,e**,,1-f*-1225668:;:<;<>>???@@@BBBBCBCCDCDDDEEGHILNPRTVVVVVTSQNLIGFEDCDDCBCABAB@AA@A@>>=>=<;;:9976762141./-,0ffef~#ef*ef~#f~$ee~0e~=e~4e~#f~$e~#*e*.e--f*/,10-464669:::=<==>>??A@@CBBDDCDDDEEEFFFFFGGHKMPSVWYZZZYXVSQNKHGGFFEEEDDDDCDCCBBBBAA@@@>==<;:::976734212-2//*1**f-e*e,f~#e~#ee~&e~Ae~+fe~%e~&e~#e~#ff*~$ef*,.ff.2302315666598899:;:<<=<>>>?@?AAAAABBBCCCCCDDDEFILPTWZ[^^^]ZXUQMJGDEECCCCCCBAABAA@@A????>>=<<;<:::8877635344/0/0,21,-**eff~$*e~#f~#eee~#e~'ee~1"], [324.11, 315.9, 199.0, 133.0, 199, 133, "~}~}~}~}~}~oe~}~}~}~}~}~}~}~}~}~}~}~}~}~}~}~}~}~}~}~}~}~}~}~}~}~}~}~}~}~}~@e~}~}~}~}~}~}~}~}~Te~=e~}~}~}~}~}~}~}~}~}~}~}~Re~}~}~}~}~}~}~}~}~}~}~}~}~}~}~}~}~}~ce~}~}~}~}~}~}~,e~}~me~%e~}~}~}e~}~je~}~}~}~}~:e~}~}~>e~}~}~}~}~}~0e~}~Qe~De~}~}~}~}~}~}~}~}~}~}~}~%e~Ee~}~ze~}~}e~}~lee~Ge~}~}~}~ne~0f~Be~}~ee~'e~(f~Be~3e~}~Qe~+e~Qe~}~Be~2e~*f~be~}~Be~%e~&e~}~}~3e~$e~@eee~}~`e~+e~#e~%e~}~}~-e~)e~>e~}~Je~)e~-e~%ee~+e~%f~=e~}~me~Be~+e~1e~}~Ee~/e~%e~$f~;ee~3e~}~Fe~0e~#e~*e~#e~=e~*e~}~Ne~5e~#f~%e~9ee~)e~#e~*e~}~Mee~+e~&e~$ef~#f~8e~%e~}~=e~Pee~#e~#e~=e~#e~}~Ue~.e~*ee*~$e~;e~&e~)e~8e~}~5e~3f~&f~%*f~9e~}~ge~(fefeeeeeeee~9e~&e~&e~}~Je~#e~+e~(e~#ff~&e~#e~#ee~He~}~Je~$e~$e~.e~'fee~&f~7e~#e~$e~/e~}~Ae~,f~&e~(fe~$ee~#e~%*~#e~7ee~%e~#e~$e~#e~2e~}~3e~%e~3e~&f~#e~#e~&,~#fee~Je~*e~}~9e~)e~%e~$ee~$e~$e~#fe*e*e~$ee~#e~6e~$e~%fe~(e~+e~'e~$e~}~.e~-e~*ee~'f~$ef~#ffefe~#ef~7eee~#e~#e~(e~'e~}~Ne~(e~&e~&e*~#ef~#f~6e~(e~}~Re~#e~(e~+ee~%f~$e~#eef~<f~1e~0e~}~Eee~#e~%ef~$efeee~#e~5e~#fee~%e~}~Be~$e~(e~%f~.e~)ef~#e~#f~#ef~#efe~4e~#ee~&fe~+e~'e~}~4e~&e~(e~1eee~#e~#e~#e~$*e~#*~$*f,~5f~$ef~#e~#e~*f~$e~}~:e~6e*eeee~$*~#feee~%e~#e~#f~#,~4e~#ef~-e~#e~&e~'e~$e~2e~}~(e~)e~*e~#fe~#f~#eeffef~#,ef,*~4*e~#,~%ee~$fe~/e~#e~}~4e~+e~)e~$eff~#*fe~#-~%e~#,f,efff~#e*~2feee~#f~$e~$ee~$e~&e~%e~$e~%e~}~?f~#f~#ee~'e~#efffef~#ffeeff~#,*,f,~2e*~$e~$ee~$e~$f~$e~$e~*eee~$e~}~'e~6e~#ee~$ef~'e~#e~$f*eeee,*effe**~1ee~#e~$e~$ef~$e~&e~%f~$e~5e~}~*e~$e~(e~#fe~&eeeff~#ee*f~$*ff~#*-ee~#-~2efefe~$f~$fe~$f~(e~1e~}~'e~4ee*e~$fee~%e~#*f~#fe.e/~#e1*ff*eee~/eee~#e~#feffefe~$e~#f~&e~#e~}~;e~.e~#e~$f~%ee~$f~#eeee~#,e,/eff,e-**e~0feeeefeeefee~#e~$e~'e~0e~}~+f~%e~%eee~$ee~&e~$e~$ff~#eff~$eefe~#feff,-*.-~0fe~#,eee~#e~#e~#ee~$e~$e~#eeeeee~)ef~/e~se~4e~&e~$ef*~#efe~$ef~#f*-ff,*efff-,f-.e~0*~#ee*~#feef*efe~$e~&e~$e*~#ee~+e~+e~}~$f~$eeee~%eee~$e~%eff~#e~#ee~$*fff*,***f*,**~0efefee~'fee~#e~$ee~%e~%e~$eee~#ee~}~2e~'f~(ee~#f~#*~#e~$e.,~#fe~#*f,--*,*,-/1f-~.ee~#,ffe~#e*e~%ffefe~$ef~#e~}~0ee~#e~+e~5e~#eef~#e~#-efeeff/e,*-f-e*-~/f*~$f~#*ee-**e~%e*~#e~$ef~#e~#e~'e~}~<e~%e~#eeee~$ef,e*.fff-f-//f~#,,1.*/f*~.e~#*ef*,,fff*eef~$*~#eef~#e~#e~#e~&e~$e~#e~%e~(e~}~'eee~%f~,-e*~#,ff,ff,.0f**,,--1./.e..~-ee~#ff,fe~#fe~$ff~#e~#f~#e~#e~,e~%e~$e~}~2e~#e~$ee~&ee~#f*fe*f-ff,/,ff/,/0,*,/11.*~-f,eef*~#efeff*f*~$,~$*~#*eeee~#e~%ee~5e~ye~%e~#e~%ee~(fe*~#.e****~#,0.f0,/0,e**/--/./.-~,e**,****-fef~#eff,eefe~$ee,fee~$e~'ee~,ee~ze~$ee~+f~$e~#ee~$f*f*~#,f*-f-,*-0.2*...011-00*~,-e*.*fe-~#**eef*efefe~#ee~%ee~#e~+e~$e~#e~}~-e~'e~'e,~#e~#eef**,*.-f-,0/-0..0.1313/2~,e,/-/,f*.**eff**e,~$fee~#e~'e~#e~#ee~#e~.e~he~/e~2e~#e~&**e~$fe~#*,*-,*,0/0*1122/11...04e~+,--1-*,.,-~#*,e.fe**fffef*~$ee~'e~%e~+e~ue~$e~'e~&e~$ff~$e~#fee~#eef-~#**,.,01*-.*103011-1024.242-~+0.*.f*f.,f,*.f***~#,eee~#,f~#e~#e~#e~#f~#e~)*~.e~ye~)e~#ee~#fef,e**e*--.*,--2f2.21//11213343141~*,*/0.0...,-*0,-e-f,*,effeefe~$fe~%e~#e~)e~}~,ee~$e~&e~#ee~#**,.---.1-.1,112//130331444154/~**21*,01*1e.f.-,-,f,ef*~#f*~#ee*eeee~#*e~#*e~$e~&e~}~-eee~%eee~#fe~#eff,e-,.01.11132322/2144344432~*.,-02021/0--./-,*e.fe,f~#e,ef~#*e~#e~$ee~$e~$e~+e~{e~%e~$e~'e~%fe,f,f*f--11,21./2413222244563334~)e1/2/,11*/*-f./,-ee**f*,fe~$*~%f~#ee~%e~'e~#e~}~$e~%e~'e~$eeff~#eefeff-.--.122.2131/44423267356544e~(*21011/121/00-1,1--f--,,,-*ef~$e~#ee~#e~%ee~#e~(e~{e~%e~%*~&e~#ef~#eff**f*~#e0..02021225410367547458296,~(.4312423034/2-/,1-.-*e,fe*f*e*efe~#fe~$efe~ue~,e~,e~#e~$e~$,~#e-,*f--e-1,10.3--111146435646767646871~(123.4664223-//-1--1010f*-,efe,fffff~#e~$e~$e~#e~|e~&ee~'e~#e~#f~#e~#fefff*f-01/./1,23.423344356655846988665~'e.464/0121042,22322,-.0,e/f*f*e*eefe~#f~#efe~.e~.e~ne~$eee~%fe~#ef~#eeee,~#/0/111412442574564586688896996~'*357674542422320.101110,/2-,f-~$fe*~$e~)e~#f~&e~'e~me~/e~$e~#ffeffeff,*,-0**125434225654756878:88:9::86~'.56379752655123100143.0,f.0ff--f*fee~#f~%ef~$f~$e~*e~}~$ee~%f*f00,*e11-11233637544579888898:89;8;;:,e~%266987444535646534-302,-2,*....-,*ff~#ee~%fe~&ee~}~+ee~$f~#**ffe./,1.3441225357688668789898;9::;;:3~%e6876688:272545642364330110//,,1***f,~$ff~#e~$ee~'e~|e~$e~%e~$eeefee,*-,.1//1531165627648788;8:;::<:;:;<:8ef,~#6:988868876565546224/32223*.-.*,-fee,e~$ee~$e~#e~$e~$f~$e~ze~'f~#feff~#**/.*.,./.472655687889::::9:;:;:<<=<;;7e*,289888:89:87858765444204324,1.11,1-,fe~#e~$ee~$f~#eee~}~&ef~#e~#fe~#f~#--f*/-0303244466468::9989;::;<<;;<==<==<;..16:8:8::98:76786869667632523421//0*fee~#f*ffe~%fe~#e~$e~re~'e~'e~%e~$eff~#,,*,0,03-456565899899::9::;:;<<=<<>=>=>><1.,;;;:<;<;9::8:99876897254143232/1-1-/-effe~$e~$eeeeeee~re~-e~$,~%eee-f.0..2143364766898889;9:;<<;=<<====?>?>?>454;=<=<<<:;:::9::8:87577655621104.1,2*/f~#*ee~%e~#eee~#f~%e~$e~uee~$eee~$e~$*ef**,/12160767788::::;<:;:<=<>=>=>??>@?@@@;98>?>?==<=;;::::::9887869582626132/1.-,-./,~)f~ve~$e~.ff~'ff/2104457789988:;:;<;;<;><=>?>>?@@@AA@BB><>AA@@?>>===<;;;;::::8998765572742230*,*.,ffe~#ee~%f~}~&e~#efe*~$efef.12/224776889:;<<:<;=<<==>=?>>?A@AAABDDCB?ACCBA@@?>>==<=;<;<:::899879676744224,/0/0,~#ee~}e~'ee~&ee~%ee*-*-2114545799:::99<;<<==>=??@??A@AACCDEEFFEDEEDECBB@@@??>>===<<:<:=;:;7976866452400/*,-~%e~$f~$e~)e~we~%e*e~#f,.-/022467989:::<;<<===?>>??@@@AABBCDEFFHHIIHIHGGFECBA@??>?=>==<<<<;;;;;9::9886655f0311/f~#eef~$efe~)e~me~$e~(feeee*e*--.*04246888::;:<<>==?>>>???@?@AABBBDEFHHJKLLKLLKIIGFDCBA@@???>><>=<<=;;;::8:96967550012,,fffff~#fe~*e~t-~#ee~#fff-e*,00231498898:<:<====>>?@?@AAAAABBBCDDFHJKMNOOOOONMKIHFDBBAA@@@@@?@>>>>>=>;<9;:9975867343.2,~#*,ffefe~#e~#e~*e~.e~Ye~#e~#e~$ef~#f~$,*fe*,/1155658999<<<<>=?=?@?@@AABABBBDCCDEFHJLNPQRSSSRQONKJGEDCCBBABAA@@@??@??>><=<;:;:8876624/111.~#efe**fee~ie~%e~#e*e~#-~#ff~#ee~#e.1*f0-/02464679:;;;;=??>@@A@ABBBCBCCDDDDEEEFHILNPSTVVVVUTRPNKIGFEDDCCCCBBBAAAA@A@>?>>=<=;::;787755/4-./-*e,ffe*ee~#ff*~%e~%e~#ee~Qe~#e~&e~#e~#ef~#,*e**f1f1,-4.-202/67889:<<=>?>@@?ABACBCDCDCDEEFEFFFFGGIKMQSVXYZZZYXUSPMJHHFFFFDEEEDDCDCBCBBAA@@@?@>==<<;8:966541../0-,/*fe.*eefe~%ff*f~#e~Tee~#f*~#e~&f**f/***1,1,1133467687999:;<=;<=>>@??@A@AAAABACCCCDDCDEGIMQTWZ]^^^[ZWTPLIFEDCCCCCBBCABBA@??@??>>?==;;:;<999867744231f.22*,.*-~#e.,eefff~$e~+e~3"]];
const lut={};for(let i=0;i<A.length;i++)lut[A[i]]=i;
const cv=document.getElementById('cv');const ctx=cv.getContext('2d');
ctx.imageSmoothingEnabled=true;ctx.imageSmoothingQuality='high';
for(const [L,T,W,H,nx,ny,s] of LAYERS){
 const oc=document.createElement('canvas');oc.width=nx;oc.height=ny;
 const octx=oc.getContext('2d');const im=octx.createImageData(nx,ny);const d=im.data;
 let i=0,k=0;
 while(k<s.length){const c=s[k++];if(c==='~'){i+=lut[s[k++]]+1;}else{const p=PAL[lut[c]];const o=i*4;d[o]=p[0];d[o+1]=p[1];d[o+2]=p[2];d[o+3]=p[3];i++;}}
 octx.putImageData(im,0,0);
 ctx.drawImage(oc,L,T,W,H);
}
const RP=[4379, 4477, 4253, 4476, 3958, 4433, 4174, 4417, 4326, 4387, 4324, 4452, 4218, 4440, 4143, 4428, 4500, 4110, 4205, 4477, 4037, 4274, 4199, 4461, 4092, 4463, 4025, 4403, 4021, 4311, 4204, 4367, 4214, 4463, 4293, 4421, 4282, 4487, 4360, 4466, 4225, 4424, 4258, 4458, 4128, 4245, 4273, 4482, 4305, 4370, 4162, 4393, 4614, 3820, 4218, 4469, 4267, 4471, 4344, 4222, 4245, 4465, 4271, 4436, 4264, 4458, 4262, 4459, 4190, 4455, 4118, 4318, 4170, 4380, 4129, 4368, 4257, 4440, 4186, 4416, 4339, 4282, 4056, 4451, 4269, 4474, 4220, 4483, 4347, 4343, 4288, 4459, 4375, 4476, 4144, 4443, 4146, 4470, 4069, 4452, 4228, 4465, 4194, 4474, 4248, 4471, 4130, 4175, 4341, 4363, 4138, 4370, 4270, 4424, 4176, 4436, 4136, 4397, 4210, 4415, 4283, 4468, 4390, 4480, 4206, 4431, 4320, 4348, 4114, 4448, 4192, 4385, 4126, 4382, 4369, 4481, 4202, 4465, 4132, 4352, 4300, 4344, 4172, 4455, 4376, 4473, 4211, 4393, 4266, 4479, 4191, 4379, 4212, 4372, 4269, 4469, 3728, 4176, 4181, 4251, 4276, 4457, 4304, 4452, 4090, 4280, 4326, 4445, 4186, 4364, 4315, 4417, 4150, 4469, 4503, 4267, 4178, 4419, 4301, 4392, 4003, 4347, 4223, 4481, 4404, 4460, 4341, 4473, 4223, 4469, 4157, 4381, 4106, 4448, 4382, 4188, 4302, 4435, 4490, 3890, 4358, 4375, 4477, 4230, 4209, 4482, 4114, 4423, 4205, 4444, 4322, 4339, 4305, 4475, 4146, 4431, 4171, 4380, 4292, 4463, 4253, 4487, 4185, 4463, 4291, 4367, 4220, 4444, 4325, 4420, 4166, 4456, 4343, 4450, 4145, 4446, 4257, 4480, 4005, 4393, 4542, 3763, 4278, 4365, 4307, 4464, 4212, 4465, 4149, 4393, 4252, 4424, 4344, 4477, 4298, 4473, 4276, 4350, 4156, 4472, 4382, 4320, 4082, 4336, 4131, 4112, 4225, 4443, 4025, 4426, 4059, 4291, 4212, 4470, 4313, 4358, 4204, 4371, 4137, 4425, 4298, 4389, 4212, 4466, 4270, 4334, 4288, 4452, 4315, 4407, 4300, 4449, 4300, 4277, 4181, 4355, 4206, 4458, 4501, 4235, 4127, 4311, 4278, 4464, 4325, 4340, 4283, 4397, 4157, 4303, 4113, 4271, 4297, 4449, 4032, 4361, 4148, 4249, 4012, 4135, 4082, 4345, 4144, 4133, 4226, 4451, 4188, 4388, 4298, 4469, 3971, 4324, 4392, 4466, 4242, 4483, 4067, 4267, 4366, 4446, 4243, 4461, 4233, 4445, 4170, 4233, 4150, 4453, 4079, 4460, 4268, 4428, 4262, 4429, 4153, 4414, 4245, 4464, 4236, 4464, 4145, 4452, 4317, 4463, 4220, 4473, 4263, 4460, 4170, 4412, 4216, 4403, 4296, 4465, 4321, 4463, 4273, 4402, 4325, 4258, 4188, 4444, 4268, 4429, 4149, 4439, 4367, 4471, 4165, 4382, 4320, 4448, 4157, 4434, 4205, 4449, 4316, 4474, 4157, 4480, 4077, 4198, 4376, 4348, 4223, 4421, 4169, 4467, 4241, 4476, 4379, 4347, 4298, 4381, 4131, 4462, 4296, 4465, 4196, 4425, 4298, 4434, 4253, 4459, 4363, 4428, 4220, 4485, 4284, 4455, 4117, 4301, 4281, 4460, 4177, 4425, 4085, 4466, 4118, 4232, 4254, 4484, 4285, 4384, 4107, 4382, 4376, 4363, 4181, 4474, 4295, 4465, 4275, 4444, 4171, 4448, 4175, 4452, 4477, 4304, 4296, 4434, 4191, 4460, 4175, 4418, 4520, 3905, 4142, 4411, 4257, 4486, 3968, 4385, 4319, 4444, 4026, 4344, 4205, 4469, 4202, 4447, 4056, 4223, 4253, 4451, 4256, 4479, 4183, 4236, 4283, 4449, 4306, 4462, 4361, 4441, 4145, 4437, 4328, 4305, 4334, 4445, 4275, 4370, 4326, 4450, 4183, 4476, 4166, 4383, 4426, 4357, 4204, 4470, 4194, 4464, 4135, 4141, 4126, 4423, 4178, 4446, 4149, 4468, 4136, 4440, 4199, 4458, 4404, 4475, 4268, 4459, 4287, 4475, 4257, 4487, 4367, 4070, 4466, 4178, 4246, 4473, 4129, 4031, 4345, 4422, 4284, 4418, 4277, 4469, 4318, 4443, 4201, 4459, 4133, 4476, 4136, 4379, 4194, 4324, 4272, 4375, 4305, 4417, 4167, 4403, 4310, 4397, 4231, 4448, 4146, 4424, 4447, 4207, 4177, 4434, 4181, 4426, 4311, 4413, 4443, 4428, 4028, 4405, 4268, 4431, 4273, 4463, 4288, 4441, 4097, 4433, 4282, 4432, 4086, 4463, 4198, 4432, 4369, 4284, 4123, 4452, 4275, 4374, 4281, 4452, 4200, 4426, 4352, 4427, 4263, 4442, 4274, 4428, 4068, 4470, 4331, 4395, 4270, 4468, 4544, 4422, 4086, 4155, 4457, 4446, 4282, 4454, 4207, 4446, 4150, 4369, 4214, 4467, 4206, 4388, 4664, 4237, 4375, 4454, 4206, 4466, 4192, 4464, 4175, 4459, 4256, 4477, 4254, 4468, 4250, 4461, 4259, 4464, 4327, 4462, 4193, 4414, 4176, 4463, 4421, 4224, 4166, 4464, 4081, 4426, 4220, 4460, 4274, 4443, 4266, 4481, 4086, 4389, 4463, 4242, 4166, 4474, 4346, 4450, 4222, 4475, 4259, 4448, 4258, 4430, 4364, 4423, 4212, 4457, 4223, 4454, 4206, 4411, 4527, 4329, 4148, 4466, 4058, 4382, 4258, 4446, 4311, 4353, 4168, 4459, 4094, 4345, 4161, 4260, 4139, 4393, 4303, 4367, 4424, 4413, 4123, 4461, 4286, 4474, 4267, 4459, 4065, 4347, 4375, 4348, 4104, 4403, 4254, 4471, 4241, 4476, 4385, 4468, 4146, 4445, 4392, 4410, 4284, 4442, 4317, 4456, 4288, 4461, 4290, 4398, 4215, 4460, 4263, 4464, 4361, 4434, 4187, 4421, 4246, 4486, 4133, 4468, 3689, 4173, 4245, 4469, 4058, 4358, 4162, 4473, 4216, 4471, 4144, 4467, 4130, 4409, 3988, 3959, 4151, 4427, 4098, 4442, 4268, 4477, 4265, 4475, 4274, 4476, 4409, 4303, 4268, 4466, 4105, 4339, 4384, 4431, 4296, 4385, 4379, 4408, 4110, 4363, 4284, 4470, 4171, 4418, 4159, 4362, 4163, 4399, 4143, 4445, 4132, 4446, 4176, 4454, 4323, 4429, 4204, 4465, 4153, 4417, 4203, 4390, 4375, 4310, 4272, 4421, 4314, 4283, 4173, 4308, 4041, 4469, 4057, 4417, 4202, 4467, 4085, 4448, 4575, 3683, 4216, 4457, 4455, 4456, 4307, 4438, 4207, 4461, 4300, 4438, 4289, 4417, 4206, 4396, 4287, 4464, 4121, 4479, 3944, 4224, 4301, 4446, 4151, 4429, 4196, 4426, 4317, 4463, 4281, 4425, 4170, 4378, 4074, 4470, 4291, 4441, 4199, 4435, 4154, 4450, 4194, 4422, 4274, 4441, 4165, 4338, 4303, 4453, 4127, 4126, 4323, 4420, 4318, 4371, 4155, 4391, 4302, 4468, 4321, 4257, 4208, 4459, 4142, 4355, 3986, 4316, 4364, 4161, 4201, 4445, 4266, 4430, 4070, 4185, 4377, 4475, 4115, 4238, 4145, 4426, 4139, 4462, 4205, 4470, 3951, 4011, 4126, 4440, 4357, 4399, 4256, 4450, 4301, 4398, 4316, 4445, 4166, 4442, 4165, 4487, 4274, 4383, 4389, 4474, 4493, 4454, 4331, 4449, 4128, 4369, 4086, 4318, 4208, 4459, 4207, 4465, 4228, 4471, 4288, 4389, 4148, 4259, 4177, 4414, 4200, 4424, 4202, 4437, 4171, 4449, 4189, 4462, 4280, 4371, 4155, 4466, 4257, 4463, 4187, 4476, 4134, 4425, 4070, 4273, 4342, 4451, 4351, 4476, 4169, 4355, 4195, 4475, 4270, 4401, 4187, 4480, 4330, 4451, 4220, 4466, 4318, 4439, 4272, 4468, 4349, 4309, 4109, 4451, 4297, 4428, 4198, 4469, 4183, 4463, 4281, 4393, 4119, 4447, 4152, 4386, 4385, 4337, 4165, 4467, 4030, 4029, 4218, 4474, 4317, 4451, 4125, 4217, 4124, 4410, 4279, 4464, 4199, 4380, 4087, 4239, 4320, 4477, 4122, 4428, 4117, 4321, 4128, 4449, 4360, 4308, 4174, 4454, 4053, 4467, 4358, 4466, 4254, 4429, 4445, 4333, 4099, 4477, 4208, 4411, 4271, 4476, 4276, 4458, 4025, 3614, 4117, 4475, 4285, 4475, 4155, 4478, 4221, 4461, 4098, 4313, 4183, 4459, 4071, 4237, 4153, 4458, 4337, 4469, 4194, 4343, 4437, 4321, 4135, 4422, 4262, 4436, 4373, 4380, 4115, 4351, 4390, 4340, 4324, 4456, 4355, 4416, 4157, 4327, 4177, 4464, 4327, 4373, 4370, 4393, 4198, 4435, 4213, 4440, 4156, 4424, 4385, 4279, 4134, 4341, 4158, 4382, 4291, 4459, 4221, 4448, 4153, 4381, 4174, 4405, 4193, 4472, 4192, 4358, 4309, 4477, 4152, 4456, 4179, 4471, 4447, 4422, 4186, 4349, 4256, 4470, 4256, 4452, 4276, 4324, 4185, 4357, 4311, 4346, 4323, 4449, 4154, 4193, 4185, 4394, 4338, 4381, 4151, 4442, 4205, 4412, 4024, 4351, 4103, 4229, 4461, 4263, 4154, 4432, 4083, 4394, 4269, 4470, 4325, 4404, 4328, 4417, 4217, 4484, 3990, 4354, 4362, 4419, 4180, 4448, 4135, 4175, 4305, 4324, 4168, 4397, 4279, 4451, 4270, 4476, 4327, 4396, 4305, 4458, 4225, 4453, 4239, 4479, 4295, 4463, 4372, 4477, 4159, 4483, 4186, 4470, 4294, 4458, 4101, 4472, 4206, 4451, 4140, 4452, 4221, 4486, 4161, 4469, 4221, 4466, 4121, 4478, 4285, 4433, 4289, 4385, 4206, 4463, 4216, 4466, 4168, 4375, 4308, 4340, 4374, 4429, 4165, 4433, 4356, 4415, 4191, 4332, 4282, 4467, 4157, 4444, 4160, 4262, 4195, 4472, 3944, 4282, 4120, 4451, 4216, 4458, 4104, 4474, 4036, 4168, 4122, 4454, 4208, 4470, 4348, 4474, 4233, 4474, 3990, 4266, 4340, 4430, 4267, 4441, 4199, 4443, 4247, 4467, 4243, 4479, 4325, 4314, 4185, 4455, 4123, 4360, 4167, 4443, 4322, 4467, 4405, 4188, 4051, 4218, 4165, 4433, 4161, 4316, 4258, 4475, 4278, 4441, 4156, 4261, 4303, 4463, 4276, 4447, 4265, 4470, 4206, 4439, 4361, 4466, 4205, 4336, 4358, 4445, 4111, 4276, 4273, 4466, 4168, 4413, 4059, 4428, 4103, 4479, 4104, 4377, 3941, 4313, 4132, 4467, 4286, 4475, 4078, 4430, 4348, 4483, 4184, 4423, 4147, 4437, 4282, 4461, 4216, 4442, 4264, 4465, 4203, 4401, 4400, 3863, 4294, 4378, 4095, 4326, 4179, 4472, 4206, 4486, 4284, 4450, 4438, 3678, 4189, 4459, 4432, 4454, 4247, 4451, 4206, 4472, 4225, 4467, 4050, 4302, 4355, 4397, 4152, 4444, 4013, 4422, 4357, 4390, 4339, 4482, 4520, 4087, 4248, 4448, 4177, 4471, 4223, 4482, 4158, 4215, 4232, 4451, 4210, 4424, 4152, 4409, 4453, 4312, 4184, 4319, 4260, 4436, 4323, 4446, 4164, 4412, 4361, 4297, 4268, 4481, 4005, 4426, 4656, 3760, 4309, 4428, 4099, 4320, 4161, 4463, 4167, 4432, 4454, 3816, 4263, 4451, 4347, 4443, 4133, 4423, 4212, 4471, 4261, 4461, 4413, 4402, 4051, 4342, 4266, 4461, 4073, 4456, 4323, 4439, 4359, 4464, 4288, 4444, 4214, 4420, 4313, 4447, 4245, 4475, 4189, 4413, 4136, 4338, 4282, 4477, 4318, 4306, 4208, 4442, 4320, 4446, 4273, 4452, 4131, 4221, 4154, 4397, 4212, 4453, 4034, 4348, 4097, 4462, 4134, 4471, 4184, 4473, 4190, 4389, 4644, 4249, 4221, 4443, 4098, 4361, 4158, 4130, 4255, 4475, 4101, 4366, 4181, 4395, 4378, 4456, 4357, 4426, 4256, 4475, 4151, 4405, 4201, 4476, 4156, 4345, 4097, 4476, 4243, 4480, 4238, 4483, 4074, 4377, 4200, 4480, 4355, 4330, 4272, 4462, 4292, 4417, 4466, 4450, 4165, 4456, 4221, 4480, 4315, 4390, 4186, 4455, 4218, 4436, 4055, 4428, 4164, 4394, 4168, 4467, 4146, 4447, 4210, 4466, 4180, 4458, 4308, 4438, 3881, 4426, 4140, 4447, 4175, 4407, 4202, 4458, 4199, 4431, 4264, 4400, 4189, 4465, 4306, 4379, 4300, 4399, 4153, 4451, 4218, 4467, 4587, 3686, 4202, 4472, 4221, 4476, 4301, 4435, 4296, 4478, 4011, 4476, 4083, 4229, 4122, 4363, 4285, 4348, 4189, 4425, 4203, 4461, 4168, 4468, 4158, 4423, 4153, 4292, 4248, 4474, 4158, 4141, 4314, 4477, 4385, 4435, 4202, 4399, 4280, 4476, 4079, 4251, 4359, 4484, 4156, 4461, 4444, 4468, 4302, 4455, 4224, 4463, 4145, 4277, 4483, 4247, 4206, 4431, 4063, 4475, 4146, 4369, 4411, 4139, 4062, 4444, 4301, 4389, 4292, 4439, 4146, 4445, 4332, 4350, 4277, 4438, 4267, 4421, 4268, 4451, 4152, 4434, 4502, 4381, 4217, 4457, 4122, 4408, 4303, 4444, 4178, 4468, 4192, 4405, 4073, 4428, 4361, 4378, 4110, 4381, 4294, 4457, 4213, 4399, 4082, 4126, 4324, 4330, 4254, 4422, 4336, 4246, 4368, 4442, 4279, 4415, 4164, 4470, 4290, 4343, 4376, 4441, 4162, 4441, 4338, 4386, 4262, 4432, 4195, 4473, 4267, 4459, 3920, 4106, 3803, 4180, 4293, 4445, 4147, 4397, 4243, 4468, 4191, 4468, 4312, 4443, 4298, 4332, 4188, 4465, 4283, 4364, 4083, 4066, 4193, 4445, 4267, 4485, 4121, 4334, 4216, 4444, 4153, 4432, 4186, 4423, 4127, 4174, 4099, 4356, 4186, 4465, 4322, 4354, 4421, 4206, 4146, 4486, 4275, 4356, 3956, 4172, 4404, 4278, 4139, 4383, 4584, 4008, 4201, 4382, 4321, 4453, 4206, 4442, 4171, 4473, 4349, 4445, 4181, 4416, 4374, 4467, 4140, 4399, 4331, 4459, 4191, 4436, 4386, 4303, 4224, 4443, 4276, 4466, 3976, 4044, 4029, 4246, 4258, 4473, 4050, 4397, 4181, 4454, 4227, 4476, 4312, 4443, 4341, 4389, 3933, 4302, 4375, 4289, 4167, 4475, 4473, 4331, 4325, 4239, 4200, 4429, 4120, 4367, 4312, 4405, 4278, 4437, 4328, 4467, 4376, 4471, 3785, 3847, 4155, 4371, 4428, 4455, 4016, 4449, 4332, 4447, 4359, 4351, 4341, 4465, 4308, 4471, 4295, 4476, 4525, 4400, 4155, 4435, 4103, 4352, 4271, 4454, 4068, 4355, 4203, 4475, 4185, 4282, 4189, 4472, 4188, 4466, 4299, 4453, 4183, 4465, 4163, 4343, 4320, 4447, 4151, 4456, 4176, 4423, 4190, 4467, 4199, 4415, 4050, 4091, 4173, 4374, 4323, 4228, 4217, 4480, 4267, 4461, 4303, 4463, 4107, 4448, 4209, 4484, 4292, 4464, 4299, 4365, 4243, 4471, 4267, 4483, 4371, 4450, 4091, 4434, 4184, 4463, 4299, 4439, 4081, 4435, 4293, 4465, 4296, 4434, 4190, 4483, 4253, 4451, 4256, 4477, 4024, 4110, 4156, 4391, 4285, 4445, 4176, 4349, 4141, 4213, 4213, 4465, 4150, 4420, 4310, 4316, 4133, 4423, 4337, 4464, 4183, 4455, 4114, 4325, 4258, 4454, 4151, 4406, 4325, 4425, 4373, 4314, 4156, 4432, 4130, 4431, 4201, 4456, 4340, 4470, 4169, 4468, 4178, 4398, 4151, 4465, 4182, 4464, 4405, 4247, 4323, 4294, 4460, 3976, 4205, 4466, 4188, 4437, 4214, 4478, 3976, 4361, 4180, 4485, 4299, 4481, 4252, 4479, 4080, 4241, 4277, 4473, 4352, 4370, 4490, 4394, 4189, 4420, 4402, 4337, 4225, 4466, 4378, 4444, 4274, 4463, 4135, 4385, 4359, 4471, 4192, 4479, 4353, 4428, 4128, 4466, 4395, 4384, 4269, 4450, 4178, 4437, 4216, 4461, 4196, 4371, 4074, 4179, 4296, 4388, 4189, 4412, 4389, 4446, 4235, 4390, 4095, 4457, 4059, 4446, 4347, 4474, 4209, 4486, 4273, 4406, 4134, 4447, 4278, 4456, 4135, 4420, 4208, 4454, 4195, 4373, 3990, 3781, 4162, 4441, 4351, 4402, 4102, 4384, 4356, 4366, 4194, 4397, 4217, 4469, 4208, 4458, 4298, 4479, 4200, 4473, 4208, 4398, 4214, 4444, 4273, 4442, 4180, 4446, 4384, 4341, 4040, 4046, 4189, 4406, 3908, 4141, 4307, 4406, 4246, 4468, 4202, 4464, 4053, 4418, 4185, 4469, 4196, 4414, 4182, 4469, 4206, 4407, 4296, 4434, 4111, 4471, 4630, 3712, 4140, 4336, 3960, 4373, 4300, 4445, 4203, 4429, 4150, 4425, 4261, 4447, 4136, 4420, 4184, 4441, 4294, 4467, 4155, 4428, 4287, 4430, 4272, 4425, 4296, 4455, 4302, 4346, 4278, 4472, 4141, 4427, 4358, 4456, 4205, 4446, 4186, 4470, 4190, 4407, 4186, 4445, 4319, 4407, 4306, 4451, 4177, 4478, 4179, 4426, 4022, 4303, 4203, 4467, 4185, 4436, 4178, 4360, 4357, 4383, 4165, 4353, 4247, 4463, 4286, 4421, 4091, 4403, 4220, 4478, 4239, 4458, 4191, 4484, 4360, 4388, 4013, 4167, 4228, 4486, 4259, 4466, 4176, 4470, 4200, 4373, 4218, 4437, 4315, 4465, 4293, 4477, 4171, 4455, 4088, 4449, 4249, 4466, 4336, 4470, 4282, 4374, 4107, 4456, 4183, 4397, 4251, 4456, 4334, 4485, 4292, 4423, 4125, 4414, 4208, 4453, 4098, 4402, 4267, 4476, 4157, 4445, 4221, 4440, 4057, 4399, 4328, 4351, 4187, 4460, 4308, 4391, 4060, 4392, 4024, 4402, 4212, 4430, 4085, 4166, 4529, 4232, 4223, 4487, 4181, 4420, 4245, 4480, 4435, 3931, 4093, 4452, 4242, 4485, 4301, 4336, 4165, 4380, 4216, 4471, 4238, 4481, 4121, 4465, 4166, 4460, 4155, 4432, 4171, 4447, 4111, 4324, 4108, 4152, 4196, 4474, 4281, 4417, 4065, 4407, 4365, 4446, 4251, 4460, 4293, 4469, 4146, 4294, 4173, 4289, 4419, 4365, 4646, 4066, 4370, 4435, 4047, 4441, 4306, 4313, 4158, 4448, 4173, 4453, 4127, 4262, 4247, 4463, 4124, 4453, 4145, 4475, 4218, 4474, 4282, 4383, 4288, 4436, 4191, 4385, 4118, 4416, 4106, 4210, 4358, 4469, 4316, 4436, 4417, 4216, 4282, 4389, 3978, 4480, 4135, 4460, 4252, 4470, 4175, 4310, 4238, 4466, 4217, 4397, 4106, 4466, 4211, 4462, 4171, 4354, 4577, 4184, 4092, 4390, 4171, 4365, 4324, 4422, 4179, 4479, 4296, 4436, 4353, 4377, 4168, 4347, 4124, 4475, 4166, 4434, 4130, 4268, 4209, 4444, 4144, 4429, 4172, 4471, 4151, 4464, 4196, 4472, 4283, 4476, 4343, 4416, 4191, 4444, 3888, 4159, 4153, 4279, 4271, 4454, 4088, 4330, 4380, 4430, 4199, 4440, 4311, 4374, 4179, 4421, 4204, 4475, 4247, 4467, 4338, 4469, 4276, 4454, 4321, 4478, 4198, 4279, 4466, 4300, 3998, 4261, 4227, 4459, 4368, 4361, 4288, 4463, 4195, 4463, 4279, 4434, 4372, 4435, 4257, 4457, 4125, 4436, 4348, 4346, 4196, 4432, 4324, 4473, 4271, 4420, 4139, 4362, 3848, 4290, 4307, 4472, 4210, 4391, 4216, 4446, 4241, 4460, 4168, 4381, 4328, 4345, 4050, 4124, 4297, 4439, 4100, 4352, 4347, 4369, 4260, 4440, 4423, 4405, 4271, 4432, 4108, 4444, 4124, 4401, 4076, 4394, 4262, 4463, 4200, 4485, 4288, 4472, 4093, 4471, 4301, 4435, 4149, 4234, 4257, 4449, 4266, 4449, 4120, 4466, 4299, 4475, 4006, 4392, 4332, 4408, 4163, 4455, 4218, 4479, 4177, 4400, 4263, 4466, 4178, 4436, 4136, 4398, 4248, 4468, 4107, 4201, 4536, 3975, 4386, 4293, 4178, 4325, 4199, 4419, 4319, 4277, 4408, 4450, 4179, 4438, 4152, 4102, 4276, 4476, 4316, 4405, 4185, 4476, 4335, 4446, 4171, 4475, 4310, 4444, 4324, 4380, 4323, 4366, 4121, 4408, 4291, 4452, 4297, 4463, 4422, 4293, 4200, 4405, 3933, 4376, 4105, 4475, 4427, 4425, 4314, 4468, 4353, 4470, 4422, 4351, 4211, 4471, 4180, 4473, 4187, 4437, 4163, 4460, 4180, 4332, 4118, 4439, 4166, 4434, 4004, 4265, 4270, 4460, 4320, 4431, 4170, 4468, 4238, 4472, 4288, 4444, 4207, 4479, 4298, 4438, 4325, 4426, 4313, 4301, 4336, 4475, 4285, 4369, 4237, 4450, 4184, 4319, 4349, 4454, 4334, 4470, 4272, 4462, 4096, 4392, 4254, 4421, 4290, 4474, 4301, 4457, 4190, 4407, 4150, 4440, 4319, 4459, 4217, 4462, 4322, 4395, 4189, 4421, 4242, 4361, 4132, 4169, 4274, 4372, 4208, 4461, 4249, 4462, 4159, 4353, 4300, 4454, 4164, 4443, 4107, 4409, 4351, 4377, 4125, 4433, 4287, 4382, 4219, 4437, 4203, 4468, 4171, 4435, 4096, 4452, 4289, 4474, 4315, 4337, 4172, 4415, 4123, 4375, 4265, 4416, 4193, 4419, 4043, 4015, 4304, 4416, 4336, 4368, 4165, 4359, 4035, 4420, 4020, 4423, 4297, 4425, 4287, 4446, 4491, 4036, 4296, 4466, 4061, 4226, 4287, 4473, 4299, 4451, 4267, 4472, 4219, 4458, 4279, 4438, 4338, 4257, 4385, 4339, 4209, 4464, 4001, 4334, 4329, 4435, 4276, 4472, 4242, 4481, 4129, 4434, 4332, 4447, 4383, 4410, 4293, 4473, 4173, 4456, 4073, 4123, 4293, 4475, 4210, 4472, 4194, 4441, 3748, 4426, 4212, 4444, 4547, 4265, 4137, 4311, 4350, 4391, 4189, 4425, 4270, 4433, 4085, 4402, 4317, 4474, 4406, 4472, 4183, 4480, 3709, 4003, 4402, 4431, 4208, 4476, 4311, 4436, 4231, 4480, 4146, 4397, 4120, 4453, 4081, 4443, 4139, 4269, 3994, 4446, 4156, 4476, 4163, 4451, 4150, 4259, 4137, 4284, 4309, 4453, 4272, 4430, 4099, 4444, 4228, 4473, 4207, 4450, 4163, 4457, 4162, 4380, 4289, 4449, 4304, 4390, 4209, 4473, 4213, 4455, 4183, 4438, 4341, 4329, 4333, 4469, 4349, 4436, 4323, 4457, 4005, 4338, 4425, 4197, 4206, 4401, 4066, 4318, 3972, 4465, 4378, 4474, 4019, 4466, 4198, 4451, 4162, 4450, 4301, 4424, 4251, 4470, 4411, 4443, 4125, 4474, 4304, 4450, 4205, 4477, 4137, 4377, 4171, 4441, 4340, 4361, 4125, 4388, 4186, 4422, 4184, 4440, 4043, 4064, 3879, 4198, 4197, 4418, 4261, 4475, 4013, 4266, 4161, 4470, 4086, 4458, 4301, 4475, 4318, 4429, 4200, 4474, 4249, 4438, 4266, 4462, 4281, 4400, 4102, 4406, 4227, 4476, 4270, 4484, 4110, 4372, 3987, 4347, 4306, 4401, 4332, 4199, 4324, 4313, 4187, 4419, 4218, 4465, 4332, 4380, 4377, 4390, 4064, 4463, 3973, 4131, 4160, 4457, 4201, 4465, 4414, 4315, 4152, 4340, 4302, 4382, 4403, 4381, 4205, 4424, 4374, 4308, 4040, 3670, 4035, 4359, 4202, 4434, 4213, 4470, 4220, 4446, 4187, 4468, 4097, 4439, 4286, 4398, 4092, 4309, 4544, 4240, 4458, 4417, 4066, 4365, 4136, 4388, 4188, 4375, 4031, 4228, 4004, 4368, 4096, 4273, 4131, 4444, 4178, 4469, 4264, 4432, 4376, 4417, 4286, 4482, 4270, 4390, 4307, 4472, 4211, 4426, 4086, 4356, 4288, 4437, 3769, 4262, 4179, 4425, 4132, 4440, 4535, 4182, 4376, 4387, 4288, 4389, 4323, 4470, 4447, 4429, 4003, 3960, 4148, 4423, 4221, 4459, 4251, 4456, 4023, 4323, 4062, 3503, 4197, 4475, 4414, 4421, 3981, 4408, 4143, 4386, 4137, 4414, 4199, 4472, 4257, 4461, 4462, 4404, 4146, 4452, 4214, 4460, 4269, 4468, 4145, 4390, 4184, 4468, 4163, 4361, 3900, 4035, 4208, 4465, 4304, 4445, 4613, 4102, 4065, 4455, 4210, 4446, 4210, 4461, 4105, 4231, 4190, 4465, 4232, 4449, 4257, 4441, 4120, 4438, 4176, 4432, 4209, 4413, 4160, 4422, 4144, 4232, 4184, 4472, 4210, 4474, 4123, 4386, 4284, 4447, 4281, 4466, 4406, 4233, 4285, 4446, 4346, 4457, 3721, 3890, 4300, 4477, 4162, 4448, 4295, 4467, 4223, 4470, 4369, 4400, 4203, 4445, 4144, 4364, 4339, 4367, 4336, 4289, 4189, 4352, 4251, 4477, 4302, 4370, 4189, 4482, 4295, 4449, 4284, 4455, 4187, 4328, 4433, 4447, 4192, 4434, 4159, 4419, 4218, 4450, 4335, 4470, 4328, 4387, 4215, 4423, 4200, 4401, 4165, 4437, 4140, 4268, 4175, 4199, 4465, 4453, 4216, 4471, 4156, 4445, 3804, 4033, 4183, 4465, 3995, 4379, 4342, 4337, 4154, 4386, 4132, 4373, 4232, 4475, 4311, 4485, 3967, 4368, 4146, 4460, 4339, 4422, 4139, 4410, 4147, 4439, 4106, 4268, 4262, 4477, 4138, 4329, 4175, 4446, 4241, 4411, 4112, 4311, 4167, 4369, 4203, 4452, 4313, 4466, 4366, 4459, 4297, 4313, 4287, 4421, 3763, 4106, 4318, 4412, 4118, 4403, 4097, 4207, 4524, 4352, 4212, 4449, 4236, 4487, 4127, 4418, 4314, 4422, 4161, 4463, 4160, 4386, 4184, 4397, 4281, 4373, 4193, 4428, 4197, 4448, 4183, 4372, 4284, 4481, 4121, 4431, 4280, 4386, 4380, 4460, 4435, 4230, 3964, 4345, 4081, 4421, 4132, 4382, 4160, 4466, 4266, 4425, 4114, 4375, 4272, 4459, 4286, 4329, 4086, 4469, 4281, 4482, 4152, 4463, 4414, 4344, 4139, 4404, 4322, 4417, 4321, 4415, 4254, 4468, 4256, 4458, 4063, 4466, 4145, 4455, 4292, 4430, 4208, 4456, 4129, 4328, 4259, 4432, 4157, 4401, 4208, 4475, 4203, 4424, 4530, 4379, 4323, 4448, 4115, 4472, 4368, 4378, 4130, 4471, 4156, 4413, 4176, 4445, 4170, 4411, 4321, 4485, 4203, 4476, 4193, 4410, 4182, 4446, 4304, 4437, 4354, 4360, 4250, 4476, 4183, 4425, 4131, 4476, 4131, 4348, 4141, 4406, 4306, 4427, 4305, 4430, 4173, 4394, 4140, 4374, 4179, 4398, 4022, 4385, 4287, 4372, 4309, 4434, 4350, 4291, 4633, 4111, 4328, 4432, 4211, 4473, 4193, 4484, 4136, 4475, 4292, 4349, 4306, 4431, 4182, 4311, 4276, 4443, 4287, 4428, 4289, 4367, 4193, 4460, 4320, 4454, 4175, 4485, 4274, 4404, 4186, 4476, 4091, 4268, 4028, 4348, 4341, 4403, 4322, 4461, 4268, 4477, 4164, 4442, 4130, 4447, 4183, 4395, 4197, 4443, 4353, 4437, 4295, 4417, 4180, 4460, 4450, 4385, 4211, 4483, 4260, 4451, 4284, 4420, 4251, 4433, 4301, 4299, 4126, 4271, 4309, 4476, 4313, 4399, 4315, 4428, 4232, 4481, 4217, 4485, 4229, 4464, 4225, 4451, 4252, 4442, 4173, 4420, 4285, 4469, 4284, 4471, 4196, 4485, 4261, 4469, 4477, 4390, 4169, 4442, 4362, 4448, 4295, 4468, 4272, 4470, 4181, 4351, 4251, 4453, 4190, 4354, 4165, 4415, 4205, 4459, 4163, 4427, 4147, 4343, 4229, 4471, 4348, 4284, 4132, 4443, 4256, 4436, 4355, 4366, 4521, 4411, 4314, 4441, 4102, 4471, 4266, 4476, 4399, 4463, 4485, 4378, 4548, 3945, 3992, 4226, 4339, 4335, 4116, 4454, 4164, 4240, 4184, 4415, 4340, 4478, 4127, 4469, 4089, 4437, 4261, 4470, 4240, 4451, 4318, 4451, 4280, 4396, 4121, 4341, 4153, 4405, 4180, 4373, 4309, 4456, 4221, 4474, 4140, 4456, 4266, 4393, 4141, 4476, 4384, 4476, 4360, 4455, 4359, 4442, 4311, 4368, 4363, 4338, 4381, 4323, 4129, 4479, 4431, 4440, 4297, 4475, 4220, 4426, 4356, 4332, 4263, 4438, 4256, 4462, 4258, 4459, 4128, 4465, 4266, 4467, 4200, 4424, 4284, 4470, 4136, 4289, 4264, 4468, 4278, 4436, 4306, 4408, 4405, 4291, 4231, 4481, 4285, 4377, 4120, 4462, 4182, 4473, 4061, 4250, 4090, 4253, 4153, 4476, 4187, 4466, 4395, 4051, 4178, 4427, 4187, 4445, 4195, 4460, 4204, 4426, 4174, 4434, 4252, 4476, 4303, 4460, 4318, 4460, 4098, 4242, 4324, 4339, 4274, 4410, 4437, 4242, 4174, 4436, 4325, 4333, 4163, 4461, 4284, 4454, 4089, 4354, 4387, 4405, 3996, 4231, 4077, 4407, 4261, 4457, 4161, 4338, 4205, 4477, 4276, 4417, 4177, 4422, 4271, 4461, 4193, 4383, 4133, 4386, 4329, 4422, 4308, 4455, 4315, 4450, 4194, 4476, 3978, 4379, 3853, 4462, 4330, 4385, 4346, 4443, 4211, 4440, 4145, 4347, 4175, 4378, 4187, 4420, 4300, 4431, 4102, 4338, 4257, 4477, 4262, 4451, 4335, 4452, 4250, 4449, 4216, 4460, 4287, 4474, 4267, 4452, 4328, 4443, 4193, 4472, 4390, 4356, 4277, 4354, 4187, 4422, 4288, 4457, 4086, 4203, 4204, 4471, 4270, 4415, 4307, 4372, 4174, 4295, 4214, 4475, 4542, 4271, 4217, 4424, 4249, 4452, 4515, 4304, 4137, 4471, 4172, 4403, 4321, 4471, 4163, 4472, 4298, 4448, 4376, 4282, 4545, 4120, 4113, 4453, 4354, 4453, 4194, 4444, 4360, 4451, 4175, 4473, 4129, 4256, 4714, 4212, 4213, 4467, 4029, 4056, 4173, 4484, 4137, 4307, 4174, 4344, 4150, 4462, 4314, 4413, 4169, 4428, 4256, 4466, 4292, 4474, 4166, 4293, 4294, 4465, 4162, 4401, 4425, 4360, 4137, 4412, 4278, 4467, 4283, 4443, 4265, 4410, 4348, 4461, 4365, 4369, 4272, 4440, 4243, 4480, 4288, 4470, 4132, 4434, 4400, 3884, 4288, 4456, 4045, 4305, 4089, 4455, 4175, 4465, 3972, 4198, 4109, 4337, 4109, 4414, 4452, 4427, 4459, 4310, 3993, 3976, 4444, 4453, 4175, 4389, 4312, 4462, 4110, 4466, 4265, 4482, 4177, 4474, 4174, 4411, 4168, 4473, 4257, 4438, 4307, 4445, 4327, 4296, 4246, 4460, 4149, 4428, 4288, 4479, 4279, 4472, 4206, 4478, 4138, 4345, 4334, 4478, 4192, 4404, 3931, 4079, 4341, 4479, 3965, 4391, 4204, 4470, 4264, 4483, 4266, 4441, 4127, 4398, 4189, 4401, 4202, 4363, 4280, 4432, 4107, 4408, 4111, 4443, 3940, 4136, 4134, 4412, 4114, 4336, 4335, 4477, 4255, 4475, 4293, 4474, 4224, 4366, 4165, 4465, 4275, 4472, 4383, 4457, 4197, 4391, 4317, 4432, 4290, 4278, 4139, 4464, 4145, 4441, 4296, 4445, 4300, 4419, 4291, 4465, 4221, 4467, 4196, 4285, 4078, 4430, 4211, 4450, 4211, 4428, 4285, 4470, 4174, 4450, 4165, 4472, 4191, 4474, 4330, 4312, 4383, 4435, 4141, 4473, 4412, 4388, 4185, 4478, 4183, 4294, 4139, 4384, 4266, 4437, 4267, 4430, 4273, 4406, 4281, 4462, 4113, 4225, 4173, 4479, 4180, 4474, 4031, 4203, 4296, 4462, 4274, 4430, 4165, 4382, 4269, 4457, 4324, 4281, 4128, 4454, 4184, 4435, 4184, 4482, 4282, 4434, 4079, 4444, 4175, 4323, 4166, 4467, 4344, 4374, 4093, 4331, 4191, 4420, 4294, 4409, 4205, 4379, 4202, 4455, 4210, 4440, 4297, 4477, 4288, 4415, 4039, 3715, 4279, 4476, 4214, 4474, 4174, 4419, 4275, 4416, 4185, 4399, 4223, 4465, 4198, 4429, 4177, 4468, 4303, 4472, 4312, 4360, 4266, 4457, 4159, 4379, 4526, 4053, 4437, 4454, 4197, 4463, 4293, 4418, 4115, 4460, 4211, 4445, 4380, 4435, 4080, 4276, 4179, 4343, 4315, 4341, 4127, 4455, 4215, 4465, 4210, 4387, 4287, 4429, 4181, 4389, 4147, 4172, 4127, 4441, 4327, 4411, 4291, 4429, 4131, 4291, 4176, 4473, 4154, 4371, 4167, 4461, 4185, 4371, 4286, 4448, 4389, 4187, 4258, 4481, 4297, 4473, 4033, 4221, 4065, 4472, 4189, 4434, 4294, 4477, 4292, 4427, 4068, 4456, 4264, 4345, 4352, 4418, 4258, 4477, 4649, 3737, 4291, 4425, 4274, 4477, 4104, 4461, 4182, 4457, 4158, 4374, 4284, 4460, 4162, 4419, 4287, 4455, 4145, 4437, 4223, 4485, 4278, 4480, 4301, 4438, 4269, 4487, 4211, 4475, 4364, 4301, 4332, 4391, 4173, 4471, 3948, 4109, 4248, 4436, 4229, 4479, 4548, 4136, 4293, 4411, 4193, 4447, 4091, 4369, 4170, 4337, 4279, 4464, 4284, 4430, 4406, 4469, 4153, 4424, 4098, 4406, 4261, 4432, 4284, 4336, 4192, 4480, 4201, 4433, 4168, 4468, 4213, 4459, 4266, 4458, 4199, 4470, 4131, 4442, 4122, 4367, 4256, 4486, 4226, 4461, 4284, 4469, 4383, 4437, 4254, 4485, 4190, 4353, 4363, 4447, 4220, 4437, 4158, 4429, 4577, 4237, 3985, 4475, 3801, 3894, 4154, 4406, 4112, 4248, 4496, 4467, 4227, 4447, 4294, 4461, 4391, 4442, 4149, 4404, 4284, 4271, 4320, 4385, 4186, 4443, 4181, 4439, 4091, 4297, 4280, 4402, 4175, 4399, 4166, 4440, 4025, 4472, 4252, 4472, 4435, 4241, 4138, 4461, 4187, 4475, 4274, 4465, 4256, 4447, 4264, 4442, 4286, 4434, 4194, 4460, 4382, 4323, 4281, 4466, 4194, 4419, 4251, 4471, 4178, 4463, 4294, 4480, 4187, 4445, 4154, 4450, 4242, 4481, 4272, 4478, 4252, 4476, 4197, 4486, 4403, 4084, 4669, 4442, 4257, 4480, 4226, 4433, 4160, 4422, 4160, 4480, 4286, 4403, 4162, 4466, 4263, 4458, 3733, 4122, 4188, 4466, 4198, 4326, 4177, 4415, 4266, 4421, 4330, 4404, 4194, 4428, 4198, 4379, 4050, 4472, 4033, 4400, 4267, 4399, 4191, 4463, 4182, 4375, 4329, 4473, 4005, 4329, 4091, 4404, 4107, 4343, 4270, 4472, 4194, 4474, 4160, 4464, 4082, 4447, 4173, 4457, 4099, 4355, 4291, 4442, 4201, 4443, 4273, 4469, 4278, 4485, 4186, 4471, 4303, 4335, 4293, 4418, 4212, 4456, 4121, 4437, 4125, 4327, 4313, 4476, 4059, 4204, 4263, 4454, 4160, 4456, 4118, 4373, 4120, 4328, 4054, 4195, 4252, 4474, 4285, 4424, 4165, 4448, 4262, 4456, 4285, 4469, 4374, 4233, 3965, 4395, 4162, 4359, 4198, 4409, 4413, 4232, 4273, 4472, 4353, 4407, 4492, 4238, 4150, 4472, 4279, 4460, 4165, 4457, 4037, 4431, 4256, 4452, 4241, 4459, 4085, 4249, 4180, 4464, 4275, 4439, 4166, 4421, 4223, 4486, 4262, 4435, 4073, 4328, 4176, 4473, 4160, 4430, 4202, 4447, 4435, 4412, 4246, 4477, 4219, 4459, 4392, 4371, 4059, 4383, 4572, 3944, 4368, 4412, 4131, 4459, 4402, 4378, 4385, 4458, 4271, 4463, 4204, 4465, 4293, 4436, 4385, 4416, 4245, 4469, 4323, 4476, 4291, 4450, 4189, 4453, 4107, 4395, 4139, 4423, 4051, 4337, 4154, 4453, 4294, 4436, 4214, 4466, 4173, 4445, 4379, 4258, 4255, 4475, 4264, 4402, 4256, 4473, 4203, 4482, 4178, 4432, 4090, 4343, 4230, 4467, 4142, 4196, 4130, 4392, 4314, 4477, 4343, 4457, 4317, 4447, 4270, 4440, 4240, 4467, 4260, 4484, 4384, 4464, 4305, 4424, 4150, 4449, 4281, 4427, 4193, 4459, 4154, 4402, 4263, 4471, 4171, 4300, 4014, 4448, 4287, 4412, 4312, 4468, 4362, 4435, 4440, 4460, 4436, 4049, 4265, 4478, 4337, 4397, 4434, 4409, 4296, 4460, 4306, 4432, 4543, 4149, 4144, 4469, 4206, 4461, 4307, 4366, 4283, 4462, 4284, 4326, 4070, 4355, 4122, 4387, 4479, 4380, 4247, 4454, 4204, 4476, 4170, 4383, 4314, 4461, 4329, 4474, 4209, 4470, 4096, 4393, 4283, 4401, 4185, 4478, 3970, 4477, 4199, 4476, 4451, 4383, 4373, 4464, 4132, 4465, 4137, 4309, 4323, 4416, 4164, 4472, 4165, 4477, 4308, 4423, 4284, 4464, 4164, 4342, 4212, 4485, 4116, 4432, 4171, 4445, 4141, 4476, 4176, 4447, 4196, 4439, 4232, 4481, 4277, 4433, 4319, 4464, 4272, 4473, 4022, 4097, 4197, 4425, 4097, 4421, 4278, 4453, 4270, 4456, 4328, 4372, 3843, 3934, 4327, 4229, 4134, 4474, 4376, 4339, 4202, 4480, 4128, 4386, 4273, 4468, 4286, 4472, 3956, 4221, 4279, 4465, 4140, 4449, 4343, 4272, 4310, 4359, 4387, 4156, 4370, 4291, 4172, 4379, 4093, 4034, 4031, 4317, 4172, 4415, 4210, 4441, 4242, 4474, 4135, 4467, 4122, 4407, 4067, 4149, 4287, 4456, 4191, 4446, 4282, 4478, 4120, 4393, 4184, 4454, 4127, 4458, 4366, 4255, 4181, 4409, 4221, 4451, 4156, 4366, 4337, 4447, 4318, 4278, 4318, 4410, 4104, 4391, 4292, 4459, 4223, 4487, 4196, 4418, 4176, 4469, 4334, 4456, 4475, 4460, 4331, 4364, 4181, 4459, 4107, 4463, 4271, 4453, 4253, 4480, 4096, 4371, 4205, 4407, 4062, 4187, 4189, 4468, 4235, 4487, 4204, 4484, 4243, 4466, 4267, 4388, 4169, 4328, 4177, 4358, 4060, 4278, 4143, 4225, 4128, 4438, 4273, 4395, 4155, 4340, 4198, 4441, 4379, 4439, 4377, 4376, 4196, 4471, 4267, 4478, 4093, 4428, 4174, 4433, 4283, 4486, 4294, 4457, 4140, 4444, 4287, 4452, 4321, 4413, 4088, 4435, 4424, 4449, 4279, 4410, 4305, 4410, 4085, 4476, 4366, 4436, 4139, 4425, 4196, 4470, 4160, 4463, 4311, 4379, 4348, 4467, 4156, 4443, 4344, 4354, 4270, 4373, 4354, 4342, 4202, 4365, 4105, 4118, 4143, 4437, 4165, 4421, 4185, 4429, 4187, 4470, 4033, 4457, 4040, 4476, 4214, 4416, 4173, 4437, 4304, 4448, 4315, 4307, 4138, 4347, 4271, 4475, 4228, 4477, 4153, 4369, 4220, 4485, 4150, 4460, 4187, 4442, 4265, 4419, 4226, 4453, 4146, 4410, 4152, 4324, 4354, 4334, 4137, 4476, 4147, 4282, 4176, 4449, 4158, 4457, 4256, 4415, 4337, 4433, 4183, 4413, 4033, 4424, 4282, 4324, 4161, 4480, 4119, 4403, 4269, 4385, 4208, 4449, 4068, 3922, 4304, 4402, 4194, 4457, 4245, 4445, 4330, 4449, 4181, 4454, 4417, 4309, 4436, 4428, 4229, 4482, 4184, 4465, 4272, 4471, 4296, 4290, 4255, 4485, 4170, 4436, 4163, 4269, 4199, 4441, 4392, 4099, 4196, 4377, 4258, 4475, 4269, 4430, 4186, 4476, 4344, 4380, 4210, 4460, 4160, 4374, 4133, 4418, 4236, 4468, 4349, 4471, 4307, 4406, 4263, 4472, 4473, 4475, 4197, 4372, 4312, 4457, 4502, 4362, 4195, 4451, 4117, 4422, 4198, 4362, 4435, 4472, 4098, 4476, 4201, 4445, 4272, 4432, 4431, 4468, 4178, 4435, 4270, 4376, 4100, 4392, 4089, 4465, 4271, 4442, 4211, 4436, 4186, 4473, 4276, 4415, 4708, 4154, 4117, 4471, 4296, 4473, 4329, 4339, 4305, 4469, 4200, 4384, 4076, 4279, 4237, 4485, 4281, 4410, 4317, 4308, 4189, 4382, 4144, 4428, 4341, 4304, 4113, 4427, 4056, 4464, 4256, 4436, 4295, 4421, 4293, 4377, 4290, 4442, 4222, 4445, 4166, 4468, 4379, 4467, 4265, 4477, 4256, 4480, 4226, 4445, 4279, 4469, 4185, 4485, 4341, 4367, 4001, 4414, 4181, 4454, 4182, 4409, 4309, 4334, 4192, 4452, 4140, 4315, 4197, 4411, 4143, 4050, 4266, 4455, 4209, 4469, 4165, 4383, 4220, 4453, 4131, 4457, 4178, 4434, 4144, 4435, 4167, 4461, 4330, 4404, 4220, 4429, 4324, 4408, 4179, 4394, 4331, 4407, 4286, 4388, 4338, 4459, 4227, 4430, 4276, 4473, 4260, 4480, 4167, 4435, 4303, 4440, 4288, 4464, 4023, 4386, 4227, 4469, 4269, 4476, 4187, 4434, 4265, 4436, 4386, 4462, 4180, 4471, 4319, 4396, 4448, 4424, 4178, 4415, 4333, 4476, 4201, 4341, 4306, 4436, 4315, 4388, 4106, 4466, 4108, 4397, 4120, 4163, 4285, 4384, 4246, 4484, 4150, 4346, 4289, 4297, 4293, 4475, 4389, 4331, 4095, 3989, 4319, 4353, 4249, 4475, 4220, 4433, 4291, 4411, 4298, 4460, 4242, 4485, 4033, 4279, 4148, 4383, 4066, 4463, 4225, 4468, 4280, 4463, 4081, 4381, 4247, 4453, 4122, 4463, 4434, 4140, 4118, 4460, 4376, 4143, 4259, 4445, 4167, 4369, 4532, 4457, 4190, 4474, 4079, 4316, 4285, 4423, 4043, 4353, 4149, 4423, 4199, 4451, 4210, 4485, 4181, 4355, 4177, 4468, 4332, 4432, 4054, 4353, 4187, 4436, 4262, 4473, 4121, 4169, 4323, 4463, 4300, 4446, 4325, 4401, 4126, 4468, 4312, 4444, 4271, 4469, 4183, 4394, 4114, 4413, 4259, 4483, 4079, 4154, 4177, 4280, 4175, 4463, 4106, 4371, 4115, 4453, 3930, 4456, 4114, 4458, 4297, 4390, 4350, 4409, 4361, 4379, 4179, 4367, 4135, 4385, 4339, 4441, 4296, 4356, 4305, 4469, 4297, 4428, 4161, 4463, 4272, 4454, 4226, 4469, 4194, 4462, 4349, 4353, 4162, 4473, 4331, 4470, 4143, 4440, 3993, 4129, 4159, 4458, 4329, 4345, 4197, 4452, 4311, 4398, 4266, 4403, 4277, 4478, 4439, 4335, 4088, 4403, 4350, 4389, 4385, 4454, 4246, 4462, 4132, 4438, 4494, 4223, 4292, 4416, 4164, 4457, 4162, 4454, 4275, 4470, 4365, 4409, 4408, 4380, 4304, 4470, 4178, 4217, 4133, 4400, 4311, 4440, 4321, 4422, 4410, 4417, 4158, 4455, 4200, 4443, 4013, 4097, 4263, 4452, 4319, 4424, 4125, 4365, 4356, 4481, 4339, 4292, 4068, 4209, 4389, 4082, 4187, 4480, 4207, 4447, 4201, 4428, 4199, 4451, 4042, 4322, 4098, 4411, 4216, 4470, 4289, 4485, 4190, 4435, 4377, 3888, 4076, 4409, 4200, 4466, 4211, 4471, 4165, 4415, 4250, 4477, 4223, 4486, 4286, 4462, 4205, 4464, 4424, 4277, 4251, 4425, 4108, 4457, 4309, 4449, 4107, 4460, 4287, 4450, 4281, 4476, 4306, 4405, 4291, 4453, 4124, 4424, 4027, 4296, 4164, 4127, 4339, 4450, 4265, 4468, 4170, 4474, 4194, 4454, 4180, 4332, 4112, 4476, 4249, 4458, 4246, 4478, 4271, 4462, 4142, 4449, 4135, 4439, 4263, 4409, 4348, 4399, 3674, 3974, 4159, 4373, 4165, 4384, 4091, 4148, 4260, 4443, 4332, 4380, 4262, 4464, 4467, 4198, 4201, 4464, 4292, 4476, 4155, 4447, 4305, 4413, 4318, 4352, 4127, 4455, 4166, 4457, 4430, 4325, 4251, 4465, 4180, 4416, 4380, 4425, 4330, 4471, 4293, 4365, 4156, 4470, 4189, 4390, 4335, 4399, 4131, 4470, 4317, 4463, 4205, 4325, 4276, 4417, 4089, 4466, 4162, 4463, 4047, 4453, 4183, 4418, 4468, 4304, 4192, 4461, 4093, 4323, 4207, 4434, 4290, 4471, 4318, 4467, 4182, 4386, 4191, 4470, 4279, 4461, 4324, 4433, 4139, 4441, 4218, 4466, 4235, 4430, 4151, 4151, 4259, 4471, 4256, 4466, 4288, 4475, 4195, 4421, 4158, 4446, 4180, 4365, 4273, 4468, 4364, 4436, 4347, 4365, 4405, 4406, 4111, 4434, 4328, 4418, 4344, 4414, 4223, 4464, 4175, 4369, 4203, 4470, 4136, 4474, 4186, 4341, 4176, 4428, 4220, 4436, 4121, 4478, 4301, 4451, 4204, 4455, 4190, 4393, 4134, 4454, 4006, 4228, 4388, 4401, 4077, 3816, 4155, 4435, 4249, 4438, 4396, 4391, 4221, 4427, 4287, 4480, 4264, 4466, 4121, 4380, 4251, 4474, 4343, 4433, 4255, 4464, 4164, 4468, 4158, 4315, 4292, 4429, 4282, 4481, 4201, 4472, 4282, 4468, 4258, 4445, 4179, 4432, 4328, 4422, 3995, 4460, 4199, 4449, 4254, 4472, 4213, 4474, 4302, 4469, 4081, 4290, 4148, 4441, 4348, 4409, 4224, 4443, 4166, 4362, 4288, 4459, 4189, 4473, 4354, 4456, 4140, 4303, 4135, 4440, 4267, 4425, 4157, 4342, 4357, 4322, 4190, 4265, 4187, 4398, 4297, 4219, 4194, 4412, 4258, 4467, 4155, 4165, 4339, 4454, 4440, 4366, 4191, 4381, 4153, 4447, 4066, 4300, 4173, 4427, 4293, 4398, 4344, 4438, 4088, 4462, 4336, 4278, 4323, 4472, 4326, 4475, 4199, 4421, 4212, 4389, 4206, 4471, 4308, 4428, 4262, 4420, 4162, 4433, 4279, 4474, 4221, 4451, 4130, 4408, 4282, 4449, 4108, 4320, 4308, 4408, 4221, 4466, 4235, 4481, 4028, 4368, 4183, 4399, 4197, 4439, 4046, 4467, 4279, 4468, 4377, 4457, 4080, 3681, 4288, 4380, 4204, 4447, 4357, 4207, 4215, 4432, 4124, 4434, 4247, 4477, 4274, 4426, 4037, 4414, 4209, 4401, 4205, 4439, 4312, 4481, 4136, 4476, 4015, 4469, 4033, 4207, 4382, 4448, 4182, 4476, 4053, 4461, 4318, 4433, 4200, 4418, 4249, 4459, 4100, 4384, 4174, 4471, 4209, 4434, 4224, 4466, 4256, 4420, 4259, 4411, 4176, 4415, 4261, 4465, 4296, 4361, 4373, 4475, 4185, 4408, 4164, 4411, 4314, 4453, 4302, 4468, 4201, 4428, 4478, 4251, 4268, 4444, 4237, 4449, 4465, 4292, 4231, 4472, 4155, 4396, 4077, 4467, 4201, 4452, 4260, 4482, 4035, 3892, 4154, 4464, 4187, 4391, 4324, 4464, 4108, 4463, 4267, 4466, 4263, 4478, 4165, 4458, 4170, 4475, 4323, 4396, 4298, 4466, 4274, 4384, 4100, 4421, 3918, 4184, 4244, 4461, 4142, 4460, 4353, 4424, 4208, 4450, 4471, 4347, 4408, 4236, 4376, 4378, 4273, 4481, 4271, 4432, 4152, 4305, 4190, 4470, 4174, 4476, 4058, 4452, 4121, 4420, 4263, 4483, 4122, 4396, 4105, 4440, 4087, 4337, 4252, 4453, 4190, 4412, 4207, 4450, 4278, 4476, 4208, 4477, 4108, 4408, 4092, 4402, 4568, 4259, 4158, 4395, 4298, 4450, 4171, 4370, 4272, 4459, 4047, 4342, 4223, 4486, 4392, 4442, 4197, 4446, 4182, 4315, 4284, 4417, 4189, 4438, 4103, 4134, 4180, 4377, 4135, 4427, 4098, 4259, 4348, 4321, 4099, 4438, 4150, 4387, 4268, 4477, 4299, 4430, 4337, 4406, 4240, 4479, 4285, 4450, 4256, 4483, 4289, 4415, 4219, 4425, 4226, 4483, 4167, 4340, 4137, 4471, 4133, 4173, 4163, 4448, 4110, 4457, 4196, 4418, 4252, 4477, 4277, 4345, 4185, 4460, 4319, 4446, 4029, 4387, 4411, 4435, 4133, 4464, 4327, 4407, 4345, 4464, 4230, 4472, 4204, 4465, 4207, 4476, 4106, 4284, 4065, 4471, 4292, 4484, 4136, 4218, 4251, 4477, 4280, 4482, 4317, 4389, 4021, 4216, 4270, 4481, 4194, 4454, 4689, 4122, 4154, 4475, 4266, 4469, 4077, 4269, 3809, 4195, 4396, 4210, 4084, 4440, 4178, 4475, 4120, 4288, 4414, 4378, 4259, 4468, 4345, 4296, 4185, 4469, 4334, 4446, 4215, 4480, 4267, 4440, 4057, 4245, 4175, 4453, 4181, 4338, 4337, 4394, 4274, 4471, 4343, 4306, 4333, 4290, 4247, 4445, 4093, 4468, 4151, 4428, 4066, 4327, 4259, 4449, 4284, 4448, 4286, 4364, 4080, 4473, 4265, 4397, 4172, 4378, 4250, 4464, 4145, 4455, 3995, 3948, 4097, 4291, 4199, 4426, 4039, 4184, 4412, 4456, 4160, 4466, 4315, 4415, 4398, 4363, 4201, 4426, 4117, 4465, 4425, 4294, 4197, 4433, 4312, 4391, 4086, 4358, 4149, 4421, 4182, 4476, 4206, 4442, 4217, 4455, 4552, 3822, 4386, 4396, 3960, 4414, 4181, 4422, 4333, 4455, 4196, 4466, 4322, 4349, 4166, 4471, 3914, 4455, 4201, 4414, 4189, 4318, 4075, 4446, 4079, 4184, 4107, 3907, 4115, 4305, 4328, 4397, 4094, 4341, 4226, 4472, 4286, 4451, 4070, 4446, 4183, 4469, 4122, 4437, 4301, 4463, 4149, 4463, 4221, 4474, 4113, 4402, 4477, 4183, 4227, 4472, 4207, 4467, 4176, 4436, 4384, 4417, 4218, 4474, 4298, 4405, 4109, 4346, 4263, 4476, 4153, 4213, 4195, 4422, 4178, 4443, 4125, 4304, 4186, 4408, 4512, 4414, 4095, 4222, 4422, 4195, 4277, 4407, 4213, 4473, 4043, 4384, 4191, 4453, 4134, 4431, 4282, 4446, 4181, 4451, 4168, 4430, 4035, 4260, 4196, 4416, 4148, 4430, 4179, 4341, 4188, 4459, 4317, 4462, 4258, 4452, 4218, 4481, 4179, 4417, 4390, 4479, 4186, 4464, 4188, 4452, 4301, 4459, 4251, 4471, 4224, 4450, 4277, 4461, 4207, 4473, 4265, 4487, 4193, 4473, 4158, 4387, 4279, 4467, 4320, 4441, 4312, 4449, 4521, 4450, 4079, 4471, 4296, 4441, 4517, 4244, 4272, 4446, 4301, 4291, 4300, 4457, 4189, 4414, 4260, 4466, 4267, 4449, 4410, 4333, 4217, 4469, 4152, 4352, 4190, 4456, 4099, 4412, 4295, 4398, 4254, 4466, 4187, 4471, 4344, 4364, 4189, 4449, 4371, 4394, 4248, 4436, 4223, 4450, 4397, 4467, 4109, 4353, 4361, 4406, 4243, 4485, 4217, 4469, 3989, 3831, 4188, 4474, 4046, 4228, 4088, 4344, 4189, 4408, 4238, 4439, 4479, 4436, 4367, 4461, 4209, 4482, 4302, 4393, 4214, 4487, 4224, 4478, 4164, 4464, 4389, 4363, 4163, 4258, 4125, 4328, 4020, 4406, 4121, 4417, 4009, 4441, 4233, 4472, 4114, 4345, 4159, 4444, 4152, 4445, 4293, 4459, 4207, 4461, 4257, 4459, 4294, 4443, 4272, 4459, 4191, 4466, 4307, 4293, 4225, 4466, 4151, 4298, 4269, 4455, 4175, 4436, 4283, 4438, 4285, 4371, 4301, 4477, 4178, 4454, 3870, 4225, 4140, 4401, 4146, 4407, 4170, 4308, 4215, 4486, 4170, 4467, 4301, 4487, 4187, 4364, 4295, 4422, 4016, 4439, 4396, 4413, 4179, 4422, 4135, 4413, 4154, 4391, 4146, 4433, 4369, 4384, 4331, 4468, 4276, 4462, 4270, 4457, 4263, 4465, 4290, 4459, 4303, 4443, 4017, 4295, 3993, 4256, 4334, 4388, 4247, 4478, 4066, 4354, 4191, 4469, 4202, 4392, 4187, 4465, 4242, 4481, 4324, 4440, 4148, 4465, 4066, 4447, 4300, 4379, 4318, 4298, 4388, 4374, 3987, 4298, 4304, 4428, 3511, 3999, 4200, 4416, 4261, 4468, 4026, 4478, 4201, 4465, 4162, 4466, 4293, 4422, 4195, 4472, 4132, 4387, 4048, 4389, 4226, 4462, 4246, 4460, 4310, 4475, 4202, 4451, 4246, 4481, 4257, 4470, 4252, 4451, 4186, 4472, 4210, 4429, 4324, 4394, 4234, 4480, 4113, 4453, 4212, 4476, 4303, 4467, 4191, 4433, 4093, 4394, 4072, 4333, 4196, 4476, 4145, 4305, 4252, 4476, 4235, 4483, 4362, 4330, 4265, 4461, 4308, 4433, 4204, 4454, 4116, 4334, 4156, 4437, 4068, 4306, 4137, 4236, 4400, 4367, 4181, 4424, 4154, 4464, 4203, 4378, 4178, 4403, 4118, 4458, 4293, 4363, 4279, 4462, 4110, 4429, 4085, 4226, 4156, 4436, 4183, 4476, 4132, 4424, 4151, 4464, 4456, 4338, 4299, 4469, 4101, 4202, 4103, 4457, 4270, 4401, 4334, 4422, 4265, 4424, 4263, 4471, 4113, 4417, 4162, 4471, 4100, 4385, 4285, 4465, 4142, 4465, 4181, 4432, 4204, 4445, 4118, 4434, 4279, 4431, 4285, 4305, 4339, 4468, 4127, 4190, 4194, 4469, 4120, 4421, 4227, 4447, 4137, 4433, 4229, 4466, 4395, 4328, 4327, 4420, 4180, 4476, 4248, 4420, 4308, 4476, 4034, 4126, 4316, 4343, 4393, 4391, 4274, 4474, 4342, 4462, 4248, 4459, 4193, 4444, 4316, 4425, 4136, 4316, 4131, 4457, 4088, 4337, 4210, 4406, 4085, 4436, 4122, 4422, 4199, 4472, 4039, 3680, 4119, 4311, 4152, 4406, 4144, 4370, 4220, 4468, 4364, 4316, 4132, 4402, 4522, 4368, 4334, 4478, 4291, 4447, 4034, 4336, 4264, 4449, 4218, 4453, 4282, 4452, 4338, 4451, 4262, 4456, 4152, 4463, 4331, 4459, 4144, 4468, 4077, 4450, 4192, 4448, 4286, 4415, 4252, 4461, 4124, 4441, 4142, 4470, 4172, 4484, 4195, 4460, 4151, 4478, 4229, 4468, 4353, 4434, 4193, 4446, 4359, 4402, 4181, 4394, 4024, 4319, 4267, 4470, 4168, 4407, 4337, 4354, 4270, 4468, 4204, 4469, 4301, 4408, 4166, 4450, 4305, 4430, 4069, 4392, 4156, 4426, 4192, 4427, 4123, 4472, 4274, 4441, 4442, 4234, 4222, 4462, 4140, 4390, 4285, 4358, 4182, 4414, 4201, 4466, 4315, 4466, 4138, 4415, 4315, 4437, 4081, 4471, 4507, 4402, 4221, 4422, 4448, 3963, 4031, 4360, 4215, 4475, 4150, 4234, 3764, 3629, 4194, 4445, 3886, 4335, 4167, 4362, 4204, 4457, 4426, 4236, 4223, 4482, 4164, 4438, 4178, 4374, 4194, 4422, 4185, 4447, 4164, 4467, 4480, 4098, 4142, 4464, 4318, 4476, 4190, 4463, 4389, 4397, 4282, 4411, 4330, 4340, 4141, 4357, 4264, 4468, 4219, 4428, 4124, 4344, 4286, 4435, 4296, 4314, 4236, 4484, 4218, 4465, 4164, 4464, 4269, 4485, 4160, 4436, 4302, 4452, 4273, 4444, 4160, 4344, 4444, 3738, 4136, 4474, 4203, 4415, 4280, 4393, 4362, 4328, 4211, 4456, 4213, 4459, 4231, 4463, 4424, 4175, 4261, 4421, 4295, 4378, 4275, 4451, 4180, 4443, 4281, 4473, 4127, 4335, 4149, 4125, 4184, 4466, 4083, 4430, 4219, 4462, 4413, 4379, 4290, 4471, 4400, 4227, 4104, 4372, 4302, 4411, 4341, 4406, 4184, 4440, 4162, 4472, 4119, 4376, 4263, 4446, 4206, 4461, 4183, 4451, 4127, 4282, 3993, 4445, 3997, 4437, 4136, 4255, 4225, 4461, 4286, 4474, 3804, 4468, 4031, 4154, 4345, 4358, 4386, 4419, 3941, 4226, 4175, 4333, 4087, 4469, 4145, 4440, 4200, 4464, 4317, 4367, 4188, 4455, 4160, 4402, 3976, 4198, 4162, 4469, 4265, 4476, 4080, 4302, 4346, 4457, 4698, 3852, 4403, 4308, 4114, 4443, 4423, 4332, 4197, 4416, 4220, 4477, 4182, 4468, 4358, 4221, 4472, 4407, 4096, 4379, 4182, 4460, 4304, 4414, 4054, 4476, 4108, 4412, 4393, 4460, 4089, 4467, 4242, 4473, 4274, 4373, 4310, 4453, 4230, 4450, 4337, 4283, 4165, 4413, 4278, 4481, 4281, 4485, 4104, 4272, 4152, 4476, 4202, 4451, 4131, 4355, 4337, 4367, 4348, 4360, 4199, 4447, 4198, 4471, 4056, 4245, 4269, 4481, 4145, 4352, 4147, 4237, 4211, 4456, 4350, 4395, 4158, 4485, 4247, 4475, 4230, 4482, 4283, 4353, 4209, 4464, 4329, 4446, 4237, 4448, 4435, 4473, 4173, 4473, 4177, 4415, 4327, 4455, 4131, 4405, 4308, 4439, 3784, 4090, 4168, 4183, 4335, 4319, 4185, 4447, 4284, 4440, 4346, 4454, 4008, 4187, 4211, 4407, 4280, 4370, 4338, 4401, 3969, 4268, 4216, 4436, 4314, 4482, 4141, 4428, 4419, 4352, 4192, 4430, 4196, 4431, 4240, 4447, 4114, 4445, 4219, 4429, 4267, 4470, 4094, 4174, 4192, 4425, 4287, 4378, 4189, 4431, 4223, 4485, 4159, 4479, 4298, 4415, 4086, 4404, 4372, 4461];ctx.fillStyle='#ff0000';
for(let i=0;i<RP.length;i+=2){ctx.beginPath();ctx.arc(RP[i]/10,RP[i+1]/10,0.95,0,6.2832);ctx.fill();}
</script>
</body></html>
